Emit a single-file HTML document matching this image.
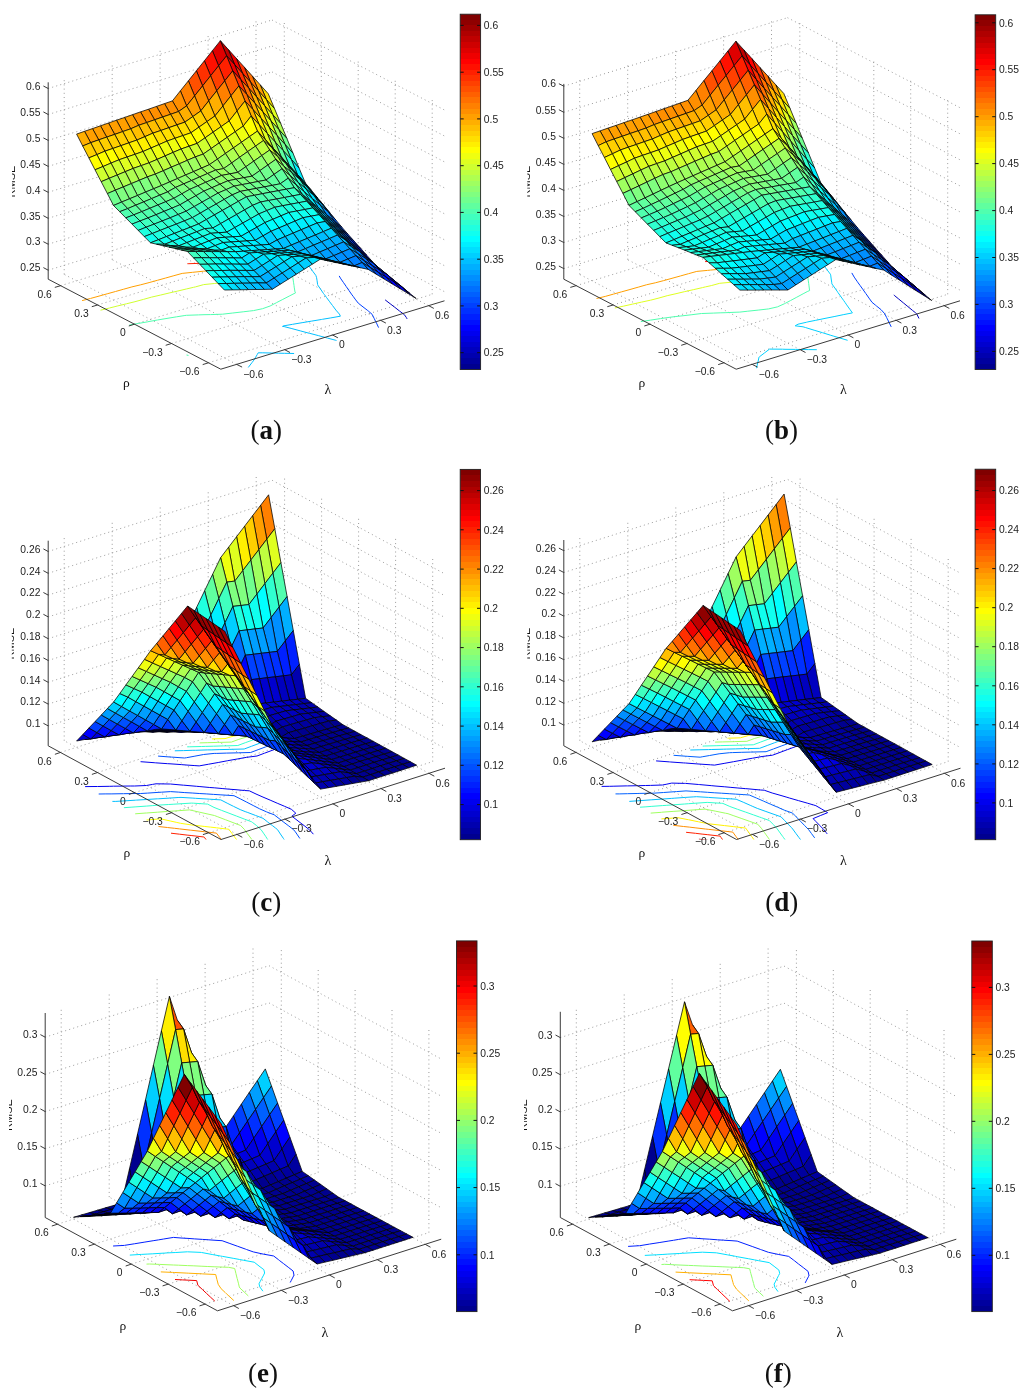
<!DOCTYPE html><html><head><meta charset="utf-8"><style>html,body{margin:0;padding:0;background:#fff;width:1024px;height:1391px;overflow:hidden}svg{display:block}</style></head><body>
<svg style="will-change:transform" width="1024" height="1391" viewBox="0 0 1024 1391">
<path d="M236.7 364.4L64.2 274.4M208.4 362.8L432.2 294.3M64.2 274.4L64.2 77.4M432.2 294.3L432.2 97.4M284.7 349.7L112.2 259.7M171.5 343.5L395.2 275M112.2 259.7L112.2 62.7M395.2 275L395.2 78.1M332.6 335L160.1 245M134.5 324.2L358.2 255.8M160.1 245L160.1 48M358.2 255.8L358.2 58.8M380.6 320.3L208.1 230.3M97.5 305L321.3 236.5M208.1 230.3L208.1 33.4M321.3 236.5L321.3 39.5M428.5 305.6L256 215.6M60.6 285.7L284.3 217.2M256 215.6L256 18.7M284.3 217.2L284.3 20.2M48.2 270.2L272 201.7M272 201.7L444.5 291.7M48.2 244.2L272 175.7M272 175.7L444.5 265.7M48.2 218.3L272 149.8M272 149.8L444.5 239.8M48.2 192.3L272 123.8M272 123.8L444.5 213.8M48.2 166.4L272 97.9M272 97.9L444.5 187.9M48.2 140.4L272 71.9M272 71.9L444.5 161.9M48.2 114.5L272 46M272 46L444.5 136M48.2 88.5L272 20M272 20L444.5 110" stroke="#9a9a9a" stroke-width="1" stroke-dasharray="1 3.2" fill="none"/>
<clipPath id="ca"><rect x="48.2" y="-30.8" width="396.2" height="400"/></clipPath>
<g clip-path="url(#ca)">
<path d="M407.1 318.9 406.4 317.6 404.3 314.6 399.5 311 394.8 307.3 390.1 303.7 385.3 300 385 299.8" stroke="#0000bf" stroke-width="1" fill="none"/>
<path d="M378.6 327.6 376.5 323.1 375.6 321.4 374.3 318.7 372.1 314.3 368.2 310.9 367.7 310.5 363 306.9 358.3 303.2 355.1 299.1 353.2 296.4 352 294.9 349.1 290.7 346.2 286.5 345.9 286 343.3 282.3 340.4 278.1 339.2 275.9" stroke="#0040ff" stroke-width="1" fill="none"/>
<path d="M248.3 367.5 248.3 367.4 251.9 362.7 253.3 360.9 255.3 357.8 257.2 354.6 258.2 352.8 262.8 352.8 271.4 353 278.4 353.2 284.6 353.3 294.1 353.5" stroke="#00bfff" stroke-width="1" fill="none"/>
<path d="M336.5 340.5 335.8 340.3 327.6 338.1 318.7 335.7 310 333.4 309.7 333.4 300.8 331 291.9 328.6 284.2 326.6 282.5 326.4 283.1 326 285.1 325.6 292.6 324.3 302.1 322.7 311.7 321.1 321.3 319.5 322.4 319.3 330.8 317.9 340.4 316.2 339.4 314.1 335.9 310.1 332.8 305.9 332.5 305.5 329.7 301.8 326.6 297.6 324.4 294.6 323.5 293.5 320.6 289.2 317.7 285 317.6 284.5 317 280.2 316.5 277.3 315.8 275.4 312.7 271.2 309.7 267.1 309.7 267.1 306.6 262.9 303.5 258.8 304 257.5" stroke="#00bfff" stroke-width="1" fill="none"/>
<path d="M187.9 355.8 188.3 355.3 186.5 355" stroke="#50ffaf" stroke-width="1" fill="none"/>
<path d="M129.2 325.1 138.6 323.4 147.8 321.8 148 321.7 157.4 320 167 318.4 176.7 316.8 184.9 315.5 186.4 315.3 198.4 314.9 204 314.7 210.4 314.6 222.4 314.2 222.4 314.2 232.8 313 243.2 311.8 249.2 311.1 253.5 310.6 262.6 308.7 270.1 306 276.1 302.9 276.4 302.7 282.8 299.4 289.2 296.1 295.6 292.8 295 292 294.2 287.1 294 285.4 293.5 282.2 292.9 278.2 292.8 277.4 290.9 272.8 288.2 269.2 287.8 268.7 284.8 264.5 286 261.4 287.1 258.7 288.2 255.9 289.3 252.9 290.2 250.4" stroke="#50ffaf" stroke-width="1" fill="none"/>
<path d="M100.5 310.2 109.2 308.1 109.5 308 117.8 305.9 126.4 303.8 135 301.7 143.4 299.4 151.6 297.1 160.4 295.1 169.1 293 177.9 291 186.7 288.9 193.6 287.3 195.4 286.9 203.7 284.6 214.3 283.5 224.9 282.4 226.9 282.2 235.9 281.6 247.1 280.8 248.8 280.6 258.2 279.9 269.3 279.1 268.6 274.6 266.7 271.2 266 270.2 268.1 265.3 268.4 264.4 270.3 259.8 270.8 258.6 272.5 254.3 273 252.8 274.5 248.8 275.1 247.1 276.5 243.2" stroke="#cfff30" stroke-width="1" fill="none"/>
<path d="M82.1 300.6 90.3 298.5 90.7 298.4 99 296.1 107.2 293.8 115.5 291.5 123.7 289.2 131.9 286.9 140.7 284.8 149.1 282.6 157.4 280.3 165.7 278 173.9 275.7 182.2 273.4 192.7 272.3 192.8 272.3 203.4 271.2 214.3 270.3 216.1 270.2 226.3 269.9 234.7 269.6 238.2 269.5 250.1 269.1 252.1 264.3 252.4 263.7 254.5 258.5 254.6 258.2 256.7 252.7 256.7 252.7 258.7 247.2 258.8 247 260.7 241.6 260.9 241.2" stroke="#ff9f00" stroke-width="1" fill="none"/>
<path d="M187.4 263.7 188.9 263.7 200.8 263.3 206.1 263.1 212.8 262.9 224.7 262.5 224.8 262.5 236.6 262.1 238.2 258.4 238.9 256.6 240.4 252.6 241 251.1 242.5 246.8" stroke="#ff2000" stroke-width="1" fill="none"/>
<path d="M214.8 255.3 223.1 255.1 224.1 252.5" stroke="#9f0000" stroke-width="1" fill="none"/>
</g>
<g stroke="#000" stroke-width="0.75" stroke-linejoin="round"><path d="M266.5 99.8L274.5 108.6L268.3 93.8L260.3 84.9Z" fill="#ffdf00"/><path d="M258.5 90.9L266.5 99.8L260.3 84.9L252.4 76.1Z" fill="#ff9f00"/><path d="M272.7 114.6L280.7 123.5L274.5 108.6L266.5 99.8Z" fill="#dfff20"/><path d="M250.5 82.1L258.5 90.9L252.4 76.1L244.4 67.2Z" fill="#ff7000"/><path d="M264.7 105.8L272.7 114.6L266.5 99.8L258.5 90.9Z" fill="#ffdf00"/><path d="M278.8 129.5L286.8 138.3L280.7 123.5L272.7 114.6Z" fill="#afff50"/><path d="M242.5 73.3L250.5 82.1L244.4 67.2L236.4 58.4Z" fill="#ff3000"/><path d="M256.7 97L264.7 105.8L258.5 90.9L250.5 82.1Z" fill="#ff9f00"/><path d="M270.8 120.7L278.8 129.5L272.7 114.6L264.7 105.8Z" fill="#dfff20"/><path d="M285 144.4L293 153.2L286.8 138.3L278.8 129.5Z" fill="#70ff8f"/><path d="M234.5 64.4L242.5 73.3L236.4 58.4L228.4 49.6Z" fill="#ef0000"/><path d="M248.7 88.1L256.7 97L250.5 82.1L242.5 73.3Z" fill="#ff7000"/><path d="M262.8 111.8L270.8 120.7L264.7 105.8L256.7 97Z" fill="#ffdf00"/><path d="M277 135.5L285 144.4L278.8 129.5L270.8 120.7Z" fill="#9fff60"/><path d="M291.2 159.2L299.1 168.1L293 153.2L285 144.4Z" fill="#30ffcf"/><path d="M226.6 55.8L234.5 64.4L228.4 49.6L220.4 40.7Z" fill="#bf0000"/><path d="M240.7 79.5L248.7 88.1L242.5 73.3L234.5 64.4Z" fill="#ff3000"/><path d="M254.9 103.2L262.8 111.8L256.7 97L248.7 88.1Z" fill="#ffaf00"/><path d="M269 126.9L277 135.5L270.8 120.7L262.8 111.8Z" fill="#dfff20"/><path d="M283.2 150.6L291.2 159.2L285 144.4L277 135.5Z" fill="#70ff8f"/><path d="M297.3 174.3L305.3 182.9L299.1 168.1L291.2 159.2Z" fill="#00efff"/><path d="M218.6 65.8L226.6 55.8L220.4 40.7L212.4 50.7Z" fill="#df0000"/><path d="M232.7 70.9L240.7 79.5L234.5 64.4L226.6 55.8Z" fill="#ef0000"/><path d="M246.9 94.6L254.9 103.2L248.7 88.1L240.7 79.5Z" fill="#ff7000"/><path d="M261 118.3L269 126.9L262.8 111.8L254.9 103.2Z" fill="#ffdf00"/><path d="M275.2 142L283.2 150.6L277 135.5L269 126.9Z" fill="#9fff60"/><path d="M289.3 165.6L297.3 174.3L291.2 159.2L283.2 150.6Z" fill="#30ffcf"/><path d="M303.5 181.8L311.5 190.4L305.3 182.9L297.3 174.3Z" fill="#00dfff"/><path d="M210.6 75.8L218.6 65.8L212.4 50.7L204.4 60.8Z" fill="#ff1000"/><path d="M224.7 80.9L232.7 70.9L226.6 55.8L218.6 65.8Z" fill="#ff2000"/><path d="M238.9 85.9L246.9 94.6L240.7 79.5L232.7 70.9Z" fill="#ff3000"/><path d="M253 109.6L261 118.3L254.9 103.2L246.9 94.6Z" fill="#ffaf00"/><path d="M267.2 133.3L275.2 142L269 126.9L261 118.3Z" fill="#dfff20"/><path d="M281.3 157L289.3 165.6L283.2 150.6L275.2 142Z" fill="#60ff9f"/><path d="M295.5 173.1L303.5 181.8L297.3 174.3L289.3 165.6Z" fill="#10ffef"/><path d="M309.6 189.2L317.6 197.9L311.5 190.4L303.5 181.8Z" fill="#00bfff"/><path d="M202.6 85.9L210.6 75.8L204.4 60.8L196.4 70.8Z" fill="#ff3000"/><path d="M216.7 90.9L224.7 80.9L218.6 65.8L210.6 75.8Z" fill="#ff4000"/><path d="M230.9 95.9L238.9 85.9L232.7 70.9L224.7 80.9Z" fill="#ff6000"/><path d="M245 101L253 109.6L246.9 94.6L238.9 85.9Z" fill="#ff7000"/><path d="M259.2 124.7L267.2 133.3L261 118.3L253 109.6Z" fill="#ffef00"/><path d="M273.3 148.4L281.3 157L275.2 142L267.2 133.3Z" fill="#9fff60"/><path d="M194.6 95.9L202.6 85.9L196.4 70.8L188.4 80.8Z" fill="#ff5000"/><path d="M287.5 164.5L295.5 173.1L289.3 165.6L281.3 157Z" fill="#50ffaf"/><path d="M301.6 180.6L309.6 189.2L303.5 181.8L295.5 173.1Z" fill="#00ffff"/><path d="M208.7 100.9L216.7 90.9L210.6 75.8L202.6 85.9Z" fill="#ff7000"/><path d="M315.8 196.7L323.8 205.3L317.6 197.9L309.6 189.2Z" fill="#00afff"/><path d="M222.9 106L230.9 95.9L224.7 80.9L216.7 90.9Z" fill="#ff8000"/><path d="M237 111L245 101L238.9 85.9L230.9 95.9Z" fill="#ff9f00"/><path d="M186.6 105.9L194.6 95.9L188.4 80.8L180.4 90.8Z" fill="#ff8000"/><path d="M251.2 116L259.2 124.7L253 109.6L245 101Z" fill="#ffaf00"/><path d="M265.3 139.7L273.3 148.4L267.2 133.3L259.2 124.7Z" fill="#dfff20"/><path d="M279.5 155.9L287.5 164.5L281.3 157L273.3 148.4Z" fill="#8fff70"/><path d="M200.8 110.9L208.7 100.9L202.6 85.9L194.6 95.9Z" fill="#ff8f00"/><path d="M293.7 172L301.6 180.6L295.5 173.1L287.5 164.5Z" fill="#40ffbf"/><path d="M307.8 188.1L315.8 196.7L309.6 189.2L301.6 180.6Z" fill="#00efff"/><path d="M214.9 116L222.9 106L216.7 90.9L208.7 100.9Z" fill="#ffaf00"/><path d="M322 204.2L329.9 212.8L323.8 205.3L315.8 196.7Z" fill="#009fff"/><path d="M229.1 121L237 111L230.9 95.9L222.9 106Z" fill="#ffbf00"/><path d="M178.6 111.5L186.6 105.9L180.4 90.8L172.4 100.9Z" fill="#ff8f00"/><path d="M243.2 126.1L251.2 116L245 101L237 111Z" fill="#ffcf00"/><path d="M257.4 131.1L265.3 139.7L259.2 124.7L251.2 116Z" fill="#ffef00"/><path d="M192.8 116.6L200.8 110.9L194.6 95.9L186.6 105.9Z" fill="#ff9f00"/><path d="M271.5 147.2L279.5 155.9L273.3 148.4L265.3 139.7Z" fill="#bfff40"/><path d="M285.7 163.3L293.7 172L287.5 164.5L279.5 155.9Z" fill="#70ff8f"/><path d="M206.9 121.6L214.9 116L208.7 100.9L200.8 110.9Z" fill="#ffbf00"/><path d="M299.8 179.4L307.8 188.1L301.6 180.6L293.7 172Z" fill="#20ffdf"/><path d="M221.1 126.6L229.1 121L222.9 106L214.9 116Z" fill="#ffcf00"/><path d="M314 195.5L322 204.2L315.8 196.7L307.8 188.1Z" fill="#00cfff"/><path d="M328.1 211.6L336.1 220.3L329.9 212.8L322 204.2Z" fill="#0080ff"/><path d="M170.6 114.3L178.6 111.5L172.4 100.9L164.5 103.6Z" fill="#ff8f00"/><path d="M235.2 131.7L243.2 126.1L237 111L229.1 121Z" fill="#ffef00"/><path d="M184.8 122.2L192.8 116.6L186.6 105.9L178.6 111.5Z" fill="#ffaf00"/><path d="M249.4 136.7L257.4 131.1L251.2 116L243.2 126.1Z" fill="#ffff00"/><path d="M263.5 140.5L271.5 147.2L265.3 139.7L257.4 131.1Z" fill="#efff10"/><path d="M198.9 127.2L206.9 121.6L200.8 110.9L192.8 116.6Z" fill="#ffcf00"/><path d="M277.7 156.6L285.7 163.3L279.5 155.9L271.5 147.2Z" fill="#9fff60"/><path d="M213.1 132.2L221.1 126.6L214.9 116L206.9 121.6Z" fill="#ffdf00"/><path d="M291.8 172.7L299.8 179.4L293.7 172L285.7 163.3Z" fill="#50ffaf"/><path d="M306 188.9L314 195.5L307.8 188.1L299.8 179.4Z" fill="#00ffff"/><path d="M162.6 117L170.6 114.3L164.5 103.6L156.5 106.4Z" fill="#ff8f00"/><path d="M227.2 137.3L235.2 131.7L229.1 121L221.1 126.6Z" fill="#ffff00"/><path d="M320.1 205L328.1 211.6L322 204.2L314 195.5Z" fill="#00afff"/><path d="M334.3 221.1L342.3 227.7L336.1 220.3L328.1 211.6Z" fill="#0060ff"/><path d="M176.8 124.9L184.8 122.2L178.6 111.5L170.6 114.3Z" fill="#ffaf00"/><path d="M241.4 142.3L249.4 136.7L243.2 126.1L235.2 131.7Z" fill="#efff10"/><path d="M190.9 132.8L198.9 127.2L192.8 116.6L184.8 122.2Z" fill="#ffdf00"/><path d="M255.5 146.1L263.5 140.5L257.4 131.1L249.4 136.7Z" fill="#dfff20"/><path d="M205.1 137.8L213.1 132.2L206.9 121.6L198.9 127.2Z" fill="#ffef00"/><path d="M269.7 150L277.7 156.6L271.5 147.2L263.5 140.5Z" fill="#cfff30"/><path d="M283.8 166.1L291.8 172.7L285.7 163.3L277.7 156.6Z" fill="#80ff80"/><path d="M219.2 142.9L227.2 137.3L221.1 126.6L213.1 132.2Z" fill="#efff10"/><path d="M154.6 119.8L162.6 117L156.5 106.4L148.5 109.2Z" fill="#ff8f00"/><path d="M298 182.2L306 188.9L299.8 179.4L291.8 172.7Z" fill="#30ffcf"/><path d="M312.1 198.3L320.1 205L314 195.5L306 188.9Z" fill="#00dfff"/><path d="M168.8 127.7L176.8 124.9L170.6 114.3L162.6 117Z" fill="#ffbf00"/><path d="M233.4 147.9L241.4 142.3L235.2 131.7L227.2 137.3Z" fill="#dfff20"/><path d="M326.3 214.4L334.3 221.1L328.1 211.6L320.1 205Z" fill="#008fff"/><path d="M182.9 135.6L190.9 132.8L184.8 122.2L176.8 124.9Z" fill="#ffdf00"/><path d="M340.4 228L348.4 234.7L342.3 227.7L334.3 221.1Z" fill="#0050ff"/><path d="M247.5 151.7L255.5 146.1L249.4 136.7L241.4 142.3Z" fill="#cfff30"/><path d="M197.1 143.4L205.1 137.8L198.9 127.2L190.9 132.8Z" fill="#ffff00"/><path d="M261.7 155.6L269.7 150L263.5 140.5L255.5 146.1Z" fill="#bfff40"/><path d="M211.2 148.5L219.2 142.9L213.1 132.2L205.1 137.8Z" fill="#dfff20"/><path d="M275.8 159.4L283.8 166.1L277.7 156.6L269.7 150Z" fill="#afff50"/><path d="M146.6 122.6L154.6 119.8L148.5 109.2L140.5 111.9Z" fill="#ff8f00"/><path d="M290 175.5L298 182.2L291.8 172.7L283.8 166.1Z" fill="#60ff9f"/><path d="M225.4 153.5L233.4 147.9L227.2 137.3L219.2 142.9Z" fill="#cfff30"/><path d="M160.8 130.5L168.8 127.7L162.6 117L154.6 119.8Z" fill="#ffbf00"/><path d="M304.1 191.6L312.1 198.3L306 188.9L298 182.2Z" fill="#10ffef"/><path d="M318.3 207.7L326.3 214.4L320.1 205L312.1 198.3Z" fill="#00bfff"/><path d="M174.9 138.3L182.9 135.6L176.8 124.9L168.8 127.7Z" fill="#ffdf00"/><path d="M239.5 157.3L247.5 151.7L241.4 142.3L233.4 147.9Z" fill="#bfff40"/><path d="M332.4 221.3L340.4 228L334.3 221.1L326.3 214.4Z" fill="#0080ff"/><path d="M189.1 146.2L197.1 143.4L190.9 132.8L182.9 135.6Z" fill="#ffff00"/><path d="M253.7 161.2L261.7 155.6L255.5 146.1L247.5 151.7Z" fill="#afff50"/><path d="M346.6 234.9L354.6 241.6L348.4 234.7L340.4 228Z" fill="#0040ff"/><path d="M203.2 154.1L211.2 148.5L205.1 137.8L197.1 143.4Z" fill="#cfff30"/><path d="M138.7 125.3L146.6 122.6L140.5 111.9L132.5 114.7Z" fill="#ff8f00"/><path d="M267.8 165L275.8 159.4L269.7 150L261.7 155.6Z" fill="#9fff60"/><path d="M217.4 159.1L225.4 153.5L219.2 142.9L211.2 148.5Z" fill="#bfff40"/><path d="M282 168.8L290 175.5L283.8 166.1L275.8 159.4Z" fill="#8fff70"/><path d="M152.8 133.2L160.8 130.5L154.6 119.8L146.6 122.6Z" fill="#ffbf00"/><path d="M296.2 184.9L304.1 191.6L298 182.2L290 175.5Z" fill="#40ffbf"/><path d="M231.6 163L239.5 157.3L233.4 147.9L225.4 153.5Z" fill="#afff50"/><path d="M167 141.1L174.9 138.3L168.8 127.7L160.8 130.5Z" fill="#ffdf00"/><path d="M310.3 201L318.3 207.7L312.1 198.3L304.1 191.6Z" fill="#00efff"/><path d="M324.5 214.6L332.4 221.3L326.3 214.4L318.3 207.7Z" fill="#00afff"/><path d="M181.1 149L189.1 146.2L182.9 135.6L174.9 138.3Z" fill="#ffff00"/><path d="M245.7 166.8L253.7 161.2L247.5 151.7L239.5 157.3Z" fill="#9fff60"/><path d="M338.6 228.2L346.6 234.9L340.4 228L332.4 221.3Z" fill="#0070ff"/><path d="M195.3 156.9L203.2 154.1L197.1 143.4L189.1 146.2Z" fill="#cfff30"/><path d="M259.9 170.6L267.8 165L261.7 155.6L253.7 161.2Z" fill="#8fff70"/><path d="M130.7 128.8L138.7 125.3L132.5 114.7L124.5 117.5Z" fill="#ff9f00"/><path d="M352.8 241.8L360.8 248.5L354.6 241.6L346.6 234.9Z" fill="#0030ff"/><path d="M209.4 164.7L217.4 159.1L211.2 148.5L203.2 154.1Z" fill="#afff50"/><path d="M144.8 136.7L152.8 133.2L146.6 122.6L138.7 125.3Z" fill="#ffbf00"/><path d="M274 174.4L282 168.8L275.8 159.4L267.8 165Z" fill="#80ff80"/><path d="M223.6 168.6L231.6 163L225.4 153.5L217.4 159.1Z" fill="#9fff60"/><path d="M159 144.6L167 141.1L160.8 130.5L152.8 133.2Z" fill="#ffdf00"/><path d="M288.2 178.2L296.2 184.9L290 175.5L282 168.8Z" fill="#70ff8f"/><path d="M302.3 194.3L310.3 201L304.1 191.6L296.2 184.9Z" fill="#20ffdf"/><path d="M173.1 152.4L181.1 149L174.9 138.3L167 141.1Z" fill="#efff10"/><path d="M237.7 172.4L245.7 166.8L239.5 157.3L231.6 163Z" fill="#8fff70"/><path d="M316.5 207.9L324.5 214.6L318.3 207.7L310.3 201Z" fill="#00dfff"/><path d="M187.3 160.3L195.3 156.9L189.1 146.2L181.1 149Z" fill="#cfff30"/><path d="M330.6 221.6L338.6 228.2L332.4 221.3L324.5 214.6Z" fill="#009fff"/><path d="M251.9 176.2L259.9 170.6L253.7 161.2L245.7 166.8Z" fill="#80ff80"/><path d="M122.7 131.6L130.7 128.8L124.5 117.5L116.5 120.2Z" fill="#ff9f00"/><path d="M344.8 235.2L352.8 241.8L346.6 234.9L338.6 228.2Z" fill="#0060ff"/><path d="M201.4 168.2L209.4 164.7L203.2 154.1L195.3 156.9Z" fill="#afff50"/><path d="M266 180L274 174.4L267.8 165L259.9 170.6Z" fill="#70ff8f"/><path d="M136.8 140.1L144.8 136.7L138.7 125.3L130.7 128.8Z" fill="#ffbf00"/><path d="M358.9 248.8L366.9 255.4L360.8 248.5L352.8 241.8Z" fill="#0010ff"/><path d="M215.6 170.1L223.6 168.6L217.4 159.1L209.4 164.7Z" fill="#9fff60"/><path d="M151 148L159 144.6L152.8 133.2L144.8 136.7Z" fill="#ffef00"/><path d="M280.2 183.8L288.2 178.2L282 168.8L274 174.4Z" fill="#60ff9f"/><path d="M229.7 173.9L237.7 172.4L231.6 163L223.6 168.6Z" fill="#8fff70"/><path d="M165.1 155.9L173.1 152.4L167 141.1L159 144.6Z" fill="#efff10"/><path d="M294.3 187.7L302.3 194.3L296.2 184.9L288.2 178.2Z" fill="#50ffaf"/><path d="M308.5 201.3L316.5 207.9L310.3 201L302.3 194.3Z" fill="#10ffef"/><path d="M179.3 163.8L187.3 160.3L181.1 149L173.1 152.4Z" fill="#cfff30"/><path d="M243.9 177.7L251.9 176.2L245.7 166.8L237.7 172.4Z" fill="#80ff80"/><path d="M114.7 134.4L122.7 131.6L116.5 120.2L108.5 123Z" fill="#ff9f00"/><path d="M322.6 214.9L330.6 221.6L324.5 214.6L316.5 207.9Z" fill="#00cfff"/><path d="M193.4 171.7L201.4 168.2L195.3 156.9L187.3 160.3Z" fill="#9fff60"/><path d="M336.8 228.5L344.8 235.2L338.6 228.2L330.6 221.6Z" fill="#008fff"/><path d="M258 181.5L266 180L259.9 170.6L251.9 176.2Z" fill="#70ff8f"/><path d="M128.8 142.9L136.8 140.1L130.7 128.8L122.7 131.6Z" fill="#ffcf00"/><path d="M350.9 242.1L358.9 248.8L352.8 241.8L344.8 235.2Z" fill="#0040ff"/><path d="M207.6 173.5L215.6 170.1L209.4 164.7L201.4 168.2Z" fill="#9fff60"/><path d="M143 151.5L151 148L144.8 136.7L136.8 140.1Z" fill="#ffef00"/><path d="M272.2 185.4L280.2 183.8L274 174.4L266 180Z" fill="#60ff9f"/><path d="M365.1 255.7L373.1 262.4L366.9 255.4L358.9 248.8Z" fill="#0000ff"/><path d="M221.7 175.4L229.7 173.9L223.6 168.6L215.6 170.1Z" fill="#9fff60"/><path d="M157.1 159.4L165.1 155.9L159 144.6L151 148Z" fill="#efff10"/><path d="M286.3 189.2L294.3 187.7L288.2 178.2L280.2 183.8Z" fill="#50ffaf"/><path d="M171.3 167.2L179.3 163.8L173.1 152.4L165.1 155.9Z" fill="#bfff40"/><path d="M235.9 179.2L243.9 177.7L237.7 172.4L229.7 173.9Z" fill="#8fff70"/><path d="M300.5 194.4L308.5 201.3L302.3 194.3L294.3 187.7Z" fill="#40ffbf"/><path d="M106.7 137.1L114.7 134.4L108.5 123L100.5 125.8Z" fill="#ff9f00"/><path d="M314.6 208L322.6 214.9L316.5 207.9L308.5 201.3Z" fill="#00ffff"/><path d="M185.4 175.1L193.4 171.7L187.3 160.3L179.3 163.8Z" fill="#9fff60"/><path d="M250 183.1L258 181.5L251.9 176.2L243.9 177.7Z" fill="#80ff80"/><path d="M120.8 145.7L128.8 142.9L122.7 131.6L114.7 134.4Z" fill="#ffcf00"/><path d="M328.8 221.6L336.8 228.5L330.6 221.6L322.6 214.9Z" fill="#00bfff"/><path d="M199.6 177L207.6 173.5L201.4 168.2L193.4 171.7Z" fill="#9fff60"/><path d="M135 154.3L143 151.5L136.8 140.1L128.8 142.9Z" fill="#ffef00"/><path d="M342.9 235.2L350.9 242.1L344.8 235.2L336.8 228.5Z" fill="#0070ff"/><path d="M264.2 186.9L272.2 185.4L266 180L258 181.5Z" fill="#70ff8f"/><path d="M357.1 248.8L365.1 255.7L358.9 248.8L350.9 242.1Z" fill="#0030ff"/><path d="M149.1 162.8L157.1 159.4L151 148L143 151.5Z" fill="#dfff20"/><path d="M213.7 178.9L221.7 175.4L215.6 170.1L207.6 173.5Z" fill="#8fff70"/><path d="M278.3 190.7L286.3 189.2L280.2 183.8L272.2 185.4Z" fill="#60ff9f"/><path d="M371.2 262.4L379.2 269.3L373.1 262.4L365.1 255.7Z" fill="#0000ef"/><path d="M163.3 170.7L171.3 167.2L165.1 155.9L157.1 159.4Z" fill="#bfff40"/><path d="M227.9 180.8L235.9 179.2L229.7 173.9L221.7 175.4Z" fill="#8fff70"/><path d="M98.7 139.9L106.7 137.1L100.5 125.8L92.5 128.6Z" fill="#ff9f00"/><path d="M292.5 195.9L300.5 194.4L294.3 187.7L286.3 189.2Z" fill="#40ffbf"/><path d="M177.4 178.6L185.4 175.1L179.3 163.8L171.3 167.2Z" fill="#9fff60"/><path d="M306.6 201.2L314.6 208L308.5 201.3L300.5 194.4Z" fill="#30ffcf"/><path d="M242 184.6L250 183.1L243.9 177.7L235.9 179.2Z" fill="#80ff80"/><path d="M112.8 148.5L120.8 145.7L114.7 134.4L106.7 137.1Z" fill="#ffcf00"/><path d="M191.6 180.5L199.6 177L193.4 171.7L185.4 175.1Z" fill="#8fff70"/><path d="M320.8 214.8L328.8 221.6L322.6 214.9L314.6 208Z" fill="#00efff"/><path d="M127 157L135 154.3L128.8 142.9L120.8 145.7Z" fill="#ffef00"/><path d="M256.2 188.4L264.2 186.9L258 181.5L250 183.1Z" fill="#70ff8f"/><path d="M334.9 228.4L342.9 235.2L336.8 228.5L328.8 221.6Z" fill="#009fff"/><path d="M141.2 165.6L149.1 162.8L143 151.5L135 154.3Z" fill="#dfff20"/><path d="M205.7 182.3L213.7 178.9L207.6 173.5L199.6 177Z" fill="#8fff70"/><path d="M349.1 242L357.1 248.8L350.9 242.1L342.9 235.2Z" fill="#0060ff"/><path d="M270.3 192.2L278.3 190.7L272.2 185.4L264.2 186.9Z" fill="#60ff9f"/><path d="M155.3 174.1L163.3 170.7L157.1 159.4L149.1 162.8Z" fill="#bfff40"/><path d="M363.2 255.6L371.2 262.4L365.1 255.7L357.1 248.8Z" fill="#0020ff"/><path d="M219.9 184.2L227.9 180.8L221.7 175.4L213.7 178.9Z" fill="#8fff70"/><path d="M90.7 142.7L98.7 139.9L92.5 128.6L84.5 131.3Z" fill="#ff9f00"/><path d="M284.5 197.5L292.5 195.9L286.3 189.2L278.3 190.7Z" fill="#40ffbf"/><path d="M377.4 267.3L385.4 274.2L379.2 269.3L371.2 262.4Z" fill="#0000ef"/><path d="M169.5 182L177.4 178.6L171.3 167.2L163.3 170.7Z" fill="#8fff70"/><path d="M104.9 151.2L112.8 148.5L106.7 137.1L98.7 139.9Z" fill="#ffcf00"/><path d="M234.1 186.1L242 184.6L235.9 179.2L227.9 180.8Z" fill="#80ff80"/><path d="M298.7 202.7L306.6 201.2L300.5 194.4L292.5 195.9Z" fill="#30ffcf"/><path d="M183.6 183.9L191.6 180.5L185.4 175.1L177.4 178.6Z" fill="#8fff70"/><path d="M119 159.8L127 157L120.8 145.7L112.8 148.5Z" fill="#ffef00"/><path d="M312.8 207.9L320.8 214.8L314.6 208L306.6 201.2Z" fill="#20ffdf"/><path d="M248.2 189.9L256.2 188.4L250 183.1L242 184.6Z" fill="#70ff8f"/><path d="M327 221.5L334.9 228.4L328.8 221.6L320.8 214.8Z" fill="#00cfff"/><path d="M197.8 185.8L205.7 182.3L199.6 177L191.6 180.5Z" fill="#8fff70"/><path d="M133.2 168.4L141.2 165.6L135 154.3L127 157Z" fill="#dfff20"/><path d="M262.4 193.7L270.3 192.2L264.2 186.9L256.2 188.4Z" fill="#60ff9f"/><path d="M341.1 235.2L349.1 242L342.9 235.2L334.9 228.4Z" fill="#008fff"/><path d="M147.3 176.9L155.3 174.1L149.1 162.8L141.2 165.6Z" fill="#bfff40"/><path d="M211.9 187.7L219.9 184.2L213.7 178.9L205.7 182.3Z" fill="#80ff80"/><path d="M355.3 248.8L363.2 255.6L357.1 248.8L349.1 242Z" fill="#0050ff"/><path d="M82.7 146L90.7 142.7L84.5 131.3L76.6 134.1Z" fill="#ffaf00"/><path d="M276.5 199L284.5 197.5L278.3 190.7L270.3 192.2Z" fill="#50ffaf"/><path d="M161.5 185.5L169.5 182L163.3 170.7L155.3 174.1Z" fill="#8fff70"/><path d="M369.4 260.5L377.4 267.3L371.2 262.4L363.2 255.6Z" fill="#0020ff"/><path d="M96.9 154.6L104.9 151.2L98.7 139.9L90.7 142.7Z" fill="#ffcf00"/><path d="M226.1 189.6L234.1 186.1L227.9 180.8L219.9 184.2Z" fill="#80ff80"/><path d="M290.7 204.2L298.7 202.7L292.5 195.9L284.5 197.5Z" fill="#30ffcf"/><path d="M175.6 187.4L183.6 183.9L177.4 178.6L169.5 182Z" fill="#8fff70"/><path d="M383.6 272.2L391.6 279L385.4 274.2L377.4 267.3Z" fill="#0000df"/><path d="M111 163.1L119 159.8L112.8 148.5L104.9 151.2Z" fill="#ffff00"/><path d="M240.2 191.4L248.2 189.9L242 184.6L234.1 186.1Z" fill="#80ff80"/><path d="M304.8 209.5L312.8 207.9L306.6 201.2L298.7 202.7Z" fill="#20ffdf"/><path d="M189.8 189.3L197.8 185.8L191.6 180.5L183.6 183.9Z" fill="#80ff80"/><path d="M125.2 171.7L133.2 168.4L127 157L119 159.8Z" fill="#dfff20"/><path d="M319 214.7L327 221.5L320.8 214.8L312.8 207.9Z" fill="#00ffff"/><path d="M254.4 195.3L262.4 193.7L256.2 188.4L248.2 189.9Z" fill="#70ff8f"/><path d="M139.3 180.3L147.3 176.9L141.2 165.6L133.2 168.4Z" fill="#afff50"/><path d="M333.1 228.3L341.1 235.2L334.9 228.4L327 221.5Z" fill="#00bfff"/><path d="M203.9 191.1L211.9 187.7L205.7 182.3L197.8 185.8Z" fill="#80ff80"/><path d="M268.5 200.5L276.5 199L270.3 192.2L262.4 193.7Z" fill="#50ffaf"/><path d="M347.3 241.9L355.3 248.8L349.1 242L341.1 235.2Z" fill="#0080ff"/><path d="M153.5 188.8L161.5 185.5L155.3 174.1L147.3 176.9Z" fill="#8fff70"/><path d="M88.9 157.9L96.9 154.6L90.7 142.7L82.7 146Z" fill="#ffcf00"/><path d="M218.1 193L226.1 189.6L219.9 184.2L211.9 187.7Z" fill="#80ff80"/><path d="M361.4 253.6L369.4 260.5L363.2 255.6L355.3 248.8Z" fill="#0050ff"/><path d="M282.7 205.7L290.7 204.2L284.5 197.5L276.5 199Z" fill="#40ffbf"/><path d="M167.6 191.9L175.6 187.4L169.5 182L161.5 185.5Z" fill="#80ff80"/><path d="M103 166.5L111 163.1L104.9 151.2L96.9 154.6Z" fill="#ffff00"/><path d="M375.6 265.3L383.6 272.2L377.4 267.3L369.4 260.5Z" fill="#0010ff"/><path d="M232.2 194.9L240.2 191.4L234.1 186.1L226.1 189.6Z" fill="#70ff8f"/><path d="M296.8 211L304.8 209.5L298.7 202.7L290.7 204.2Z" fill="#20ffdf"/><path d="M181.8 193.8L189.8 189.3L183.6 183.9L175.6 187.4Z" fill="#80ff80"/><path d="M389.7 277L397.7 283.9L391.6 279L383.6 272.2Z" fill="#0000cf"/><path d="M117.2 175L125.2 171.7L119 159.8L111 163.1Z" fill="#cfff30"/><path d="M246.4 196.8L254.4 195.3L248.2 189.9L240.2 191.4Z" fill="#70ff8f"/><path d="M311 216.2L319 214.7L312.8 207.9L304.8 209.5Z" fill="#10ffef"/><path d="M131.3 183.6L139.3 180.3L133.2 168.4L125.2 171.7Z" fill="#afff50"/><path d="M195.9 195.7L203.9 191.1L197.8 185.8L189.8 189.3Z" fill="#70ff8f"/><path d="M325.1 221.5L333.1 228.3L327 221.5L319 214.7Z" fill="#00efff"/><path d="M260.5 202L268.5 200.5L262.4 193.7L254.4 195.3Z" fill="#50ffaf"/><path d="M145.5 192.1L153.5 188.8L147.3 176.9L139.3 180.3Z" fill="#80ff80"/><path d="M339.3 235.1L347.3 241.9L341.1 235.2L333.1 228.3Z" fill="#00afff"/><path d="M210.1 197.6L218.1 193L211.9 187.7L203.9 191.1Z" fill="#70ff8f"/><path d="M274.7 207.3L282.7 205.7L276.5 199L268.5 200.5Z" fill="#40ffbf"/><path d="M159.6 195.2L167.6 191.9L161.5 185.5L153.5 188.8Z" fill="#80ff80"/><path d="M353.4 246.8L361.4 253.6L355.3 248.8L347.3 241.9Z" fill="#0080ff"/><path d="M95 169.8L103 166.5L96.9 154.6L88.9 157.9Z" fill="#ffff00"/><path d="M224.2 199.4L232.2 194.9L226.1 189.6L218.1 193Z" fill="#70ff8f"/><path d="M367.6 258.5L375.6 265.3L369.4 260.5L361.4 253.6Z" fill="#0040ff"/><path d="M288.8 212.5L296.8 211L290.7 204.2L282.7 205.7Z" fill="#20ffdf"/><path d="M173.8 198.3L181.8 193.8L175.6 187.4L167.6 191.9Z" fill="#70ff8f"/><path d="M109.2 178.3L117.2 175L111 163.1L103 166.5Z" fill="#cfff30"/><path d="M381.7 270.2L389.7 277L383.6 272.2L375.6 265.3Z" fill="#0000ff"/><path d="M238.4 201.3L246.4 196.8L240.2 191.4L232.2 194.9Z" fill="#60ff9f"/><path d="M303 217.7L311 216.2L304.8 209.5L296.8 211Z" fill="#10ffef"/><path d="M123.3 186.9L131.3 183.6L125.2 171.7L117.2 175Z" fill="#afff50"/><path d="M187.9 200.2L195.9 195.7L189.8 189.3L181.8 193.8Z" fill="#70ff8f"/><path d="M395.9 281.9L403.9 288.8L397.7 283.9L389.7 277Z" fill="#0000cf"/><path d="M252.5 205.4L260.5 202L254.4 195.3L246.4 196.8Z" fill="#50ffaf"/><path d="M317.1 223L325.1 221.5L319 214.7L311 216.2Z" fill="#00ffff"/><path d="M137.5 195.5L145.5 192.1L139.3 180.3L131.3 183.6Z" fill="#80ff80"/><path d="M202.1 202.1L210.1 197.6L203.9 191.1L195.9 195.7Z" fill="#60ff9f"/><path d="M331.3 228.2L339.3 235.1L333.1 228.3L325.1 221.5Z" fill="#00dfff"/><path d="M266.7 210.6L274.7 207.3L268.5 200.5L260.5 202Z" fill="#40ffbf"/><path d="M151.6 198.6L159.6 195.2L153.5 188.8L145.5 192.1Z" fill="#70ff8f"/><path d="M345.4 239.9L353.4 246.8L347.3 241.9L339.3 235.1Z" fill="#00afff"/><path d="M216.2 204L224.2 199.4L218.1 193L210.1 197.6Z" fill="#60ff9f"/><path d="M280.8 215.9L288.8 212.5L282.7 205.7L274.7 207.3Z" fill="#20ffdf"/><path d="M165.8 201.7L173.8 198.3L167.6 191.9L159.6 195.2Z" fill="#70ff8f"/><path d="M101.2 181.7L109.2 178.3L103 166.5L95 169.8Z" fill="#cfff30"/><path d="M359.6 251.6L367.6 258.5L361.4 253.6L353.4 246.8Z" fill="#0070ff"/><path d="M230.4 205.9L238.4 201.3L232.2 194.9L224.2 199.4Z" fill="#50ffaf"/><path d="M295 221.1L303 217.7L296.8 211L288.8 212.5Z" fill="#10ffef"/><path d="M373.7 263.4L381.7 270.2L375.6 265.3L367.6 258.5Z" fill="#0030ff"/><path d="M115.3 190.2L123.3 186.9L117.2 175L109.2 178.3Z" fill="#9fff60"/><path d="M179.9 204.8L187.9 200.2L181.8 193.8L173.8 198.3Z" fill="#60ff9f"/><path d="M387.9 275.1L395.9 281.9L389.7 277L381.7 270.2Z" fill="#0000ff"/><path d="M244.5 209.9L252.5 205.4L246.4 196.8L238.4 201.3Z" fill="#40ffbf"/><path d="M309.1 226.4L317.1 223L311 216.2L303 217.7Z" fill="#00efff"/><path d="M129.5 198.8L137.5 195.5L131.3 183.6L123.3 186.9Z" fill="#80ff80"/><path d="M194.1 206.6L202.1 202.1L195.9 195.7L187.9 200.2Z" fill="#60ff9f"/><path d="M402 286.8L410 293.6L403.9 288.8L395.9 281.9Z" fill="#0000bf"/><path d="M258.7 214L266.7 210.6L260.5 202L252.5 205.4Z" fill="#30ffcf"/><path d="M323.3 231.6L331.3 228.2L325.1 221.5L317.1 223Z" fill="#00dfff"/><path d="M143.7 201.9L151.6 198.6L145.5 192.1L137.5 195.5Z" fill="#70ff8f"/><path d="M208.2 208.5L216.2 204L210.1 197.6L202.1 202.1Z" fill="#50ffaf"/><path d="M337.4 235.1L345.4 239.9L339.3 235.1L331.3 228.2Z" fill="#00cfff"/><path d="M272.8 219.3L280.8 215.9L274.7 207.3L266.7 210.6Z" fill="#20ffdf"/><path d="M157.8 205L165.8 201.7L159.6 195.2L151.6 198.6Z" fill="#60ff9f"/><path d="M351.6 246.8L359.6 251.6L353.4 246.8L345.4 239.9Z" fill="#008fff"/><path d="M222.4 210.4L230.4 205.9L224.2 199.4L216.2 204Z" fill="#50ffaf"/><path d="M287 224.5L295 221.1L288.8 212.5L280.8 215.9Z" fill="#00ffff"/><path d="M107.4 193.6L115.3 190.2L109.2 178.3L101.2 181.7Z" fill="#9fff60"/><path d="M172 208.1L179.9 204.8L173.8 198.3L165.8 201.7Z" fill="#60ff9f"/><path d="M365.8 258.5L373.7 263.4L367.6 258.5L359.6 251.6Z" fill="#0060ff"/><path d="M236.6 214.5L244.5 209.9L238.4 201.3L230.4 205.9Z" fill="#40ffbf"/><path d="M301.2 229.7L309.1 226.4L303 217.7L295 221.1Z" fill="#00efff"/><path d="M121.5 202.1L129.5 198.8L123.3 186.9L115.3 190.2Z" fill="#80ff80"/><path d="M379.9 270.2L387.9 275.1L381.7 270.2L373.7 263.4Z" fill="#0020ff"/><path d="M186.1 211.2L194.1 206.6L187.9 200.2L179.9 204.8Z" fill="#50ffaf"/><path d="M250.7 218.6L258.7 214L252.5 205.4L244.5 209.9Z" fill="#30ffcf"/><path d="M394.1 281.9L402 286.8L395.9 281.9L387.9 275.1Z" fill="#0000ef"/><path d="M315.3 235L323.3 231.6L317.1 223L309.1 226.4Z" fill="#00dfff"/><path d="M135.7 205.2L143.7 201.9L137.5 195.5L129.5 198.8Z" fill="#70ff8f"/><path d="M200.3 213.1L208.2 208.5L202.1 202.1L194.1 206.6Z" fill="#40ffbf"/><path d="M408.2 293.6L416.2 298.5L410 293.6L402 286.8Z" fill="#0000af"/><path d="M264.9 222.6L272.8 219.3L266.7 210.6L258.7 214Z" fill="#20ffdf"/><path d="M329.5 238.5L337.4 235.1L331.3 228.2L323.3 231.6Z" fill="#00cfff"/><path d="M149.8 208.3L157.8 205L151.6 198.6L143.7 201.9Z" fill="#60ff9f"/><path d="M214.4 214.9L222.4 210.4L216.2 204L208.2 208.5Z" fill="#40ffbf"/><path d="M279 227.9L287 224.5L280.8 215.9L272.8 219.3Z" fill="#00ffff"/><path d="M343.6 241.9L351.6 246.8L345.4 239.9L337.4 235.1Z" fill="#00bfff"/><path d="M164 211.4L172 208.1L165.8 201.7L157.8 205Z" fill="#50ffaf"/><path d="M357.8 253.6L365.8 258.5L359.6 251.6L351.6 246.8Z" fill="#0080ff"/><path d="M228.6 219L236.6 214.5L230.4 205.9L222.4 210.4Z" fill="#30ffcf"/><path d="M293.2 233.1L301.2 229.7L295 221.1L287 224.5Z" fill="#00efff"/><path d="M113.5 205.5L121.5 202.1L115.3 190.2L107.4 193.6Z" fill="#70ff8f"/><path d="M178.1 214.5L186.1 211.2L179.9 204.8L172 208.1Z" fill="#50ffaf"/><path d="M371.9 265.4L379.9 270.2L373.7 263.4L365.8 258.5Z" fill="#0050ff"/><path d="M242.7 223.1L250.7 218.6L244.5 209.9L236.6 214.5Z" fill="#20ffdf"/><path d="M307.3 238.4L315.3 235L309.1 226.4L301.2 229.7Z" fill="#00cfff"/><path d="M127.7 208.6L135.7 205.2L129.5 198.8L121.5 202.1Z" fill="#70ff8f"/><path d="M386.1 277.1L394.1 281.9L387.9 275.1L379.9 270.2Z" fill="#0010ff"/><path d="M192.3 217.6L200.3 213.1L194.1 206.6L186.1 211.2Z" fill="#40ffbf"/><path d="M256.9 227.2L264.9 222.6L258.7 214L250.7 218.6Z" fill="#10ffef"/><path d="M400.2 288.8L408.2 293.6L402 286.8L394.1 281.9Z" fill="#0000df"/><path d="M321.5 241.8L329.5 238.5L323.3 231.6L315.3 235Z" fill="#00bfff"/><path d="M141.8 211.6L149.8 208.3L143.7 201.9L135.7 205.2Z" fill="#60ff9f"/><path d="M206.4 219.5L214.4 214.9L208.2 208.5L200.3 213.1Z" fill="#30ffcf"/><path d="M271 231.3L279 227.9L272.8 219.3L264.9 222.6Z" fill="#00ffff"/><path d="M335.6 245.3L343.6 241.9L337.4 235.1L329.5 238.5Z" fill="#00afff"/><path d="M156 214.7L164 211.4L157.8 205L149.8 208.3Z" fill="#50ffaf"/><path d="M220.6 223.6L228.6 219L222.4 210.4L214.4 214.9Z" fill="#20ffdf"/><path d="M285.2 236.5L293.2 233.1L287 224.5L279 227.9Z" fill="#00dfff"/><path d="M349.8 248.8L357.8 253.6L351.6 246.8L343.6 241.9Z" fill="#00afff"/><path d="M170.1 217.8L178.1 214.5L172 208.1L164 211.4Z" fill="#40ffbf"/><path d="M234.7 227.6L242.7 223.1L236.6 214.5L228.6 219Z" fill="#10ffef"/><path d="M363.9 260.5L371.9 265.4L365.8 258.5L357.8 253.6Z" fill="#0070ff"/><path d="M299.3 241.7L307.3 238.4L301.2 229.7L293.2 233.1Z" fill="#00cfff"/><path d="M119.7 211.7L127.7 208.6L121.5 202.1L113.5 205.5Z" fill="#60ff9f"/><path d="M184.3 220.9L192.3 217.6L186.1 211.2L178.1 214.5Z" fill="#40ffbf"/><path d="M378.1 272.2L386.1 277.1L379.9 270.2L371.9 265.4Z" fill="#0030ff"/><path d="M248.9 231.7L256.9 227.2L250.7 218.6L242.7 223.1Z" fill="#00ffff"/><path d="M313.5 245.2L321.5 241.8L315.3 235L307.3 238.4Z" fill="#00bfff"/><path d="M133.8 214.8L141.8 211.6L135.7 205.2L127.7 208.6Z" fill="#60ff9f"/><path d="M392.2 283.9L400.2 288.8L394.1 281.9L386.1 277.1Z" fill="#0000ff"/><path d="M198.4 224L206.4 219.5L200.3 213.1L192.3 217.6Z" fill="#30ffcf"/><path d="M263 235.8L271 231.3L264.9 222.6L256.9 227.2Z" fill="#00efff"/><path d="M327.6 248.7L335.6 245.3L329.5 238.5L321.5 241.8Z" fill="#00afff"/><path d="M148 217.9L156 214.7L149.8 208.3L141.8 211.6Z" fill="#50ffaf"/><path d="M212.6 228.1L220.6 223.6L214.4 214.9L206.4 219.5Z" fill="#20ffdf"/><path d="M277.2 239.9L285.2 236.5L279 227.9L271 231.3Z" fill="#00dfff"/><path d="M341.8 252.2L349.8 248.8L343.6 241.9L335.6 245.3Z" fill="#009fff"/><path d="M162.1 221L170.1 217.8L164 211.4L156 214.7Z" fill="#40ffbf"/><path d="M226.7 232.2L234.7 227.6L228.6 219L220.6 223.6Z" fill="#10ffef"/><path d="M291.3 245.1L299.3 241.7L293.2 233.1L285.2 236.5Z" fill="#00cfff"/><path d="M355.9 255.7L363.9 260.5L357.8 253.6L349.8 248.8Z" fill="#008fff"/><path d="M176.3 224.1L184.3 220.9L178.1 214.5L170.1 217.8Z" fill="#30ffcf"/><path d="M240.9 236.3L248.9 231.7L242.7 223.1L234.7 227.6Z" fill="#00ffff"/><path d="M370.1 267.4L378.1 272.2L371.9 265.4L363.9 260.5Z" fill="#0060ff"/><path d="M305.5 248.6L313.5 245.2L307.3 238.4L299.3 241.7Z" fill="#00bfff"/><path d="M125.8 217.9L133.8 214.8L127.7 208.6L119.7 211.7Z" fill="#50ffaf"/><path d="M190.4 227.2L198.4 224L192.3 217.6L184.3 220.9Z" fill="#30ffcf"/><path d="M384.2 279.1L392.2 283.9L386.1 277.1L378.1 272.2Z" fill="#0020ff"/><path d="M255 240.3L263 235.8L256.9 227.2L248.9 231.7Z" fill="#00dfff"/><path d="M319.6 252.1L327.6 248.7L321.5 241.8L313.5 245.2Z" fill="#00afff"/><path d="M140 221L148 217.9L141.8 211.6L133.8 214.8Z" fill="#50ffaf"/><path d="M204.6 228.6L212.6 228.1L206.4 219.5L198.4 224Z" fill="#20ffdf"/><path d="M269.2 244.4L277.2 239.9L271 231.3L263 235.8Z" fill="#00cfff"/><path d="M333.8 255.6L341.8 252.2L335.6 245.3L327.6 248.7Z" fill="#009fff"/><path d="M154.1 224.1L162.1 221L156 214.7L148 217.9Z" fill="#40ffbf"/><path d="M218.7 232.7L226.7 232.2L220.6 223.6L212.6 228.1Z" fill="#10ffef"/><path d="M283.3 248.5L291.3 245.1L285.2 236.5L277.2 239.9Z" fill="#00bfff"/><path d="M347.9 259L355.9 255.7L349.8 248.8L341.8 252.2Z" fill="#008fff"/><path d="M168.3 227.2L176.3 224.1L170.1 217.8L162.1 221Z" fill="#30ffcf"/><path d="M232.9 236.8L240.9 236.3L234.7 227.6L226.7 232.2Z" fill="#00ffff"/><path d="M297.5 252L305.5 248.6L299.3 241.7L291.3 245.1Z" fill="#00afff"/><path d="M362.1 262.5L370.1 267.4L363.9 260.5L355.9 255.7Z" fill="#0080ff"/><path d="M182.4 230.3L190.4 227.2L184.3 220.9L176.3 224.1Z" fill="#20ffdf"/><path d="M247 240.9L255 240.3L248.9 231.7L240.9 236.3Z" fill="#00efff"/><path d="M376.2 274.2L384.2 279.1L378.1 272.2L370.1 267.4Z" fill="#0050ff"/><path d="M311.6 255.5L319.6 252.1L313.5 245.2L305.5 248.6Z" fill="#00afff"/><path d="M132 224.1L140 221L133.8 214.8L125.8 217.9Z" fill="#40ffbf"/><path d="M196.6 231.8L204.6 228.6L198.4 224L190.4 227.2Z" fill="#20ffdf"/><path d="M261.2 245L269.2 244.4L263 235.8L255 240.3Z" fill="#00dfff"/><path d="M325.8 258.9L333.8 255.6L327.6 248.7L319.6 252.1Z" fill="#009fff"/><path d="M146.2 227.2L154.1 224.1L148 217.9L140 221Z" fill="#40ffbf"/><path d="M210.8 233.3L218.7 232.7L212.6 228.1L204.6 228.6Z" fill="#20ffdf"/><path d="M275.3 249L283.3 248.5L277.2 239.9L269.2 244.4Z" fill="#00cfff"/><path d="M339.9 262.4L347.9 259L341.8 252.2L333.8 255.6Z" fill="#008fff"/><path d="M160.3 230.3L168.3 227.2L162.1 221L154.1 224.1Z" fill="#30ffcf"/><path d="M224.9 237.3L232.9 236.8L226.7 232.2L218.7 232.7Z" fill="#10ffef"/><path d="M289.5 250.3L297.5 252L291.3 245.1L283.3 248.5Z" fill="#00cfff"/><path d="M354.1 265.9L362.1 262.5L355.9 255.7L347.9 259Z" fill="#0080ff"/><path d="M174.5 233.4L182.4 230.3L176.3 224.1L168.3 227.2Z" fill="#20ffdf"/><path d="M239.1 241.4L247 240.9L240.9 236.3L232.9 236.8Z" fill="#00ffff"/><path d="M303.7 253.8L311.6 255.5L305.5 248.6L297.5 252Z" fill="#00bfff"/><path d="M368.2 269.4L376.2 274.2L370.1 267.4L362.1 262.5Z" fill="#0070ff"/><path d="M188.6 234.9L196.6 231.8L190.4 227.2L182.4 230.3Z" fill="#20ffdf"/><path d="M253.2 245.5L261.2 245L255 240.3L247 240.9Z" fill="#00efff"/><path d="M317.8 257.2L325.8 258.9L319.6 252.1L311.6 255.5Z" fill="#00afff"/><path d="M138.2 230.4L146.2 227.2L140 221L132 224.1Z" fill="#30ffcf"/><path d="M202.8 236.4L210.8 233.3L204.6 228.6L196.6 231.8Z" fill="#20ffdf"/><path d="M267.4 249.6L275.3 249L269.2 244.4L261.2 245Z" fill="#00dfff"/><path d="M332 260.7L339.9 262.4L333.8 255.6L325.8 258.9Z" fill="#009fff"/><path d="M152.3 233.5L160.3 230.3L154.1 224.1L146.2 227.2Z" fill="#30ffcf"/><path d="M216.9 237.9L224.9 237.3L218.7 232.7L210.8 233.3Z" fill="#10ffef"/><path d="M281.5 250.8L289.5 250.3L283.3 248.5L275.3 249Z" fill="#00cfff"/><path d="M346.1 264.2L354.1 265.9L347.9 259L339.9 262.4Z" fill="#008fff"/><path d="M166.5 236.5L174.5 233.4L168.3 227.2L160.3 230.3Z" fill="#20ffdf"/><path d="M231.1 242L239.1 241.4L232.9 236.8L224.9 237.3Z" fill="#00ffff"/><path d="M295.7 252.1L303.7 253.8L297.5 252L289.5 250.3Z" fill="#00cfff"/><path d="M360.3 267.7L368.2 269.4L362.1 262.5L354.1 265.9Z" fill="#0080ff"/><path d="M180.6 238L188.6 234.9L182.4 230.3L174.5 233.4Z" fill="#20ffdf"/><path d="M245.2 246L253.2 245.5L247 240.9L239.1 241.4Z" fill="#00efff"/><path d="M309.8 255.5L317.8 257.2L311.6 255.5L303.7 253.8Z" fill="#00bfff"/><path d="M194.8 239.5L202.8 236.4L196.6 231.8L188.6 234.9Z" fill="#10ffef"/><path d="M259.4 250.1L267.4 249.6L261.2 245L253.2 245.5Z" fill="#00dfff"/><path d="M144.3 236.6L152.3 233.5L146.2 227.2L138.2 230.4Z" fill="#20ffdf"/><path d="M324 259L332 260.7L325.8 258.9L317.8 257.2Z" fill="#00afff"/><path d="M208.9 241L216.9 237.9L210.8 233.3L202.8 236.4Z" fill="#10ffef"/><path d="M273.5 251.4L281.5 250.8L275.3 249L267.4 249.6Z" fill="#00dfff"/><path d="M158.5 239.7L166.5 236.5L160.3 230.3L152.3 233.5Z" fill="#20ffdf"/><path d="M338.1 262.5L346.1 264.2L339.9 262.4L332 260.7Z" fill="#00afff"/><path d="M223.1 242.5L231.1 242L224.9 237.3L216.9 237.9Z" fill="#10ffef"/><path d="M287.7 252.6L295.7 252.1L289.5 250.3L281.5 250.8Z" fill="#00dfff"/><path d="M352.3 266L360.3 267.7L354.1 265.9L346.1 264.2Z" fill="#009fff"/><path d="M172.6 241.2L180.6 238L174.5 233.4L166.5 236.5Z" fill="#10ffef"/><path d="M237.2 246.6L245.2 246L239.1 241.4L231.1 242Z" fill="#00ffff"/><path d="M301.8 253.8L309.8 255.5L303.7 253.8L295.7 252.1Z" fill="#00dfff"/><path d="M186.8 242.6L194.8 239.5L188.6 234.9L180.6 238Z" fill="#10ffef"/><path d="M251.4 250.6L259.4 250.1L253.2 245.5L245.2 246Z" fill="#00efff"/><path d="M316 257.3L324 259L317.8 257.2L309.8 255.5Z" fill="#00cfff"/><path d="M200.9 244.1L208.9 241L202.8 236.4L194.8 239.5Z" fill="#10ffef"/><path d="M265.5 251.9L273.5 251.4L267.4 249.6L259.4 250.1Z" fill="#00efff"/><path d="M150.5 242.8L158.5 239.7L152.3 233.5L144.3 236.6Z" fill="#10ffef"/><path d="M330.1 260.8L338.1 262.5L332 260.7L324 259Z" fill="#00bfff"/><path d="M215.1 245.6L223.1 242.5L216.9 237.9L208.9 241Z" fill="#10ffef"/><path d="M279.7 253.1L287.7 252.6L281.5 250.8L273.5 251.4Z" fill="#00dfff"/><path d="M164.6 244.3L172.6 241.2L166.5 236.5L158.5 239.7Z" fill="#10ffef"/><path d="M344.3 264.3L352.3 266L346.1 264.2L338.1 262.5Z" fill="#00afff"/><path d="M229.2 247.1L237.2 246.6L231.1 242L223.1 242.5Z" fill="#00ffff"/><path d="M293.8 254.4L301.8 253.8L295.7 252.1L287.7 252.6Z" fill="#00dfff"/><path d="M178.8 245.8L186.8 242.6L180.6 238L172.6 241.2Z" fill="#10ffef"/><path d="M243.4 251.2L251.4 250.6L245.2 246L237.2 246.6Z" fill="#00efff"/><path d="M308 255.6L316 257.3L309.8 255.5L301.8 253.8Z" fill="#00dfff"/><path d="M192.9 247.3L200.9 244.1L194.8 239.5L186.8 242.6Z" fill="#10ffef"/><path d="M257.5 252.4L265.5 251.9L259.4 250.1L251.4 250.6Z" fill="#00efff"/><path d="M322.1 259.1L330.1 260.8L324 259L316 257.3Z" fill="#00cfff"/><path d="M207.1 248.7L215.1 245.6L208.9 241L200.9 244.1Z" fill="#00ffff"/><path d="M271.7 253.7L279.7 253.1L273.5 251.4L265.5 251.9Z" fill="#00efff"/><path d="M156.6 244.2L164.6 244.3L158.5 239.7L150.5 242.8Z" fill="#20ffdf"/><path d="M336.3 262.6L344.3 264.3L338.1 262.5L330.1 260.8Z" fill="#00bfff"/><path d="M221.2 250.2L229.2 247.1L223.1 242.5L215.1 245.6Z" fill="#00ffff"/><path d="M285.8 254.9L293.8 254.4L287.7 252.6L279.7 253.1Z" fill="#00efff"/><path d="M170.8 245.7L178.8 245.8L172.6 241.2L164.6 244.3Z" fill="#20ffdf"/><path d="M235.4 251.7L243.4 251.2L237.2 246.6L229.2 247.1Z" fill="#00ffff"/><path d="M300 256.2L308 255.6L301.8 253.8L293.8 254.4Z" fill="#00efff"/><path d="M184.9 247.2L192.9 247.3L186.8 242.6L178.8 245.8Z" fill="#20ffdf"/><path d="M249.5 253L257.5 252.4L251.4 250.6L243.4 251.2Z" fill="#00ffff"/><path d="M314.1 257.4L322.1 259.1L316 257.3L308 255.6Z" fill="#00efff"/><path d="M199.1 248.7L207.1 248.7L200.9 244.1L192.9 247.3Z" fill="#10ffef"/><path d="M263.7 254.2L271.7 253.7L265.5 251.9L257.5 252.4Z" fill="#00ffff"/><path d="M328.3 260.9L336.3 262.6L330.1 260.8L322.1 259.1Z" fill="#00dfff"/><path d="M213.2 250.2L221.2 250.2L215.1 245.6L207.1 248.7Z" fill="#10ffef"/><path d="M277.8 255.5L285.8 254.9L279.7 253.1L271.7 253.7Z" fill="#00ffff"/><path d="M162.8 245.7L170.8 245.7L164.6 244.3L156.6 244.2Z" fill="#30ffcf"/><path d="M227.4 251.7L235.4 251.7L229.2 247.1L221.2 250.2Z" fill="#10ffef"/><path d="M292 256.7L300 256.2L293.8 254.4L285.8 254.9Z" fill="#00efff"/><path d="M177 247.2L184.9 247.2L178.8 245.8L170.8 245.7Z" fill="#20ffdf"/><path d="M241.6 258L249.5 253L243.4 251.2L235.4 251.7Z" fill="#00efff"/><path d="M306.2 257.9L314.1 257.4L308 255.6L300 256.2Z" fill="#00efff"/><path d="M191.1 248.7L199.1 248.7L192.9 247.3L184.9 247.2Z" fill="#20ffdf"/><path d="M255.7 259.2L263.7 254.2L257.5 252.4L249.5 253Z" fill="#00efff"/><path d="M320.3 259.2L328.3 260.9L322.1 259.1L314.1 257.4Z" fill="#00efff"/><path d="M205.3 250.1L213.2 250.2L207.1 248.7L199.1 248.7Z" fill="#20ffdf"/><path d="M269.9 260.5L277.8 255.5L271.7 253.7L263.7 254.2Z" fill="#00efff"/><path d="M219.4 251.6L227.4 251.7L221.2 250.2L213.2 250.2Z" fill="#20ffdf"/><path d="M284 261.7L292 256.7L285.8 254.9L277.8 255.5Z" fill="#00efff"/><path d="M169 247.1L177 247.2L170.8 245.7L162.8 245.7Z" fill="#30ffcf"/><path d="M233.6 257.9L241.6 258L235.4 251.7L227.4 251.7Z" fill="#00ffff"/><path d="M298.2 262.9L306.2 257.9L300 256.2L292 256.7Z" fill="#00dfff"/><path d="M183.1 248.6L191.1 248.7L184.9 247.2L177 247.2Z" fill="#30ffcf"/><path d="M247.7 264.2L255.7 259.2L249.5 253L241.6 258Z" fill="#00dfff"/><path d="M312.3 264.2L320.3 259.2L314.1 257.4L306.2 257.9Z" fill="#00dfff"/><path d="M197.3 250.1L205.3 250.1L199.1 248.7L191.1 248.7Z" fill="#30ffcf"/><path d="M261.9 265.5L269.9 260.5L263.7 254.2L255.7 259.2Z" fill="#00dfff"/><path d="M211.4 251.6L219.4 251.6L213.2 250.2L205.3 250.1Z" fill="#20ffdf"/><path d="M276 266.7L284 261.7L277.8 255.5L269.9 260.5Z" fill="#00dfff"/><path d="M225.6 257.9L233.6 257.9L227.4 251.7L219.4 251.6Z" fill="#10ffef"/><path d="M290.2 268L298.2 262.9L292 256.7L284 261.7Z" fill="#00dfff"/><path d="M175.1 248.6L183.1 248.6L177 247.2L169 247.1Z" fill="#40ffbf"/><path d="M239.7 264.2L247.7 264.2L241.6 258L233.6 257.9Z" fill="#00efff"/><path d="M304.3 269.2L312.3 264.2L306.2 257.9L298.2 262.9Z" fill="#00cfff"/><path d="M189.3 250.1L197.3 250.1L191.1 248.7L183.1 248.6Z" fill="#30ffcf"/><path d="M253.9 270.5L261.9 265.5L255.7 259.2L247.7 264.2Z" fill="#00cfff"/><path d="M203.4 251.5L211.4 251.6L205.3 250.1L197.3 250.1Z" fill="#30ffcf"/><path d="M268 271.7L276 266.7L269.9 260.5L261.9 265.5Z" fill="#00cfff"/><path d="M217.6 257.8L225.6 257.9L219.4 251.6L211.4 251.6Z" fill="#10ffef"/><path d="M282.2 273L290.2 268L284 261.7L276 266.7Z" fill="#00cfff"/><path d="M231.7 264.1L239.7 264.2L233.6 257.9L225.6 257.9Z" fill="#00ffff"/><path d="M296.3 274.2L304.3 269.2L298.2 262.9L290.2 268Z" fill="#00cfff"/><path d="M181.3 250L189.3 250.1L183.1 248.6L175.1 248.6Z" fill="#40ffbf"/><path d="M245.9 270.4L253.9 270.5L247.7 264.2L239.7 264.2Z" fill="#00dfff"/><path d="M260 276.7L268 271.7L261.9 265.5L253.9 270.5Z" fill="#00bfff"/><path d="M195.4 251.5L203.4 251.5L197.3 250.1L189.3 250.1Z" fill="#40ffbf"/><path d="M209.6 257.8L217.6 257.8L211.4 251.6L203.4 251.5Z" fill="#20ffdf"/><path d="M274.2 278L282.2 273L276 266.7L268 271.7Z" fill="#00bfff"/><path d="M223.7 264.1L231.7 264.1L225.6 257.9L217.6 257.8Z" fill="#00ffff"/><path d="M288.3 279.2L296.3 274.2L290.2 268L282.2 273Z" fill="#00bfff"/><path d="M237.9 270.4L245.9 270.4L239.7 264.2L231.7 264.1Z" fill="#00efff"/><path d="M252 276.7L260 276.7L253.9 270.5L245.9 270.4Z" fill="#00cfff"/><path d="M187.4 251.5L195.4 251.5L189.3 250.1L181.3 250Z" fill="#50ffaf"/><path d="M266.2 283L274.2 278L268 271.7L260 276.7Z" fill="#00afff"/><path d="M201.6 257.7L209.6 257.8L203.4 251.5L195.4 251.5Z" fill="#30ffcf"/><path d="M215.8 264L223.7 264.1L217.6 257.8L209.6 257.8Z" fill="#10ffef"/><path d="M280.3 284.2L288.3 279.2L282.2 273L274.2 278Z" fill="#00afff"/><path d="M229.9 270.3L237.9 270.4L231.7 264.1L223.7 264.1Z" fill="#00efff"/><path d="M244.1 276.6L252 276.7L245.9 270.4L237.9 270.4Z" fill="#00dfff"/><path d="M258.2 282.9L266.2 283L260 276.7L252 276.7Z" fill="#00bfff"/><path d="M193.6 257.9L201.6 257.7L195.4 251.5L187.4 251.5Z" fill="#40ffbf"/><path d="M272.4 289.2L280.3 284.2L274.2 278L266.2 283Z" fill="#009fff"/><path d="M207.8 264.2L215.8 264L209.6 257.8L201.6 257.7Z" fill="#20ffdf"/><path d="M221.9 270.5L229.9 270.3L223.7 264.1L215.8 264Z" fill="#00ffff"/><path d="M236.1 276.8L244.1 276.6L237.9 270.4L229.9 270.3Z" fill="#00dfff"/><path d="M250.2 283.1L258.2 282.9L252 276.7L244.1 276.6Z" fill="#00cfff"/><path d="M264.4 289.4L272.4 289.2L266.2 283L258.2 282.9Z" fill="#00afff"/><path d="M199.8 264.3L207.8 264.2L201.6 257.7L193.6 257.9Z" fill="#30ffcf"/><path d="M213.9 270.6L221.9 270.5L215.8 264L207.8 264.2Z" fill="#10ffef"/><path d="M228.1 276.9L236.1 276.8L229.9 270.3L221.9 270.5Z" fill="#00efff"/><path d="M242.2 283.2L250.2 283.1L244.1 276.6L236.1 276.8Z" fill="#00cfff"/><path d="M256.4 289.5L264.4 289.4L258.2 282.9L250.2 283.1Z" fill="#00bfff"/><path d="M205.9 270.7L213.9 270.6L207.8 264.2L199.8 264.3Z" fill="#20ffdf"/><path d="M220.1 277L228.1 276.9L221.9 270.5L213.9 270.6Z" fill="#00ffff"/><path d="M234.2 283.3L242.2 283.2L236.1 276.8L228.1 276.9Z" fill="#00dfff"/><path d="M248.4 289.6L256.4 289.5L250.2 283.1L242.2 283.2Z" fill="#00bfff"/><path d="M212.1 277.2L220.1 277L213.9 270.6L205.9 270.7Z" fill="#10ffef"/><path d="M226.2 283.5L234.2 283.3L228.1 276.9L220.1 277Z" fill="#00efff"/><path d="M240.4 289.8L248.4 289.6L242.2 283.2L234.2 283.3Z" fill="#00cfff"/><path d="M218.2 283.6L226.2 283.5L220.1 277L212.1 277.2Z" fill="#00ffff"/><path d="M232.4 289.9L240.4 289.8L234.2 283.3L226.2 283.5Z" fill="#00dfff"/><path d="M224.4 290L232.4 289.9L226.2 283.5L218.2 283.6Z" fill="#00efff"/></g>
<path d="M48.2 279.2L48.2 82.3M48.2 279.2L220.8 369.2L444.5 300.8M208.4 362.8L202.7 364.6M236.7 364.4L242.1 367.1M171.5 343.5L165.7 345.3M284.7 349.7L290 352.5M134.5 324.2L128.8 326M332.6 335L337.9 337.8M97.5 305L91.8 306.7M380.6 320.3L385.9 323.1M60.6 285.7L54.8 287.4M428.5 305.6L433.8 308.4M48.2 270.2L43.4 267.6M48.2 244.2L43.4 241.7M48.2 218.3L43.4 215.7M48.2 192.3L43.4 189.8M48.2 166.4L43.4 163.8M48.2 140.4L43.4 137.9M48.2 114.5L43.4 111.9M48.2 88.5L43.4 86" stroke="#303030" stroke-width="0.95" fill="none"/>
<linearGradient id="ga" x1="0" y1="0" x2="0" y2="1"><stop offset="0.0000" stop-color="#800000"/><stop offset="0.0156" stop-color="#800000"/><stop offset="0.0156" stop-color="#8f0000"/><stop offset="0.0312" stop-color="#8f0000"/><stop offset="0.0312" stop-color="#9f0000"/><stop offset="0.0469" stop-color="#9f0000"/><stop offset="0.0469" stop-color="#af0000"/><stop offset="0.0625" stop-color="#af0000"/><stop offset="0.0625" stop-color="#bf0000"/><stop offset="0.0781" stop-color="#bf0000"/><stop offset="0.0781" stop-color="#cf0000"/><stop offset="0.0938" stop-color="#cf0000"/><stop offset="0.0938" stop-color="#df0000"/><stop offset="0.1094" stop-color="#df0000"/><stop offset="0.1094" stop-color="#ef0000"/><stop offset="0.1250" stop-color="#ef0000"/><stop offset="0.1250" stop-color="#ff0000"/><stop offset="0.1406" stop-color="#ff0000"/><stop offset="0.1406" stop-color="#ff1000"/><stop offset="0.1562" stop-color="#ff1000"/><stop offset="0.1562" stop-color="#ff2000"/><stop offset="0.1719" stop-color="#ff2000"/><stop offset="0.1719" stop-color="#ff3000"/><stop offset="0.1875" stop-color="#ff3000"/><stop offset="0.1875" stop-color="#ff4000"/><stop offset="0.2031" stop-color="#ff4000"/><stop offset="0.2031" stop-color="#ff5000"/><stop offset="0.2188" stop-color="#ff5000"/><stop offset="0.2188" stop-color="#ff6000"/><stop offset="0.2344" stop-color="#ff6000"/><stop offset="0.2344" stop-color="#ff7000"/><stop offset="0.2500" stop-color="#ff7000"/><stop offset="0.2500" stop-color="#ff8000"/><stop offset="0.2656" stop-color="#ff8000"/><stop offset="0.2656" stop-color="#ff8f00"/><stop offset="0.2812" stop-color="#ff8f00"/><stop offset="0.2812" stop-color="#ff9f00"/><stop offset="0.2969" stop-color="#ff9f00"/><stop offset="0.2969" stop-color="#ffaf00"/><stop offset="0.3125" stop-color="#ffaf00"/><stop offset="0.3125" stop-color="#ffbf00"/><stop offset="0.3281" stop-color="#ffbf00"/><stop offset="0.3281" stop-color="#ffcf00"/><stop offset="0.3438" stop-color="#ffcf00"/><stop offset="0.3438" stop-color="#ffdf00"/><stop offset="0.3594" stop-color="#ffdf00"/><stop offset="0.3594" stop-color="#ffef00"/><stop offset="0.3750" stop-color="#ffef00"/><stop offset="0.3750" stop-color="#ffff00"/><stop offset="0.3906" stop-color="#ffff00"/><stop offset="0.3906" stop-color="#efff10"/><stop offset="0.4062" stop-color="#efff10"/><stop offset="0.4062" stop-color="#dfff20"/><stop offset="0.4219" stop-color="#dfff20"/><stop offset="0.4219" stop-color="#cfff30"/><stop offset="0.4375" stop-color="#cfff30"/><stop offset="0.4375" stop-color="#bfff40"/><stop offset="0.4531" stop-color="#bfff40"/><stop offset="0.4531" stop-color="#afff50"/><stop offset="0.4688" stop-color="#afff50"/><stop offset="0.4688" stop-color="#9fff60"/><stop offset="0.4844" stop-color="#9fff60"/><stop offset="0.4844" stop-color="#8fff70"/><stop offset="0.5000" stop-color="#8fff70"/><stop offset="0.5000" stop-color="#80ff80"/><stop offset="0.5156" stop-color="#80ff80"/><stop offset="0.5156" stop-color="#70ff8f"/><stop offset="0.5312" stop-color="#70ff8f"/><stop offset="0.5312" stop-color="#60ff9f"/><stop offset="0.5469" stop-color="#60ff9f"/><stop offset="0.5469" stop-color="#50ffaf"/><stop offset="0.5625" stop-color="#50ffaf"/><stop offset="0.5625" stop-color="#40ffbf"/><stop offset="0.5781" stop-color="#40ffbf"/><stop offset="0.5781" stop-color="#30ffcf"/><stop offset="0.5938" stop-color="#30ffcf"/><stop offset="0.5938" stop-color="#20ffdf"/><stop offset="0.6094" stop-color="#20ffdf"/><stop offset="0.6094" stop-color="#10ffef"/><stop offset="0.6250" stop-color="#10ffef"/><stop offset="0.6250" stop-color="#00ffff"/><stop offset="0.6406" stop-color="#00ffff"/><stop offset="0.6406" stop-color="#00efff"/><stop offset="0.6562" stop-color="#00efff"/><stop offset="0.6562" stop-color="#00dfff"/><stop offset="0.6719" stop-color="#00dfff"/><stop offset="0.6719" stop-color="#00cfff"/><stop offset="0.6875" stop-color="#00cfff"/><stop offset="0.6875" stop-color="#00bfff"/><stop offset="0.7031" stop-color="#00bfff"/><stop offset="0.7031" stop-color="#00afff"/><stop offset="0.7188" stop-color="#00afff"/><stop offset="0.7188" stop-color="#009fff"/><stop offset="0.7344" stop-color="#009fff"/><stop offset="0.7344" stop-color="#008fff"/><stop offset="0.7500" stop-color="#008fff"/><stop offset="0.7500" stop-color="#0080ff"/><stop offset="0.7656" stop-color="#0080ff"/><stop offset="0.7656" stop-color="#0070ff"/><stop offset="0.7812" stop-color="#0070ff"/><stop offset="0.7812" stop-color="#0060ff"/><stop offset="0.7969" stop-color="#0060ff"/><stop offset="0.7969" stop-color="#0050ff"/><stop offset="0.8125" stop-color="#0050ff"/><stop offset="0.8125" stop-color="#0040ff"/><stop offset="0.8281" stop-color="#0040ff"/><stop offset="0.8281" stop-color="#0030ff"/><stop offset="0.8438" stop-color="#0030ff"/><stop offset="0.8438" stop-color="#0020ff"/><stop offset="0.8594" stop-color="#0020ff"/><stop offset="0.8594" stop-color="#0010ff"/><stop offset="0.8750" stop-color="#0010ff"/><stop offset="0.8750" stop-color="#0000ff"/><stop offset="0.8906" stop-color="#0000ff"/><stop offset="0.8906" stop-color="#0000ef"/><stop offset="0.9062" stop-color="#0000ef"/><stop offset="0.9062" stop-color="#0000df"/><stop offset="0.9219" stop-color="#0000df"/><stop offset="0.9219" stop-color="#0000cf"/><stop offset="0.9375" stop-color="#0000cf"/><stop offset="0.9375" stop-color="#0000bf"/><stop offset="0.9531" stop-color="#0000bf"/><stop offset="0.9531" stop-color="#0000af"/><stop offset="0.9688" stop-color="#0000af"/><stop offset="0.9688" stop-color="#00009f"/><stop offset="0.9844" stop-color="#00009f"/><stop offset="0.9844" stop-color="#00008f"/><stop offset="1.0000" stop-color="#00008f"/></linearGradient>
<rect x="460.2" y="14.2" width="20.4" height="355.3" fill="url(#ga)"/>
<path d="M460.2 352.7h3.5M480.6 352.7h-3.5M460.2 305.9h3.5M480.6 305.9h-3.5M460.2 259.2h3.5M480.6 259.2h-3.5M460.2 212.4h3.5M480.6 212.4h-3.5M460.2 165.7h3.5M480.6 165.7h-3.5M460.2 118.9h3.5M480.6 118.9h-3.5M460.2 72.2h3.5M480.6 72.2h-3.5M460.2 25.4h3.5M480.6 25.4h-3.5" stroke="#111" stroke-width="1" fill="none"/>
<rect x="460.2" y="14.2" width="20.4" height="355.3" fill="none" stroke="#222" stroke-width="0.9"/>
<g font-family="Liberation Sans" font-size="10.3" fill="#222"><text x="199.6" y="375" text-anchor="end">−0.6</text><text x="243.2" y="377.6">−0.6</text><text x="162.7" y="355.7" text-anchor="end">−0.3</text><text x="291.2" y="362.9">−0.3</text><text x="125.7" y="336.4" text-anchor="end">0</text><text x="339.1" y="348.2">0</text><text x="88.7" y="317.2" text-anchor="end">0.3</text><text x="387.1" y="333.5">0.3</text><text x="51.8" y="297.9" text-anchor="end">0.6</text><text x="435" y="318.8">0.6</text><text x="40.4" y="271.4" text-anchor="end">0.25</text><text x="40.4" y="245.4" text-anchor="end">0.3</text><text x="40.4" y="219.5" text-anchor="end">0.35</text><text x="40.4" y="193.5" text-anchor="end">0.4</text><text x="40.4" y="167.6" text-anchor="end">0.45</text><text x="40.4" y="141.6" text-anchor="end">0.5</text><text x="40.4" y="115.7" text-anchor="end">0.55</text><text x="40.4" y="89.7" text-anchor="end">0.6</text><text x="483.8" y="356.4">0.25</text><text x="483.8" y="309.6">0.3</text><text x="483.8" y="262.9">0.35</text><text x="483.8" y="216.1">0.4</text><text x="483.8" y="169.4">0.45</text><text x="483.8" y="122.6">0.5</text><text x="483.8" y="75.9">0.55</text><text x="483.8" y="29.1">0.6</text></g>
<text x="123" y="386.7" font-family="Liberation Serif" font-size="13.5" fill="#111">ρ</text>
<text x="324.5" y="393.7" font-family="Liberation Serif" font-size="14" fill="#111">λ</text>
<clipPath id="ra"><rect x="12" y="151.5" width="6" height="60"/></clipPath>
<g clip-path="url(#ra)"><text transform="translate(14.6 181.5) rotate(-90)" text-anchor="middle" font-family="Liberation Sans" font-size="11" fill="#111">RMSE</text></g>
<text x="266.3" y="438.9" text-anchor="middle" font-family="Liberation Serif" font-size="27" fill="#111">(<tspan font-weight="bold">a</tspan>)</text>
<path d="M752.2 364.4L579.7 274.4M723.9 362.8L947.7 294.3M579.7 274.4L579.7 79M947.7 294.3L947.7 98.9M800.2 349.7L627.7 259.7M687 343.5L910.7 275M627.7 259.7L627.7 64.3M910.7 275L910.7 79.7M848.1 335L675.6 245M650 324.2L873.8 255.8M675.6 245L675.6 49.6M873.8 255.8L873.8 60.4M896.1 320.3L723.6 230.3M613 305L836.8 236.5M723.6 230.3L723.6 34.9M836.8 236.5L836.8 41.1M944 305.6L771.5 215.6M576.1 285.7L799.8 217.2M771.5 215.6L771.5 20.3M799.8 217.2L799.8 21.8M563.8 268.6L787.5 200.1M787.5 200.1L960 290.1M563.8 242.5L787.5 174M787.5 174L960 264M563.8 216.5L787.5 148M787.5 148L960 238M563.8 190.4L787.5 121.9M787.5 121.9L960 211.9M563.8 164.4L787.5 95.9M787.5 95.9L960 185.9M563.8 138.3L787.5 69.8M787.5 69.8L960 159.8M563.8 112.3L787.5 43.8M787.5 43.8L960 133.8M563.8 86.2L787.5 17.7M787.5 17.7L960 107.7" stroke="#9a9a9a" stroke-width="1" stroke-dasharray="1 3.2" fill="none"/>
<clipPath id="cb"><rect x="563.8" y="-30.8" width="396.2" height="400"/></clipPath>
<g clip-path="url(#cb)">
<path d="M919 318.5 916.8 314 915.3 312.6 912.4 310.3 907.9 306.6 903.4 302.9 898.8 299.1 894.3 295.4 893.9 294.8" stroke="#0000bf" stroke-width="1" fill="none"/>
<path d="M891.2 327 891 326.4 889.1 322.5 886.9 318.1 886.6 317.5 884.7 313.7 881.1 309.7 876.5 306 875.4 305.1 872 302.3 869 298.1 866.1 293.9 865.7 293.4 863.1 289.7 860.1 285.5 858.2 282.9 857.1 281.3 854.2 277.1 851.8 272.9" stroke="#0040ff" stroke-width="1" fill="none"/>
<path d="M756.5 368.2 757.7 362.8 757.8 362.7 759 357.2 759.3 356.9 764.4 353 769.5 349.1 782.6 349.2 785 349.3 795.6 349.4 800.9 349.5 808.7 349.6 816.8 349.7" stroke="#00cfff" stroke-width="1" fill="none"/>
<path d="M847.6 340.3 839.2 337.8 833.2 336 830.8 335.3 822.5 332.7 814.1 330.2 805.7 327.6 803 326.8 795.2 325.8 798 324.2 806.7 322.2 807.8 321.9 815.8 320.3 825 318.4 834.1 316.6 843.2 314.7 852.4 312.9 849.7 309.1 846.7 304.9 845 302.4 843.8 300.7 840.8 296.5 837.8 292.3 837.6 291.9 834.9 288.1 831.9 283.9 831.7 282.2 831.2 279 830.7 275.1 830.4 274.2 827.3 270.1 824.1 265.9 823.1 264.5 821 261.8 817.9 257.6 818.6 255.6" stroke="#00cfff" stroke-width="1" fill="none"/>
<path d="M640.8 321.6 643.5 321.2 650.7 320.1 660.5 318.6 670.4 317.2 675.1 316.6 680.8 316 691.1 314.8 701.5 313.5 701.9 313.5 713.3 313.1 720.9 312.8 725.1 312.7 737 312.2 739.8 312.1 747.8 311.2 758.2 310.1 766.1 309.2 768.6 308.9 777.4 306.9 784.3 303.8 785.3 303.3 790.6 300.5 796.8 297.2 803.1 293.8 807.8 291.3 809.6 290.6 809 285.9 808.7 283.5 808.3 280.9 807.7 276.4 807.7 276 806 271.5 802.8 267.3 802.7 267.1 799.7 263.2 800.8 259.5 801.5 257.5 802.7 253.9 803.5 251.8 804.8 248.4" stroke="#50ffaf" stroke-width="1" fill="none"/>
<path d="M614.8 308 623.7 306.1 632.6 304.1 633 304 641.6 302.1 650.5 300.2 659 298 667.2 295.7 676 293.7 684.8 291.6 693.7 289.6 702.5 287.6 705.4 286.9 711.3 285.6 719.7 283.3 730.3 282.3 740.5 281.3 741 281.3 752 280.4 762.9 279.4 763.4 279.4 773.8 278.5 784.7 277.6 784.1 273.1 782.3 269.7 781.5 268.7 783.2 263.6 783.3 263.1 785 257.9 785.1 257.5 786.9 252.3 787.1 251.8 789 246.7 789.2 246 791.1 241.2" stroke="#dfff20" stroke-width="1" fill="none"/>
<path d="M596.5 298.5 605.3 296.4 613.5 294.1 621.7 291.8 630 289.5 637 287.5 638.2 287.2 646.4 284.8 655.3 282.8 663.7 280.6 672 278.3 680.3 276 688.5 273.7 696.8 271.4 707.5 270.4 710.4 270.1 718.2 269.4 729.5 268.6 732.3 268.5 741.5 268.3 750.7 268 753.5 267.9 765.5 267.6 766.9 263 767.3 261.9 768.7 257.4 769.1 256.2 770.6 251.7 771 250.6 772.8 245.9 773.1 245.1 775 240.2" stroke="#ff9f00" stroke-width="1" fill="none"/>
<path d="M705.1 261.6 715.4 261.3 723.5 261 727.4 260.9 739.4 260.6 741.9 260.5 751.4 260.2 752.3 257.3 753.2 254.5 754.2 251.6 755.2 248.9 756.3 245.9" stroke="#ff1000" stroke-width="1" fill="none"/>
<path d="M733.1 253 737.3 252.8 737.7 251.6" stroke="#8f0000" stroke-width="1" fill="none"/>
</g>
<g stroke="#000" stroke-width="0.75" stroke-linejoin="round"><path d="M782 99.7L790 108.4L783.8 93.5L775.8 84.8Z" fill="#ffdf00"/><path d="M774 91L782 99.7L775.8 84.8L767.9 76.1Z" fill="#ff9f00"/><path d="M788.2 114.6L796.2 123.3L790 108.4L782 99.7Z" fill="#dfff20"/><path d="M766 82.2L774 91L767.9 76.1L759.9 67.4Z" fill="#ff7000"/><path d="M780.2 105.8L788.2 114.6L782 99.7L774 91Z" fill="#ffdf00"/><path d="M794.3 129.4L802.3 138.2L796.2 123.3L788.2 114.6Z" fill="#9fff60"/><path d="M758 73.5L766 82.2L759.9 67.4L751.9 58.6Z" fill="#ff3000"/><path d="M772.2 97.1L780.2 105.8L774 91L766 82.2Z" fill="#ffaf00"/><path d="M786.3 120.7L794.3 129.4L788.2 114.6L780.2 105.8Z" fill="#dfff20"/><path d="M800.5 144.3L808.5 153L802.3 138.2L794.3 129.4Z" fill="#70ff8f"/><path d="M750 64.8L758 73.5L751.9 58.6L743.9 49.9Z" fill="#ff0000"/><path d="M764.2 88.4L772.2 97.1L766 82.2L758 73.5Z" fill="#ff7000"/><path d="M778.3 112L786.3 120.7L780.2 105.8L772.2 97.1Z" fill="#ffdf00"/><path d="M792.5 135.6L800.5 144.3L794.3 129.4L786.3 120.7Z" fill="#9fff60"/><path d="M806.7 159.2L814.6 167.9L808.5 153L800.5 144.3Z" fill="#30ffcf"/><path d="M742.1 55.8L750 64.8L743.9 49.9L735.9 41.2Z" fill="#bf0000"/><path d="M756.2 79.4L764.2 88.4L758 73.5L750 64.8Z" fill="#ff3000"/><path d="M770.4 103L778.3 112L772.2 97.1L764.2 88.4Z" fill="#ffaf00"/><path d="M784.5 126.6L792.5 135.6L786.3 120.7L778.3 112Z" fill="#dfff20"/><path d="M798.7 150.2L806.7 159.2L800.5 144.3L792.5 135.6Z" fill="#60ff9f"/><path d="M812.8 173.8L820.8 182.8L814.6 167.9L806.7 159.2Z" fill="#00efff"/><path d="M734.1 65.6L742.1 55.8L735.9 41.2L727.9 51Z" fill="#df0000"/><path d="M748.2 70.3L756.2 79.4L750 64.8L742.1 55.8Z" fill="#ff0000"/><path d="M762.4 94L770.4 103L764.2 88.4L756.2 79.4Z" fill="#ff7000"/><path d="M776.5 117.6L784.5 126.6L778.3 112L770.4 103Z" fill="#ffdf00"/><path d="M790.7 141.2L798.7 150.2L792.5 135.6L784.5 126.6Z" fill="#9fff60"/><path d="M804.8 164.8L812.8 173.8L806.7 159.2L798.7 150.2Z" fill="#30ffcf"/><path d="M819 181.3L827 190.4L820.8 182.8L812.8 173.8Z" fill="#00dfff"/><path d="M726.1 75.5L734.1 65.6L727.9 51L719.9 60.9Z" fill="#ff1000"/><path d="M740.2 80.2L748.2 70.3L742.1 55.8L734.1 65.6Z" fill="#ff2000"/><path d="M754.4 84.9L762.4 94L756.2 79.4L748.2 70.3Z" fill="#ff3000"/><path d="M768.5 108.5L776.5 117.6L770.4 103L762.4 94Z" fill="#ffaf00"/><path d="M782.7 132.1L790.7 141.2L784.5 126.6L776.5 117.6Z" fill="#dfff20"/><path d="M796.8 155.8L804.8 164.8L798.7 150.2L790.7 141.2Z" fill="#70ff8f"/><path d="M811 172.3L819 181.3L812.8 173.8L804.8 164.8Z" fill="#10ffef"/><path d="M825.1 188.9L833.1 197.9L827 190.4L819 181.3Z" fill="#00bfff"/><path d="M718.1 85.3L726.1 75.5L719.9 60.9L711.9 70.8Z" fill="#ff3000"/><path d="M732.2 90.1L740.2 80.2L734.1 65.6L726.1 75.5Z" fill="#ff4000"/><path d="M746.4 94.8L754.4 84.9L748.2 70.3L740.2 80.2Z" fill="#ff6000"/><path d="M760.5 99.5L768.5 108.5L762.4 94L754.4 84.9Z" fill="#ff7000"/><path d="M774.7 123.1L782.7 132.1L776.5 117.6L768.5 108.5Z" fill="#ffdf00"/><path d="M788.8 146.7L796.8 155.8L790.7 141.2L782.7 132.1Z" fill="#9fff60"/><path d="M710.1 95.2L718.1 85.3L711.9 70.8L703.9 80.6Z" fill="#ff5000"/><path d="M803 163.3L811 172.3L804.8 164.8L796.8 155.8Z" fill="#50ffaf"/><path d="M817.1 179.9L825.1 188.9L819 181.3L811 172.3Z" fill="#00ffff"/><path d="M724.2 99.9L732.2 90.1L726.1 75.5L718.1 85.3Z" fill="#ff7000"/><path d="M831.3 196.4L839.3 205.5L833.1 197.9L825.1 188.9Z" fill="#00afff"/><path d="M738.4 104.7L746.4 94.8L740.2 80.2L732.2 90.1Z" fill="#ff8000"/><path d="M752.5 109.4L760.5 99.5L754.4 84.9L746.4 94.8Z" fill="#ff8f00"/><path d="M702.1 105.1L710.1 95.2L703.9 80.6L695.9 90.5Z" fill="#ff8000"/><path d="M766.7 114.1L774.7 123.1L768.5 108.5L760.5 99.5Z" fill="#ffaf00"/><path d="M780.8 137.7L788.8 146.7L782.7 132.1L774.7 123.1Z" fill="#dfff20"/><path d="M795 154.3L803 163.3L796.8 155.8L788.8 146.7Z" fill="#8fff70"/><path d="M716.2 109.8L724.2 99.9L718.1 85.3L710.1 95.2Z" fill="#ff8f00"/><path d="M809.2 170.9L817.1 179.9L811 172.3L803 163.3Z" fill="#40ffbf"/><path d="M823.3 187.4L831.3 196.4L825.1 188.9L817.1 179.9Z" fill="#00efff"/><path d="M730.4 114.5L738.4 104.7L732.2 90.1L724.2 99.9Z" fill="#ff9f00"/><path d="M837.5 204L845.4 213L839.3 205.5L831.3 196.4Z" fill="#008fff"/><path d="M744.6 119.2L752.5 109.4L746.4 94.8L738.4 104.7Z" fill="#ffbf00"/><path d="M694.1 110.6L702.1 105.1L695.9 90.5L687.9 100.3Z" fill="#ff8f00"/><path d="M758.7 124L766.7 114.1L760.5 99.5L752.5 109.4Z" fill="#ffcf00"/><path d="M708.3 115.3L716.2 109.8L710.1 95.2L702.1 105.1Z" fill="#ff9f00"/><path d="M772.9 128.7L780.8 137.7L774.7 123.1L766.7 114.1Z" fill="#ffdf00"/><path d="M787 145.3L795 154.3L788.8 146.7L780.8 137.7Z" fill="#cfff30"/><path d="M801.2 161.8L809.2 170.9L803 163.3L795 154.3Z" fill="#70ff8f"/><path d="M722.4 120L730.4 114.5L724.2 99.9L716.2 109.8Z" fill="#ffaf00"/><path d="M815.3 178.4L823.3 187.4L817.1 179.9L809.2 170.9Z" fill="#20ffdf"/><path d="M736.6 124.8L744.6 119.2L738.4 104.7L730.4 114.5Z" fill="#ffcf00"/><path d="M829.5 195L837.5 204L831.3 196.4L823.3 187.4Z" fill="#00cfff"/><path d="M843.6 211.6L851.6 220.6L845.4 213L837.5 204Z" fill="#0080ff"/><path d="M686.1 113.4L694.1 110.6L687.9 100.3L680 103.1Z" fill="#ff8f00"/><path d="M750.7 129.5L758.7 124L752.5 109.4L744.6 119.2Z" fill="#ffdf00"/><path d="M700.3 120.8L708.3 115.3L702.1 105.1L694.1 110.6Z" fill="#ffaf00"/><path d="M764.9 134.2L772.9 128.7L766.7 114.1L758.7 124Z" fill="#ffef00"/><path d="M714.4 125.6L722.4 120L716.2 109.8L708.3 115.3Z" fill="#ffbf00"/><path d="M779 138.4L787 145.3L780.8 137.7L772.9 128.7Z" fill="#ffff00"/><path d="M793.2 154.9L801.2 161.8L795 154.3L787 145.3Z" fill="#9fff60"/><path d="M728.6 130.3L736.6 124.8L730.4 114.5L722.4 120Z" fill="#ffdf00"/><path d="M807.3 171.5L815.3 178.4L809.2 170.9L801.2 161.8Z" fill="#50ffaf"/><path d="M821.5 188.1L829.5 195L823.3 187.4L815.3 178.4Z" fill="#00ffff"/><path d="M678.1 116.2L686.1 113.4L680 103.1L672 105.9Z" fill="#ff8f00"/><path d="M742.7 135L750.7 129.5L744.6 119.2L736.6 124.8Z" fill="#ffef00"/><path d="M835.6 204.7L843.6 211.6L837.5 204L829.5 195Z" fill="#00afff"/><path d="M849.8 221.2L857.8 228.1L851.6 220.6L843.6 211.6Z" fill="#0060ff"/><path d="M692.3 123.6L700.3 120.8L694.1 110.6L686.1 113.4Z" fill="#ffaf00"/><path d="M756.9 139.7L764.9 134.2L758.7 124L750.7 129.5Z" fill="#ffff00"/><path d="M706.4 131.1L714.4 125.6L708.3 115.3L700.3 120.8Z" fill="#ffcf00"/><path d="M771 143.9L779 138.4L772.9 128.7L764.9 134.2Z" fill="#efff10"/><path d="M720.6 135.8L728.6 130.3L722.4 120L714.4 125.6Z" fill="#ffef00"/><path d="M785.2 148.1L793.2 154.9L787 145.3L779 138.4Z" fill="#cfff30"/><path d="M799.3 164.6L807.3 171.5L801.2 161.8L793.2 154.9Z" fill="#80ff80"/><path d="M734.7 140.5L742.7 135L736.6 124.8L728.6 130.3Z" fill="#ffff00"/><path d="M670.1 119L678.1 116.2L672 105.9L664 108.7Z" fill="#ff8f00"/><path d="M813.5 181.2L821.5 188.1L815.3 178.4L807.3 171.5Z" fill="#30ffcf"/><path d="M827.6 197.8L835.6 204.7L829.5 195L821.5 188.1Z" fill="#00dfff"/><path d="M684.3 126.4L692.3 123.6L686.1 113.4L678.1 116.2Z" fill="#ffaf00"/><path d="M748.9 145.3L756.9 139.7L750.7 129.5L742.7 135Z" fill="#efff10"/><path d="M841.8 214.3L849.8 221.2L843.6 211.6L835.6 204.7Z" fill="#008fff"/><path d="M698.4 133.9L706.4 131.1L700.3 120.8L692.3 123.6Z" fill="#ffdf00"/><path d="M855.9 228.2L863.9 235.1L857.8 228.1L849.8 221.2Z" fill="#0050ff"/><path d="M763 149.4L771 143.9L764.9 134.2L756.9 139.7Z" fill="#dfff20"/><path d="M712.6 141.3L720.6 135.8L714.4 125.6L706.4 131.1Z" fill="#ffff00"/><path d="M777.2 153.6L785.2 148.1L779 138.4L771 143.9Z" fill="#bfff40"/><path d="M726.7 146.1L734.7 140.5L728.6 130.3L720.6 135.8Z" fill="#efff10"/><path d="M791.3 157.7L799.3 164.6L793.2 154.9L785.2 148.1Z" fill="#afff50"/><path d="M662.1 121.8L670.1 119L664 108.7L656 111.5Z" fill="#ff8f00"/><path d="M805.5 174.3L813.5 181.2L807.3 171.5L799.3 164.6Z" fill="#60ff9f"/><path d="M740.9 150.8L748.9 145.3L742.7 135L734.7 140.5Z" fill="#dfff20"/><path d="M676.3 129.2L684.3 126.4L678.1 116.2L670.1 119Z" fill="#ffaf00"/><path d="M819.6 190.9L827.6 197.8L821.5 188.1L813.5 181.2Z" fill="#10ffef"/><path d="M833.8 207.4L841.8 214.3L835.6 204.7L827.6 197.8Z" fill="#00bfff"/><path d="M690.4 136.7L698.4 133.9L692.3 123.6L684.3 126.4Z" fill="#ffdf00"/><path d="M755 154.9L763 149.4L756.9 139.7L748.9 145.3Z" fill="#cfff30"/><path d="M847.9 221.3L855.9 228.2L849.8 221.2L841.8 214.3Z" fill="#0080ff"/><path d="M704.6 144.1L712.6 141.3L706.4 131.1L698.4 133.9Z" fill="#ffff00"/><path d="M862.1 235.1L870.1 242L863.9 235.1L855.9 228.2Z" fill="#0030ff"/><path d="M769.2 159.1L777.2 153.6L771 143.9L763 149.4Z" fill="#afff50"/><path d="M718.8 151.6L726.7 146.1L720.6 135.8L712.6 141.3Z" fill="#dfff20"/><path d="M654.2 124.6L662.1 121.8L656 111.5L648 114.3Z" fill="#ff8f00"/><path d="M783.3 163.2L791.3 157.7L785.2 148.1L777.2 153.6Z" fill="#9fff60"/><path d="M732.9 156.3L740.9 150.8L734.7 140.5L726.7 146.1Z" fill="#cfff30"/><path d="M797.5 167.4L805.5 174.3L799.3 164.6L791.3 157.7Z" fill="#8fff70"/><path d="M668.3 132L676.3 129.2L670.1 119L662.1 121.8Z" fill="#ffbf00"/><path d="M811.7 184L819.6 190.9L813.5 181.2L805.5 174.3Z" fill="#40ffbf"/><path d="M682.5 139.5L690.4 136.7L684.3 126.4L676.3 129.2Z" fill="#ffdf00"/><path d="M747.1 160.5L755 154.9L748.9 145.3L740.9 150.8Z" fill="#bfff40"/><path d="M825.8 200.5L833.8 207.4L827.6 197.8L819.6 190.9Z" fill="#00efff"/><path d="M840 214.4L847.9 221.3L841.8 214.3L833.8 207.4Z" fill="#00afff"/><path d="M696.6 146.9L704.6 144.1L698.4 133.9L690.4 136.7Z" fill="#ffff00"/><path d="M761.2 164.6L769.2 159.1L763 149.4L755 154.9Z" fill="#9fff60"/><path d="M854.1 228.2L862.1 235.1L855.9 228.2L847.9 221.3Z" fill="#0070ff"/><path d="M710.8 154.4L718.8 151.6L712.6 141.3L704.6 144.1Z" fill="#dfff20"/><path d="M775.4 168.8L783.3 163.2L777.2 153.6L769.2 159.1Z" fill="#8fff70"/><path d="M646.2 128L654.2 124.6L648 114.3L640 117.1Z" fill="#ff9f00"/><path d="M868.3 242.1L876.2 249L870.1 242L862.1 235.1Z" fill="#0020ff"/><path d="M724.9 161.8L732.9 156.3L726.7 146.1L718.8 151.6Z" fill="#bfff40"/><path d="M660.3 135.5L668.3 132L662.1 121.8L654.2 124.6Z" fill="#ffbf00"/><path d="M789.5 172.9L797.5 167.4L791.3 157.7L783.3 163.2Z" fill="#80ff80"/><path d="M739.1 166L747.1 160.5L740.9 150.8L732.9 156.3Z" fill="#afff50"/><path d="M674.5 143L682.5 139.5L676.3 129.2L668.3 132Z" fill="#ffdf00"/><path d="M803.7 177.1L811.7 184L805.5 174.3L797.5 167.4Z" fill="#70ff8f"/><path d="M817.8 193.6L825.8 200.5L819.6 190.9L811.7 184Z" fill="#20ffdf"/><path d="M688.6 150.4L696.6 146.9L690.4 136.7L682.5 139.5Z" fill="#ffff00"/><path d="M753.2 170.1L761.2 164.6L755 154.9L747.1 160.5Z" fill="#8fff70"/><path d="M832 207.5L840 214.4L833.8 207.4L825.8 200.5Z" fill="#00dfff"/><path d="M702.8 157.9L710.8 154.4L704.6 144.1L696.6 146.9Z" fill="#dfff20"/><path d="M846.1 221.3L854.1 228.2L847.9 221.3L840 214.4Z" fill="#009fff"/><path d="M767.4 174.3L775.4 168.8L769.2 159.1L761.2 164.6Z" fill="#80ff80"/><path d="M638.2 130.8L646.2 128L640 117.1L632 119.9Z" fill="#ff9f00"/><path d="M860.3 235.2L868.3 242.1L862.1 235.1L854.1 228.2Z" fill="#0050ff"/><path d="M716.9 165.3L724.9 161.8L718.8 151.6L710.8 154.4Z" fill="#afff50"/><path d="M652.3 139L660.3 135.5L654.2 124.6L646.2 128Z" fill="#ffbf00"/><path d="M781.5 178.4L789.5 172.9L783.3 163.2L775.4 168.8Z" fill="#70ff8f"/><path d="M874.4 249L882.4 255.9L876.2 249L868.3 242.1Z" fill="#0010ff"/><path d="M731.1 167.4L739.1 166L732.9 156.3L724.9 161.8Z" fill="#afff50"/><path d="M666.5 146.4L674.5 143L668.3 132L660.3 135.5Z" fill="#ffdf00"/><path d="M795.7 182.6L803.7 177.1L797.5 167.4L789.5 172.9Z" fill="#60ff9f"/><path d="M745.2 171.5L753.2 170.1L747.1 160.5L739.1 166Z" fill="#9fff60"/><path d="M680.6 153.9L688.6 150.4L682.5 139.5L674.5 143Z" fill="#efff10"/><path d="M809.8 186.8L817.8 193.6L811.7 184L803.7 177.1Z" fill="#50ffaf"/><path d="M824 200.6L832 207.5L825.8 200.5L817.8 193.6Z" fill="#10ffef"/><path d="M694.8 161.3L702.8 157.9L696.6 146.9L688.6 150.4Z" fill="#cfff30"/><path d="M759.4 175.7L767.4 174.3L761.2 164.6L753.2 170.1Z" fill="#8fff70"/><path d="M630.2 133.5L638.2 130.8L632 119.9L624 122.6Z" fill="#ff9f00"/><path d="M838.1 214.4L846.1 221.3L840 214.4L832 207.5Z" fill="#00cfff"/><path d="M708.9 168.8L716.9 165.3L710.8 154.4L702.8 157.9Z" fill="#afff50"/><path d="M852.3 228.3L860.3 235.2L854.1 228.2L846.1 221.3Z" fill="#0080ff"/><path d="M773.5 179.8L781.5 178.4L775.4 168.8L767.4 174.3Z" fill="#80ff80"/><path d="M644.3 141.7L652.3 139L646.2 128L638.2 130.8Z" fill="#ffbf00"/><path d="M866.4 242.1L874.4 249L868.3 242.1L860.3 235.2Z" fill="#0040ff"/><path d="M723.1 170.9L731.1 167.4L724.9 161.8L716.9 165.3Z" fill="#afff50"/><path d="M658.5 149.9L666.5 146.4L660.3 135.5L652.3 139Z" fill="#ffef00"/><path d="M787.7 184L795.7 182.6L789.5 172.9L781.5 178.4Z" fill="#70ff8f"/><path d="M880.6 255.9L888.6 262.8L882.4 255.9L874.4 249Z" fill="#0000ff"/><path d="M672.6 157.4L680.6 153.9L674.5 143L666.5 146.4Z" fill="#efff10"/><path d="M737.2 172.9L745.2 171.5L739.1 166L731.1 167.4Z" fill="#9fff60"/><path d="M801.8 188.2L809.8 186.8L803.7 177.1L795.7 182.6Z" fill="#50ffaf"/><path d="M686.8 164.8L694.8 161.3L688.6 150.4L680.6 153.9Z" fill="#cfff30"/><path d="M816 193.7L824 200.6L817.8 193.6L809.8 186.8Z" fill="#40ffbf"/><path d="M751.4 177.1L759.4 175.7L753.2 170.1L745.2 171.5Z" fill="#8fff70"/><path d="M622.2 136.3L630.2 133.5L624 122.6L616 125.4Z" fill="#ff9f00"/><path d="M830.1 207.5L838.1 214.4L832 207.5L824 200.6Z" fill="#00ffff"/><path d="M700.9 172.3L708.9 168.8L702.8 157.9L694.8 161.3Z" fill="#afff50"/><path d="M765.5 181.3L773.5 179.8L767.4 174.3L759.4 175.7Z" fill="#80ff80"/><path d="M636.3 144.5L644.3 141.7L638.2 130.8L630.2 133.5Z" fill="#ffbf00"/><path d="M844.3 221.4L852.3 228.3L846.1 221.3L838.1 214.4Z" fill="#00afff"/><path d="M715.1 174.4L723.1 170.9L716.9 165.3L708.9 168.8Z" fill="#9fff60"/><path d="M650.5 152.7L658.5 149.9L652.3 139L644.3 141.7Z" fill="#ffef00"/><path d="M858.4 235.2L866.4 242.1L860.3 235.2L852.3 228.3Z" fill="#0070ff"/><path d="M779.7 185.4L787.7 184L781.5 178.4L773.5 179.8Z" fill="#70ff8f"/><path d="M872.6 249L880.6 255.9L874.4 249L866.4 242.1Z" fill="#0030ff"/><path d="M664.6 160.9L672.6 157.4L666.5 146.4L658.5 149.9Z" fill="#efff10"/><path d="M729.2 176.4L737.2 172.9L731.1 167.4L723.1 170.9Z" fill="#9fff60"/><path d="M793.8 189.6L801.8 188.2L795.7 182.6L787.7 184Z" fill="#60ff9f"/><path d="M886.7 262.9L894.7 269.8L888.6 262.8L880.6 255.9Z" fill="#0000ef"/><path d="M678.8 168.3L686.8 164.8L680.6 153.9L672.6 157.4Z" fill="#cfff30"/><path d="M743.4 178.5L751.4 177.1L745.2 171.5L737.2 172.9Z" fill="#8fff70"/><path d="M614.2 139L622.2 136.3L616 125.4L608 128.1Z" fill="#ff9f00"/><path d="M808 195.1L816 193.7L809.8 186.8L801.8 188.2Z" fill="#40ffbf"/><path d="M692.9 175.8L700.9 172.3L694.8 161.3L686.8 164.8Z" fill="#9fff60"/><path d="M822.1 200.6L830.1 207.5L824 200.6L816 193.7Z" fill="#30ffcf"/><path d="M628.3 147.2L636.3 144.5L630.2 133.5L622.2 136.3Z" fill="#ffcf00"/><path d="M757.5 182.7L765.5 181.3L759.4 175.7L751.4 177.1Z" fill="#80ff80"/><path d="M836.3 214.5L844.3 221.4L838.1 214.4L830.1 207.5Z" fill="#00dfff"/><path d="M707.1 177.8L715.1 174.4L708.9 168.8L700.9 172.3Z" fill="#9fff60"/><path d="M642.5 155.4L650.5 152.7L644.3 141.7L636.3 144.5Z" fill="#ffef00"/><path d="M771.7 186.8L779.7 185.4L773.5 179.8L765.5 181.3Z" fill="#70ff8f"/><path d="M850.4 228.3L858.4 235.2L852.3 228.3L844.3 221.4Z" fill="#009fff"/><path d="M656.7 163.6L664.6 160.9L658.5 149.9L650.5 152.7Z" fill="#efff10"/><path d="M721.2 179.9L729.2 176.4L723.1 170.9L715.1 174.4Z" fill="#8fff70"/><path d="M864.6 242.2L872.6 249L866.4 242.1L858.4 235.2Z" fill="#0060ff"/><path d="M785.8 191L793.8 189.6L787.7 184L779.7 185.4Z" fill="#60ff9f"/><path d="M878.7 256L886.7 262.9L880.6 255.9L872.6 249Z" fill="#0020ff"/><path d="M670.8 171.8L678.8 168.3L672.6 157.4L664.6 160.9Z" fill="#bfff40"/><path d="M735.4 182L743.4 178.5L737.2 172.9L729.2 176.4Z" fill="#8fff70"/><path d="M606.2 141.8L614.2 139L608 128.1L600 130.9Z" fill="#ff9f00"/><path d="M800 196.5L808 195.1L801.8 188.2L793.8 189.6Z" fill="#50ffaf"/><path d="M892.9 268L900.9 274.9L894.7 269.8L886.7 262.9Z" fill="#0000df"/><path d="M685 179.3L692.9 175.8L686.8 164.8L678.8 168.3Z" fill="#9fff60"/><path d="M620.4 150L628.3 147.2L622.2 136.3L614.2 139Z" fill="#ffcf00"/><path d="M749.6 184.1L757.5 182.7L751.4 177.1L743.4 178.5Z" fill="#8fff70"/><path d="M814.2 202.1L822.1 200.6L816 193.7L808 195.1Z" fill="#30ffcf"/><path d="M699.1 181.3L707.1 177.8L700.9 172.3L692.9 175.8Z" fill="#9fff60"/><path d="M634.5 158.2L642.5 155.4L636.3 144.5L628.3 147.2Z" fill="#ffef00"/><path d="M828.3 207.6L836.3 214.5L830.1 207.5L822.1 200.6Z" fill="#10ffef"/><path d="M763.7 188.2L771.7 186.8L765.5 181.3L757.5 182.7Z" fill="#80ff80"/><path d="M842.5 221.4L850.4 228.3L844.3 221.4L836.3 214.5Z" fill="#00cfff"/><path d="M648.7 166.4L656.7 163.6L650.5 152.7L642.5 155.4Z" fill="#dfff20"/><path d="M713.3 183.4L721.2 179.9L715.1 174.4L707.1 177.8Z" fill="#8fff70"/><path d="M777.9 192.4L785.8 191L779.7 185.4L771.7 186.8Z" fill="#60ff9f"/><path d="M856.6 235.3L864.6 242.2L858.4 235.2L850.4 228.3Z" fill="#008fff"/><path d="M662.8 174.6L670.8 171.8L664.6 160.9L656.7 163.6Z" fill="#bfff40"/><path d="M727.4 185.5L735.4 182L729.2 176.4L721.2 179.9Z" fill="#8fff70"/><path d="M870.8 249.1L878.7 256L872.6 249L864.6 242.2Z" fill="#0050ff"/><path d="M598.2 145.6L606.2 141.8L600 130.9L592.1 133.6Z" fill="#ffaf00"/><path d="M792 197.9L800 196.5L793.8 189.6L785.8 191Z" fill="#50ffaf"/><path d="M677 182.8L685 179.3L678.8 168.3L670.8 171.8Z" fill="#9fff60"/><path d="M884.9 261.1L892.9 268L886.7 262.9L878.7 256Z" fill="#0010ff"/><path d="M612.4 153.8L620.4 150L614.2 139L606.2 141.8Z" fill="#ffcf00"/><path d="M741.6 187.5L749.6 184.1L743.4 178.5L735.4 182Z" fill="#80ff80"/><path d="M806.2 203.5L814.2 202.1L808 195.1L800 196.5Z" fill="#30ffcf"/><path d="M899.1 273.1L907.1 280L900.9 274.9L892.9 268Z" fill="#0000cf"/><path d="M691.1 184.8L699.1 181.3L692.9 175.8L685 179.3Z" fill="#8fff70"/><path d="M626.5 162L634.5 158.2L628.3 147.2L620.4 150Z" fill="#ffff00"/><path d="M755.7 189.6L763.7 188.2L757.5 182.7L749.6 184.1Z" fill="#80ff80"/><path d="M820.3 209L828.3 207.6L822.1 200.6L814.2 202.1Z" fill="#20ffdf"/><path d="M640.7 170.1L648.7 166.4L642.5 155.4L634.5 158.2Z" fill="#dfff20"/><path d="M705.3 186.9L713.3 183.4L707.1 177.8L699.1 181.3Z" fill="#8fff70"/><path d="M834.5 214.5L842.5 221.4L836.3 214.5L828.3 207.6Z" fill="#00ffff"/><path d="M769.9 193.8L777.9 192.4L771.7 186.8L763.7 188.2Z" fill="#70ff8f"/><path d="M654.8 178.3L662.8 174.6L656.7 163.6L648.7 166.4Z" fill="#bfff40"/><path d="M848.6 228.4L856.6 235.3L850.4 228.3L842.5 221.4Z" fill="#00bfff"/><path d="M719.4 189L727.4 185.5L721.2 179.9L713.3 183.4Z" fill="#80ff80"/><path d="M784 199.3L792 197.9L785.8 191L777.9 192.4Z" fill="#50ffaf"/><path d="M862.8 242.2L870.8 249.1L864.6 242.2L856.6 235.3Z" fill="#0080ff"/><path d="M669 186.5L677 182.8L670.8 171.8L662.8 174.6Z" fill="#8fff70"/><path d="M604.4 157.5L612.4 153.8L606.2 141.8L598.2 145.6Z" fill="#ffdf00"/><path d="M733.6 191L741.6 187.5L735.4 182L727.4 185.5Z" fill="#80ff80"/><path d="M876.9 254.2L884.9 261.1L878.7 256L870.8 249.1Z" fill="#0040ff"/><path d="M798.2 204.9L806.2 203.5L800 196.5L792 197.9Z" fill="#40ffbf"/><path d="M683.1 189.4L691.1 184.8L685 179.3L677 182.8Z" fill="#8fff70"/><path d="M618.5 165.7L626.5 162L620.4 150L612.4 153.8Z" fill="#ffff00"/><path d="M891.1 266.2L899.1 273.1L892.9 268L884.9 261.1Z" fill="#0000ff"/><path d="M747.7 193.1L755.7 189.6L749.6 184.1L741.6 187.5Z" fill="#80ff80"/><path d="M812.3 210.4L820.3 209L814.2 202.1L806.2 203.5Z" fill="#20ffdf"/><path d="M905.2 278.2L913.2 285.1L907.1 280L899.1 273.1Z" fill="#0000cf"/><path d="M697.3 191.5L705.3 186.9L699.1 181.3L691.1 184.8Z" fill="#80ff80"/><path d="M632.7 173.9L640.7 170.1L634.5 158.2L626.5 162Z" fill="#dfff20"/><path d="M826.5 215.9L834.5 214.5L828.3 207.6L820.3 209Z" fill="#10ffef"/><path d="M761.9 195.2L769.9 193.8L763.7 188.2L755.7 189.6Z" fill="#70ff8f"/><path d="M646.8 182.1L654.8 178.3L648.7 166.4L640.7 170.1Z" fill="#afff50"/><path d="M711.4 193.6L719.4 189L713.3 183.4L705.3 186.9Z" fill="#80ff80"/><path d="M840.6 221.5L848.6 228.4L842.5 221.4L834.5 214.5Z" fill="#00efff"/><path d="M776 200.7L784 199.3L777.9 192.4L769.9 193.8Z" fill="#60ff9f"/><path d="M661 190.3L669 186.5L662.8 174.6L654.8 178.3Z" fill="#8fff70"/><path d="M854.8 235.3L862.8 242.2L856.6 235.3L848.6 228.4Z" fill="#00afff"/><path d="M725.6 195.7L733.6 191L727.4 185.5L719.4 189Z" fill="#70ff8f"/><path d="M790.2 206.3L798.2 204.9L792 197.9L784 199.3Z" fill="#40ffbf"/><path d="M868.9 247.3L876.9 254.2L870.8 249.1L862.8 242.2Z" fill="#0070ff"/><path d="M675.1 193.2L683.1 189.4L677 182.8L669 186.5Z" fill="#80ff80"/><path d="M610.5 169.5L618.5 165.7L612.4 153.8L604.4 157.5Z" fill="#ffff00"/><path d="M739.7 197.7L747.7 193.1L741.6 187.5L733.6 191Z" fill="#70ff8f"/><path d="M883.1 259.3L891.1 266.2L884.9 261.1L876.9 254.2Z" fill="#0030ff"/><path d="M804.3 211.8L812.3 210.4L806.2 203.5L798.2 204.9Z" fill="#20ffdf"/><path d="M689.3 196.1L697.3 191.5L691.1 184.8L683.1 189.4Z" fill="#70ff8f"/><path d="M624.7 177.7L632.7 173.9L626.5 162L618.5 165.7Z" fill="#cfff30"/><path d="M897.2 271.3L905.2 278.2L899.1 273.1L891.1 266.2Z" fill="#0000ff"/><path d="M753.9 199.8L761.9 195.2L755.7 189.6L747.7 193.1Z" fill="#60ff9f"/><path d="M818.5 217.4L826.5 215.9L820.3 209L812.3 210.4Z" fill="#10ffef"/><path d="M638.8 185.9L646.8 182.1L640.7 170.1L632.7 173.9Z" fill="#afff50"/><path d="M911.4 283.3L919.4 290.2L913.2 285.1L905.2 278.2Z" fill="#0000bf"/><path d="M703.4 198.2L711.4 193.6L705.3 186.9L697.3 191.5Z" fill="#70ff8f"/><path d="M832.6 222.9L840.6 221.5L834.5 214.5L826.5 215.9Z" fill="#00efff"/><path d="M768 203.9L776 200.7L769.9 193.8L761.9 195.2Z" fill="#50ffaf"/><path d="M653 194.1L661 190.3L654.8 178.3L646.8 182.1Z" fill="#80ff80"/><path d="M717.6 200.3L725.6 195.7L719.4 189L711.4 193.6Z" fill="#70ff8f"/><path d="M846.8 228.4L854.8 235.3L848.6 228.4L840.6 221.5Z" fill="#00dfff"/><path d="M782.2 209.4L790.2 206.3L784 199.3L776 200.7Z" fill="#40ffbf"/><path d="M667.1 197L675.1 193.2L669 186.5L661 190.3Z" fill="#80ff80"/><path d="M860.9 240.4L868.9 247.3L862.8 242.2L854.8 235.3Z" fill="#009fff"/><path d="M731.7 202.3L739.7 197.7L733.6 191L725.6 195.7Z" fill="#60ff9f"/><path d="M796.3 215L804.3 211.8L798.2 204.9L790.2 206.3Z" fill="#20ffdf"/><path d="M681.3 199.9L689.3 196.1L683.1 189.4L675.1 193.2Z" fill="#70ff8f"/><path d="M616.7 181.5L624.7 177.7L618.5 165.7L610.5 169.5Z" fill="#cfff30"/><path d="M875.1 252.4L883.1 259.3L876.9 254.2L868.9 247.3Z" fill="#0070ff"/><path d="M745.9 204.4L753.9 199.8L747.7 193.1L739.7 197.7Z" fill="#60ff9f"/><path d="M810.5 220.5L818.5 217.4L812.3 210.4L804.3 211.8Z" fill="#10ffef"/><path d="M889.2 264.5L897.2 271.3L891.1 266.2L883.1 259.3Z" fill="#0030ff"/><path d="M630.8 189.7L638.8 185.9L632.7 173.9L624.7 177.7Z" fill="#9fff60"/><path d="M695.4 202.8L703.4 198.2L697.3 191.5L689.3 196.1Z" fill="#60ff9f"/><path d="M903.4 276.5L911.4 283.3L905.2 278.2L897.2 271.3Z" fill="#0000ef"/><path d="M760 208.5L768 203.9L761.9 195.2L753.9 199.8Z" fill="#50ffaf"/><path d="M824.6 226L832.6 222.9L826.5 215.9L818.5 217.4Z" fill="#00efff"/><path d="M645 197.9L653 194.1L646.8 182.1L638.8 185.9Z" fill="#80ff80"/><path d="M709.6 204.9L717.6 200.3L711.4 193.6L703.4 198.2Z" fill="#60ff9f"/><path d="M917.5 288.5L925.5 295.3L919.4 290.2L911.4 283.3Z" fill="#0000bf"/><path d="M774.2 212.5L782.2 209.4L776 200.7L768 203.9Z" fill="#40ffbf"/><path d="M838.8 231.6L846.8 228.4L840.6 221.5L832.6 222.9Z" fill="#00dfff"/><path d="M659.2 200.8L667.1 197L661 190.3L653 194.1Z" fill="#70ff8f"/><path d="M723.8 207L731.7 202.3L725.6 195.7L717.6 200.3Z" fill="#50ffaf"/><path d="M852.9 235.4L860.9 240.4L854.8 235.3L846.8 228.4Z" fill="#00cfff"/><path d="M788.3 218.1L796.3 215L790.2 206.3L782.2 209.4Z" fill="#20ffdf"/><path d="M673.3 203.7L681.3 199.9L675.1 193.2L667.1 197Z" fill="#70ff8f"/><path d="M867.1 247.4L875.1 252.4L868.9 247.3L860.9 240.4Z" fill="#008fff"/><path d="M737.9 209L745.9 204.4L739.7 197.7L731.7 202.3Z" fill="#50ffaf"/><path d="M802.5 223.6L810.5 220.5L804.3 211.8L796.3 215Z" fill="#00ffff"/><path d="M622.9 193.4L630.8 189.7L624.7 177.7L616.7 181.5Z" fill="#9fff60"/><path d="M687.5 206.6L695.4 202.8L689.3 196.1L681.3 199.9Z" fill="#60ff9f"/><path d="M881.2 259.4L889.2 264.5L883.1 259.3L875.1 252.4Z" fill="#0050ff"/><path d="M752.1 213.1L760 208.5L753.9 199.8L745.9 204.4Z" fill="#40ffbf"/><path d="M816.7 229.2L824.6 226L818.5 217.4L810.5 220.5Z" fill="#00efff"/><path d="M637 201.6L645 197.9L638.8 185.9L630.8 189.7Z" fill="#80ff80"/><path d="M895.4 271.4L903.4 276.5L897.2 271.3L889.2 264.5Z" fill="#0020ff"/><path d="M701.6 209.5L709.6 204.9L703.4 198.2L695.4 202.8Z" fill="#50ffaf"/><path d="M909.6 283.4L917.5 288.5L911.4 283.3L903.4 276.5Z" fill="#0000df"/><path d="M766.2 217.2L774.2 212.5L768 203.9L760 208.5Z" fill="#30ffcf"/><path d="M830.8 234.7L838.8 231.6L832.6 222.9L824.6 226Z" fill="#00cfff"/><path d="M651.2 204.5L659.2 200.8L653 194.1L645 197.9Z" fill="#70ff8f"/><path d="M715.8 211.6L723.8 207L717.6 200.3L709.6 204.9Z" fill="#50ffaf"/><path d="M923.7 295.4L931.7 300.5L925.5 295.3L917.5 288.5Z" fill="#00009f"/><path d="M780.4 221.2L788.3 218.1L782.2 209.4L774.2 212.5Z" fill="#20ffdf"/><path d="M845 238.5L852.9 235.4L846.8 228.4L838.8 231.6Z" fill="#00bfff"/><path d="M665.3 207.5L673.3 203.7L667.1 197L659.2 200.8Z" fill="#60ff9f"/><path d="M729.9 213.6L737.9 209L731.7 202.3L723.8 207Z" fill="#40ffbf"/><path d="M859.1 242.3L867.1 247.4L860.9 240.4L852.9 235.4Z" fill="#00afff"/><path d="M794.5 226.8L802.5 223.6L796.3 215L788.3 218.1Z" fill="#00ffff"/><path d="M679.5 210.4L687.5 206.6L681.3 199.9L673.3 203.7Z" fill="#50ffaf"/><path d="M873.3 254.3L881.2 259.4L875.1 252.4L867.1 247.4Z" fill="#0080ff"/><path d="M744.1 217.7L752.1 213.1L745.9 204.4L737.9 209Z" fill="#30ffcf"/><path d="M808.7 232.3L816.7 229.2L810.5 220.5L802.5 223.6Z" fill="#00efff"/><path d="M629 205.4L637 201.6L630.8 189.7L622.9 193.4Z" fill="#70ff8f"/><path d="M693.6 213.3L701.6 209.5L695.4 202.8L687.5 206.6Z" fill="#50ffaf"/><path d="M887.4 266.3L895.4 271.4L889.2 264.5L881.2 259.4Z" fill="#0040ff"/><path d="M758.2 221.8L766.2 217.2L760 208.5L752.1 213.1Z" fill="#20ffdf"/><path d="M822.8 237.9L830.8 234.7L824.6 226L816.7 229.2Z" fill="#00cfff"/><path d="M643.2 208.3L651.2 204.5L645 197.9L637 201.6Z" fill="#60ff9f"/><path d="M901.6 278.3L909.6 283.4L903.4 276.5L895.4 271.4Z" fill="#0000ff"/><path d="M707.8 216.2L715.8 211.6L709.6 204.9L701.6 209.5Z" fill="#40ffbf"/><path d="M772.4 225.8L780.4 221.2L774.2 212.5L766.2 217.2Z" fill="#10ffef"/><path d="M915.7 290.4L923.7 295.4L917.5 288.5L909.6 283.4Z" fill="#0000cf"/><path d="M837 241.7L845 238.5L838.8 231.6L830.8 234.7Z" fill="#00bfff"/><path d="M657.3 211.2L665.3 207.5L659.2 200.8L651.2 204.5Z" fill="#60ff9f"/><path d="M721.9 218.3L729.9 213.6L723.8 207L715.8 211.6Z" fill="#40ffbf"/><path d="M786.5 229.9L794.5 226.8L788.3 218.1L780.4 221.2Z" fill="#00ffff"/><path d="M851.1 245.5L859.1 242.3L852.9 235.4L845 238.5Z" fill="#00afff"/><path d="M671.5 214.1L679.5 210.4L673.3 203.7L665.3 207.5Z" fill="#50ffaf"/><path d="M736.1 222.3L744.1 217.7L737.9 209L729.9 213.6Z" fill="#30ffcf"/><path d="M800.7 235.5L808.7 232.3L802.5 223.6L794.5 226.8Z" fill="#00dfff"/><path d="M865.3 249.3L873.3 254.3L867.1 247.4L859.1 242.3Z" fill="#009fff"/><path d="M685.6 217.1L693.6 213.3L687.5 206.6L679.5 210.4Z" fill="#40ffbf"/><path d="M879.4 261.3L887.4 266.3L881.2 259.4L873.3 254.3Z" fill="#0070ff"/><path d="M750.2 226.4L758.2 221.8L752.1 213.1L744.1 217.7Z" fill="#10ffef"/><path d="M635.2 211.7L643.2 208.3L637 201.6L629 205.4Z" fill="#60ff9f"/><path d="M814.8 241L822.8 237.9L816.7 229.2L808.7 232.3Z" fill="#00cfff"/><path d="M699.8 220L707.8 216.2L701.6 209.5L693.6 213.3Z" fill="#40ffbf"/><path d="M893.6 273.3L901.6 278.3L895.4 271.4L887.4 266.3Z" fill="#0030ff"/><path d="M764.4 230.5L772.4 225.8L766.2 217.2L758.2 221.8Z" fill="#00ffff"/><path d="M829 244.8L837 241.7L830.8 234.7L822.8 237.9Z" fill="#00bfff"/><path d="M649.3 214.6L657.3 211.2L651.2 204.5L643.2 208.3Z" fill="#50ffaf"/><path d="M907.7 285.3L915.7 290.4L909.6 283.4L901.6 278.3Z" fill="#0000ef"/><path d="M713.9 222.9L721.9 218.3L715.8 211.6L707.8 216.2Z" fill="#30ffcf"/><path d="M778.5 234.5L786.5 229.9L780.4 221.2L772.4 225.8Z" fill="#00efff"/><path d="M843.1 248.6L851.1 245.5L845 238.5L837 241.7Z" fill="#00afff"/><path d="M663.5 217.5L671.5 214.1L665.3 207.5L657.3 211.2Z" fill="#50ffaf"/><path d="M728.1 226.9L736.1 222.3L729.9 213.6L721.9 218.3Z" fill="#20ffdf"/><path d="M792.7 238.6L800.7 235.5L794.5 226.8L786.5 229.9Z" fill="#00dfff"/><path d="M857.3 252.4L865.3 249.3L859.1 242.3L851.1 245.5Z" fill="#009fff"/><path d="M677.6 220.4L685.6 217.1L679.5 210.4L671.5 214.1Z" fill="#40ffbf"/><path d="M742.2 231L750.2 226.4L744.1 217.7L736.1 222.3Z" fill="#10ffef"/><path d="M806.8 244.1L814.8 241L808.7 232.3L800.7 235.5Z" fill="#00cfff"/><path d="M871.4 256.2L879.4 261.3L873.3 254.3L865.3 249.3Z" fill="#008fff"/><path d="M691.8 223.3L699.8 220L693.6 213.3L685.6 217.1Z" fill="#30ffcf"/><path d="M756.4 235.1L764.4 230.5L758.2 221.8L750.2 226.4Z" fill="#00ffff"/><path d="M885.6 268.2L893.6 273.3L887.4 266.3L879.4 261.3Z" fill="#0050ff"/><path d="M821 248L829 244.8L822.8 237.9L814.8 241Z" fill="#00bfff"/><path d="M641.3 217.9L649.3 214.6L643.2 208.3L635.2 211.7Z" fill="#50ffaf"/><path d="M705.9 226.2L713.9 222.9L707.8 216.2L699.8 220Z" fill="#30ffcf"/><path d="M899.7 280.2L907.7 285.3L901.6 278.3L893.6 273.3Z" fill="#0020ff"/><path d="M770.5 239.2L778.5 234.5L772.4 225.8L764.4 230.5Z" fill="#00efff"/><path d="M835.1 251.8L843.1 248.6L837 241.7L829 244.8Z" fill="#00afff"/><path d="M655.5 220.8L663.5 217.5L657.3 211.2L649.3 214.6Z" fill="#40ffbf"/><path d="M720.1 227.7L728.1 226.9L721.9 218.3L713.9 222.9Z" fill="#20ffdf"/><path d="M784.7 243.2L792.7 238.6L786.5 229.9L778.5 234.5Z" fill="#00dfff"/><path d="M849.3 255.6L857.3 252.4L851.1 245.5L843.1 248.6Z" fill="#009fff"/><path d="M669.6 223.7L677.6 220.4L671.5 214.1L663.5 217.5Z" fill="#40ffbf"/><path d="M734.2 231.7L742.2 231L736.1 222.3L728.1 226.9Z" fill="#10ffef"/><path d="M798.8 247.3L806.8 244.1L800.7 235.5L792.7 238.6Z" fill="#00bfff"/><path d="M863.4 259.4L871.4 256.2L865.3 249.3L857.3 252.4Z" fill="#008fff"/><path d="M683.8 226.7L691.8 223.3L685.6 217.1L677.6 220.4Z" fill="#30ffcf"/><path d="M748.4 235.8L756.4 235.1L750.2 226.4L742.2 231Z" fill="#00ffff"/><path d="M813 251.1L821 248L814.8 241L806.8 244.1Z" fill="#00afff"/><path d="M877.6 263.2L885.6 268.2L879.4 261.3L871.4 256.2Z" fill="#0080ff"/><path d="M697.9 229.6L705.9 226.2L699.8 220L691.8 223.3Z" fill="#20ffdf"/><path d="M762.5 239.9L770.5 239.2L764.4 230.5L756.4 235.1Z" fill="#00efff"/><path d="M891.7 275.2L899.7 280.2L893.6 273.3L885.6 268.2Z" fill="#0040ff"/><path d="M827.1 254.9L835.1 251.8L829 244.8L821 248Z" fill="#009fff"/><path d="M647.5 224.2L655.5 220.8L649.3 214.6L641.3 217.9Z" fill="#40ffbf"/><path d="M712.1 231L720.1 227.7L713.9 222.9L705.9 226.2Z" fill="#20ffdf"/><path d="M776.7 243.9L784.7 243.2L778.5 234.5L770.5 239.2Z" fill="#00dfff"/><path d="M841.3 258.7L849.3 255.6L843.1 248.6L835.1 251.8Z" fill="#008fff"/><path d="M661.7 227.1L669.6 223.7L663.5 217.5L655.5 220.8Z" fill="#30ffcf"/><path d="M726.2 232.4L734.2 231.7L728.1 226.9L720.1 227.7Z" fill="#20ffdf"/><path d="M790.8 248L798.8 247.3L792.7 238.6L784.7 243.2Z" fill="#00cfff"/><path d="M855.4 262.5L863.4 259.4L857.3 252.4L849.3 255.6Z" fill="#008fff"/><path d="M675.8 230L683.8 226.7L677.6 220.4L669.6 223.7Z" fill="#30ffcf"/><path d="M740.4 236.5L748.4 235.8L742.2 231L734.2 231.7Z" fill="#10ffef"/><path d="M805 249.3L813 251.1L806.8 244.1L798.8 247.3Z" fill="#00cfff"/><path d="M869.6 266.3L877.6 263.2L871.4 256.2L863.4 259.4Z" fill="#0080ff"/><path d="M690 232.9L697.9 229.6L691.8 223.3L683.8 226.7Z" fill="#20ffdf"/><path d="M754.6 240.6L762.5 239.9L756.4 235.1L748.4 235.8Z" fill="#00ffff"/><path d="M819.2 253.1L827.1 254.9L821 248L813 251.1Z" fill="#00bfff"/><path d="M883.8 270.1L891.7 275.2L885.6 268.2L877.6 263.2Z" fill="#0070ff"/><path d="M704.1 234.3L712.1 231L705.9 226.2L697.9 229.6Z" fill="#20ffdf"/><path d="M768.7 244.6L776.7 243.9L770.5 239.2L762.5 239.9Z" fill="#00efff"/><path d="M833.3 257L841.3 258.7L835.1 251.8L827.1 254.9Z" fill="#00afff"/><path d="M653.7 230.4L661.7 227.1L655.5 220.8L647.5 224.2Z" fill="#30ffcf"/><path d="M718.3 235.8L726.2 232.4L720.1 227.7L712.1 231Z" fill="#20ffdf"/><path d="M782.9 248.7L790.8 248L784.7 243.2L776.7 243.9Z" fill="#00dfff"/><path d="M847.5 260.8L855.4 262.5L849.3 255.6L841.3 258.7Z" fill="#009fff"/><path d="M667.8 233.3L675.8 230L669.6 223.7L661.7 227.1Z" fill="#20ffdf"/><path d="M732.4 237.2L740.4 236.5L734.2 231.7L726.2 232.4Z" fill="#10ffef"/><path d="M797 250L805 249.3L798.8 247.3L790.8 248Z" fill="#00cfff"/><path d="M861.6 264.6L869.6 266.3L863.4 259.4L855.4 262.5Z" fill="#008fff"/><path d="M682 236.2L690 232.9L683.8 226.7L675.8 230Z" fill="#20ffdf"/><path d="M746.6 241.3L754.6 240.6L748.4 235.8L740.4 236.5Z" fill="#00ffff"/><path d="M811.2 251.4L819.2 253.1L813 251.1L805 249.3Z" fill="#00cfff"/><path d="M875.8 268.4L883.8 270.1L877.6 263.2L869.6 266.3Z" fill="#0080ff"/><path d="M696.1 237.7L704.1 234.3L697.9 229.6L690 232.9Z" fill="#20ffdf"/><path d="M760.7 245.3L768.7 244.6L762.5 239.9L754.6 240.6Z" fill="#00efff"/><path d="M825.3 255.2L833.3 257L827.1 254.9L819.2 253.1Z" fill="#00bfff"/><path d="M710.3 239.1L718.3 235.8L712.1 231L704.1 234.3Z" fill="#10ffef"/><path d="M774.9 249.4L782.9 248.7L776.7 243.9L768.7 244.6Z" fill="#00dfff"/><path d="M659.8 236.7L667.8 233.3L661.7 227.1L653.7 230.4Z" fill="#20ffdf"/><path d="M839.5 259L847.5 260.8L841.3 258.7L833.3 257Z" fill="#00afff"/><path d="M724.4 240.6L732.4 237.2L726.2 232.4L718.3 235.8Z" fill="#10ffef"/><path d="M789 250.8L797 250L790.8 248L782.9 248.7Z" fill="#00dfff"/><path d="M674 239.6L682 236.2L675.8 230L667.8 233.3Z" fill="#10ffef"/><path d="M853.6 262.8L861.6 264.6L855.4 262.5L847.5 260.8Z" fill="#009fff"/><path d="M738.6 242L746.6 241.3L740.4 236.5L732.4 237.2Z" fill="#10ffef"/><path d="M803.2 252.1L811.2 251.4L805 249.3L797 250Z" fill="#00dfff"/><path d="M867.8 266.6L875.8 268.4L869.6 266.3L861.6 264.6Z" fill="#008fff"/><path d="M688.1 241L696.1 237.7L690 232.9L682 236.2Z" fill="#10ffef"/><path d="M752.7 246.1L760.7 245.3L754.6 240.6L746.6 241.3Z" fill="#00ffff"/><path d="M817.3 253.4L825.3 255.2L819.2 253.1L811.2 251.4Z" fill="#00dfff"/><path d="M702.3 242.5L710.3 239.1L704.1 234.3L696.1 237.7Z" fill="#10ffef"/><path d="M766.9 250.1L774.9 249.4L768.7 244.6L760.7 245.3Z" fill="#00efff"/><path d="M831.5 257.2L839.5 259L833.3 257L825.3 255.2Z" fill="#00cfff"/><path d="M716.4 243.9L724.4 240.6L718.3 235.8L710.3 239.1Z" fill="#10ffef"/><path d="M781 251.5L789 250.8L782.9 248.7L774.9 249.4Z" fill="#00efff"/><path d="M666 242.9L674 239.6L667.8 233.3L659.8 236.7Z" fill="#10ffef"/><path d="M845.6 261.1L853.6 262.8L847.5 260.8L839.5 259Z" fill="#00bfff"/><path d="M730.6 245.3L738.6 242L732.4 237.2L724.4 240.6Z" fill="#10ffef"/><path d="M795.2 252.8L803.2 252.1L797 250L789 250.8Z" fill="#00dfff"/><path d="M680.1 244.4L688.1 241L682 236.2L674 239.6Z" fill="#10ffef"/><path d="M859.8 264.9L867.8 266.6L861.6 264.6L853.6 262.8Z" fill="#00afff"/><path d="M744.7 246.8L752.7 246.1L746.6 241.3L738.6 242Z" fill="#00ffff"/><path d="M809.3 254.1L817.3 253.4L811.2 251.4L803.2 252.1Z" fill="#00dfff"/><path d="M694.3 245.8L702.3 242.5L696.1 237.7L688.1 241Z" fill="#10ffef"/><path d="M758.9 250.8L766.9 250.1L760.7 245.3L752.7 246.1Z" fill="#00efff"/><path d="M823.5 255.5L831.5 257.2L825.3 255.2L817.3 253.4Z" fill="#00dfff"/><path d="M708.4 247.2L716.4 243.9L710.3 239.1L702.3 242.5Z" fill="#00ffff"/><path d="M773 252.2L781 251.5L774.9 249.4L766.9 250.1Z" fill="#00efff"/><path d="M837.6 259.3L845.6 261.1L839.5 259L831.5 257.2Z" fill="#00cfff"/><path d="M722.6 248.7L730.6 245.3L724.4 240.6L716.4 243.9Z" fill="#00ffff"/><path d="M787.2 253.5L795.2 252.8L789 250.8L781 251.5Z" fill="#00efff"/><path d="M672.1 245.3L680.1 244.4L674 239.6L666 242.9Z" fill="#10ffef"/><path d="M851.8 263.1L859.8 264.9L853.6 262.8L845.6 261.1Z" fill="#00bfff"/><path d="M736.7 250.1L744.7 246.8L738.6 242L730.6 245.3Z" fill="#00ffff"/><path d="M801.3 254.9L809.3 254.1L803.2 252.1L795.2 252.8Z" fill="#00efff"/><path d="M686.3 246.8L694.3 245.8L688.1 241L680.1 244.4Z" fill="#10ffef"/><path d="M750.9 251.5L758.9 250.8L752.7 246.1L744.7 246.8Z" fill="#00ffff"/><path d="M815.5 256.2L823.5 255.5L817.3 253.4L809.3 254.1Z" fill="#00efff"/><path d="M700.4 248.2L708.4 247.2L702.3 242.5L694.3 245.8Z" fill="#10ffef"/><path d="M765 252.9L773 252.2L766.9 250.1L758.9 250.8Z" fill="#00ffff"/><path d="M829.6 257.5L837.6 259.3L831.5 257.2L823.5 255.5Z" fill="#00dfff"/><path d="M714.6 249.6L722.6 248.7L716.4 243.9L708.4 247.2Z" fill="#10ffef"/><path d="M779.2 254.2L787.2 253.5L781 251.5L773 252.2Z" fill="#00efff"/><path d="M843.8 261.3L851.8 263.1L845.6 261.1L837.6 259.3Z" fill="#00cfff"/><path d="M728.8 251.1L736.7 250.1L730.6 245.3L722.6 248.7Z" fill="#10ffef"/><path d="M678.3 247.7L686.3 246.8L680.1 244.4L672.1 245.3Z" fill="#20ffdf"/><path d="M793.3 255.6L801.3 254.9L795.2 252.8L787.2 253.5Z" fill="#00efff"/><path d="M742.9 252.5L750.9 251.5L744.7 246.8L736.7 250.1Z" fill="#00ffff"/><path d="M692.5 249.2L700.4 248.2L694.3 245.8L686.3 246.8Z" fill="#10ffef"/><path d="M807.5 256.9L815.5 256.2L809.3 254.1L801.3 254.9Z" fill="#00efff"/><path d="M757.1 257.9L765 252.9L758.9 250.8L750.9 251.5Z" fill="#00efff"/><path d="M706.6 250.6L714.6 249.6L708.4 247.2L700.4 248.2Z" fill="#10ffef"/><path d="M821.7 258.3L829.6 257.5L823.5 255.5L815.5 256.2Z" fill="#00efff"/><path d="M771.2 259.3L779.2 254.2L773 252.2L765 252.9Z" fill="#00efff"/><path d="M835.8 259.6L843.8 261.3L837.6 259.3L829.6 257.5Z" fill="#00efff"/><path d="M720.8 252L728.8 251.1L722.6 248.7L714.6 249.6Z" fill="#10ffef"/><path d="M785.4 260.6L793.3 255.6L787.2 253.5L779.2 254.2Z" fill="#00dfff"/><path d="M734.9 253.5L742.9 252.5L736.7 250.1L728.8 251.1Z" fill="#10ffef"/><path d="M799.5 262L807.5 256.9L801.3 254.9L793.3 255.6Z" fill="#00dfff"/><path d="M684.5 250.1L692.5 249.2L686.3 246.8L678.3 247.7Z" fill="#20ffdf"/><path d="M749.1 258.9L757.1 257.9L750.9 251.5L742.9 252.5Z" fill="#00efff"/><path d="M813.7 263.3L821.7 258.3L815.5 256.2L807.5 256.9Z" fill="#00dfff"/><path d="M698.6 251.6L706.6 250.6L700.4 248.2L692.5 249.2Z" fill="#20ffdf"/><path d="M763.2 264.3L771.2 259.3L765 252.9L757.1 257.9Z" fill="#00dfff"/><path d="M827.8 264.7L835.8 259.6L829.6 257.5L821.7 258.3Z" fill="#00dfff"/><path d="M712.8 253L720.8 252L714.6 249.6L706.6 250.6Z" fill="#20ffdf"/><path d="M777.4 265.7L785.4 260.6L779.2 254.2L771.2 259.3Z" fill="#00dfff"/><path d="M726.9 254.5L734.9 253.5L728.8 251.1L720.8 252Z" fill="#10ffef"/><path d="M791.5 267L799.5 262L793.3 255.6L785.4 260.6Z" fill="#00cfff"/><path d="M741.1 259.9L749.1 258.9L742.9 252.5L734.9 253.5Z" fill="#00ffff"/><path d="M805.7 268.4L813.7 263.3L807.5 256.9L799.5 262Z" fill="#00cfff"/><path d="M690.6 252.6L698.6 251.6L692.5 249.2L684.5 250.1Z" fill="#20ffdf"/><path d="M755.2 265.3L763.2 264.3L757.1 257.9L749.1 258.9Z" fill="#00dfff"/><path d="M819.8 269.7L827.8 264.7L821.7 258.3L813.7 263.3Z" fill="#00cfff"/><path d="M704.8 254L712.8 253L706.6 250.6L698.6 251.6Z" fill="#20ffdf"/><path d="M769.4 270.7L777.4 265.7L771.2 259.3L763.2 264.3Z" fill="#00cfff"/><path d="M718.9 255.4L726.9 254.5L720.8 252L712.8 253Z" fill="#20ffdf"/><path d="M783.5 272.1L791.5 267L785.4 260.6L777.4 265.7Z" fill="#00cfff"/><path d="M733.1 260.9L741.1 259.9L734.9 253.5L726.9 254.5Z" fill="#00ffff"/><path d="M797.7 273.4L805.7 268.4L799.5 262L791.5 267Z" fill="#00bfff"/><path d="M747.2 266.3L755.2 265.3L749.1 258.9L741.1 259.9Z" fill="#00efff"/><path d="M811.8 274.8L819.8 269.7L813.7 263.3L805.7 268.4Z" fill="#00bfff"/><path d="M696.8 255L704.8 254L698.6 251.6L690.6 252.6Z" fill="#20ffdf"/><path d="M761.4 271.7L769.4 270.7L763.2 264.3L755.2 265.3Z" fill="#00cfff"/><path d="M710.9 256.4L718.9 255.4L712.8 253L704.8 254Z" fill="#20ffdf"/><path d="M775.5 277.1L783.5 272.1L777.4 265.7L769.4 270.7Z" fill="#00bfff"/><path d="M725.1 261.8L733.1 260.9L726.9 254.5L718.9 255.4Z" fill="#10ffef"/><path d="M789.7 278.5L797.7 273.4L791.5 267L783.5 272.1Z" fill="#00bfff"/><path d="M739.2 267.3L747.2 266.3L741.1 259.9L733.1 260.9Z" fill="#00efff"/><path d="M803.8 279.8L811.8 274.8L805.7 268.4L797.7 273.4Z" fill="#00afff"/><path d="M753.4 272.7L761.4 271.7L755.2 265.3L747.2 266.3Z" fill="#00dfff"/><path d="M702.9 257.4L710.9 256.4L704.8 254L696.8 255Z" fill="#30ffcf"/><path d="M767.5 278.1L775.5 277.1L769.4 270.7L761.4 271.7Z" fill="#00bfff"/><path d="M717.1 262.8L725.1 261.8L718.9 255.4L710.9 256.4Z" fill="#10ffef"/><path d="M781.7 283.6L789.7 278.5L783.5 272.1L775.5 277.1Z" fill="#00afff"/><path d="M731.2 268.2L739.2 267.3L733.1 260.9L725.1 261.8Z" fill="#00ffff"/><path d="M795.8 284.9L803.8 279.8L797.7 273.4L789.7 278.5Z" fill="#009fff"/><path d="M745.4 273.7L753.4 272.7L747.2 266.3L739.2 267.3Z" fill="#00dfff"/><path d="M759.6 279.1L767.5 278.1L761.4 271.7L753.4 272.7Z" fill="#00cfff"/><path d="M773.7 284.5L781.7 283.6L775.5 277.1L767.5 278.1Z" fill="#00afff"/><path d="M709.1 262.8L717.1 262.8L710.9 256.4L702.9 257.4Z" fill="#20ffdf"/><path d="M723.3 268.3L731.2 268.2L725.1 261.8L717.1 262.8Z" fill="#00ffff"/><path d="M787.9 290L795.8 284.9L789.7 278.5L781.7 283.6Z" fill="#009fff"/><path d="M737.4 273.7L745.4 273.7L739.2 267.3L731.2 268.2Z" fill="#00efff"/><path d="M751.6 279.1L759.6 279.1L753.4 272.7L745.4 273.7Z" fill="#00cfff"/><path d="M765.7 284.6L773.7 284.5L767.5 278.1L759.6 279.1Z" fill="#00bfff"/><path d="M779.9 290L787.9 290L781.7 283.6L773.7 284.5Z" fill="#009fff"/><path d="M715.3 268.3L723.3 268.3L717.1 262.8L709.1 262.8Z" fill="#10ffef"/><path d="M729.4 273.7L737.4 273.7L731.2 268.2L723.3 268.3Z" fill="#00ffff"/><path d="M743.6 279.2L751.6 279.1L745.4 273.7L737.4 273.7Z" fill="#00dfff"/><path d="M757.7 284.6L765.7 284.6L759.6 279.1L751.6 279.1Z" fill="#00cfff"/><path d="M771.9 290L779.9 290L773.7 284.5L765.7 284.6Z" fill="#00afff"/><path d="M721.4 273.8L729.4 273.7L723.3 268.3L715.3 268.3Z" fill="#10ffef"/><path d="M735.6 279.2L743.6 279.2L737.4 273.7L729.4 273.7Z" fill="#00efff"/><path d="M749.7 284.6L757.7 284.6L751.6 279.1L743.6 279.2Z" fill="#00cfff"/><path d="M763.9 290L771.9 290L765.7 284.6L757.7 284.6Z" fill="#00bfff"/><path d="M727.6 279.2L735.6 279.2L729.4 273.7L721.4 273.8Z" fill="#00ffff"/><path d="M741.7 284.7L749.7 284.6L743.6 279.2L735.6 279.2Z" fill="#00dfff"/><path d="M755.9 290.1L763.9 290L757.7 284.6L749.7 284.6Z" fill="#00cfff"/><path d="M733.8 284.7L741.7 284.7L735.6 279.2L727.6 279.2Z" fill="#00efff"/><path d="M747.9 290.1L755.9 290.1L749.7 284.6L741.7 284.7Z" fill="#00dfff"/><path d="M739.9 290.1L747.9 290.1L741.7 284.7L733.8 284.7Z" fill="#00dfff"/></g>
<path d="M563.8 279.2L563.8 83.9M563.8 279.2L736.2 369.2L960 300.8M723.9 362.8L718.2 364.6M752.2 364.4L757.6 367.1M687 343.5L681.2 345.3M800.2 349.7L805.5 352.5M650 324.2L644.3 326M848.1 335L853.4 337.8M613 305L607.3 306.7M896.1 320.3L901.4 323.1M576.1 285.7L570.3 287.4M944 305.6L949.3 308.4M563.8 268.6L558.9 266M563.8 242.5L558.9 240M563.8 216.5L558.9 213.9M563.8 190.4L558.9 187.9M563.8 164.4L558.9 161.8M563.8 138.3L558.9 135.8M563.8 112.3L558.9 109.7M563.8 86.2L558.9 83.7" stroke="#303030" stroke-width="0.95" fill="none"/>
<linearGradient id="gb" x1="0" y1="0" x2="0" y2="1"><stop offset="0.0000" stop-color="#800000"/><stop offset="0.0156" stop-color="#800000"/><stop offset="0.0156" stop-color="#8f0000"/><stop offset="0.0312" stop-color="#8f0000"/><stop offset="0.0312" stop-color="#9f0000"/><stop offset="0.0469" stop-color="#9f0000"/><stop offset="0.0469" stop-color="#af0000"/><stop offset="0.0625" stop-color="#af0000"/><stop offset="0.0625" stop-color="#bf0000"/><stop offset="0.0781" stop-color="#bf0000"/><stop offset="0.0781" stop-color="#cf0000"/><stop offset="0.0938" stop-color="#cf0000"/><stop offset="0.0938" stop-color="#df0000"/><stop offset="0.1094" stop-color="#df0000"/><stop offset="0.1094" stop-color="#ef0000"/><stop offset="0.1250" stop-color="#ef0000"/><stop offset="0.1250" stop-color="#ff0000"/><stop offset="0.1406" stop-color="#ff0000"/><stop offset="0.1406" stop-color="#ff1000"/><stop offset="0.1562" stop-color="#ff1000"/><stop offset="0.1562" stop-color="#ff2000"/><stop offset="0.1719" stop-color="#ff2000"/><stop offset="0.1719" stop-color="#ff3000"/><stop offset="0.1875" stop-color="#ff3000"/><stop offset="0.1875" stop-color="#ff4000"/><stop offset="0.2031" stop-color="#ff4000"/><stop offset="0.2031" stop-color="#ff5000"/><stop offset="0.2188" stop-color="#ff5000"/><stop offset="0.2188" stop-color="#ff6000"/><stop offset="0.2344" stop-color="#ff6000"/><stop offset="0.2344" stop-color="#ff7000"/><stop offset="0.2500" stop-color="#ff7000"/><stop offset="0.2500" stop-color="#ff8000"/><stop offset="0.2656" stop-color="#ff8000"/><stop offset="0.2656" stop-color="#ff8f00"/><stop offset="0.2812" stop-color="#ff8f00"/><stop offset="0.2812" stop-color="#ff9f00"/><stop offset="0.2969" stop-color="#ff9f00"/><stop offset="0.2969" stop-color="#ffaf00"/><stop offset="0.3125" stop-color="#ffaf00"/><stop offset="0.3125" stop-color="#ffbf00"/><stop offset="0.3281" stop-color="#ffbf00"/><stop offset="0.3281" stop-color="#ffcf00"/><stop offset="0.3438" stop-color="#ffcf00"/><stop offset="0.3438" stop-color="#ffdf00"/><stop offset="0.3594" stop-color="#ffdf00"/><stop offset="0.3594" stop-color="#ffef00"/><stop offset="0.3750" stop-color="#ffef00"/><stop offset="0.3750" stop-color="#ffff00"/><stop offset="0.3906" stop-color="#ffff00"/><stop offset="0.3906" stop-color="#efff10"/><stop offset="0.4062" stop-color="#efff10"/><stop offset="0.4062" stop-color="#dfff20"/><stop offset="0.4219" stop-color="#dfff20"/><stop offset="0.4219" stop-color="#cfff30"/><stop offset="0.4375" stop-color="#cfff30"/><stop offset="0.4375" stop-color="#bfff40"/><stop offset="0.4531" stop-color="#bfff40"/><stop offset="0.4531" stop-color="#afff50"/><stop offset="0.4688" stop-color="#afff50"/><stop offset="0.4688" stop-color="#9fff60"/><stop offset="0.4844" stop-color="#9fff60"/><stop offset="0.4844" stop-color="#8fff70"/><stop offset="0.5000" stop-color="#8fff70"/><stop offset="0.5000" stop-color="#80ff80"/><stop offset="0.5156" stop-color="#80ff80"/><stop offset="0.5156" stop-color="#70ff8f"/><stop offset="0.5312" stop-color="#70ff8f"/><stop offset="0.5312" stop-color="#60ff9f"/><stop offset="0.5469" stop-color="#60ff9f"/><stop offset="0.5469" stop-color="#50ffaf"/><stop offset="0.5625" stop-color="#50ffaf"/><stop offset="0.5625" stop-color="#40ffbf"/><stop offset="0.5781" stop-color="#40ffbf"/><stop offset="0.5781" stop-color="#30ffcf"/><stop offset="0.5938" stop-color="#30ffcf"/><stop offset="0.5938" stop-color="#20ffdf"/><stop offset="0.6094" stop-color="#20ffdf"/><stop offset="0.6094" stop-color="#10ffef"/><stop offset="0.6250" stop-color="#10ffef"/><stop offset="0.6250" stop-color="#00ffff"/><stop offset="0.6406" stop-color="#00ffff"/><stop offset="0.6406" stop-color="#00efff"/><stop offset="0.6562" stop-color="#00efff"/><stop offset="0.6562" stop-color="#00dfff"/><stop offset="0.6719" stop-color="#00dfff"/><stop offset="0.6719" stop-color="#00cfff"/><stop offset="0.6875" stop-color="#00cfff"/><stop offset="0.6875" stop-color="#00bfff"/><stop offset="0.7031" stop-color="#00bfff"/><stop offset="0.7031" stop-color="#00afff"/><stop offset="0.7188" stop-color="#00afff"/><stop offset="0.7188" stop-color="#009fff"/><stop offset="0.7344" stop-color="#009fff"/><stop offset="0.7344" stop-color="#008fff"/><stop offset="0.7500" stop-color="#008fff"/><stop offset="0.7500" stop-color="#0080ff"/><stop offset="0.7656" stop-color="#0080ff"/><stop offset="0.7656" stop-color="#0070ff"/><stop offset="0.7812" stop-color="#0070ff"/><stop offset="0.7812" stop-color="#0060ff"/><stop offset="0.7969" stop-color="#0060ff"/><stop offset="0.7969" stop-color="#0050ff"/><stop offset="0.8125" stop-color="#0050ff"/><stop offset="0.8125" stop-color="#0040ff"/><stop offset="0.8281" stop-color="#0040ff"/><stop offset="0.8281" stop-color="#0030ff"/><stop offset="0.8438" stop-color="#0030ff"/><stop offset="0.8438" stop-color="#0020ff"/><stop offset="0.8594" stop-color="#0020ff"/><stop offset="0.8594" stop-color="#0010ff"/><stop offset="0.8750" stop-color="#0010ff"/><stop offset="0.8750" stop-color="#0000ff"/><stop offset="0.8906" stop-color="#0000ff"/><stop offset="0.8906" stop-color="#0000ef"/><stop offset="0.9062" stop-color="#0000ef"/><stop offset="0.9062" stop-color="#0000df"/><stop offset="0.9219" stop-color="#0000df"/><stop offset="0.9219" stop-color="#0000cf"/><stop offset="0.9375" stop-color="#0000cf"/><stop offset="0.9375" stop-color="#0000bf"/><stop offset="0.9531" stop-color="#0000bf"/><stop offset="0.9531" stop-color="#0000af"/><stop offset="0.9688" stop-color="#0000af"/><stop offset="0.9688" stop-color="#00009f"/><stop offset="0.9844" stop-color="#00009f"/><stop offset="0.9844" stop-color="#00008f"/><stop offset="1.0000" stop-color="#00008f"/></linearGradient>
<rect x="975.1" y="14.8" width="20.6" height="354.7" fill="url(#gb)"/>
<path d="M975.1 351.4h3.5M995.7 351.4h-3.5M975.1 304.4h3.5M995.7 304.4h-3.5M975.1 257.5h3.5M995.7 257.5h-3.5M975.1 210.6h3.5M995.7 210.6h-3.5M975.1 163.6h3.5M995.7 163.6h-3.5M975.1 116.7h3.5M995.7 116.7h-3.5M975.1 69.7h3.5M995.7 69.7h-3.5M975.1 22.8h3.5M995.7 22.8h-3.5" stroke="#111" stroke-width="1" fill="none"/>
<rect x="975.1" y="14.8" width="20.6" height="354.7" fill="none" stroke="#222" stroke-width="0.9"/>
<g font-family="Liberation Sans" font-size="10.3" fill="#222"><text x="715.1" y="375" text-anchor="end">−0.6</text><text x="758.7" y="377.6">−0.6</text><text x="678.2" y="355.7" text-anchor="end">−0.3</text><text x="806.7" y="362.9">−0.3</text><text x="641.2" y="336.4" text-anchor="end">0</text><text x="854.6" y="348.2">0</text><text x="604.2" y="317.2" text-anchor="end">0.3</text><text x="902.6" y="333.5">0.3</text><text x="567.3" y="297.9" text-anchor="end">0.6</text><text x="950.5" y="318.8">0.6</text><text x="555.9" y="269.8" text-anchor="end">0.25</text><text x="555.9" y="243.7" text-anchor="end">0.3</text><text x="555.9" y="217.7" text-anchor="end">0.35</text><text x="555.9" y="191.6" text-anchor="end">0.4</text><text x="555.9" y="165.6" text-anchor="end">0.45</text><text x="555.9" y="139.5" text-anchor="end">0.5</text><text x="555.9" y="113.5" text-anchor="end">0.55</text><text x="555.9" y="87.4" text-anchor="end">0.6</text><text x="998.9" y="355.1">0.25</text><text x="998.9" y="308.1">0.3</text><text x="998.9" y="261.2">0.35</text><text x="998.9" y="214.3">0.4</text><text x="998.9" y="167.3">0.45</text><text x="998.9" y="120.4">0.5</text><text x="998.9" y="73.4">0.55</text><text x="998.9" y="26.5">0.6</text></g>
<text x="638.5" y="386.7" font-family="Liberation Serif" font-size="13.5" fill="#111">ρ</text>
<text x="840" y="393.7" font-family="Liberation Serif" font-size="14" fill="#111">λ</text>
<clipPath id="rb"><rect x="527.3" y="151.5" width="6" height="60"/></clipPath>
<g clip-path="url(#rb)"><text transform="translate(529.9 181.5) rotate(-90)" text-anchor="middle" font-family="Liberation Sans" font-size="11" fill="#111">RMSE</text></g>
<text x="781.4" y="438.9" text-anchor="middle" font-family="Liberation Serif" font-size="27" fill="#111">(<tspan font-weight="bold">b</tspan>)</text>
<path d="M237 834.4L64.2 740.7M208.7 832.8L432.7 761.6M64.2 740.7L64.2 535.6M432.7 761.6L432.7 556.5M285 819.1L112.2 725.4M171.6 812.7L395.6 741.5M112.2 725.4L112.2 520.4M395.6 741.5L395.6 536.4M333 803.9L160.2 710.1M134.6 792.6L358.6 721.4M160.2 710.1L160.2 505.1M358.6 721.4L358.6 516.3M381 788.6L208.2 694.9M97.6 772.5L321.6 701.3M208.2 694.9L208.2 489.8M321.6 701.3L321.6 496.3M429 773.3L256.2 679.6M60.6 752.4L284.6 681.2M256.2 679.6L256.2 474.6M284.6 681.2L284.6 476.2M48.2 725.9L272.2 654.7M272.2 654.7L445 748.4M48.2 704.1L272.2 632.9M272.2 632.9L445 726.6M48.2 682.3L272.2 611.1M272.2 611.1L445 704.8M48.2 660.5L272.2 589.3M272.2 589.3L445 683M48.2 638.7L272.2 567.5M272.2 567.5L445 661.2M48.2 616.9L272.2 545.7M272.2 545.7L445 639.4M48.2 595.1L272.2 523.9M272.2 523.9L445 617.6M48.2 573.3L272.2 502.1M272.2 502.1L445 595.8M48.2 551.5L272.2 480.3M272.2 480.3L445 574" stroke="#9a9a9a" stroke-width="1" stroke-dasharray="1 3.2" fill="none"/>
<clipPath id="cc"><rect x="48.2" y="439.5" width="396.8" height="400"/></clipPath>
<g clip-path="url(#cc)">
<path d="M313.4 834.2 309.7 830 304.9 826.2 300 822.5 295.1 818.7 291.9 816.2 295.8 813.2 291.4 809.3 284.3 806.2 277.2 803.2 270.1 800.1 263 797.1 256 794 249.3 790.8 244.4 790.5 236 789.7 229.3 789.2 222.9 788.6 214.2 787.8 209.8 787.5 199.1 786.5 196.7 786.3 184 785.2 183.5 785.2 170.4 784 169.1 784 156 783.8 152.5 784.4 146.4 785.5 134.6 786 130.8 786 122.2 786.1 113.4 786.2 109.8 786.3 97.5 786.5 96 786.5 85.1 786.6" stroke="#0000ef" stroke-width="1" fill="none"/>
<path d="M140.5 761.7 140.7 761.7 154.1 762.7 155.3 762.8 167.7 763.7 170 763.8 181.3 764.6 184.6 764.9 194.9 765.6 199.2 765.9 208.7 764.2 218.2 762.5 226.1 761 227.7 760.7 237.2 759 246.7 757.3 257 756 264.5 753.2 272 750.4 279.6 747.6 287.1 744.8 294.6 742 303.2 739.7" stroke="#0000ef" stroke-width="1" fill="none"/>
<path d="M299.9 838.5 296.9 834.1 295.4 831.9 293.7 829.8 288.8 826 283.9 822.3 279 818.5 274.2 814.8 266.6 811.9 259.6 808.8 253.2 805.5 246.8 802.2 240.4 798.9 234 795.7 227.9 795.3 220.1 794.8 213.6 794.4 206.2 793.9 199.2 793.5 192.2 793 184.8 792.6 178.3 792.1 170.5 791.6 161.5 792.2 159.1 792.3 147.7 793.1 140.7 793.5 135.9 793.5 123.5 793.7 123.3 793.7 111.1 793.9 105.9 793.9 98.7 794" stroke="#0050ff" stroke-width="1" fill="none"/>
<path d="M158.1 756.1 170 757 171.7 757.1 184.6 758 186.5 757.7 194.1 756.3 203.6 754.5 214.2 753.4 216.8 753.4 226.3 753.1 235 752.9 238.5 752.8 250.6 752.5 258.1 749.7 265.6 746.9 273.2 744.1 280.7 741.3 289.2 739 298.8 737.4" stroke="#0050ff" stroke-width="1" fill="none"/>
<path d="M286.4 842.7 284.2 839.6 283.4 838.4 280.4 834 277.5 829.6 275.5 828 272.7 825.8 267.8 822.1 263 818.3 255.4 815.4 247.8 812.5 245.2 811.6 240.2 809.6 233.6 806.4 227.2 803.2 220.8 799.9 209.7 799.2 206.9 799 195.4 798.3 192.9 798.1 181 797.4 178.1 797.5 169.6 798.1 158.2 798.8 157.3 798.8 146.8 799.5 136.6 800.1 135.4 800.2 124 800.9 115.8 801.4 112.4 801.4" stroke="#00bfff" stroke-width="1" fill="none"/>
<path d="M174.8 750.8 183.6 750.6 192.9 750.3 195.7 750.3 207.8 749.9 211.1 749.9 219.9 749.6 229.2 749.4 232.1 749.3 244.2 749 251.7 746.2 259.2 743.4 266.8 740.6 275.2 738.3 284.8 736.6 287.4 736.2 294.4 735" stroke="#00bfff" stroke-width="1" fill="none"/>
<path d="M272.9 847 269.9 842.7 266.9 838.3 265.7 836.4 264 833.9 261 829.6 256.6 825.6 252.3 822.3 251.8 821.9 251.1 821.6 244.2 819 236.6 816.1 229 813.2 221.4 810.3 214 807.4 207.6 804.1 205.9 804 193.6 803.2 191.5 803.1 180.1 803.8 173.9 804.2 168.7 804.5 157.4 805.2 152.8 805.6 146.3 806.1 135.1 806.9 131.1 807.2 123.9 807.7" stroke="#30ffcf" stroke-width="1" fill="none"/>
<path d="M187.2 746.8 189.3 746.8 201.4 746.5 205.3 746.4 213.6 746.2 223.5 745.9 225.7 745.9 237.8 745.5 245.3 742.7 252.8 740 261.2 737.6 270.8 735.9 272.4 735.7 280.4 734.3 290 732.6" stroke="#30ffcf" stroke-width="1" fill="none"/>
<path d="M263.4 850.1 257.6 846.6 256 844.9 254 842.4 250.8 838.1 247.6 833.9 247.1 833.2 244.5 829.5 240.6 825.5 233 822.6 225.4 819.7 217.8 816.8 214.4 815.5 209 814.3 199.2 812.1 192.7 810.6 189.4 809.9 179.9 810.6 168.7 811.4 167.7 811.4 157.6 812.2 146.4 813 146 813 135.2 813.8" stroke="#9fff60" stroke-width="1" fill="none"/>
<path d="M199.6 742.9 207.2 742.7 217.8 742.4 219.3 742.4 231.4 742.1 238.9 739.3 247.2 736.9 256.8 735.2 257.4 735.1 266.4 733.5 276 731.9 285.6 730.2" stroke="#9fff60" stroke-width="1" fill="none"/>
<path d="M253.9 853.1 248.1 849.6 242.3 846.1 238.9 842.5 238.5 842 235.2 837.8 232 833.5 230 830.8 228.8 829.2 226.5 829 216.5 827.8 210.4 827.1 204.2 826.4 194.3 825.3 191.9 825 180.6 823.3 176.2 822.3 170.8 821.1 161 818.9 157.7 819.1 146.5 820" stroke="#ffff00" stroke-width="1" fill="none"/>
<path d="M212 738.9 212.9 738.9 225 738.6 233.2 736.2 242.4 734.6 242.8 734.5 252.4 732.8 262 731.2 271.6 729.5 279.4 728.1 281.2 727.8" stroke="#ffff00" stroke-width="1" fill="none"/>
<path d="M244.5 856.1 238.7 852.6 232.9 849.1 227.1 845.7 222.9 841.7 221.8 840.2 219.7 837.4 216.4 833.1 206.8 832 204.2 831.7 191.9 830.3 190.7 830.2 179.6 828.9 174.6 828.3 167.4 827.5 158.5 826.5" stroke="#ff8f00" stroke-width="1" fill="none"/>
<path d="M227.4 734 228.8 733.8 238.4 732.1 248 730.4 257.6 728.8 264.4 727.6 267.2 727.1 276.8 725.4" stroke="#ff8f00" stroke-width="1" fill="none"/>
<path d="M235.1 859.1 229.3 855.6 223.5 852.1 217.7 848.7 211.9 845.2 207.4 841.3 204.7 837.8 204.1 837 203.1 836.9 191.9 835.6 187.1 835.1 179.6 834.2 171 833.2" stroke="#ff2000" stroke-width="1" fill="none"/>
<path d="M249.4 727.1 253.2 726.4 262.8 724.7 272.4 723" stroke="#ff2000" stroke-width="1" fill="none"/>
<path d="M225.7 862.1 219.9 858.6 214.1 855.1 208.3 851.7 202.4 848.2 196.6 844.7 191.8 841 183.4 840" stroke="#af0000" stroke-width="1" fill="none"/>
</g>
<g stroke="#000" stroke-width="0.75" stroke-linejoin="round"><path d="M266.8 539.2L274.8 528.7L268.6 494.8L260.6 505.3Z" fill="#ff8000"/><path d="M258.8 549.7L266.8 539.2L260.6 505.3L252.6 515.7Z" fill="#ff9f00"/><path d="M272.9 573.1L280.9 562.6L274.8 528.7L266.8 539.2Z" fill="#dfff20"/><path d="M250.8 560.1L258.8 549.7L252.6 515.7L244.6 526.2Z" fill="#ffcf00"/><path d="M264.9 583.6L272.9 573.1L266.8 539.2L258.8 549.7Z" fill="#bfff40"/><path d="M279.1 607L287.1 596.5L280.9 562.6L272.9 573.1Z" fill="#50ffaf"/><path d="M242.8 570.6L250.8 560.1L244.6 526.2L236.6 536.7Z" fill="#ffef00"/><path d="M256.9 594.1L264.9 583.6L258.8 549.7L250.8 560.1Z" fill="#9fff60"/><path d="M271.1 617.5L279.1 607L272.9 573.1L264.9 583.6Z" fill="#30ffcf"/><path d="M285.3 640.9L293.3 630.5L287.1 596.5L279.1 607Z" fill="#00afff"/><path d="M234.8 581.1L242.8 570.6L236.6 536.7L228.6 547.2Z" fill="#dfff20"/><path d="M248.9 604.6L256.9 594.1L250.8 560.1L242.8 570.6Z" fill="#70ff8f"/><path d="M263.1 628L271.1 617.5L264.9 583.6L256.9 594.1Z" fill="#00ffff"/><path d="M277.3 651.4L285.3 640.9L279.1 607L271.1 617.5Z" fill="#008fff"/><path d="M291.4 674.9L299.4 664.4L293.3 630.5L285.3 640.9Z" fill="#0020ff"/><path d="M226.8 582.1L234.8 581.1L228.6 547.2L220.6 557.7Z" fill="#efff10"/><path d="M240.9 605.5L248.9 604.6L242.8 570.6L234.8 581.1Z" fill="#80ff80"/><path d="M255.1 628.9L263.1 628L256.9 594.1L248.9 604.6Z" fill="#10ffef"/><path d="M269.3 652.4L277.3 651.4L271.1 617.5L263.1 628Z" fill="#008fff"/><path d="M283.4 675.8L291.4 674.9L285.3 640.9L277.3 651.4Z" fill="#0020ff"/><path d="M218.8 598.6L226.8 582.1L220.6 557.7L212.6 574.3Z" fill="#9fff60"/><path d="M297.6 699.3L305.6 698.3L299.4 664.4L291.4 674.9Z" fill="#0000af"/><path d="M232.9 606.4L240.9 605.5L234.8 581.1L226.8 582.1Z" fill="#80ff80"/><path d="M247.1 629.9L255.1 628.9L248.9 604.6L240.9 605.5Z" fill="#10ffef"/><path d="M261.3 653.3L269.3 652.4L263.1 628L255.1 628.9Z" fill="#009fff"/><path d="M210.8 615.2L218.8 598.6L212.6 574.3L204.6 590.8Z" fill="#60ff9f"/><path d="M275.4 676.8L283.4 675.8L277.3 651.4L269.3 652.4Z" fill="#0030ff"/><path d="M289.6 700.2L297.6 699.3L291.4 674.9L283.4 675.8Z" fill="#0000bf"/><path d="M224.9 623L232.9 606.4L226.8 582.1L218.8 598.6Z" fill="#40ffbf"/><path d="M303.8 703.6L311.8 702.7L305.6 698.3L297.6 699.3Z" fill="#0000af"/><path d="M239.1 630.8L247.1 629.9L240.9 605.5L232.9 606.4Z" fill="#20ffdf"/><path d="M253.3 654.3L261.3 653.3L255.1 628.9L247.1 629.9Z" fill="#009fff"/><path d="M202.8 631.8L210.8 615.2L204.6 590.8L196.6 607.4Z" fill="#20ffdf"/><path d="M267.4 677.7L275.4 676.8L269.3 652.4L261.3 653.3Z" fill="#0030ff"/><path d="M216.9 639.6L224.9 623L218.8 598.6L210.8 615.2Z" fill="#00efff"/><path d="M281.6 701.1L289.6 700.2L283.4 675.8L275.4 676.8Z" fill="#0000bf"/><path d="M231.1 647.4L239.1 630.8L232.9 606.4L224.9 623Z" fill="#00cfff"/><path d="M295.8 704.6L303.8 703.6L297.6 699.3L289.6 700.2Z" fill="#0000bf"/><path d="M245.3 655.2L253.3 654.3L247.1 629.9L239.1 630.8Z" fill="#00afff"/><path d="M309.9 708L317.9 707L311.8 702.7L303.8 703.6Z" fill="#0000af"/><path d="M194.8 648.4L202.8 631.8L196.6 607.4L188.6 624Z" fill="#00cfff"/><path d="M259.4 678.7L267.4 677.7L261.3 653.3L253.3 654.3Z" fill="#0040ff"/><path d="M208.9 656.2L216.9 639.6L210.8 615.2L202.8 631.8Z" fill="#00afff"/><path d="M273.6 702.1L281.6 701.1L275.4 676.8L267.4 677.7Z" fill="#0000cf"/><path d="M223.1 664L231.1 647.4L224.9 623L216.9 639.6Z" fill="#008fff"/><path d="M287.8 705.5L295.8 704.6L289.6 700.2L281.6 701.1Z" fill="#0000bf"/><path d="M237.3 671.8L245.3 655.2L239.1 630.8L231.1 647.4Z" fill="#0070ff"/><path d="M301.9 708.9L309.9 708L303.8 703.6L295.8 704.6Z" fill="#0000af"/><path d="M186.8 665L194.8 648.4L188.6 624L180.6 640.6Z" fill="#008fff"/><path d="M251.4 679.6L259.4 678.7L253.3 654.3L245.3 655.2Z" fill="#0040ff"/><path d="M316.1 712.4L324.1 711.4L317.9 707L309.9 708Z" fill="#00009f"/><path d="M200.9 672.8L208.9 656.2L202.8 631.8L194.8 648.4Z" fill="#0070ff"/><path d="M265.6 703L273.6 702.1L267.4 677.7L259.4 678.7Z" fill="#0000cf"/><path d="M215.1 680.6L223.1 664L216.9 639.6L208.9 656.2Z" fill="#0040ff"/><path d="M279.8 706.5L287.8 705.5L281.6 701.1L273.6 702.1Z" fill="#0000cf"/><path d="M229.3 688.4L237.3 671.8L231.1 647.4L223.1 664Z" fill="#0020ff"/><path d="M293.9 709.9L301.9 708.9L295.8 704.6L287.8 705.5Z" fill="#0000bf"/><path d="M178.8 669.8L186.8 665L180.6 640.6L172.6 657.2Z" fill="#0080ff"/><path d="M243.4 696.2L251.4 679.6L245.3 655.2L237.3 671.8Z" fill="#0000ff"/><path d="M308.1 713.3L316.1 712.4L309.9 708L301.9 708.9Z" fill="#0000af"/><path d="M192.9 677.6L200.9 672.8L194.8 648.4L186.8 665Z" fill="#0060ff"/><path d="M257.6 704L265.6 703L259.4 678.7L251.4 679.6Z" fill="#0000df"/><path d="M322.3 716.7L330.3 715.8L324.1 711.4L316.1 712.4Z" fill="#00009f"/><path d="M207.1 685.4L215.1 680.6L208.9 656.2L200.9 672.8Z" fill="#0040ff"/><path d="M271.8 707.4L279.8 706.5L273.6 702.1L265.6 703Z" fill="#0000cf"/><path d="M221.3 693.2L229.3 688.4L223.1 664L215.1 680.6Z" fill="#0020ff"/><path d="M285.9 710.8L293.9 709.9L287.8 705.5L279.8 706.5Z" fill="#0000bf"/><path d="M170.8 682.2L178.8 669.8L172.6 657.2L164.6 669.7Z" fill="#0050ff"/><path d="M235.4 700.9L243.4 696.2L237.3 671.8L229.3 688.4Z" fill="#0000ef"/><path d="M300.1 714.2L308.1 713.3L301.9 708.9L293.9 709.9Z" fill="#0000af"/><path d="M184.9 682.3L192.9 677.6L186.8 665L178.8 669.8Z" fill="#0050ff"/><path d="M249.6 708.7L257.6 704L251.4 679.6L243.4 696.2Z" fill="#0000cf"/><path d="M199.1 690.1L207.1 685.4L200.9 672.8L192.9 677.6Z" fill="#0030ff"/><path d="M314.3 717.7L322.3 716.7L316.1 712.4L308.1 713.3Z" fill="#0000af"/><path d="M263.8 709.7L271.8 707.4L265.6 703L257.6 704Z" fill="#0000cf"/><path d="M213.3 697.9L221.3 693.2L215.1 680.6L207.1 685.4Z" fill="#0010ff"/><path d="M328.5 721.1L336.5 720.1L330.3 715.8L322.3 716.7Z" fill="#00009f"/><path d="M162.8 694.7L170.8 682.2L164.6 669.7L156.6 682.1Z" fill="#0020ff"/><path d="M277.9 713.2L285.9 710.8L279.8 706.5L271.8 707.4Z" fill="#0000bf"/><path d="M227.4 705.7L235.4 700.9L229.3 688.4L221.3 693.2Z" fill="#0000ef"/><path d="M176.9 694.8L184.9 682.3L178.8 669.8L170.8 682.2Z" fill="#0020ff"/><path d="M292.1 716.6L300.1 714.2L293.9 709.9L285.9 710.8Z" fill="#0000bf"/><path d="M241.6 713.5L249.6 708.7L243.4 696.2L235.4 700.9Z" fill="#0000cf"/><path d="M191.1 694.9L199.1 690.1L192.9 677.6L184.9 682.3Z" fill="#0020ff"/><path d="M306.3 720L314.3 717.7L308.1 713.3L300.1 714.2Z" fill="#0000af"/><path d="M255.8 714.5L263.8 709.7L257.6 704L249.6 708.7Z" fill="#0000bf"/><path d="M205.3 702.7L213.3 697.9L207.1 685.4L199.1 690.1Z" fill="#0000ff"/><path d="M320.5 723.4L328.5 721.1L322.3 716.7L314.3 717.7Z" fill="#00009f"/><path d="M154.8 707.1L162.8 694.7L156.6 682.1L148.6 694.6Z" fill="#0000ef"/><path d="M269.9 715.5L277.9 713.2L271.8 707.4L263.8 709.7Z" fill="#0000bf"/><path d="M219.4 710.5L227.4 705.7L221.3 693.2L213.3 697.9Z" fill="#0000df"/><path d="M334.6 726.8L342.6 724.5L336.5 720.1L328.5 721.1Z" fill="#00008f"/><path d="M168.9 707.2L176.9 694.8L170.8 682.2L162.8 694.7Z" fill="#0000ef"/><path d="M284.1 718.9L292.1 716.6L285.9 710.8L277.9 713.2Z" fill="#0000bf"/><path d="M233.6 718.3L241.6 713.5L235.4 700.9L227.4 705.7Z" fill="#0000bf"/><path d="M183.1 707.3L191.1 694.9L184.9 682.3L176.9 694.8Z" fill="#0000ef"/><path d="M298.3 722.3L306.3 720L300.1 714.2L292.1 716.6Z" fill="#0000af"/><path d="M247.8 719.3L255.8 714.5L249.6 708.7L241.6 713.5Z" fill="#0000bf"/><path d="M197.3 707.4L205.3 702.7L199.1 690.1L191.1 694.9Z" fill="#0000ef"/><path d="M312.5 725.7L320.5 723.4L314.3 717.7L306.3 720Z" fill="#00009f"/><path d="M146.8 719.6L154.8 707.1L148.6 694.6L140.6 707.1Z" fill="#0000bf"/><path d="M261.9 720.2L269.9 715.5L263.8 709.7L255.8 714.5Z" fill="#0000bf"/><path d="M211.4 715.2L219.4 710.5L213.3 697.9L205.3 702.7Z" fill="#0000cf"/><path d="M326.6 729.2L334.6 726.8L328.5 721.1L320.5 723.4Z" fill="#00008f"/><path d="M160.9 719.7L168.9 707.2L162.8 694.7L154.8 707.1Z" fill="#0000bf"/><path d="M276.1 721.2L284.1 718.9L277.9 713.2L269.9 715.5Z" fill="#0000bf"/><path d="M225.6 723L233.6 718.3L227.4 705.7L219.4 710.5Z" fill="#0000af"/><path d="M340.8 730.2L348.8 727.9L342.6 724.5L334.6 726.8Z" fill="#00008f"/><path d="M175.1 719.8L183.1 707.3L176.9 694.8L168.9 707.2Z" fill="#0000bf"/><path d="M290.3 724.6L298.3 722.3L292.1 716.6L284.1 718.9Z" fill="#0000af"/><path d="M239.8 724L247.8 719.3L241.6 713.5L233.6 718.3Z" fill="#0000af"/><path d="M189.3 719.9L197.3 707.4L191.1 694.9L183.1 707.3Z" fill="#0000bf"/><path d="M304.5 728.1L312.5 725.7L306.3 720L298.3 722.3Z" fill="#00009f"/><path d="M138.8 732.1L146.8 719.6L140.6 707.1L132.6 719.5Z" fill="#00008f"/><path d="M253.9 725L261.9 720.2L255.8 714.5L247.8 719.3Z" fill="#0000af"/><path d="M203.4 720L211.4 715.2L205.3 702.7L197.3 707.4Z" fill="#0000cf"/><path d="M318.6 731.5L326.6 729.2L320.5 723.4L312.5 725.7Z" fill="#00008f"/><path d="M152.9 732.2L160.9 719.7L154.8 707.1L146.8 719.6Z" fill="#00008f"/><path d="M268.1 726L276.1 721.2L269.9 715.5L261.9 720.2Z" fill="#0000af"/><path d="M217.6 727.8L225.6 723L219.4 710.5L211.4 715.2Z" fill="#00009f"/><path d="M332.8 732.5L340.8 730.2L334.6 726.8L326.6 729.2Z" fill="#00008f"/><path d="M167.1 732.3L175.1 719.8L168.9 707.2L160.9 719.7Z" fill="#00008f"/><path d="M282.3 727L290.3 724.6L284.1 718.9L276.1 721.2Z" fill="#0000af"/><path d="M231.8 728.8L239.8 724L233.6 718.3L225.6 723Z" fill="#00009f"/><path d="M347 733.6L355 731.3L348.8 727.9L340.8 730.2Z" fill="#00008f"/><path d="M181.3 732.4L189.3 719.9L183.1 707.3L175.1 719.8Z" fill="#00008f"/><path d="M296.5 730.4L304.5 728.1L298.3 722.3L290.3 724.6Z" fill="#00009f"/><path d="M130.8 731.5L138.8 732.1L132.6 719.5L124.6 732Z" fill="#00009f"/><path d="M245.9 729.8L253.9 725L247.8 719.3L239.8 724Z" fill="#00009f"/><path d="M195.4 732.5L203.4 720L197.3 707.4L189.3 719.9Z" fill="#00009f"/><path d="M310.6 733.8L318.6 731.5L312.5 725.7L304.5 728.1Z" fill="#00008f"/><path d="M144.9 731.6L152.9 732.2L146.8 719.6L138.8 732.1Z" fill="#00009f"/><path d="M260.1 730.7L268.1 726L261.9 720.2L253.9 725Z" fill="#00009f"/><path d="M209.6 732.6L217.6 727.8L211.4 715.2L203.4 720Z" fill="#00009f"/><path d="M324.8 734.9L332.8 732.5L326.6 729.2L318.6 731.5Z" fill="#00008f"/><path d="M159.1 731.6L167.1 732.3L160.9 719.7L152.9 732.2Z" fill="#00009f"/><path d="M274.3 731.7L282.3 727L276.1 721.2L268.1 726Z" fill="#00009f"/><path d="M223.8 733.5L231.8 728.8L225.6 723L217.6 727.8Z" fill="#00009f"/><path d="M339 735.9L347 733.6L340.8 730.2L332.8 732.5Z" fill="#00008f"/><path d="M173.3 731.7L181.3 732.4L175.1 719.8L167.1 732.3Z" fill="#00009f"/><path d="M288.5 732.7L296.5 730.4L290.3 724.6L282.3 727Z" fill="#00009f"/><path d="M122.8 733L130.8 731.5L124.6 732L116.6 733.5Z" fill="#00009f"/><path d="M237.9 734.5L245.9 729.8L239.8 724L231.8 728.8Z" fill="#00009f"/><path d="M353.1 737L361.1 734.7L355 731.3L347 733.6Z" fill="#00008f"/><path d="M187.4 731.8L195.4 732.5L189.3 719.9L181.3 732.4Z" fill="#0000af"/><path d="M302.6 736.1L310.6 733.8L304.5 728.1L296.5 730.4Z" fill="#00008f"/><path d="M136.9 730.9L144.9 731.6L138.8 732.1L130.8 731.5Z" fill="#0000af"/><path d="M252.1 735.5L260.1 730.7L253.9 725L245.9 729.8Z" fill="#00009f"/><path d="M201.6 731.9L209.6 732.6L203.4 720L195.4 732.5Z" fill="#0000af"/><path d="M316.8 737.2L324.8 734.9L318.6 731.5L310.6 733.8Z" fill="#00008f"/><path d="M151.1 731L159.1 731.6L152.9 732.2L144.9 731.6Z" fill="#0000af"/><path d="M266.3 736.5L274.3 731.7L268.1 726L260.1 730.7Z" fill="#00009f"/><path d="M215.8 733.2L223.8 733.5L217.6 727.8L209.6 732.6Z" fill="#0000af"/><path d="M331 738.3L339 735.9L332.8 732.5L324.8 734.9Z" fill="#00008f"/><path d="M165.3 731.1L173.3 731.7L167.1 732.3L159.1 731.6Z" fill="#0000af"/><path d="M280.5 737.5L288.5 732.7L282.3 727L274.3 731.7Z" fill="#00008f"/><path d="M114.8 734.5L122.8 733L116.6 733.5L108.6 735Z" fill="#00009f"/><path d="M229.9 734.1L237.9 734.5L231.8 728.8L223.8 733.5Z" fill="#0000af"/><path d="M345.1 739.3L353.1 737L347 733.6L339 735.9Z" fill="#00008f"/><path d="M179.4 731.2L187.4 731.8L181.3 732.4L173.3 731.7Z" fill="#0000bf"/><path d="M294.6 738.5L302.6 736.1L296.5 730.4L288.5 732.7Z" fill="#00008f"/><path d="M128.9 732.4L136.9 730.9L130.8 731.5L122.8 733Z" fill="#0000af"/><path d="M244.1 735.1L252.1 735.5L245.9 729.8L237.9 734.5Z" fill="#00009f"/><path d="M359.3 740.4L367.3 738L361.1 734.7L353.1 737Z" fill="#00008f"/><path d="M193.6 731.3L201.6 731.9L195.4 732.5L187.4 731.8Z" fill="#0000bf"/><path d="M308.8 739.5L316.8 737.2L310.6 733.8L302.6 736.1Z" fill="#00008f"/><path d="M143.1 730.4L151.1 731L144.9 731.6L136.9 730.9Z" fill="#0000bf"/><path d="M258.3 736.1L266.3 736.5L260.1 730.7L252.1 735.5Z" fill="#00009f"/><path d="M207.8 732.5L215.8 733.2L209.6 732.6L201.6 731.9Z" fill="#0000bf"/><path d="M323 740.6L331 738.3L324.8 734.9L316.8 737.2Z" fill="#00008f"/><path d="M157.3 730.5L165.3 731.1L159.1 731.6L151.1 731Z" fill="#0000bf"/><path d="M272.5 737.1L280.5 737.5L274.3 731.7L266.3 736.5Z" fill="#00009f"/><path d="M106.8 736L114.8 734.5L108.6 735L100.6 736.5Z" fill="#0000af"/><path d="M221.9 733.8L229.9 734.1L223.8 733.5L215.8 733.2Z" fill="#0000af"/><path d="M337.1 741.6L345.1 739.3L339 735.9L331 738.3Z" fill="#00008f"/><path d="M171.4 730.6L179.4 731.2L173.3 731.7L165.3 731.1Z" fill="#0000bf"/><path d="M286.6 738.1L294.6 738.5L288.5 732.7L280.5 737.5Z" fill="#00009f"/><path d="M120.9 734L128.9 732.4L122.8 733L114.8 734.5Z" fill="#0000af"/><path d="M236.1 734.7L244.1 735.1L237.9 734.5L229.9 734.1Z" fill="#0000af"/><path d="M351.3 742.7L359.3 740.4L353.1 737L345.1 739.3Z" fill="#00008f"/><path d="M185.6 730.7L193.6 731.3L187.4 731.8L179.4 731.2Z" fill="#0000cf"/><path d="M300.8 742L308.8 739.5L302.6 736.1L294.6 738.5Z" fill="#00008f"/><path d="M135.1 731.9L143.1 730.4L136.9 730.9L128.9 732.4Z" fill="#0000bf"/><path d="M250.3 735.7L258.3 736.1L252.1 735.5L244.1 735.1Z" fill="#0000af"/><path d="M365.5 743.8L373.5 741.4L367.3 738L359.3 740.4Z" fill="#00008f"/><path d="M199.8 731.9L207.8 732.5L201.6 731.9L193.6 731.3Z" fill="#0000cf"/><path d="M315 743L323 740.6L316.8 737.2L308.8 739.5Z" fill="#00008f"/><path d="M149.3 729.9L157.3 730.5L151.1 731L143.1 730.4Z" fill="#0000cf"/><path d="M264.5 736.7L272.5 737.1L266.3 736.5L258.3 736.1Z" fill="#0000af"/><path d="M98.8 737.5L106.8 736L100.6 736.5L92.6 738Z" fill="#0000af"/><path d="M213.9 733.1L221.9 733.8L215.8 733.2L207.8 732.5Z" fill="#0000bf"/><path d="M329.1 744.1L337.1 741.6L331 738.3L323 740.6Z" fill="#00008f"/><path d="M163.4 730L171.4 730.6L165.3 731.1L157.3 730.5Z" fill="#0000cf"/><path d="M278.6 737.7L286.6 738.1L280.5 737.5L272.5 737.1Z" fill="#0000af"/><path d="M112.9 735.5L120.9 734L114.8 734.5L106.8 736Z" fill="#0000bf"/><path d="M228.1 734.4L236.1 734.7L229.9 734.1L221.9 733.8Z" fill="#0000bf"/><path d="M343.3 745.1L351.3 742.7L345.1 739.3L337.1 741.6Z" fill="#00008f"/><path d="M177.6 730.1L185.6 730.7L179.4 731.2L171.4 730.6Z" fill="#0000df"/><path d="M292.8 741.6L300.8 742L294.6 738.5L286.6 738.1Z" fill="#00009f"/><path d="M127.1 733.4L135.1 731.9L128.9 732.4L120.9 734Z" fill="#0000cf"/><path d="M242.3 735.4L250.3 735.7L244.1 735.1L236.1 734.7Z" fill="#0000bf"/><path d="M357.5 746.2L365.5 743.8L359.3 740.4L351.3 742.7Z" fill="#00008f"/><path d="M191.8 731.3L199.8 731.9L193.6 731.3L185.6 730.7Z" fill="#0000df"/><path d="M307 745.5L315 743L308.8 739.5L300.8 742Z" fill="#00008f"/><path d="M141.3 731.4L149.3 729.9L143.1 730.4L135.1 731.9Z" fill="#0000df"/><path d="M256.5 736.3L264.5 736.7L258.3 736.1L250.3 735.7Z" fill="#0000bf"/><path d="M90.8 739L98.8 737.5L92.6 738L84.6 739.5Z" fill="#0000af"/><path d="M371.6 747.3L379.6 744.8L373.5 741.4L365.5 743.8Z" fill="#00008f"/><path d="M205.9 732.5L213.9 733.1L207.8 732.5L199.8 731.9Z" fill="#0000cf"/><path d="M321.1 746.5L329.1 744.1L323 740.6L315 743Z" fill="#00008f"/><path d="M155.4 729.4L163.4 730L157.3 730.5L149.3 729.9Z" fill="#0000df"/><path d="M270.6 737.3L278.6 737.7L272.5 737.1L264.5 736.7Z" fill="#0000bf"/><path d="M104.9 737L112.9 735.5L106.8 736L98.8 737.5Z" fill="#0000bf"/><path d="M220.1 733.7L228.1 734.4L221.9 733.8L213.9 733.1Z" fill="#0000cf"/><path d="M335.3 747.6L343.3 745.1L337.1 741.6L329.1 744.1Z" fill="#00008f"/><path d="M169.6 729.5L177.6 730.1L171.4 730.6L163.4 730Z" fill="#0000ef"/><path d="M284.8 741.2L292.8 741.6L286.6 738.1L278.6 737.7Z" fill="#0000af"/><path d="M119.1 734.9L127.1 733.4L120.9 734L112.9 735.5Z" fill="#0000cf"/><path d="M234.3 735L242.3 735.4L236.1 734.7L228.1 734.4Z" fill="#0000cf"/><path d="M349.5 748.7L357.5 746.2L351.3 742.7L343.3 745.1Z" fill="#00008f"/><path d="M183.8 730.7L191.8 731.3L185.6 730.7L177.6 730.1Z" fill="#0000ef"/><path d="M299 745.1L307 745.5L300.8 742L292.8 741.6Z" fill="#00009f"/><path d="M133.3 732.9L141.3 731.4L135.1 731.9L127.1 733.4Z" fill="#0000df"/><path d="M248.5 736L256.5 736.3L250.3 735.7L242.3 735.4Z" fill="#0000cf"/><path d="M82.8 734.5L90.8 739L84.6 739.5L76.6 741Z" fill="#0000cf"/><path d="M363.6 749.7L371.6 747.3L365.5 743.8L357.5 746.2Z" fill="#00008f"/><path d="M197.9 731.9L205.9 732.5L199.8 731.9L191.8 731.3Z" fill="#0000df"/><path d="M313.1 749L321.1 746.5L315 743L307 745.5Z" fill="#00008f"/><path d="M147.4 730.9L155.4 729.4L149.3 729.9L141.3 731.4Z" fill="#0000ef"/><path d="M262.6 736.9L270.6 737.3L264.5 736.7L256.5 736.3Z" fill="#0000cf"/><path d="M96.9 732.5L104.9 737L98.8 737.5L90.8 739Z" fill="#0000df"/><path d="M377.8 750.7L385.8 748.2L379.6 744.8L371.6 747.3Z" fill="#00008f"/><path d="M212.1 733.1L220.1 733.7L213.9 733.1L205.9 732.5Z" fill="#0000df"/><path d="M327.3 750.1L335.3 747.6L329.1 744.1L321.1 746.5Z" fill="#00008f"/><path d="M161.6 728.9L169.6 729.5L163.4 730L155.4 729.4Z" fill="#0000ff"/><path d="M276.8 740.8L284.8 741.2L278.6 737.7L270.6 737.3Z" fill="#0000bf"/><path d="M111.1 730.5L119.1 734.9L112.9 735.5L104.9 737Z" fill="#0000ef"/><path d="M226.3 734.4L234.3 735L228.1 734.4L220.1 733.7Z" fill="#0000df"/><path d="M341.5 751.1L349.5 748.7L343.3 745.1L335.3 747.6Z" fill="#00008f"/><path d="M175.8 730.1L183.8 730.7L177.6 730.1L169.6 729.5Z" fill="#0000ff"/><path d="M291 744.7L299 745.1L292.8 741.6L284.8 741.2Z" fill="#0000af"/><path d="M125.3 728.4L133.3 732.9L127.1 733.4L119.1 734.9Z" fill="#0000ff"/><path d="M240.5 735.6L248.5 736L242.3 735.4L234.3 735Z" fill="#0000df"/><path d="M355.6 752.2L363.6 749.7L357.5 746.2L349.5 748.7Z" fill="#00008f"/><path d="M189.9 731.3L197.9 731.9L191.8 731.3L183.8 730.7Z" fill="#0000ef"/><path d="M305.1 748.6L313.1 749L307 745.5L299 745.1Z" fill="#00009f"/><path d="M139.4 726.4L147.4 730.9L141.3 731.4L133.3 732.9Z" fill="#0010ff"/><path d="M254.6 736.6L262.6 736.9L256.5 736.3L248.5 736Z" fill="#0000df"/><path d="M88.9 728L96.9 732.5L90.8 739L82.8 734.5Z" fill="#0000ff"/><path d="M369.8 753.1L377.8 750.7L371.6 747.3L363.6 749.7Z" fill="#00008f"/><path d="M204.1 732.5L212.1 733.1L205.9 732.5L197.9 731.9Z" fill="#0000ef"/><path d="M319.3 752.5L327.3 750.1L321.1 746.5L313.1 749Z" fill="#00008f"/><path d="M153.6 724.4L161.6 728.9L155.4 729.4L147.4 730.9Z" fill="#0020ff"/><path d="M268.8 740.5L276.8 740.8L270.6 737.3L262.6 736.9Z" fill="#0000cf"/><path d="M103.1 726L111.1 730.5L104.9 737L96.9 732.5Z" fill="#0010ff"/><path d="M384 754.1L392 751.6L385.8 748.2L377.8 750.7Z" fill="#00008f"/><path d="M218.3 733.7L226.3 734.4L220.1 733.7L212.1 733.1Z" fill="#0000ef"/><path d="M333.5 753.6L341.5 751.1L335.3 747.6L327.3 750.1Z" fill="#00008f"/><path d="M167.8 719.4L175.8 730.1L169.6 729.5L161.6 728.9Z" fill="#0040ff"/><path d="M283 744.3L291 744.7L284.8 741.2L276.8 740.8Z" fill="#0000bf"/><path d="M117.3 724L125.3 728.4L119.1 734.9L111.1 730.5Z" fill="#0020ff"/><path d="M232.5 735L240.5 735.6L234.3 735L226.3 734.4Z" fill="#0000ef"/><path d="M347.6 754.6L355.6 752.2L349.5 748.7L341.5 751.1Z" fill="#00008f"/><path d="M181.9 720.7L189.9 731.3L183.8 730.7L175.8 730.1Z" fill="#0040ff"/><path d="M297.1 748.2L305.1 748.6L299 745.1L291 744.7Z" fill="#0000af"/><path d="M131.4 721.9L139.4 726.4L133.3 732.9L125.3 728.4Z" fill="#0030ff"/><path d="M246.6 736.2L254.6 736.6L248.5 736L240.5 735.6Z" fill="#0000ef"/><path d="M361.8 755.6L369.8 753.1L363.6 749.7L355.6 752.2Z" fill="#00008f"/><path d="M196.1 721.9L204.1 732.5L197.9 731.9L189.9 731.3Z" fill="#0030ff"/><path d="M311.3 752.1L319.3 752.5L313.1 749L305.1 748.6Z" fill="#00009f"/><path d="M145.6 719.9L153.6 724.4L147.4 730.9L139.4 726.4Z" fill="#0040ff"/><path d="M260.8 740.1L268.8 740.5L262.6 736.9L254.6 736.6Z" fill="#0000df"/><path d="M376 756.5L384 754.1L377.8 750.7L369.8 753.1Z" fill="#00008f"/><path d="M95.1 721.5L103.1 726L96.9 732.5L88.9 728Z" fill="#0040ff"/><path d="M210.3 723.1L218.3 733.7L212.1 733.1L204.1 732.5Z" fill="#0030ff"/><path d="M325.5 756L333.5 753.6L327.3 750.1L319.3 752.5Z" fill="#00008f"/><path d="M159.8 715L167.8 719.4L161.6 728.9L153.6 724.4Z" fill="#0060ff"/><path d="M275 744L283 744.3L276.8 740.8L268.8 740.5Z" fill="#0000cf"/><path d="M390.2 757.5L398.2 755L392 751.6L384 754.1Z" fill="#00008f"/><path d="M109.3 719.5L117.3 724L111.1 730.5L103.1 726Z" fill="#0040ff"/><path d="M224.5 724.3L232.5 735L226.3 734.4L218.3 733.7Z" fill="#0030ff"/><path d="M339.6 757.1L347.6 754.6L341.5 751.1L333.5 753.6Z" fill="#00008f"/><path d="M173.9 710L181.9 720.7L175.8 730.1L167.8 719.4Z" fill="#0080ff"/><path d="M289.1 747.9L297.1 748.2L291 744.7L283 744.3Z" fill="#0000bf"/><path d="M123.4 717.5L131.4 721.9L125.3 728.4L117.3 724Z" fill="#0050ff"/><path d="M238.6 725.5L246.6 736.2L240.5 735.6L232.5 735Z" fill="#0030ff"/><path d="M353.8 758L361.8 755.6L355.6 752.2L347.6 754.6Z" fill="#00008f"/><path d="M188.1 711.2L196.1 721.9L189.9 731.3L181.9 720.7Z" fill="#0070ff"/><path d="M303.3 751.7L311.3 752.1L305.1 748.6L297.1 748.2Z" fill="#0000af"/><path d="M137.6 715.4L145.6 719.9L139.4 726.4L131.4 721.9Z" fill="#0060ff"/><path d="M252.8 739.1L260.8 740.1L254.6 736.6L246.6 736.2Z" fill="#0000ef"/><path d="M368 759L376 756.5L369.8 753.1L361.8 755.6Z" fill="#00008f"/><path d="M202.3 712.4L210.3 723.1L204.1 732.5L196.1 721.9Z" fill="#0070ff"/><path d="M317.5 755.6L325.5 756L319.3 752.5L311.3 752.1Z" fill="#00009f"/><path d="M151.8 710.5L159.8 715L153.6 724.4L145.6 719.9Z" fill="#0080ff"/><path d="M267 743L275 744L268.8 740.5L260.8 740.1Z" fill="#0000df"/><path d="M382.2 759.9L390.2 757.5L384 754.1L376 756.5Z" fill="#00008f"/><path d="M101.3 715L109.3 719.5L103.1 726L95.1 721.5Z" fill="#0070ff"/><path d="M216.5 713.7L224.5 724.3L218.3 733.7L210.3 723.1Z" fill="#0070ff"/><path d="M331.6 759.5L339.6 757.1L333.5 753.6L325.5 756Z" fill="#00008f"/><path d="M165.9 705.5L173.9 710L167.8 719.4L159.8 715Z" fill="#009fff"/><path d="M281.1 746.9L289.1 747.9L283 744.3L275 744Z" fill="#0000cf"/><path d="M396.3 760.9L404.3 758.4L398.2 755L390.2 757.5Z" fill="#00008f"/><path d="M115.4 713L123.4 717.5L117.3 724L109.3 719.5Z" fill="#0080ff"/><path d="M230.6 714.9L238.6 725.5L232.5 735L224.5 724.3Z" fill="#0070ff"/><path d="M345.8 760.5L353.8 758L347.6 754.6L339.6 757.1Z" fill="#00008f"/><path d="M295.3 750.8L303.3 751.7L297.1 748.2L289.1 747.9Z" fill="#0000bf"/><path d="M180.1 700.6L188.1 711.2L181.9 720.7L173.9 710Z" fill="#00bfff"/><path d="M129.6 711L137.6 715.4L131.4 721.9L123.4 717.5Z" fill="#0080ff"/><path d="M244.8 728.5L252.8 739.1L246.6 736.2L238.6 725.5Z" fill="#0030ff"/><path d="M360 761.4L368 759L361.8 755.6L353.8 758Z" fill="#00008f"/><path d="M309.5 754.7L317.5 755.6L311.3 752.1L303.3 751.7Z" fill="#0000af"/><path d="M194.3 701.8L202.3 712.4L196.1 721.9L188.1 711.2Z" fill="#00afff"/><path d="M143.8 706L151.8 710.5L145.6 719.9L137.6 715.4Z" fill="#009fff"/><path d="M259 742.1L267 743L260.8 740.1L252.8 739.1Z" fill="#0000ef"/><path d="M374.2 762.4L382.2 759.9L376 756.5L368 759Z" fill="#00008f"/><path d="M323.6 758.6L331.6 759.5L325.5 756L317.5 755.6Z" fill="#00009f"/><path d="M208.5 703L216.5 713.7L210.3 723.1L202.3 712.4Z" fill="#00afff"/><path d="M273.1 746L281.1 746.9L275 744L267 743Z" fill="#0000df"/><path d="M157.9 701.1L165.9 705.5L159.8 715L151.8 710.5Z" fill="#00bfff"/><path d="M388.3 763.3L396.3 760.9L390.2 757.5L382.2 759.9Z" fill="#00008f"/><path d="M107.4 708.5L115.4 713L109.3 719.5L101.3 715Z" fill="#009fff"/><path d="M337.8 763.1L345.8 760.5L339.6 757.1L331.6 759.5Z" fill="#00008f"/><path d="M222.6 704.2L230.6 714.9L224.5 724.3L216.5 713.7Z" fill="#00afff"/><path d="M287.3 749.9L295.3 750.8L289.1 747.9L281.1 746.9Z" fill="#0000cf"/><path d="M172.1 696.1L180.1 700.6L173.9 710L165.9 705.5Z" fill="#00dfff"/><path d="M402.5 764.3L410.5 761.8L404.3 758.4L396.3 760.9Z" fill="#00008f"/><path d="M121.6 706.5L129.6 711L123.4 717.5L115.4 713Z" fill="#00afff"/><path d="M352 764L360 761.4L353.8 758L345.8 760.5Z" fill="#00008f"/><path d="M236.8 717.8L244.8 728.5L238.6 725.5L230.6 714.9Z" fill="#0070ff"/><path d="M301.5 753.8L309.5 754.7L303.3 751.7L295.3 750.8Z" fill="#0000bf"/><path d="M186.3 691.2L194.3 701.8L188.1 711.2L180.1 700.6Z" fill="#00ffff"/><path d="M135.8 701.6L143.8 706L137.6 715.4L129.6 711Z" fill="#00bfff"/><path d="M251 731.4L259 742.1L252.8 739.1L244.8 728.5Z" fill="#0030ff"/><path d="M366.2 765L374.2 762.4L368 759L360 761.4Z" fill="#00008f"/><path d="M315.6 757.6L323.6 758.6L317.5 755.6L309.5 754.7Z" fill="#0000af"/><path d="M200.5 692.4L208.5 703L202.3 712.4L194.3 701.8Z" fill="#00efff"/><path d="M265.1 745L273.1 746L267 743L259 742.1Z" fill="#0000ef"/><path d="M149.9 696.6L157.9 701.1L151.8 710.5L143.8 706Z" fill="#00dfff"/><path d="M380.3 765.9L388.3 763.3L382.2 759.9L374.2 762.4Z" fill="#00008f"/><path d="M329.8 762.1L337.8 763.1L331.6 759.5L323.6 758.6Z" fill="#00009f"/><path d="M214.6 693.6L222.6 704.2L216.5 713.7L208.5 703Z" fill="#00efff"/><path d="M279.3 748.9L287.3 749.9L281.1 746.9L273.1 746Z" fill="#0000df"/><path d="M164.1 691.6L172.1 696.1L165.9 705.5L157.9 701.1Z" fill="#00ffff"/><path d="M394.5 766.9L402.5 764.3L396.3 760.9L388.3 763.3Z" fill="#00008f"/><path d="M113.6 702L121.6 706.5L115.4 713L107.4 708.5Z" fill="#00cfff"/><path d="M344 766.6L352 764L345.8 760.5L337.8 763.1Z" fill="#00008f"/><path d="M228.8 707.2L236.8 717.8L230.6 714.9L222.6 704.2Z" fill="#00afff"/><path d="M293.5 752.8L301.5 753.8L295.3 750.8L287.3 749.9Z" fill="#0000cf"/><path d="M408.7 767.8L416.7 765.2L410.5 761.8L402.5 764.3Z" fill="#00008f"/><path d="M178.3 686.7L186.3 691.2L180.1 700.6L172.1 696.1Z" fill="#20ffdf"/><path d="M127.8 697.1L135.8 701.6L129.6 711L121.6 706.5Z" fill="#00efff"/><path d="M358.2 767.5L366.2 765L360 761.4L352 764Z" fill="#00008f"/><path d="M243 720.8L251 731.4L244.8 728.5L236.8 717.8Z" fill="#0070ff"/><path d="M307.6 756.7L315.6 757.6L309.5 754.7L301.5 753.8Z" fill="#0000bf"/><path d="M192.5 681.7L200.5 692.4L194.3 701.8L186.3 691.2Z" fill="#40ffbf"/><path d="M257.1 734.4L265.1 745L259 742.1L251 731.4Z" fill="#0030ff"/><path d="M141.9 692.1L149.9 696.6L143.8 706L135.8 701.6Z" fill="#00ffff"/><path d="M372.3 768.5L380.3 765.9L374.2 762.4L366.2 765Z" fill="#00008f"/><path d="M321.8 761.2L329.8 762.1L323.6 758.6L315.6 757.6Z" fill="#0000af"/><path d="M206.6 683L214.6 693.6L208.5 703L200.5 692.4Z" fill="#30ffcf"/><path d="M271.3 748L279.3 748.9L273.1 746L265.1 745Z" fill="#0000ef"/><path d="M386.5 769.4L394.5 766.9L388.3 763.3L380.3 765.9Z" fill="#00008f"/><path d="M156.1 687.2L164.1 691.6L157.9 701.1L149.9 696.6Z" fill="#20ffdf"/><path d="M336 765.6L344 766.6L337.8 763.1L329.8 762.1Z" fill="#00009f"/><path d="M220.8 696.6L228.8 707.2L222.6 704.2L214.6 693.6Z" fill="#00efff"/><path d="M285.5 751.9L293.5 752.8L287.3 749.9L279.3 748.9Z" fill="#0000df"/><path d="M400.7 770.4L408.7 767.8L402.5 764.3L394.5 766.9Z" fill="#00008f"/><path d="M170.3 682.2L178.3 686.7L172.1 696.1L164.1 691.6Z" fill="#40ffbf"/><path d="M350.2 770.1L358.2 767.5L352 764L344 766.6Z" fill="#00008f"/><path d="M119.8 693.5L127.8 697.1L121.6 706.5L113.6 702Z" fill="#00ffff"/><path d="M235 710.1L243 720.8L236.8 717.8L228.8 707.2Z" fill="#00afff"/><path d="M299.6 755.8L307.6 756.7L301.5 753.8L293.5 752.8Z" fill="#0000cf"/><path d="M184.5 677.3L192.5 681.7L186.3 691.2L178.3 686.7Z" fill="#60ff9f"/><path d="M364.3 771.1L372.3 768.5L366.2 765L358.2 767.5Z" fill="#00008f"/><path d="M133.9 688.5L141.9 692.1L135.8 701.6L127.8 697.1Z" fill="#20ffdf"/><path d="M249.1 723.7L257.1 734.4L251 731.4L243 720.8Z" fill="#0070ff"/><path d="M313.8 760.2L321.8 761.2L315.6 757.6L307.6 756.7Z" fill="#0000bf"/><path d="M198.6 672.3L206.6 683L200.5 692.4L192.5 681.7Z" fill="#70ff8f"/><path d="M263.3 737.3L271.3 748L265.1 745L257.1 734.4Z" fill="#0030ff"/><path d="M378.5 772L386.5 769.4L380.3 765.9L372.3 768.5Z" fill="#00008f"/><path d="M148.1 683.6L156.1 687.2L149.9 696.6L141.9 692.1Z" fill="#40ffbf"/><path d="M328 764.7L336 765.6L329.8 762.1L321.8 761.2Z" fill="#0000af"/><path d="M212.8 685.9L220.8 696.6L214.6 693.6L206.6 683Z" fill="#40ffbf"/><path d="M277.5 750.9L285.5 751.9L279.3 748.9L271.3 748Z" fill="#0000ef"/><path d="M392.7 773L400.7 770.4L394.5 766.9L386.5 769.4Z" fill="#00008f"/><path d="M162.3 678.6L170.3 682.2L164.1 691.6L156.1 687.2Z" fill="#60ff9f"/><path d="M342.2 769.2L350.2 770.1L344 766.6L336 765.6Z" fill="#00009f"/><path d="M227 699.5L235 710.1L228.8 707.2L220.8 696.6Z" fill="#00ffff"/><path d="M291.6 754.8L299.6 755.8L293.5 752.8L285.5 751.9Z" fill="#0000ef"/><path d="M176.5 673.7L184.5 677.3L178.3 686.7L170.3 682.2Z" fill="#80ff80"/><path d="M356.3 773.7L364.3 771.1L358.2 767.5L350.2 770.1Z" fill="#00008f"/><path d="M125.9 684.9L133.9 688.5L127.8 697.1L119.8 693.5Z" fill="#40ffbf"/><path d="M241.1 713.1L249.1 723.7L243 720.8L235 710.1Z" fill="#00bfff"/><path d="M305.8 759.3L313.8 760.2L307.6 756.7L299.6 755.8Z" fill="#0000cf"/><path d="M190.6 668.7L198.6 672.3L192.5 681.7L184.5 677.3Z" fill="#8fff70"/><path d="M370.5 774.6L378.5 772L372.3 768.5L364.3 771.1Z" fill="#00008f"/><path d="M255.3 726.7L263.3 737.3L257.1 734.4L249.1 723.7Z" fill="#0080ff"/><path d="M140.1 680L148.1 683.6L141.9 692.1L133.9 688.5Z" fill="#60ff9f"/><path d="M320 763.8L328 764.7L321.8 761.2L313.8 760.2Z" fill="#0000bf"/><path d="M204.8 672.9L212.8 685.9L206.6 683L198.6 672.3Z" fill="#80ff80"/><path d="M269.5 740.3L277.5 750.9L271.3 748L263.3 737.3Z" fill="#0040ff"/><path d="M384.7 775.5L392.7 773L386.5 769.4L378.5 772Z" fill="#00008f"/><path d="M154.3 675L162.3 678.6L156.1 687.2L148.1 683.6Z" fill="#80ff80"/><path d="M334.2 768.2L342.2 769.2L336 765.6L328 764.7Z" fill="#0000af"/><path d="M219 686.5L227 699.5L220.8 696.6L212.8 685.9Z" fill="#40ffbf"/><path d="M283.6 753.9L291.6 754.8L285.5 751.9L277.5 750.9Z" fill="#0000ff"/><path d="M168.5 670.1L176.5 673.7L170.3 682.2L162.3 678.6Z" fill="#9fff60"/><path d="M348.3 772.7L356.3 773.7L350.2 770.1L342.2 769.2Z" fill="#00009f"/><path d="M233.1 700.1L241.1 713.1L235 710.1L227 699.5Z" fill="#00ffff"/><path d="M297.8 758.3L305.8 759.3L299.6 755.8L291.6 754.8Z" fill="#0000df"/><path d="M182.6 665.1L190.6 668.7L184.5 677.3L176.5 673.7Z" fill="#afff50"/><path d="M362.5 777.2L370.5 774.6L364.3 771.1L356.3 773.7Z" fill="#00008f"/><path d="M247.3 713.7L255.3 726.7L249.1 723.7L241.1 713.1Z" fill="#00bfff"/><path d="M132.1 676.4L140.1 680L133.9 688.5L125.9 684.9Z" fill="#80ff80"/><path d="M312 762.8L320 763.8L313.8 760.2L305.8 759.3Z" fill="#0000cf"/><path d="M196.8 669.3L204.8 672.9L198.6 672.3L190.6 668.7Z" fill="#9fff60"/><path d="M376.7 778.1L384.7 775.5L378.5 772L370.5 774.6Z" fill="#00008f"/><path d="M261.5 727.3L269.5 740.3L263.3 737.3L255.3 726.7Z" fill="#0080ff"/><path d="M146.3 671.4L154.3 675L148.1 683.6L140.1 680Z" fill="#9fff60"/><path d="M326.2 767.3L334.2 768.2L328 764.7L320 763.8Z" fill="#0000bf"/><path d="M211 673.5L219 686.5L212.8 685.9L204.8 672.9Z" fill="#8fff70"/><path d="M275.6 740.8L283.6 753.9L277.5 750.9L269.5 740.3Z" fill="#0040ff"/><path d="M160.5 666.5L168.5 670.1L162.3 678.6L154.3 675Z" fill="#afff50"/><path d="M340.3 771.8L348.3 772.7L342.2 769.2L334.2 768.2Z" fill="#0000af"/><path d="M225.1 687L233.1 700.1L227 699.5L219 686.5Z" fill="#50ffaf"/><path d="M289.8 759.7L297.8 758.3L291.6 754.8L283.6 753.9Z" fill="#0000ef"/><path d="M174.6 661.5L182.6 665.1L176.5 673.7L168.5 670.1Z" fill="#cfff30"/><path d="M354.5 776.2L362.5 777.2L356.3 773.7L348.3 772.7Z" fill="#00009f"/><path d="M239.3 700.6L247.3 713.7L241.1 713.1L233.1 700.1Z" fill="#10ffef"/><path d="M304 764.2L312 762.8L305.8 759.3L297.8 758.3Z" fill="#0000df"/><path d="M188.8 665.7L196.8 669.3L190.6 668.7L182.6 665.1Z" fill="#bfff40"/><path d="M368.7 780.7L376.7 778.1L370.5 774.6L362.5 777.2Z" fill="#00008f"/><path d="M253.5 714.2L261.5 727.3L255.3 726.7L247.3 713.7Z" fill="#00cfff"/><path d="M138.3 667.8L146.3 671.4L140.1 680L132.1 676.4Z" fill="#bfff40"/><path d="M318.2 768.7L326.2 767.3L320 763.8L312 762.8Z" fill="#0000cf"/><path d="M203 669.9L211 673.5L204.8 672.9L196.8 669.3Z" fill="#afff50"/><path d="M267.6 727.8L275.6 740.8L269.5 740.3L261.5 727.3Z" fill="#008fff"/><path d="M152.5 662.9L160.5 666.5L154.3 675L146.3 671.4Z" fill="#cfff30"/><path d="M332.3 773.2L340.3 771.8L334.2 768.2L326.2 767.3Z" fill="#0000af"/><path d="M217.1 674L225.1 687L219 686.5L211 673.5Z" fill="#9fff60"/><path d="M281.8 746.7L289.8 759.7L283.6 753.9L275.6 740.8Z" fill="#0040ff"/><path d="M166.6 657.9L174.6 661.5L168.5 670.1L160.5 666.5Z" fill="#efff10"/><path d="M346.5 777.6L354.5 776.2L348.3 772.7L340.3 771.8Z" fill="#00009f"/><path d="M231.3 687.6L239.3 700.6L233.1 700.1L225.1 687Z" fill="#60ff9f"/><path d="M296 765.6L304 764.2L297.8 758.3L289.8 759.7Z" fill="#0000df"/><path d="M360.7 782.1L368.7 780.7L362.5 777.2L354.5 776.2Z" fill="#00008f"/><path d="M180.8 662.1L188.8 665.7L182.6 665.1L174.6 661.5Z" fill="#dfff20"/><path d="M245.5 701.2L253.5 714.2L247.3 713.7L239.3 700.6Z" fill="#20ffdf"/><path d="M310.2 770.1L318.2 768.7L312 762.8L304 764.2Z" fill="#0000cf"/><path d="M195 666.3L203 669.9L196.8 669.3L188.8 665.7Z" fill="#cfff30"/><path d="M259.6 714.8L267.6 727.8L261.5 727.3L253.5 714.2Z" fill="#00dfff"/><path d="M144.5 659.3L152.5 662.9L146.3 671.4L138.3 667.8Z" fill="#efff10"/><path d="M324.3 774.6L332.3 773.2L326.2 767.3L318.2 768.7Z" fill="#0000bf"/><path d="M209.1 670.4L217.1 674L211 673.5L203 669.9Z" fill="#bfff40"/><path d="M273.8 733.7L281.8 746.7L275.6 740.8L267.6 727.8Z" fill="#008fff"/><path d="M338.5 779L346.5 777.6L340.3 771.8L332.3 773.2Z" fill="#0000af"/><path d="M158.6 654.3L166.6 657.9L160.5 666.5L152.5 662.9Z" fill="#ffef00"/><path d="M223.3 674.6L231.3 687.6L225.1 687L217.1 674Z" fill="#afff50"/><path d="M288 752.6L296 765.6L289.8 759.7L281.8 746.7Z" fill="#0030ff"/><path d="M352.7 783.5L360.7 782.1L354.5 776.2L346.5 777.6Z" fill="#00008f"/><path d="M172.8 658.5L180.8 662.1L174.6 661.5L166.6 657.9Z" fill="#ffff00"/><path d="M237.5 688.2L245.5 701.2L239.3 700.6L231.3 687.6Z" fill="#70ff8f"/><path d="M302.2 771.5L310.2 770.1L304 764.2L296 765.6Z" fill="#0000cf"/><path d="M187 662.7L195 666.3L188.8 665.7L180.8 662.1Z" fill="#efff10"/><path d="M251.6 701.8L259.6 714.8L253.5 714.2L245.5 701.2Z" fill="#30ffcf"/><path d="M316.3 776L324.3 774.6L318.2 768.7L310.2 770.1Z" fill="#0000bf"/><path d="M201.1 666.8L209.1 670.4L203 669.9L195 666.3Z" fill="#dfff20"/><path d="M265.8 720.7L273.8 733.7L267.6 727.8L259.6 714.8Z" fill="#00cfff"/><path d="M330.5 780.4L338.5 779L332.3 773.2L324.3 774.6Z" fill="#0000af"/><path d="M150.6 650.7L158.6 654.3L152.5 662.9L144.5 659.3Z" fill="#ffcf00"/><path d="M215.3 671L223.3 674.6L217.1 674L209.1 670.4Z" fill="#cfff30"/><path d="M280 739.6L288 752.6L281.8 746.7L273.8 733.7Z" fill="#0080ff"/><path d="M344.7 784.9L352.7 783.5L346.5 777.6L338.5 779Z" fill="#00009f"/><path d="M164.8 654.9L172.8 658.5L166.6 657.9L158.6 654.3Z" fill="#ffdf00"/><path d="M229.5 675.2L237.5 688.2L231.3 687.6L223.3 674.6Z" fill="#bfff40"/><path d="M294.2 758.5L302.2 771.5L296 765.6L288 752.6Z" fill="#0020ff"/><path d="M179 659.1L187 662.7L180.8 662.1L172.8 658.5Z" fill="#ffef00"/><path d="M243.6 688.8L251.6 701.8L245.5 701.2L237.5 688.2Z" fill="#80ff80"/><path d="M308.3 777.4L316.3 776L310.2 770.1L302.2 771.5Z" fill="#0000bf"/><path d="M193.1 663.2L201.1 666.8L195 666.3L187 662.7Z" fill="#ffff00"/><path d="M257.8 707.6L265.8 720.7L259.6 714.8L251.6 701.8Z" fill="#20ffdf"/><path d="M322.5 781.8L330.5 780.4L324.3 774.6L316.3 776Z" fill="#0000af"/><path d="M207.3 667.4L215.3 671L209.1 670.4L201.1 666.8Z" fill="#efff10"/><path d="M272 726.5L280 739.6L273.8 733.7L265.8 720.7Z" fill="#00cfff"/><path d="M336.7 786.3L344.7 784.9L338.5 779L330.5 780.4Z" fill="#00009f"/><path d="M156.8 643.3L164.8 654.9L158.6 654.3L150.6 650.7Z" fill="#ff9f00"/><path d="M221.5 671.6L229.5 675.2L223.3 674.6L215.3 671Z" fill="#dfff20"/><path d="M286.2 745.4L294.2 758.5L288 752.6L280 739.6Z" fill="#0070ff"/><path d="M171 647.4L179 659.1L172.8 658.5L164.8 654.9Z" fill="#ffaf00"/><path d="M300.3 764.3L308.3 777.4L302.2 771.5L294.2 758.5Z" fill="#0010ff"/><path d="M235.6 675.7L243.6 688.8L237.5 688.2L229.5 675.2Z" fill="#cfff30"/><path d="M185.1 651.6L193.1 663.2L187 662.7L179 659.1Z" fill="#ffbf00"/><path d="M314.5 783.2L322.5 781.8L316.3 776L308.3 777.4Z" fill="#0000bf"/><path d="M249.8 694.6L257.8 707.6L251.6 701.8L243.6 688.8Z" fill="#70ff8f"/><path d="M199.3 655.8L207.3 667.4L201.1 666.8L193.1 663.2Z" fill="#ffcf00"/><path d="M264 713.5L272 726.5L265.8 720.7L257.8 707.6Z" fill="#10ffef"/><path d="M328.7 787.7L336.7 786.3L330.5 780.4L322.5 781.8Z" fill="#0000af"/><path d="M213.5 659.9L221.5 671.6L215.3 671L207.3 667.4Z" fill="#ffdf00"/><path d="M278.2 732.4L286.2 745.4L280 739.6L272 726.5Z" fill="#00bfff"/><path d="M163 635.8L171 647.4L164.8 654.9L156.8 643.3Z" fill="#ff6000"/><path d="M292.3 751.3L300.3 764.3L294.2 758.5L286.2 745.4Z" fill="#0060ff"/><path d="M227.6 664.1L235.6 675.7L229.5 675.2L221.5 671.6Z" fill="#ffef00"/><path d="M177.1 640L185.1 651.6L179 659.1L171 647.4Z" fill="#ff7000"/><path d="M306.5 770.2L314.5 783.2L308.3 777.4L300.3 764.3Z" fill="#0010ff"/><path d="M241.8 684.3L249.8 694.6L243.6 688.8L235.6 675.7Z" fill="#afff50"/><path d="M191.3 644.1L199.3 655.8L193.1 663.2L185.1 651.6Z" fill="#ff8000"/><path d="M256 703.2L264 713.5L257.8 707.6L249.8 694.6Z" fill="#50ffaf"/><path d="M320.7 789.1L328.7 787.7L322.5 781.8L314.5 783.2Z" fill="#0000af"/><path d="M205.5 648.3L213.5 659.9L207.3 667.4L199.3 655.8Z" fill="#ff8f00"/><path d="M270.2 722L278.2 732.4L272 726.5L264 713.5Z" fill="#00ffff"/><path d="M219.6 652.5L227.6 664.1L221.5 671.6L213.5 659.9Z" fill="#ff9f00"/><path d="M284.3 740.9L292.3 751.3L286.2 745.4L278.2 732.4Z" fill="#009fff"/><path d="M169.1 628.4L177.1 640L171 647.4L163 635.8Z" fill="#ff3000"/><path d="M298.5 759.8L306.5 770.2L300.3 764.3L292.3 751.3Z" fill="#0050ff"/><path d="M233.8 672.6L241.8 684.3L235.6 675.7L227.6 664.1Z" fill="#efff10"/><path d="M183.3 632.5L191.3 644.1L185.1 651.6L177.1 640Z" fill="#ff4000"/><path d="M312.7 778.7L320.7 789.1L314.5 783.2L306.5 770.2Z" fill="#0000ef"/><path d="M248 692.8L256 703.2L249.8 694.6L241.8 684.3Z" fill="#8fff70"/><path d="M197.5 636.7L205.5 648.3L199.3 655.8L191.3 644.1Z" fill="#ff5000"/><path d="M262.2 711.7L270.2 722L264 713.5L256 703.2Z" fill="#40ffbf"/><path d="M211.6 640.9L219.6 652.5L213.5 659.9L205.5 648.3Z" fill="#ff6000"/><path d="M276.3 730.6L284.3 740.9L278.2 732.4L270.2 722Z" fill="#00dfff"/><path d="M290.5 749.5L298.5 759.8L292.3 751.3L284.3 740.9Z" fill="#008fff"/><path d="M225.8 661L233.8 672.6L227.6 664.1L219.6 652.5Z" fill="#ffbf00"/><path d="M175.3 620.9L183.3 632.5L177.1 640L169.1 628.4Z" fill="#ff0000"/><path d="M304.7 768.4L312.7 778.7L306.5 770.2L298.5 759.8Z" fill="#0030ff"/><path d="M240 681.2L248 692.8L241.8 684.3L233.8 672.6Z" fill="#dfff20"/><path d="M189.5 625.1L197.5 636.7L191.3 644.1L183.3 632.5Z" fill="#ff1000"/><path d="M254.2 701.3L262.2 711.7L256 703.2L248 692.8Z" fill="#80ff80"/><path d="M268.3 720.2L276.3 730.6L270.2 722L262.2 711.7Z" fill="#20ffdf"/><path d="M203.6 629.2L211.6 640.9L205.5 648.3L197.5 636.7Z" fill="#ff2000"/><path d="M282.5 739.1L290.5 749.5L284.3 740.9L276.3 730.6Z" fill="#00cfff"/><path d="M217.8 649.4L225.8 661L219.6 652.5L211.6 640.9Z" fill="#ff8000"/><path d="M296.7 758L304.7 768.4L298.5 759.8L290.5 749.5Z" fill="#0070ff"/><path d="M232 669.5L240 681.2L233.8 672.6L225.8 661Z" fill="#ffdf00"/><path d="M181.5 613.4L189.5 625.1L183.3 632.5L175.3 620.9Z" fill="#bf0000"/><path d="M246.2 689.7L254.2 701.3L248 692.8L240 681.2Z" fill="#bfff40"/><path d="M260.3 709.8L268.3 720.2L262.2 711.7L254.2 701.3Z" fill="#60ff9f"/><path d="M195.6 617.6L203.6 629.2L197.5 636.7L189.5 625.1Z" fill="#cf0000"/><path d="M274.5 728.7L282.5 739.1L276.3 730.6L268.3 720.2Z" fill="#10ffef"/><path d="M209.8 637.8L217.8 649.4L211.6 640.9L203.6 629.2Z" fill="#ff3000"/><path d="M288.7 747.6L296.7 758L290.5 749.5L282.5 739.1Z" fill="#00afff"/><path d="M224 657.9L232 669.5L225.8 661L217.8 649.4Z" fill="#ff8f00"/><path d="M238.2 678.1L246.2 689.7L240 681.2L232 669.5Z" fill="#ffef00"/><path d="M252.3 698.2L260.3 709.8L254.2 701.3L246.2 689.7Z" fill="#afff50"/><path d="M187.6 606L195.6 617.6L189.5 625.1L181.5 613.4Z" fill="#8f0000"/><path d="M266.5 718.4L274.5 728.7L268.3 720.2L260.3 709.8Z" fill="#50ffaf"/><path d="M201.8 626.1L209.8 637.8L203.6 629.2L195.6 617.6Z" fill="#ef0000"/><path d="M280.7 737.3L288.7 747.6L282.5 739.1L274.5 728.7Z" fill="#00efff"/><path d="M216 646.3L224 657.9L217.8 649.4L209.8 637.8Z" fill="#ff5000"/><path d="M230.2 666.4L238.2 678.1L232 669.5L224 657.9Z" fill="#ffaf00"/><path d="M244.3 686.6L252.3 698.2L246.2 689.7L238.2 678.1Z" fill="#efff10"/><path d="M258.5 706.7L266.5 718.4L260.3 709.8L252.3 698.2Z" fill="#8fff70"/><path d="M193.8 610.2L201.8 626.1L195.6 617.6L187.6 606Z" fill="#8f0000"/><path d="M272.7 726.9L280.7 737.3L274.5 728.7L266.5 718.4Z" fill="#30ffcf"/><path d="M208 630.3L216 646.3L209.8 637.8L201.8 626.1Z" fill="#ef0000"/><path d="M222.2 650.5L230.2 666.4L224 657.9L216 646.3Z" fill="#ff5000"/><path d="M236.3 670.6L244.3 686.6L238.2 678.1L230.2 666.4Z" fill="#ffaf00"/><path d="M250.5 690.8L258.5 706.7L252.3 698.2L244.3 686.6Z" fill="#efff10"/><path d="M264.7 710.9L272.7 726.9L266.5 718.4L258.5 706.7Z" fill="#8fff70"/><path d="M200 614.4L208 630.3L201.8 626.1L193.8 610.2Z" fill="#8f0000"/><path d="M214.2 634.5L222.2 650.5L216 646.3L208 630.3Z" fill="#ef0000"/><path d="M228.3 654.7L236.3 670.6L230.2 666.4L222.2 650.5Z" fill="#ff5000"/><path d="M242.5 674.8L250.5 690.8L244.3 686.6L236.3 670.6Z" fill="#ffaf00"/><path d="M256.7 695L264.7 710.9L258.5 706.7L250.5 690.8Z" fill="#efff10"/><path d="M206.2 618.6L214.2 634.5L208 630.3L200 614.4Z" fill="#9f0000"/><path d="M220.3 638.7L228.3 654.7L222.2 650.5L214.2 634.5Z" fill="#ff0000"/><path d="M234.5 658.9L242.5 674.8L236.3 670.6L228.3 654.7Z" fill="#ff6000"/><path d="M248.7 679L256.7 695L250.5 690.8L242.5 674.8Z" fill="#ffbf00"/><path d="M212.3 622.8L220.3 638.7L214.2 634.5L206.2 618.6Z" fill="#9f0000"/><path d="M226.5 642.9L234.5 658.9L228.3 654.7L220.3 638.7Z" fill="#ff0000"/><path d="M240.7 663.1L248.7 679L242.5 674.8L234.5 658.9Z" fill="#ff6000"/><path d="M218.5 627L226.5 642.9L220.3 638.7L212.3 622.8Z" fill="#9f0000"/><path d="M232.7 647.1L240.7 663.1L234.5 658.9L226.5 642.9Z" fill="#ff0000"/><path d="M224.7 631.2L232.7 647.1L226.5 642.9L218.5 627Z" fill="#9f0000"/></g>
<path d="M48.2 745.8L48.2 540.7M48.2 745.8L221 839.5L445 768.2M208.7 832.8L202.9 834.6M237 834.4L242.3 837.3M171.6 812.7L165.9 814.5M285 819.1L290.3 822M134.6 792.6L128.9 794.4M333 803.9L338.3 806.7M97.6 772.5L91.9 774.4M381 788.6L386.3 791.5M60.6 752.4L54.9 754.3M429 773.3L434.3 776.2M48.2 725.9L43.4 723.3M48.2 704.1L43.4 701.5M48.2 682.3L43.4 679.7M48.2 660.5L43.4 657.9M48.2 638.7L43.4 636.1M48.2 616.9L43.4 614.3M48.2 595.1L43.4 592.5M48.2 573.3L43.4 570.7M48.2 551.5L43.4 548.9" stroke="#303030" stroke-width="0.95" fill="none"/>
<linearGradient id="gc" x1="0" y1="0" x2="0" y2="1"><stop offset="0.0000" stop-color="#800000"/><stop offset="0.0156" stop-color="#800000"/><stop offset="0.0156" stop-color="#8f0000"/><stop offset="0.0312" stop-color="#8f0000"/><stop offset="0.0312" stop-color="#9f0000"/><stop offset="0.0469" stop-color="#9f0000"/><stop offset="0.0469" stop-color="#af0000"/><stop offset="0.0625" stop-color="#af0000"/><stop offset="0.0625" stop-color="#bf0000"/><stop offset="0.0781" stop-color="#bf0000"/><stop offset="0.0781" stop-color="#cf0000"/><stop offset="0.0938" stop-color="#cf0000"/><stop offset="0.0938" stop-color="#df0000"/><stop offset="0.1094" stop-color="#df0000"/><stop offset="0.1094" stop-color="#ef0000"/><stop offset="0.1250" stop-color="#ef0000"/><stop offset="0.1250" stop-color="#ff0000"/><stop offset="0.1406" stop-color="#ff0000"/><stop offset="0.1406" stop-color="#ff1000"/><stop offset="0.1562" stop-color="#ff1000"/><stop offset="0.1562" stop-color="#ff2000"/><stop offset="0.1719" stop-color="#ff2000"/><stop offset="0.1719" stop-color="#ff3000"/><stop offset="0.1875" stop-color="#ff3000"/><stop offset="0.1875" stop-color="#ff4000"/><stop offset="0.2031" stop-color="#ff4000"/><stop offset="0.2031" stop-color="#ff5000"/><stop offset="0.2188" stop-color="#ff5000"/><stop offset="0.2188" stop-color="#ff6000"/><stop offset="0.2344" stop-color="#ff6000"/><stop offset="0.2344" stop-color="#ff7000"/><stop offset="0.2500" stop-color="#ff7000"/><stop offset="0.2500" stop-color="#ff8000"/><stop offset="0.2656" stop-color="#ff8000"/><stop offset="0.2656" stop-color="#ff8f00"/><stop offset="0.2812" stop-color="#ff8f00"/><stop offset="0.2812" stop-color="#ff9f00"/><stop offset="0.2969" stop-color="#ff9f00"/><stop offset="0.2969" stop-color="#ffaf00"/><stop offset="0.3125" stop-color="#ffaf00"/><stop offset="0.3125" stop-color="#ffbf00"/><stop offset="0.3281" stop-color="#ffbf00"/><stop offset="0.3281" stop-color="#ffcf00"/><stop offset="0.3438" stop-color="#ffcf00"/><stop offset="0.3438" stop-color="#ffdf00"/><stop offset="0.3594" stop-color="#ffdf00"/><stop offset="0.3594" stop-color="#ffef00"/><stop offset="0.3750" stop-color="#ffef00"/><stop offset="0.3750" stop-color="#ffff00"/><stop offset="0.3906" stop-color="#ffff00"/><stop offset="0.3906" stop-color="#efff10"/><stop offset="0.4062" stop-color="#efff10"/><stop offset="0.4062" stop-color="#dfff20"/><stop offset="0.4219" stop-color="#dfff20"/><stop offset="0.4219" stop-color="#cfff30"/><stop offset="0.4375" stop-color="#cfff30"/><stop offset="0.4375" stop-color="#bfff40"/><stop offset="0.4531" stop-color="#bfff40"/><stop offset="0.4531" stop-color="#afff50"/><stop offset="0.4688" stop-color="#afff50"/><stop offset="0.4688" stop-color="#9fff60"/><stop offset="0.4844" stop-color="#9fff60"/><stop offset="0.4844" stop-color="#8fff70"/><stop offset="0.5000" stop-color="#8fff70"/><stop offset="0.5000" stop-color="#80ff80"/><stop offset="0.5156" stop-color="#80ff80"/><stop offset="0.5156" stop-color="#70ff8f"/><stop offset="0.5312" stop-color="#70ff8f"/><stop offset="0.5312" stop-color="#60ff9f"/><stop offset="0.5469" stop-color="#60ff9f"/><stop offset="0.5469" stop-color="#50ffaf"/><stop offset="0.5625" stop-color="#50ffaf"/><stop offset="0.5625" stop-color="#40ffbf"/><stop offset="0.5781" stop-color="#40ffbf"/><stop offset="0.5781" stop-color="#30ffcf"/><stop offset="0.5938" stop-color="#30ffcf"/><stop offset="0.5938" stop-color="#20ffdf"/><stop offset="0.6094" stop-color="#20ffdf"/><stop offset="0.6094" stop-color="#10ffef"/><stop offset="0.6250" stop-color="#10ffef"/><stop offset="0.6250" stop-color="#00ffff"/><stop offset="0.6406" stop-color="#00ffff"/><stop offset="0.6406" stop-color="#00efff"/><stop offset="0.6562" stop-color="#00efff"/><stop offset="0.6562" stop-color="#00dfff"/><stop offset="0.6719" stop-color="#00dfff"/><stop offset="0.6719" stop-color="#00cfff"/><stop offset="0.6875" stop-color="#00cfff"/><stop offset="0.6875" stop-color="#00bfff"/><stop offset="0.7031" stop-color="#00bfff"/><stop offset="0.7031" stop-color="#00afff"/><stop offset="0.7188" stop-color="#00afff"/><stop offset="0.7188" stop-color="#009fff"/><stop offset="0.7344" stop-color="#009fff"/><stop offset="0.7344" stop-color="#008fff"/><stop offset="0.7500" stop-color="#008fff"/><stop offset="0.7500" stop-color="#0080ff"/><stop offset="0.7656" stop-color="#0080ff"/><stop offset="0.7656" stop-color="#0070ff"/><stop offset="0.7812" stop-color="#0070ff"/><stop offset="0.7812" stop-color="#0060ff"/><stop offset="0.7969" stop-color="#0060ff"/><stop offset="0.7969" stop-color="#0050ff"/><stop offset="0.8125" stop-color="#0050ff"/><stop offset="0.8125" stop-color="#0040ff"/><stop offset="0.8281" stop-color="#0040ff"/><stop offset="0.8281" stop-color="#0030ff"/><stop offset="0.8438" stop-color="#0030ff"/><stop offset="0.8438" stop-color="#0020ff"/><stop offset="0.8594" stop-color="#0020ff"/><stop offset="0.8594" stop-color="#0010ff"/><stop offset="0.8750" stop-color="#0010ff"/><stop offset="0.8750" stop-color="#0000ff"/><stop offset="0.8906" stop-color="#0000ff"/><stop offset="0.8906" stop-color="#0000ef"/><stop offset="0.9062" stop-color="#0000ef"/><stop offset="0.9062" stop-color="#0000df"/><stop offset="0.9219" stop-color="#0000df"/><stop offset="0.9219" stop-color="#0000cf"/><stop offset="0.9375" stop-color="#0000cf"/><stop offset="0.9375" stop-color="#0000bf"/><stop offset="0.9531" stop-color="#0000bf"/><stop offset="0.9531" stop-color="#0000af"/><stop offset="0.9688" stop-color="#0000af"/><stop offset="0.9688" stop-color="#00009f"/><stop offset="0.9844" stop-color="#00009f"/><stop offset="0.9844" stop-color="#00008f"/><stop offset="1.0000" stop-color="#00008f"/></linearGradient>
<rect x="460.2" y="469.4" width="20.3" height="370.3" fill="url(#gc)"/>
<path d="M460.2 804.6h3.5M480.5 804.6h-3.5M460.2 765.3h3.5M480.5 765.3h-3.5M460.2 726.1h3.5M480.5 726.1h-3.5M460.2 686.8h3.5M480.5 686.8h-3.5M460.2 647.6h3.5M480.5 647.6h-3.5M460.2 608.3h3.5M480.5 608.3h-3.5M460.2 569.1h3.5M480.5 569.1h-3.5M460.2 529.8h3.5M480.5 529.8h-3.5M460.2 490.6h3.5M480.5 490.6h-3.5" stroke="#111" stroke-width="1" fill="none"/>
<rect x="460.2" y="469.4" width="20.3" height="370.3" fill="none" stroke="#222" stroke-width="0.9"/>
<g font-family="Liberation Sans" font-size="10.3" fill="#222"><text x="199.9" y="845" text-anchor="end">−0.6</text><text x="243.5" y="847.6">−0.6</text><text x="162.8" y="824.9" text-anchor="end">−0.3</text><text x="291.5" y="832.3">−0.3</text><text x="125.8" y="804.8" text-anchor="end">0</text><text x="339.5" y="817.1">0</text><text x="88.8" y="784.7" text-anchor="end">0.3</text><text x="387.5" y="801.8">0.3</text><text x="51.8" y="764.6" text-anchor="end">0.6</text><text x="435.5" y="786.5">0.6</text><text x="40.4" y="727.1" text-anchor="end">0.1</text><text x="40.4" y="705.3" text-anchor="end">0.12</text><text x="40.4" y="683.5" text-anchor="end">0.14</text><text x="40.4" y="661.7" text-anchor="end">0.16</text><text x="40.4" y="639.9" text-anchor="end">0.18</text><text x="40.4" y="618.1" text-anchor="end">0.2</text><text x="40.4" y="596.3" text-anchor="end">0.22</text><text x="40.4" y="574.5" text-anchor="end">0.24</text><text x="40.4" y="552.7" text-anchor="end">0.26</text><text x="483.7" y="808.3">0.1</text><text x="483.7" y="769">0.12</text><text x="483.7" y="729.8">0.14</text><text x="483.7" y="690.5">0.16</text><text x="483.7" y="651.3">0.18</text><text x="483.7" y="612">0.2</text><text x="483.7" y="572.8">0.22</text><text x="483.7" y="533.5">0.24</text><text x="483.7" y="494.3">0.26</text></g>
<text x="123.5" y="857.2" font-family="Liberation Serif" font-size="13.5" fill="#111">ρ</text>
<text x="324.5" y="864.5" font-family="Liberation Serif" font-size="14" fill="#111">λ</text>
<clipPath id="rc"><rect x="11.8" y="613.5" width="6" height="60"/></clipPath>
<g clip-path="url(#rc)"><text transform="translate(14.4 643.5) rotate(-90)" text-anchor="middle" font-family="Liberation Sans" font-size="11" fill="#111">RMSE</text></g>
<text x="266.2" y="910.8" text-anchor="middle" font-family="Liberation Serif" font-size="27" fill="#111">(<tspan font-weight="bold">c</tspan>)</text>
<path d="M752.5 834.4L579.8 740.7M724.2 832.8L948.2 761.6M579.8 740.7L579.8 534.9M948.2 761.6L948.2 555.8M800.5 819.1L627.8 725.4M687.1 812.7L911.1 741.5M627.8 725.4L627.8 519.6M911.1 741.5L911.1 535.7M848.5 803.9L675.8 710.1M650.1 792.6L874.1 721.4M675.8 710.1L675.8 504.3M874.1 721.4L874.1 515.6M896.5 788.6L723.8 694.9M613.1 772.5L837.1 701.3M723.8 694.9L723.8 489.1M837.1 701.3L837.1 495.5M944.5 773.3L771.8 679.6M576.1 752.4L800.1 681.2M771.8 679.6L771.8 473.8M800.1 681.2L800.1 475.4M563.8 725.1L787.8 653.9M787.8 653.9L960.5 747.6M563.8 703.3L787.8 632.1M787.8 632.1L960.5 725.8M563.8 681.5L787.8 610.3M787.8 610.3L960.5 704M563.8 659.7L787.8 588.5M787.8 588.5L960.5 682.2M563.8 637.9L787.8 566.7M787.8 566.7L960.5 660.4M563.8 616.1L787.8 544.9M787.8 544.9L960.5 638.6M563.8 594.3L787.8 523.1M787.8 523.1L960.5 616.8M563.8 572.5L787.8 501.3M787.8 501.3L960.5 595M563.8 550.7L787.8 479.5M787.8 479.5L960.5 573.2" stroke="#9a9a9a" stroke-width="1" stroke-dasharray="1 3.2" fill="none"/>
<clipPath id="cd"><rect x="563.8" y="439.5" width="396.8" height="400"/></clipPath>
<g clip-path="url(#cd)">
<path d="M827.2 833.9 826.1 832.5 823.9 829.7 819.9 825.6 816 821.6 813.1 818.6 820.3 815.6 827.6 812.7 827.6 812.6 821.8 809.1 815.9 805.7 813.3 804.9 807.2 803.1 798.4 800.6 789.7 798.1 786.1 797 781 795.5 772.2 793 764.2 790.2 760.4 790 751 789.1 745.3 788.6 737.9 788 730.1 787.3 724.8 786.8 715 786 711.8 785.7 699.8 784.6 698.7 784.5 685.6 783.4 684.8 783.4 671.7 783.1 666.1 784.3 662.4 785 650.5 785.4 645.4 785.5 638.3 785.7 627.6 785.9 626.1 785.9 613.9 786.2 609.7 786.3 601.6 786.4" stroke="#0000ef" stroke-width="1" fill="none"/>
<path d="M656 760.9 656.2 760.9 669.6 761.9 670.8 762 683.3 762.9 685.4 763 696.9 763.9 700 764.1 710.5 764.8 714.6 765.1 724.1 763.4 733.6 761.7 741.8 760.2 743.1 759.9 752.6 758.2 762.1 756.5 772.5 755.2 780 752.4 787.5 749.6 795.1 746.8 802.6 744 810.1 741.2 818.7 739" stroke="#0000ef" stroke-width="1" fill="none"/>
<path d="M814.7 837.9 811.5 833.6 808.9 830 808.3 829.3 804.4 825.3 800.4 821.2 796.5 817.1 795.1 815.7 792.6 813.1 786.1 810.8 784.7 810.3 777.6 807.2 770.5 804.2 763.5 801.1 756.4 798 749.3 795 743.6 794.6 735.4 794.1 729.2 793.7 721.5 793.2 714.8 792.8 707.6 792.3 700.4 791.8 693.7 791.4 686 790.9 676.4 791.6 674.8 791.7 663.6 792.5 654.9 793.1 652.1 793.2 639.9 793.4 637.1 793.5 627.7 793.7 619.2 793.9 615.5 793.9" stroke="#0060ff" stroke-width="1" fill="none"/>
<path d="M673.6 755.3 685.5 756.2 687.2 756.3 700.1 757.2 702.2 756.8 709.6 755.5 719.1 753.8 729.7 752.7 732.3 752.6 741.8 752.3 750.5 752.1 754 752 766.1 751.7 773.6 748.9 781.1 746.1 788.7 743.3 796.2 740.5 804.7 738.3 814.3 736.6" stroke="#0060ff" stroke-width="1" fill="none"/>
<path d="M802.2 841.9 800.1 839 799 837.6 795.8 833.3 792.7 829 791.2 827.3 788.8 824.9 784.9 820.8 781 816.8 773 814 765.1 811.2 757.3 808.4 752.2 806.2 750.2 805.3 743.2 802.2 736.1 799.2 725.4 798.5 722.2 798.3 711 797.6 708.3 797.4 696.6 796.7 693.2 796.9 685.4 797.4 674.2 798.2 671.7 798.4 662.9 799 651.7 799.8 650.2 799.9 640.5 800.6 629.3 801.4" stroke="#00bfff" stroke-width="1" fill="none"/>
<path d="M690.3 750 699.1 749.8 708.4 749.6 711.2 749.5 723.3 749.2 726.6 749.1 735.4 748.9 744.7 748.6 747.6 748.6 759.7 748.3 767.2 745.5 774.7 742.7 782.3 739.9 790.7 737.6 800.3 735.9 802.9 735.4 809.9 734.2" stroke="#00bfff" stroke-width="1" fill="none"/>
<path d="M789.7 845.9 786.5 841.6 783.3 837.3 782.8 836.6 780.2 833 777 828.6 773.3 824.5 773.2 824.4 769.3 820.5 761.4 817.7 759.4 817 753.5 814.9 745.6 812.1 737.6 809.3 729.9 806.5 722.9 803.4 721.5 803.3 709 802.5 707.2 802.4 695.9 803.2 688.5 803.7 684.7 804 673.5 804.8 666.8 805.3 662.3 805.6 651.2 806.4 645.1 806.9 640 807.2" stroke="#30ffcf" stroke-width="1" fill="none"/>
<path d="M702.7 746.1 704.8 746 716.9 745.7 720.8 745.6 729.1 745.4 739 745.2 741.2 745.1 753.3 744.8 760.8 742 768.3 739.2 776.7 736.8 786.3 735.2 787.9 734.9 795.9 733.5 805.5 731.8" stroke="#30ffcf" stroke-width="1" fill="none"/>
<path d="M779.7 849 773.9 845.6 773.7 845.4 770.7 841.3 767.6 836.9 765.6 834.1 764.5 832.6 761.4 828.3 757.7 824.2 749.8 821.4 741.9 818.6 733.9 815.8 728 813.7 725.4 813.2 715.2 811.1 707.9 809.7 705 809.1 695.4 809.8 684.2 810.6 683.3 810.7 673.1 811.4 661.9 812.2 661.6 812.3 650.7 813.1" stroke="#9fff60" stroke-width="1" fill="none"/>
<path d="M715.1 742.1 722.7 741.9 733.3 741.7 734.8 741.6 746.9 741.3 754.4 738.5 762.7 736.1 772.3 734.5 772.9 734.4 781.9 732.8 791.5 731.1 801.1 729.4" stroke="#9fff60" stroke-width="1" fill="none"/>
<path d="M770.1 852.1 764.2 848.6 758.4 845.2 756.1 842.7 754.9 841 751.8 836.7 748.7 832.3 748.1 831.5 745.6 828 740.7 827.5 733.3 826.6 724.6 825.6 721 825.2 708.7 823.8 708.5 823.8 698.5 821.8 688.4 819.7 688.2 819.7 678 817.7 672.6 818.1 661.4 818.9" stroke="#ffef00" stroke-width="1" fill="none"/>
<path d="M727.5 738.2 728.4 738.2 740.5 737.8 748.7 735.4 757.9 733.8 758.3 733.7 767.9 732.1 777.5 730.4 787.1 728.7 794.9 727.4 796.7 727" stroke="#ffef00" stroke-width="1" fill="none"/>
<path d="M760.4 855.2 754.6 851.7 748.8 848.2 743 844.8 739 840.7 738.6 840.1 735.9 836.4 732.8 832.1 721.4 830.8 720.5 830.7 708.2 829.3 705.4 829 695.9 827.9 689.3 827.1 683.6 826.5 673.3 825.3" stroke="#ff8f00" stroke-width="1" fill="none"/>
<path d="M742.9 733.3 744.3 733 753.9 731.4 763.5 729.7 773.1 728 779.9 726.8 782.7 726.3 792.3 724.7" stroke="#ff8f00" stroke-width="1" fill="none"/>
<path d="M750.8 858.2 745 854.8 739.2 851.3 733.4 847.8 727.6 844.4 723.2 840.5 721.1 837.5 720.1 836.1 718.2 835.9 707.8 834.7 702.1 834.1 695.5 833.3 686.1 832.3" stroke="#ff2000" stroke-width="1" fill="none"/>
<path d="M764.9 726.3 768.7 725.6 778.3 723.9 787.9 722.3" stroke="#ff2000" stroke-width="1" fill="none"/>
<path d="M741.2 861.3 735.4 857.8 729.6 854.4 723.7 850.9 717.9 847.4 712.1 844 707.4 840.2 698.9 839.2" stroke="#af0000" stroke-width="1" fill="none"/>
</g>
<g stroke="#000" stroke-width="0.75" stroke-linejoin="round"><path d="M782.3 538.4L790.3 527.9L784.1 494L776.1 504.5Z" fill="#ff8000"/><path d="M774.3 548.9L782.3 538.4L776.1 504.5L768.1 515Z" fill="#ff9f00"/><path d="M788.4 572.3L796.4 561.9L790.3 527.9L782.3 538.4Z" fill="#efff10"/><path d="M766.3 559.4L774.3 548.9L768.1 515L760.1 525.5Z" fill="#ffcf00"/><path d="M780.4 582.8L788.4 572.3L782.3 538.4L774.3 548.9Z" fill="#bfff40"/><path d="M794.6 606.3L802.6 595.8L796.4 561.9L788.4 572.3Z" fill="#50ffaf"/><path d="M758.3 569.9L766.3 559.4L760.1 525.5L752.1 535.9Z" fill="#ffef00"/><path d="M772.4 593.3L780.4 582.8L774.3 548.9L766.3 559.4Z" fill="#9fff60"/><path d="M786.6 616.7L794.6 606.3L788.4 572.3L780.4 582.8Z" fill="#30ffcf"/><path d="M800.8 640.2L808.8 629.7L802.6 595.8L794.6 606.3Z" fill="#00bfff"/><path d="M750.3 580.3L758.3 569.9L752.1 535.9L744.1 546.4Z" fill="#dfff20"/><path d="M764.4 603.8L772.4 593.3L766.3 559.4L758.3 569.9Z" fill="#70ff8f"/><path d="M778.6 627.2L786.6 616.7L780.4 582.8L772.4 593.3Z" fill="#00ffff"/><path d="M792.8 650.7L800.8 640.2L794.6 606.3L786.6 616.7Z" fill="#008fff"/><path d="M806.9 674.1L814.9 663.6L808.8 629.7L800.8 640.2Z" fill="#0020ff"/><path d="M742.3 581.3L750.3 580.3L744.1 546.4L736.1 556.9Z" fill="#efff10"/><path d="M756.4 604.7L764.4 603.8L758.3 569.9L750.3 580.3Z" fill="#80ff80"/><path d="M770.6 628.2L778.6 627.2L772.4 593.3L764.4 603.8Z" fill="#10ffef"/><path d="M784.8 651.6L792.8 650.7L786.6 616.7L778.6 627.2Z" fill="#009fff"/><path d="M798.9 675.1L806.9 674.1L800.8 640.2L792.8 650.7Z" fill="#0030ff"/><path d="M734.3 597.9L742.3 581.3L736.1 556.9L728.1 573.5Z" fill="#9fff60"/><path d="M813.1 698.5L821.1 697.5L814.9 663.6L806.9 674.1Z" fill="#0000bf"/><path d="M748.4 605.7L756.4 604.7L750.3 580.3L742.3 581.3Z" fill="#80ff80"/><path d="M762.6 629.1L770.6 628.2L764.4 603.8L756.4 604.7Z" fill="#10ffef"/><path d="M776.8 652.6L784.8 651.6L778.6 627.2L770.6 628.2Z" fill="#009fff"/><path d="M726.3 614.5L734.3 597.9L728.1 573.5L720.1 590.1Z" fill="#60ff9f"/><path d="M790.9 676L798.9 675.1L792.8 650.7L784.8 651.6Z" fill="#0030ff"/><path d="M805.1 699.4L813.1 698.5L806.9 674.1L798.9 675.1Z" fill="#0000bf"/><path d="M740.4 622.3L748.4 605.7L742.3 581.3L734.3 597.9Z" fill="#40ffbf"/><path d="M819.3 702.9L827.3 701.9L821.1 697.5L813.1 698.5Z" fill="#0000af"/><path d="M754.6 630.1L762.6 629.1L756.4 604.7L748.4 605.7Z" fill="#20ffdf"/><path d="M768.8 653.5L776.8 652.6L770.6 628.2L762.6 629.1Z" fill="#00afff"/><path d="M718.3 631.1L726.3 614.5L720.1 590.1L712.1 606.7Z" fill="#20ffdf"/><path d="M782.9 676.9L790.9 676L784.8 651.6L776.8 652.6Z" fill="#0040ff"/><path d="M732.4 638.9L740.4 622.3L734.3 597.9L726.3 614.5Z" fill="#00ffff"/><path d="M797.1 700.4L805.1 699.4L798.9 675.1L790.9 676Z" fill="#0000cf"/><path d="M746.6 646.7L754.6 630.1L748.4 605.7L740.4 622.3Z" fill="#00cfff"/><path d="M811.3 703.8L819.3 702.9L813.1 698.5L805.1 699.4Z" fill="#0000bf"/><path d="M760.8 654.5L768.8 653.5L762.6 629.1L754.6 630.1Z" fill="#00afff"/><path d="M825.4 707.2L833.4 706.3L827.3 701.9L819.3 702.9Z" fill="#0000af"/><path d="M710.3 647.6L718.3 631.1L712.1 606.7L704.1 623.3Z" fill="#00cfff"/><path d="M774.9 677.9L782.9 676.9L776.8 652.6L768.8 653.5Z" fill="#0040ff"/><path d="M724.4 655.4L732.4 638.9L726.3 614.5L718.3 631.1Z" fill="#00afff"/><path d="M789.1 701.3L797.1 700.4L790.9 676L782.9 676.9Z" fill="#0000cf"/><path d="M738.6 663.2L746.6 646.7L740.4 622.3L732.4 638.9Z" fill="#008fff"/><path d="M803.3 704.7L811.3 703.8L805.1 699.4L797.1 700.4Z" fill="#0000bf"/><path d="M752.8 671L760.8 654.5L754.6 630.1L746.6 646.7Z" fill="#0070ff"/><path d="M817.4 708.2L825.4 707.2L819.3 702.9L811.3 703.8Z" fill="#0000bf"/><path d="M702.3 664.2L710.3 647.6L704.1 623.3L696.1 639.8Z" fill="#008fff"/><path d="M766.9 678.8L774.9 677.9L768.8 653.5L760.8 654.5Z" fill="#0050ff"/><path d="M831.6 711.6L839.6 710.6L833.4 706.3L825.4 707.2Z" fill="#0000af"/><path d="M716.4 672L724.4 655.4L718.3 631.1L710.3 647.6Z" fill="#0070ff"/><path d="M781.1 702.3L789.1 701.3L782.9 676.9L774.9 677.9Z" fill="#0000df"/><path d="M730.6 679.8L738.6 663.2L732.4 638.9L724.4 655.4Z" fill="#0050ff"/><path d="M795.3 705.7L803.3 704.7L797.1 700.4L789.1 701.3Z" fill="#0000cf"/><path d="M744.8 687.6L752.8 671L746.6 646.7L738.6 663.2Z" fill="#0030ff"/><path d="M809.4 709.1L817.4 708.2L811.3 703.8L803.3 704.7Z" fill="#0000bf"/><path d="M694.3 669L702.3 664.2L696.1 639.8L688.1 656.4Z" fill="#0080ff"/><path d="M758.9 695.4L766.9 678.8L760.8 654.5L752.8 671Z" fill="#0000ff"/><path d="M823.6 712.5L831.6 711.6L825.4 707.2L817.4 708.2Z" fill="#0000af"/><path d="M708.4 676.8L716.4 672L710.3 647.6L702.3 664.2Z" fill="#0060ff"/><path d="M773.1 703.2L781.1 702.3L774.9 677.9L766.9 678.8Z" fill="#0000df"/><path d="M837.8 716L845.8 715L839.6 710.6L831.6 711.6Z" fill="#00009f"/><path d="M722.6 684.6L730.6 679.8L724.4 655.4L716.4 672Z" fill="#0040ff"/><path d="M787.3 706.6L795.3 705.7L789.1 701.3L781.1 702.3Z" fill="#0000cf"/><path d="M736.8 692.4L744.8 687.6L738.6 663.2L730.6 679.8Z" fill="#0020ff"/><path d="M801.4 710.1L809.4 709.1L803.3 704.7L795.3 705.7Z" fill="#0000cf"/><path d="M686.3 681.5L694.3 669L688.1 656.4L680.1 668.9Z" fill="#0050ff"/><path d="M750.9 700.2L758.9 695.4L752.8 671L744.8 687.6Z" fill="#0000ff"/><path d="M815.6 713.5L823.6 712.5L817.4 708.2L809.4 709.1Z" fill="#0000bf"/><path d="M700.4 681.6L708.4 676.8L702.3 664.2L694.3 669Z" fill="#0050ff"/><path d="M765.1 708L773.1 703.2L766.9 678.8L758.9 695.4Z" fill="#0000df"/><path d="M714.6 689.4L722.6 684.6L716.4 672L708.4 676.8Z" fill="#0030ff"/><path d="M829.8 716.9L837.8 716L831.6 711.6L823.6 712.5Z" fill="#0000af"/><path d="M779.3 709L787.3 706.6L781.1 702.3L773.1 703.2Z" fill="#0000cf"/><path d="M728.8 697.2L736.8 692.4L730.6 679.8L722.6 684.6Z" fill="#0010ff"/><path d="M844 720.3L852 719.4L845.8 715L837.8 716Z" fill="#00009f"/><path d="M678.3 694L686.3 681.5L680.1 668.9L672.1 681.4Z" fill="#0020ff"/><path d="M793.4 712.4L801.4 710.1L795.3 705.7L787.3 706.6Z" fill="#0000cf"/><path d="M742.9 705L750.9 700.2L744.8 687.6L736.8 692.4Z" fill="#0000ef"/><path d="M692.4 694.1L700.4 681.6L694.3 669L686.3 681.5Z" fill="#0020ff"/><path d="M807.6 715.8L815.6 713.5L809.4 709.1L801.4 710.1Z" fill="#0000bf"/><path d="M757.1 712.8L765.1 708L758.9 695.4L750.9 700.2Z" fill="#0000cf"/><path d="M706.6 694.2L714.6 689.4L708.4 676.8L700.4 681.6Z" fill="#0030ff"/><path d="M821.8 719.2L829.8 716.9L823.6 712.5L815.6 713.5Z" fill="#0000af"/><path d="M771.3 713.8L779.3 709L773.1 703.2L765.1 708Z" fill="#0000cf"/><path d="M720.8 702L728.8 697.2L722.6 684.6L714.6 689.4Z" fill="#0000ff"/><path d="M836 722.6L844 720.3L837.8 716L829.8 716.9Z" fill="#00009f"/><path d="M670.3 706.4L678.3 694L672.1 681.4L664.1 693.8Z" fill="#0000ef"/><path d="M785.4 714.7L793.4 712.4L787.3 706.6L779.3 709Z" fill="#0000cf"/><path d="M734.9 709.8L742.9 705L736.8 692.4L728.8 697.2Z" fill="#0000df"/><path d="M850.1 726.1L858.1 723.7L852 719.4L844 720.3Z" fill="#00008f"/><path d="M684.4 706.6L692.4 694.1L686.3 681.5L678.3 694Z" fill="#0000ef"/><path d="M799.6 718.1L807.6 715.8L801.4 710.1L793.4 712.4Z" fill="#0000bf"/><path d="M749.1 717.6L757.1 712.8L750.9 700.2L742.9 705Z" fill="#0000bf"/><path d="M698.6 706.7L706.6 694.2L700.4 681.6L692.4 694.1Z" fill="#0000ff"/><path d="M813.8 721.6L821.8 719.2L815.6 713.5L807.6 715.8Z" fill="#0000af"/><path d="M763.3 718.6L771.3 713.8L765.1 708L757.1 712.8Z" fill="#0000bf"/><path d="M712.8 706.8L720.8 702L714.6 689.4L706.6 694.2Z" fill="#0000ff"/><path d="M828 725L836 722.6L829.8 716.9L821.8 719.2Z" fill="#00009f"/><path d="M662.3 718.9L670.3 706.4L664.1 693.8L656.1 706.3Z" fill="#0000bf"/><path d="M777.4 719.5L785.4 714.7L779.3 709L771.3 713.8Z" fill="#0000bf"/><path d="M726.9 714.6L734.9 709.8L728.8 697.2L720.8 702Z" fill="#0000df"/><path d="M842.1 728.4L850.1 726.1L844 720.3L836 722.6Z" fill="#00008f"/><path d="M676.4 719L684.4 706.6L678.3 694L670.3 706.4Z" fill="#0000bf"/><path d="M791.6 720.5L799.6 718.1L793.4 712.4L785.4 714.7Z" fill="#0000bf"/><path d="M741.1 722.4L749.1 717.6L742.9 705L734.9 709.8Z" fill="#0000af"/><path d="M856.3 729.5L864.3 727.1L858.1 723.7L850.1 726.1Z" fill="#00008f"/><path d="M690.6 719.1L698.6 706.7L692.4 694.1L684.4 706.6Z" fill="#0000bf"/><path d="M805.8 723.9L813.8 721.6L807.6 715.8L799.6 718.1Z" fill="#0000af"/><path d="M755.3 723.4L763.3 718.6L757.1 712.8L749.1 717.6Z" fill="#0000af"/><path d="M704.8 719.3L712.8 706.8L706.6 694.2L698.6 706.7Z" fill="#0000cf"/><path d="M820 727.3L828 725L821.8 719.2L813.8 721.6Z" fill="#00009f"/><path d="M654.3 731.3L662.3 718.9L656.1 706.3L648.1 718.8Z" fill="#00008f"/><path d="M769.4 724.3L777.4 719.5L771.3 713.8L763.3 718.6Z" fill="#0000af"/><path d="M718.9 719.4L726.9 714.6L720.8 702L712.8 706.8Z" fill="#0000cf"/><path d="M834.1 730.7L842.1 728.4L836 722.6L828 725Z" fill="#00009f"/><path d="M668.4 731.5L676.4 719L670.3 706.4L662.3 718.9Z" fill="#00008f"/><path d="M783.6 725.3L791.6 720.5L785.4 714.7L777.4 719.5Z" fill="#0000af"/><path d="M733.1 727.2L741.1 722.4L734.9 709.8L726.9 714.6Z" fill="#0000af"/><path d="M848.3 731.8L856.3 729.5L850.1 726.1L842.1 728.4Z" fill="#00008f"/><path d="M682.6 731.6L690.6 719.1L684.4 706.6L676.4 719Z" fill="#00008f"/><path d="M797.8 726.2L805.8 723.9L799.6 718.1L791.6 720.5Z" fill="#0000af"/><path d="M747.3 728.2L755.3 723.4L749.1 717.6L741.1 722.4Z" fill="#0000af"/><path d="M862.5 732.8L870.5 730.5L864.3 727.1L856.3 729.5Z" fill="#00008f"/><path d="M696.8 731.7L704.8 719.3L698.6 706.7L690.6 719.1Z" fill="#00009f"/><path d="M812 729.6L820 727.3L813.8 721.6L805.8 723.9Z" fill="#00009f"/><path d="M646.3 730.7L654.3 731.3L648.1 718.8L640.1 731.2Z" fill="#00009f"/><path d="M761.4 729.1L769.4 724.3L763.3 718.6L755.3 723.4Z" fill="#0000af"/><path d="M710.9 731.9L718.9 719.4L712.8 706.8L704.8 719.3Z" fill="#00009f"/><path d="M826.1 733L834.1 730.7L828 725L820 727.3Z" fill="#00009f"/><path d="M660.4 730.8L668.4 731.5L662.3 718.9L654.3 731.3Z" fill="#00009f"/><path d="M775.6 730.1L783.6 725.3L777.4 719.5L769.4 724.3Z" fill="#0000af"/><path d="M725.1 732L733.1 727.2L726.9 714.6L718.9 719.4Z" fill="#00009f"/><path d="M840.3 734.1L848.3 731.8L842.1 728.4L834.1 730.7Z" fill="#00009f"/><path d="M674.6 731L682.6 731.6L676.4 719L668.4 731.5Z" fill="#00009f"/><path d="M789.8 731L797.8 726.2L791.6 720.5L783.6 725.3Z" fill="#0000af"/><path d="M739.3 733L747.3 728.2L741.1 722.4L733.1 727.2Z" fill="#00009f"/><path d="M854.5 735.2L862.5 732.8L856.3 729.5L848.3 731.8Z" fill="#00008f"/><path d="M688.8 731.1L696.8 731.7L690.6 719.1L682.6 731.6Z" fill="#0000af"/><path d="M804 732L812 729.6L805.8 723.9L797.8 726.2Z" fill="#00009f"/><path d="M638.3 732.5L646.3 730.7L640.1 731.2L632.1 733Z" fill="#00009f"/><path d="M753.4 733.9L761.4 729.1L755.3 723.4L747.3 728.2Z" fill="#00009f"/><path d="M868.6 736.2L876.6 733.9L870.5 730.5L862.5 732.8Z" fill="#00008f"/><path d="M702.9 731.2L710.9 731.9L704.8 719.3L696.8 731.7Z" fill="#0000af"/><path d="M818.1 735.4L826.1 733L820 727.3L812 729.6Z" fill="#00009f"/><path d="M652.4 730.2L660.4 730.8L654.3 731.3L646.3 730.7Z" fill="#0000af"/><path d="M767.6 734.9L775.6 730.1L769.4 724.3L761.4 729.1Z" fill="#00009f"/><path d="M717.1 731.4L725.1 732L718.9 719.4L710.9 731.9Z" fill="#0000af"/><path d="M832.3 736.4L840.3 734.1L834.1 730.7L826.1 733Z" fill="#00009f"/><path d="M666.6 730.3L674.6 731L668.4 731.5L660.4 730.8Z" fill="#0000af"/><path d="M781.8 735.8L789.8 731L783.6 725.3L775.6 730.1Z" fill="#00009f"/><path d="M731.3 732.6L739.3 733L733.1 727.2L725.1 732Z" fill="#0000af"/><path d="M846.5 737.5L854.5 735.2L848.3 731.8L840.3 734.1Z" fill="#00009f"/><path d="M680.8 730.5L688.8 731.1L682.6 731.6L674.6 731Z" fill="#0000bf"/><path d="M796 736.8L804 732L797.8 726.2L789.8 731Z" fill="#00009f"/><path d="M630.3 734.2L638.3 732.5L632.1 733L624.1 734.7Z" fill="#00009f"/><path d="M745.4 733.6L753.4 733.9L747.3 728.2L739.3 733Z" fill="#0000af"/><path d="M860.6 738.5L868.6 736.2L862.5 732.8L854.5 735.2Z" fill="#00008f"/><path d="M694.9 730.6L702.9 731.2L696.8 731.7L688.8 731.1Z" fill="#0000bf"/><path d="M810.1 737.7L818.1 735.4L812 729.6L804 732Z" fill="#00009f"/><path d="M644.4 732L652.4 730.2L646.3 730.7L638.3 732.5Z" fill="#0000af"/><path d="M759.6 734.5L767.6 734.9L761.4 729.1L753.4 733.9Z" fill="#0000af"/><path d="M874.8 739.6L882.8 737.3L876.6 733.9L868.6 736.2Z" fill="#00008f"/><path d="M709.1 730.7L717.1 731.4L710.9 731.9L702.9 731.2Z" fill="#0000bf"/><path d="M824.3 738.8L832.3 736.4L826.1 733L818.1 735.4Z" fill="#00009f"/><path d="M658.6 729.7L666.6 730.3L660.4 730.8L652.4 730.2Z" fill="#0000bf"/><path d="M773.8 735.5L781.8 735.8L775.6 730.1L767.6 734.9Z" fill="#0000af"/><path d="M723.3 732L731.3 732.6L725.1 732L717.1 731.4Z" fill="#0000bf"/><path d="M838.5 739.8L846.5 737.5L840.3 734.1L832.3 736.4Z" fill="#00009f"/><path d="M672.8 729.8L680.8 730.5L674.6 731L666.6 730.3Z" fill="#0000cf"/><path d="M788 736.4L796 736.8L789.8 731L781.8 735.8Z" fill="#0000af"/><path d="M622.3 736L630.3 734.2L624.1 734.7L616.1 736.5Z" fill="#0000af"/><path d="M737.4 733.2L745.4 733.6L739.3 733L731.3 732.6Z" fill="#0000bf"/><path d="M852.6 740.9L860.6 738.5L854.5 735.2L846.5 737.5Z" fill="#00009f"/><path d="M686.9 730L694.9 730.6L688.8 731.1L680.8 730.5Z" fill="#0000cf"/><path d="M802.1 737.4L810.1 737.7L804 732L796 736.8Z" fill="#0000af"/><path d="M636.4 733.7L644.4 732L638.3 732.5L630.3 734.2Z" fill="#0000bf"/><path d="M751.6 734.2L759.6 734.5L753.4 733.9L745.4 733.6Z" fill="#0000bf"/><path d="M866.8 741.9L874.8 739.6L868.6 736.2L860.6 738.5Z" fill="#00008f"/><path d="M701.1 730.1L709.1 730.7L702.9 731.2L694.9 730.6Z" fill="#0000cf"/><path d="M816.3 741.2L824.3 738.8L818.1 735.4L810.1 737.7Z" fill="#00009f"/><path d="M650.6 731.5L658.6 729.7L652.4 730.2L644.4 732Z" fill="#0000cf"/><path d="M765.8 735.1L773.8 735.5L767.6 734.9L759.6 734.5Z" fill="#0000bf"/><path d="M881 743L889 740.7L882.8 737.3L874.8 739.6Z" fill="#00008f"/><path d="M715.3 731.3L723.3 732L717.1 731.4L709.1 730.7Z" fill="#0000cf"/><path d="M830.5 742.3L838.5 739.8L832.3 736.4L824.3 738.8Z" fill="#00009f"/><path d="M664.8 729.2L672.8 729.8L666.6 730.3L658.6 729.7Z" fill="#0000df"/><path d="M780 736.1L788 736.4L781.8 735.8L773.8 735.5Z" fill="#0000bf"/><path d="M614.3 737.8L622.3 736L616.1 736.5L608.1 738.3Z" fill="#0000af"/><path d="M729.4 732.6L737.4 733.2L731.3 732.6L723.3 732Z" fill="#0000cf"/><path d="M844.6 743.3L852.6 740.9L846.5 737.5L838.5 739.8Z" fill="#00009f"/><path d="M678.9 729.3L686.9 730L680.8 730.5L672.8 729.8Z" fill="#0000df"/><path d="M794.1 737L802.1 737.4L796 736.8L788 736.4Z" fill="#0000bf"/><path d="M628.4 735.5L636.4 733.7L630.3 734.2L622.3 736Z" fill="#0000bf"/><path d="M743.6 733.8L751.6 734.2L745.4 733.6L737.4 733.2Z" fill="#0000cf"/><path d="M858.8 744.4L866.8 741.9L860.6 738.5L852.6 740.9Z" fill="#00008f"/><path d="M693.1 729.5L701.1 730.1L694.9 730.6L686.9 730Z" fill="#0000df"/><path d="M808.3 740.9L816.3 741.2L810.1 737.7L802.1 737.4Z" fill="#0000af"/><path d="M642.6 733.2L650.6 731.5L644.4 732L636.4 733.7Z" fill="#0000cf"/><path d="M757.8 734.8L765.8 735.1L759.6 734.5L751.6 734.2Z" fill="#0000cf"/><path d="M873 745.5L881 743L874.8 739.6L866.8 741.9Z" fill="#00008f"/><path d="M707.3 730.7L715.3 731.3L709.1 730.7L701.1 730.1Z" fill="#0000df"/><path d="M822.5 744.8L830.5 742.3L824.3 738.8L816.3 741.2Z" fill="#00009f"/><path d="M656.8 731L664.8 729.2L658.6 729.7L650.6 731.5Z" fill="#0000df"/><path d="M772 735.7L780 736.1L773.8 735.5L765.8 735.1Z" fill="#0000bf"/><path d="M606.3 739.5L614.3 737.8L608.1 738.3L600.1 740Z" fill="#0000af"/><path d="M887.1 746.5L895.1 744L889 740.7L881 743Z" fill="#00008f"/><path d="M721.4 731.9L729.4 732.6L723.3 732L715.3 731.3Z" fill="#0000df"/><path d="M836.6 745.8L844.6 743.3L838.5 739.8L830.5 742.3Z" fill="#00009f"/><path d="M670.9 728.7L678.9 729.3L672.8 729.8L664.8 729.2Z" fill="#0000ef"/><path d="M786.1 736.7L794.1 737L788 736.4L780 736.1Z" fill="#0000bf"/><path d="M620.4 737.3L628.4 735.5L622.3 736L614.3 737.8Z" fill="#0000bf"/><path d="M735.6 733.2L743.6 733.8L737.4 733.2L729.4 732.6Z" fill="#0000df"/><path d="M850.8 746.9L858.8 744.4L852.6 740.9L844.6 743.3Z" fill="#00008f"/><path d="M685.1 728.8L693.1 729.5L686.9 730L678.9 729.3Z" fill="#0000ef"/><path d="M800.3 740.5L808.3 740.9L802.1 737.4L794.1 737Z" fill="#0000af"/><path d="M634.6 735L642.6 733.2L636.4 733.7L628.4 735.5Z" fill="#0000cf"/><path d="M749.8 734.4L757.8 734.8L751.6 734.2L743.6 733.8Z" fill="#0000cf"/><path d="M865 747.9L873 745.5L866.8 741.9L858.8 744.4Z" fill="#00008f"/><path d="M699.3 730.1L707.3 730.7L701.1 730.1L693.1 729.5Z" fill="#0000ef"/><path d="M814.5 744.4L822.5 744.8L816.3 741.2L808.3 740.9Z" fill="#0000af"/><path d="M648.8 732.7L656.8 731L650.6 731.5L642.6 733.2Z" fill="#0000df"/><path d="M764 735.4L772 735.7L765.8 735.1L757.8 734.8Z" fill="#0000cf"/><path d="M598.3 735.4L606.3 739.5L600.1 740L592.1 741.8Z" fill="#0000cf"/><path d="M879.1 749L887.1 746.5L881 743L873 745.5Z" fill="#00008f"/><path d="M713.4 731.3L721.4 731.9L715.3 731.3L707.3 730.7Z" fill="#0000ef"/><path d="M828.6 748.3L836.6 745.8L830.5 742.3L822.5 744.8Z" fill="#00009f"/><path d="M662.9 730.5L670.9 728.7L664.8 729.2L656.8 731Z" fill="#0000ef"/><path d="M778.1 736.3L786.1 736.7L780 736.1L772 735.7Z" fill="#0000cf"/><path d="M612.4 733.2L620.4 737.3L614.3 737.8L606.3 739.5Z" fill="#0000df"/><path d="M893.3 749.9L901.3 747.4L895.1 744L887.1 746.5Z" fill="#00008f"/><path d="M727.6 732.6L735.6 733.2L729.4 732.6L721.4 731.9Z" fill="#0000ef"/><path d="M842.8 749.3L850.8 746.9L844.6 743.3L836.6 745.8Z" fill="#00009f"/><path d="M677.1 728.2L685.1 728.8L678.9 729.3L670.9 728.7Z" fill="#0000ff"/><path d="M792.3 740.2L800.3 740.5L794.1 737L786.1 736.7Z" fill="#0000bf"/><path d="M626.6 730.9L634.6 735L628.4 735.5L620.4 737.3Z" fill="#0000ef"/><path d="M741.8 733.8L749.8 734.4L743.6 733.8L735.6 733.2Z" fill="#0000df"/><path d="M857 750.4L865 747.9L858.8 744.4L850.8 746.9Z" fill="#00008f"/><path d="M691.3 729.4L699.3 730.1L693.1 729.5L685.1 728.8Z" fill="#0000ff"/><path d="M806.5 744.1L814.5 744.4L808.3 740.9L800.3 740.5Z" fill="#0000af"/><path d="M640.8 728.6L648.8 732.7L642.6 733.2L634.6 735Z" fill="#0000ff"/><path d="M756 735L764 735.4L757.8 734.8L749.8 734.4Z" fill="#0000df"/><path d="M871.1 751.5L879.1 749L873 745.5L865 747.9Z" fill="#00008f"/><path d="M705.4 730.7L713.4 731.3L707.3 730.7L699.3 730.1Z" fill="#0000ff"/><path d="M820.6 747.9L828.6 748.3L822.5 744.8L814.5 744.4Z" fill="#00009f"/><path d="M654.9 726.4L662.9 730.5L656.8 731L648.8 732.7Z" fill="#0010ff"/><path d="M770.1 736L778.1 736.3L772 735.7L764 735.4Z" fill="#0000df"/><path d="M604.4 729.1L612.4 733.2L606.3 739.5L598.3 735.4Z" fill="#0000ff"/><path d="M885.3 752.4L893.3 749.9L887.1 746.5L879.1 749Z" fill="#00008f"/><path d="M719.6 731.9L727.6 732.6L721.4 731.9L713.4 731.3Z" fill="#0000ff"/><path d="M834.8 751.8L842.8 749.3L836.6 745.8L828.6 748.3Z" fill="#00009f"/><path d="M669.1 724.1L677.1 728.2L670.9 728.7L662.9 730.5Z" fill="#0020ff"/><path d="M784.3 739.9L792.3 740.2L786.1 736.7L778.1 736.3Z" fill="#0000cf"/><path d="M618.6 726.8L626.6 730.9L620.4 737.3L612.4 733.2Z" fill="#0010ff"/><path d="M899.5 753.3L907.5 750.9L901.3 747.4L893.3 749.9Z" fill="#00008f"/><path d="M733.8 733.2L741.8 733.8L735.6 733.2L727.6 732.6Z" fill="#0000ef"/><path d="M849 752.9L857 750.4L850.8 746.9L842.8 749.3Z" fill="#00008f"/><path d="M683.3 718.8L691.3 729.4L685.1 728.8L677.1 728.2Z" fill="#0040ff"/><path d="M798.5 743.7L806.5 744.1L800.3 740.5L792.3 740.2Z" fill="#0000bf"/><path d="M632.8 724.5L640.8 728.6L634.6 735L626.6 730.9Z" fill="#0020ff"/><path d="M748 734.4L756 735L749.8 734.4L741.8 733.8Z" fill="#0000ef"/><path d="M863.1 753.9L871.1 751.5L865 747.9L857 750.4Z" fill="#00008f"/><path d="M697.4 720.1L705.4 730.7L699.3 730.1L691.3 729.4Z" fill="#0040ff"/><path d="M812.6 747.6L820.6 747.9L814.5 744.4L806.5 744.1Z" fill="#0000af"/><path d="M646.9 722.3L654.9 726.4L648.8 732.7L640.8 728.6Z" fill="#0030ff"/><path d="M762.1 735.6L770.1 736L764 735.4L756 735Z" fill="#0000ef"/><path d="M877.3 754.9L885.3 752.4L879.1 749L871.1 751.5Z" fill="#00008f"/><path d="M711.6 721.3L719.6 731.9L713.4 731.3L705.4 730.7Z" fill="#0040ff"/><path d="M826.8 751.5L834.8 751.8L828.6 748.3L820.6 747.9Z" fill="#00009f"/><path d="M661.1 720L669.1 724.1L662.9 730.5L654.9 726.4Z" fill="#0040ff"/><path d="M776.3 739.5L784.3 739.9L778.1 736.3L770.1 736Z" fill="#0000df"/><path d="M891.5 755.8L899.5 753.3L893.3 749.9L885.3 752.4Z" fill="#00008f"/><path d="M610.6 722.7L618.6 726.8L612.4 733.2L604.4 729.1Z" fill="#0030ff"/><path d="M725.8 722.5L733.8 733.2L727.6 732.6L719.6 731.9Z" fill="#0030ff"/><path d="M841 755.3L849 752.9L842.8 749.3L834.8 751.8Z" fill="#00008f"/><path d="M675.3 714.7L683.3 718.8L677.1 728.2L669.1 724.1Z" fill="#0060ff"/><path d="M790.5 743.4L798.5 743.7L792.3 740.2L784.3 739.9Z" fill="#0000cf"/><path d="M905.7 756.7L913.7 754.3L907.5 750.9L899.5 753.3Z" fill="#00008f"/><path d="M624.8 720.4L632.8 724.5L626.6 730.9L618.6 726.8Z" fill="#0040ff"/><path d="M740 723.8L748 734.4L741.8 733.8L733.8 733.2Z" fill="#0030ff"/><path d="M855.1 756.4L863.1 753.9L857 750.4L849 752.9Z" fill="#00008f"/><path d="M689.4 709.4L697.4 720.1L691.3 729.4L683.3 718.8Z" fill="#0080ff"/><path d="M804.6 747.3L812.6 747.6L806.5 744.1L798.5 743.7Z" fill="#0000bf"/><path d="M638.9 718.2L646.9 722.3L640.8 728.6L632.8 724.5Z" fill="#0050ff"/><path d="M754.1 725L762.1 735.6L756 735L748 734.4Z" fill="#0030ff"/><path d="M869.3 757.3L877.3 754.9L871.1 751.5L863.1 753.9Z" fill="#00008f"/><path d="M703.6 710.7L711.6 721.3L705.4 730.7L697.4 720.1Z" fill="#0080ff"/><path d="M818.8 751.1L826.8 751.5L820.6 747.9L812.6 747.6Z" fill="#0000af"/><path d="M653.1 715.9L661.1 720L654.9 726.4L646.9 722.3Z" fill="#0060ff"/><path d="M768.3 737.5L776.3 739.5L770.1 736L762.1 735.6Z" fill="#0000ff"/><path d="M883.5 758.3L891.5 755.8L885.3 752.4L877.3 754.9Z" fill="#00008f"/><path d="M717.8 711.9L725.8 722.5L719.6 731.9L711.6 721.3Z" fill="#0080ff"/><path d="M833 755L841 755.3L834.8 751.8L826.8 751.5Z" fill="#00009f"/><path d="M667.3 710.6L675.3 714.7L669.1 724.1L661.1 720Z" fill="#0080ff"/><path d="M782.5 741.4L790.5 743.4L784.3 739.9L776.3 739.5Z" fill="#0000ef"/><path d="M897.7 759.2L905.7 756.7L899.5 753.3L891.5 755.8Z" fill="#00008f"/><path d="M616.8 716.3L624.8 720.4L618.6 726.8L610.6 722.7Z" fill="#0060ff"/><path d="M732 713.1L740 723.8L733.8 733.2L725.8 722.5Z" fill="#0070ff"/><path d="M847.1 758.9L855.1 756.4L849 752.9L841 755.3Z" fill="#00008f"/><path d="M681.4 705.3L689.4 709.4L683.3 718.8L675.3 714.7Z" fill="#009fff"/><path d="M796.6 745.3L804.6 747.3L798.5 743.7L790.5 743.4Z" fill="#0000df"/><path d="M911.8 760.1L919.8 757.7L913.7 754.3L905.7 756.7Z" fill="#00008f"/><path d="M630.9 714L638.9 718.2L632.8 724.5L624.8 720.4Z" fill="#0070ff"/><path d="M746.1 714.4L754.1 725L748 734.4L740 723.8Z" fill="#0070ff"/><path d="M861.3 759.8L869.3 757.3L863.1 753.9L855.1 756.4Z" fill="#00008f"/><path d="M810.8 749.2L818.8 751.1L812.6 747.6L804.6 747.3Z" fill="#0000cf"/><path d="M695.6 700L703.6 710.7L697.4 720.1L689.4 709.4Z" fill="#00bfff"/><path d="M645.1 711.8L653.1 715.9L646.9 722.3L638.9 718.2Z" fill="#0080ff"/><path d="M760.3 726.9L768.3 737.5L762.1 735.6L754.1 725Z" fill="#0040ff"/><path d="M875.5 760.7L883.5 758.3L877.3 754.9L869.3 757.3Z" fill="#00008f"/><path d="M825 753L833 755L826.8 751.5L818.8 751.1Z" fill="#0000bf"/><path d="M709.8 701.3L717.8 711.9L711.6 721.3L703.6 710.7Z" fill="#00bfff"/><path d="M659.3 706.5L667.3 710.6L661.1 720L653.1 715.9Z" fill="#009fff"/><path d="M774.5 739.4L782.5 741.4L776.3 739.5L768.3 737.5Z" fill="#0000ff"/><path d="M889.7 761.7L897.7 759.2L891.5 755.8L883.5 758.3Z" fill="#00008f"/><path d="M839.1 756.9L847.1 758.9L841 755.3L833 755Z" fill="#0000af"/><path d="M724 702.5L732 713.1L725.8 722.5L717.8 711.9Z" fill="#00afff"/><path d="M788.6 743.3L796.6 745.3L790.5 743.4L782.5 741.4Z" fill="#0000ef"/><path d="M673.4 701.2L681.4 705.3L675.3 714.7L667.3 710.6Z" fill="#00bfff"/><path d="M903.8 762.6L911.8 760.1L905.7 756.7L897.7 759.2Z" fill="#00008f"/><path d="M622.9 709.9L630.9 714L624.8 720.4L616.8 716.3Z" fill="#008fff"/><path d="M853.3 762.4L861.3 759.8L855.1 756.4L847.1 758.9Z" fill="#00008f"/><path d="M738.1 703.8L746.1 714.4L740 723.8L732 713.1Z" fill="#00afff"/><path d="M802.8 747.2L810.8 749.2L804.6 747.3L796.6 745.3Z" fill="#0000df"/><path d="M687.6 695.9L695.6 700L689.4 709.4L681.4 705.3Z" fill="#00dfff"/><path d="M918 763.5L926 761.1L919.8 757.7L911.8 760.1Z" fill="#00008f"/><path d="M637.1 707.7L645.1 711.8L638.9 718.2L630.9 714Z" fill="#009fff"/><path d="M867.5 763.3L875.5 760.7L869.3 757.3L861.3 759.8Z" fill="#00008f"/><path d="M752.3 716.3L760.3 726.9L754.1 725L746.1 714.4Z" fill="#0080ff"/><path d="M817 751L825 753L818.8 751.1L810.8 749.2Z" fill="#0000cf"/><path d="M701.8 690.7L709.8 701.3L703.6 710.7L695.6 700Z" fill="#00ffff"/><path d="M651.3 702.4L659.3 706.5L653.1 715.9L645.1 711.8Z" fill="#00bfff"/><path d="M766.5 728.8L774.5 739.4L768.3 737.5L760.3 726.9Z" fill="#0040ff"/><path d="M881.7 764.3L889.7 761.7L883.5 758.3L875.5 760.7Z" fill="#00008f"/><path d="M831.1 754.9L839.1 756.9L833 755L825 753Z" fill="#0000bf"/><path d="M716 691.9L724 702.5L717.8 711.9L709.8 701.3Z" fill="#00ffff"/><path d="M780.6 741.3L788.6 743.3L782.5 741.4L774.5 739.4Z" fill="#0000ff"/><path d="M665.4 697.1L673.4 701.2L667.3 710.6L659.3 706.5Z" fill="#00dfff"/><path d="M895.8 765.2L903.8 762.6L897.7 759.2L889.7 761.7Z" fill="#00008f"/><path d="M845.3 760.4L853.3 762.4L847.1 758.9L839.1 756.9Z" fill="#0000af"/><path d="M730.1 693.1L738.1 703.8L732 713.1L724 702.5Z" fill="#00efff"/><path d="M794.8 745.2L802.8 747.2L796.6 745.3L788.6 743.3Z" fill="#0000ff"/><path d="M679.6 691.8L687.6 695.9L681.4 705.3L673.4 701.2Z" fill="#00ffff"/><path d="M910 766.1L918 763.5L911.8 760.1L903.8 762.6Z" fill="#00008f"/><path d="M629.1 703.6L637.1 707.7L630.9 714L622.9 709.9Z" fill="#00bfff"/><path d="M859.5 765.9L867.5 763.3L861.3 759.8L853.3 762.4Z" fill="#00008f"/><path d="M744.3 705.7L752.3 716.3L746.1 714.4L738.1 703.8Z" fill="#00bfff"/><path d="M809 749.1L817 751L810.8 749.2L802.8 747.2Z" fill="#0000ef"/><path d="M924.2 767.1L932.2 764.5L926 761.1L918 763.5Z" fill="#00008f"/><path d="M693.8 686.5L701.8 690.7L695.6 700L687.6 695.9Z" fill="#20ffdf"/><path d="M643.3 698.3L651.3 702.4L645.1 711.8L637.1 707.7Z" fill="#00dfff"/><path d="M873.7 766.9L881.7 764.3L875.5 760.7L867.5 763.3Z" fill="#00008f"/><path d="M758.5 718.2L766.5 728.8L760.3 726.9L752.3 716.3Z" fill="#0080ff"/><path d="M823.1 752.9L831.1 754.9L825 753L817 751Z" fill="#0000df"/><path d="M708 681.3L716 691.9L709.8 701.3L701.8 690.7Z" fill="#40ffbf"/><path d="M772.6 730.7L780.6 741.3L774.5 739.4L766.5 728.8Z" fill="#0050ff"/><path d="M657.4 693L665.4 697.1L659.3 706.5L651.3 702.4Z" fill="#00ffff"/><path d="M887.8 767.8L895.8 765.2L889.7 761.7L881.7 764.3Z" fill="#00008f"/><path d="M837.3 758.5L845.3 760.4L839.1 756.9L831.1 754.9Z" fill="#0000bf"/><path d="M722.1 682.5L730.1 693.1L724 702.5L716 691.9Z" fill="#30ffcf"/><path d="M786.8 743.2L794.8 745.2L788.6 743.3L780.6 741.3Z" fill="#0010ff"/><path d="M902 768.7L910 766.1L903.8 762.6L895.8 765.2Z" fill="#00008f"/><path d="M671.6 687.7L679.6 691.8L673.4 701.2L665.4 697.1Z" fill="#20ffdf"/><path d="M851.5 764L859.5 765.9L853.3 762.4L845.3 760.4Z" fill="#0000af"/><path d="M736.3 695L744.3 705.7L738.1 703.8L730.1 693.1Z" fill="#00ffff"/><path d="M801 747.1L809 749.1L802.8 747.2L794.8 745.2Z" fill="#0000ff"/><path d="M916.2 769.7L924.2 767.1L918 763.5L910 766.1Z" fill="#00008f"/><path d="M685.8 682.4L693.8 686.5L687.6 695.9L679.6 691.8Z" fill="#40ffbf"/><path d="M635.3 694.4L643.3 698.3L637.1 707.7L629.1 703.6Z" fill="#00ffff"/><path d="M865.7 769.5L873.7 766.9L867.5 763.3L859.5 765.9Z" fill="#00008f"/><path d="M750.5 707.5L758.5 718.2L752.3 716.3L744.3 705.7Z" fill="#00bfff"/><path d="M815.1 751L823.1 752.9L817 751L809 749.1Z" fill="#0000ef"/><path d="M700 677.2L708 681.3L701.8 690.7L693.8 686.5Z" fill="#60ff9f"/><path d="M879.8 770.4L887.8 767.8L881.7 764.3L873.7 766.9Z" fill="#00008f"/><path d="M649.4 689.1L657.4 693L651.3 702.4L643.3 698.3Z" fill="#20ffdf"/><path d="M764.6 720.1L772.6 730.7L766.5 728.8L758.5 718.2Z" fill="#008fff"/><path d="M829.3 756.5L837.3 758.5L831.1 754.9L823.1 752.9Z" fill="#0000df"/><path d="M714.1 671.9L722.1 682.5L716 691.9L708 681.3Z" fill="#80ff80"/><path d="M778.8 732.6L786.8 743.2L780.6 741.3L772.6 730.7Z" fill="#0050ff"/><path d="M894 771.3L902 768.7L895.8 765.2L887.8 767.8Z" fill="#00008f"/><path d="M663.6 683.8L671.6 687.7L665.4 697.1L657.4 693Z" fill="#40ffbf"/><path d="M843.5 762L851.5 764L845.3 760.4L837.3 758.5Z" fill="#0000bf"/><path d="M728.3 684.4L736.3 695L730.1 693.1L722.1 682.5Z" fill="#40ffbf"/><path d="M793 745.1L801 747.1L794.8 745.2L786.8 743.2Z" fill="#0010ff"/><path d="M908.2 772.3L916.2 769.7L910 766.1L902 768.7Z" fill="#00008f"/><path d="M677.8 678.5L685.8 682.4L679.6 691.8L671.6 687.7Z" fill="#60ff9f"/><path d="M857.7 767.5L865.7 769.5L859.5 765.9L851.5 764Z" fill="#0000af"/><path d="M742.5 696.9L750.5 707.5L744.3 705.7L736.3 695Z" fill="#00ffff"/><path d="M807.1 749L815.1 751L809 749.1L801 747.1Z" fill="#0000ff"/><path d="M692 673.2L700 677.2L693.8 686.5L685.8 682.4Z" fill="#80ff80"/><path d="M871.8 773L879.8 770.4L873.7 766.9L865.7 769.5Z" fill="#00008f"/><path d="M641.4 685.2L649.4 689.1L643.3 698.3L635.3 694.4Z" fill="#40ffbf"/><path d="M756.6 709.4L764.6 720.1L758.5 718.2L750.5 707.5Z" fill="#00cfff"/><path d="M821.3 754.5L829.3 756.5L823.1 752.9L815.1 751Z" fill="#0000ef"/><path d="M706.1 668L714.1 671.9L708 681.3L700 677.2Z" fill="#9fff60"/><path d="M886 773.9L894 771.3L887.8 767.8L879.8 770.4Z" fill="#00008f"/><path d="M770.8 722L778.8 732.6L772.6 730.7L764.6 720.1Z" fill="#008fff"/><path d="M655.6 679.9L663.6 683.8L657.4 693L649.4 689.1Z" fill="#60ff9f"/><path d="M835.5 760L843.5 762L837.3 758.5L829.3 756.5Z" fill="#0000cf"/><path d="M720.3 671.9L728.3 684.4L722.1 682.5L714.1 671.9Z" fill="#8fff70"/><path d="M785 734.5L793 745.1L786.8 743.2L778.8 732.6Z" fill="#0050ff"/><path d="M900.2 774.9L908.2 772.3L902 768.7L894 771.3Z" fill="#00008f"/><path d="M669.8 674.6L677.8 678.5L671.6 687.7L663.6 683.8Z" fill="#80ff80"/><path d="M849.7 765.5L857.7 767.5L851.5 764L843.5 762Z" fill="#0000bf"/><path d="M734.5 684.5L742.5 696.9L736.3 695L728.3 684.4Z" fill="#50ffaf"/><path d="M799.1 747L807.1 749L801 747.1L793 745.1Z" fill="#0020ff"/><path d="M684 669.3L692 673.2L685.8 682.4L677.8 678.5Z" fill="#9fff60"/><path d="M863.8 771L871.8 773L865.7 769.5L857.7 767.5Z" fill="#0000af"/><path d="M748.6 697L756.6 709.4L750.5 707.5L742.5 696.9Z" fill="#10ffef"/><path d="M813.3 752.5L821.3 754.5L815.1 751L807.1 749Z" fill="#0000ff"/><path d="M698.1 664L706.1 668L700 677.2L692 673.2Z" fill="#bfff40"/><path d="M878 776.5L886 773.9L879.8 770.4L871.8 773Z" fill="#00008f"/><path d="M647.6 676L655.6 679.9L649.4 689.1L641.4 685.2Z" fill="#80ff80"/><path d="M762.8 709.5L770.8 722L764.6 720.1L756.6 709.4Z" fill="#00dfff"/><path d="M827.5 758L835.5 760L829.3 756.5L821.3 754.5Z" fill="#0000ef"/><path d="M712.3 668L720.3 671.9L714.1 671.9L706.1 668Z" fill="#afff50"/><path d="M892.2 777.5L900.2 774.9L894 771.3L886 773.9Z" fill="#00008f"/><path d="M777 722L785 734.5L778.8 732.6L770.8 722Z" fill="#009fff"/><path d="M661.8 670.7L669.8 674.6L663.6 683.8L655.6 679.9Z" fill="#9fff60"/><path d="M841.7 763.5L849.7 765.5L843.5 762L835.5 760Z" fill="#0000cf"/><path d="M726.5 672L734.5 684.5L728.3 684.4L720.3 671.9Z" fill="#9fff60"/><path d="M791.1 734.5L799.1 747L793 745.1L785 734.5Z" fill="#0060ff"/><path d="M676 665.4L684 669.3L677.8 678.5L669.8 674.6Z" fill="#bfff40"/><path d="M855.8 769L863.8 771L857.7 767.5L849.7 765.5Z" fill="#0000bf"/><path d="M740.6 684.5L748.6 697L742.5 696.9L734.5 684.5Z" fill="#60ff9f"/><path d="M805.3 754.5L813.3 752.5L807.1 749L799.1 747Z" fill="#0010ff"/><path d="M690.1 660.1L698.1 664L692 673.2L684 669.3Z" fill="#dfff20"/><path d="M870 774.5L878 776.5L871.8 773L863.8 771Z" fill="#0000af"/><path d="M754.8 697L762.8 709.5L756.6 709.4L748.6 697Z" fill="#20ffdf"/><path d="M819.5 760.1L827.5 758L821.3 754.5L813.3 752.5Z" fill="#0000ef"/><path d="M704.3 664.1L712.3 668L706.1 668L698.1 664Z" fill="#cfff30"/><path d="M884.2 780.1L892.2 777.5L886 773.9L878 776.5Z" fill="#00008f"/><path d="M769 709.6L777 722L770.8 722L762.8 709.5Z" fill="#00efff"/><path d="M653.8 666.8L661.8 670.7L655.6 679.9L647.6 676Z" fill="#bfff40"/><path d="M833.7 765.6L841.7 763.5L835.5 760L827.5 758Z" fill="#0000df"/><path d="M718.5 668.1L726.5 672L720.3 671.9L712.3 668Z" fill="#bfff40"/><path d="M783.1 722.1L791.1 734.5L785 734.5L777 722Z" fill="#00afff"/><path d="M668 661.5L676 665.4L669.8 674.6L661.8 670.7Z" fill="#dfff20"/><path d="M847.8 771.1L855.8 769L849.7 765.5L841.7 763.5Z" fill="#0000bf"/><path d="M732.6 672.1L740.6 684.5L734.5 684.5L726.5 672Z" fill="#afff50"/><path d="M797.3 742.1L805.3 754.5L799.1 747L791.1 734.5Z" fill="#0050ff"/><path d="M682.1 656.2L690.1 660.1L684 669.3L676 665.4Z" fill="#ffff00"/><path d="M862 776.6L870 774.5L863.8 771L855.8 769Z" fill="#0000af"/><path d="M746.8 684.6L754.8 697L748.6 697L740.6 684.5Z" fill="#70ff8f"/><path d="M811.5 762.1L819.5 760.1L813.3 752.5L805.3 754.5Z" fill="#0000ef"/><path d="M876.2 782.1L884.2 780.1L878 776.5L870 774.5Z" fill="#00008f"/><path d="M696.3 660.2L704.3 664.1L698.1 664L690.1 660.1Z" fill="#efff10"/><path d="M761 697.1L769 709.6L762.8 709.5L754.8 697Z" fill="#30ffcf"/><path d="M825.7 767.6L833.7 765.6L827.5 758L819.5 760.1Z" fill="#0000df"/><path d="M710.5 664.2L718.5 668.1L712.3 668L704.3 664.1Z" fill="#dfff20"/><path d="M775.1 709.6L783.1 722.1L777 722L769 709.6Z" fill="#00ffff"/><path d="M660 657.5L668 661.5L661.8 670.7L653.8 666.8Z" fill="#ffff00"/><path d="M839.8 773.1L847.8 771.1L841.7 763.5L833.7 765.6Z" fill="#0000bf"/><path d="M724.6 668.1L732.6 672.1L726.5 672L718.5 668.1Z" fill="#cfff30"/><path d="M789.3 729.6L797.3 742.1L791.1 734.5L783.1 722.1Z" fill="#009fff"/><path d="M854 778.6L862 776.6L855.8 769L847.8 771.1Z" fill="#0000af"/><path d="M674.1 652.3L682.1 656.2L676 665.4L668 661.5Z" fill="#ffdf00"/><path d="M738.8 672.1L746.8 684.6L740.6 684.5L732.6 672.1Z" fill="#bfff40"/><path d="M803.5 749.6L811.5 762.1L805.3 754.5L797.3 742.1Z" fill="#0040ff"/><path d="M868.2 784.1L876.2 782.1L870 774.5L862 776.6Z" fill="#00008f"/><path d="M688.3 656.2L696.3 660.2L690.1 660.1L682.1 656.2Z" fill="#ffef00"/><path d="M753 684.6L761 697.1L754.8 697L746.8 684.6Z" fill="#80ff80"/><path d="M817.7 769.6L825.7 767.6L819.5 760.1L811.5 762.1Z" fill="#0000df"/><path d="M702.5 660.2L710.5 664.2L704.3 664.1L696.3 660.2Z" fill="#ffff00"/><path d="M767.1 697.2L775.1 709.6L769 709.6L761 697.1Z" fill="#40ffbf"/><path d="M831.8 775.1L839.8 773.1L833.7 765.6L825.7 767.6Z" fill="#0000bf"/><path d="M716.6 664.2L724.6 668.1L718.5 668.1L710.5 664.2Z" fill="#efff10"/><path d="M781.3 717.2L789.3 729.6L783.1 722.1L775.1 709.6Z" fill="#00dfff"/><path d="M846 780.7L854 778.6L847.8 771.1L839.8 773.1Z" fill="#0000af"/><path d="M666.1 648.3L674.1 652.3L668 661.5L660 657.5Z" fill="#ffbf00"/><path d="M730.8 668.2L738.8 672.1L732.6 672.1L724.6 668.1Z" fill="#dfff20"/><path d="M795.5 737.2L803.5 749.6L797.3 742.1L789.3 729.6Z" fill="#0080ff"/><path d="M860.2 786.2L868.2 784.1L862 776.6L854 778.6Z" fill="#00009f"/><path d="M680.3 652.3L688.3 656.2L682.1 656.2L674.1 652.3Z" fill="#ffcf00"/><path d="M809.7 757.2L817.7 769.6L811.5 762.1L803.5 749.6Z" fill="#0030ff"/><path d="M745 672.2L753 684.6L746.8 684.6L738.8 672.1Z" fill="#cfff30"/><path d="M694.5 656.3L702.5 660.2L696.3 660.2L688.3 656.2Z" fill="#ffdf00"/><path d="M823.8 777.2L831.8 775.1L825.7 767.6L817.7 769.6Z" fill="#0000cf"/><path d="M759.1 684.7L767.1 697.2L761 697.1L753 684.6Z" fill="#8fff70"/><path d="M708.6 660.3L716.6 664.2L710.5 664.2L702.5 660.2Z" fill="#ffef00"/><path d="M773.3 704.7L781.3 717.2L775.1 709.6L767.1 697.2Z" fill="#30ffcf"/><path d="M838 782.7L846 780.7L839.8 773.1L831.8 775.1Z" fill="#0000af"/><path d="M722.8 664.3L730.8 668.2L724.6 668.1L716.6 664.2Z" fill="#ffff00"/><path d="M787.5 724.7L795.5 737.2L789.3 729.6L781.3 717.2Z" fill="#00cfff"/><path d="M852.2 788.2L860.2 786.2L854 778.6L846 780.7Z" fill="#00009f"/><path d="M672.3 641.2L680.3 652.3L674.1 652.3L666.1 648.3Z" fill="#ff8f00"/><path d="M737 668.3L745 672.2L738.8 672.1L730.8 668.2Z" fill="#efff10"/><path d="M801.7 744.7L809.7 757.2L803.5 749.6L795.5 737.2Z" fill="#0070ff"/><path d="M686.5 645.2L694.5 656.3L688.3 656.2L680.3 652.3Z" fill="#ff9f00"/><path d="M815.8 764.7L823.8 777.2L817.7 769.6L809.7 757.2Z" fill="#0010ff"/><path d="M751.1 672.2L759.1 684.7L753 684.6L745 672.2Z" fill="#dfff20"/><path d="M700.6 649.2L708.6 660.3L702.5 660.2L694.5 656.3Z" fill="#ffaf00"/><path d="M830 784.7L838 782.7L831.8 775.1L823.8 777.2Z" fill="#0000af"/><path d="M765.3 692.2L773.3 704.7L767.1 697.2L759.1 684.7Z" fill="#80ff80"/><path d="M714.8 653.1L722.8 664.3L716.6 664.2L708.6 660.3Z" fill="#ffbf00"/><path d="M779.5 712.3L787.5 724.7L781.3 717.2L773.3 704.7Z" fill="#20ffdf"/><path d="M844.2 790.2L852.2 788.2L846 780.7L838 782.7Z" fill="#00009f"/><path d="M729 657.1L737 668.3L730.8 668.2L722.8 664.3Z" fill="#ffcf00"/><path d="M793.7 732.3L801.7 744.7L795.5 737.2L787.5 724.7Z" fill="#00bfff"/><path d="M678.5 634L686.5 645.2L680.3 652.3L672.3 641.2Z" fill="#ff6000"/><path d="M807.8 752.3L815.8 764.7L809.7 757.2L801.7 744.7Z" fill="#0060ff"/><path d="M743.1 661.1L751.1 672.2L745 672.2L737 668.3Z" fill="#ffdf00"/><path d="M692.6 638L700.6 649.2L694.5 656.3L686.5 645.2Z" fill="#ff7000"/><path d="M822 772.3L830 784.7L823.8 777.2L815.8 764.7Z" fill="#0000ff"/><path d="M757.3 680.8L765.3 692.2L759.1 684.7L751.1 672.2Z" fill="#bfff40"/><path d="M706.8 642L714.8 653.1L708.6 660.3L700.6 649.2Z" fill="#ff8000"/><path d="M836.2 792.3L844.2 790.2L838 782.7L830 784.7Z" fill="#00009f"/><path d="M771.5 700.8L779.5 712.3L773.3 704.7L765.3 692.2Z" fill="#60ff9f"/><path d="M721 646L729 657.1L722.8 664.3L714.8 653.1Z" fill="#ff8f00"/><path d="M785.7 720.8L793.7 732.3L787.5 724.7L779.5 712.3Z" fill="#00ffff"/><path d="M799.8 740.9L807.8 752.3L801.7 744.7L793.7 732.3Z" fill="#009fff"/><path d="M735.1 650L743.1 661.1L737 668.3L729 657.1Z" fill="#ff9f00"/><path d="M684.6 626.9L692.6 638L686.5 645.2L678.5 634Z" fill="#ff3000"/><path d="M814 760.9L822 772.3L815.8 764.7L807.8 752.3Z" fill="#0040ff"/><path d="M749.3 669.7L757.3 680.8L751.1 672.2L743.1 661.1Z" fill="#ffff00"/><path d="M698.8 630.9L706.8 642L700.6 649.2L692.6 638Z" fill="#ff4000"/><path d="M828.2 780.9L836.2 792.3L830 784.7L822 772.3Z" fill="#0000df"/><path d="M763.5 689.4L771.5 700.8L765.3 692.2L757.3 680.8Z" fill="#9fff60"/><path d="M713 634.9L721 646L714.8 653.1L706.8 642Z" fill="#ff5000"/><path d="M777.7 709.4L785.7 720.8L779.5 712.3L771.5 700.8Z" fill="#40ffbf"/><path d="M791.8 729.4L799.8 740.9L793.7 732.3L785.7 720.8Z" fill="#00efff"/><path d="M727.1 638.8L735.1 650L729 657.1L721 646Z" fill="#ff6000"/><path d="M806 749.5L814 760.9L807.8 752.3L799.8 740.9Z" fill="#008fff"/><path d="M741.3 658.6L749.3 669.7L743.1 661.1L735.1 650Z" fill="#ffbf00"/><path d="M690.8 619.7L698.8 630.9L692.6 638L684.6 626.9Z" fill="#ef0000"/><path d="M820.2 769.5L828.2 780.9L822 772.3L814 760.9Z" fill="#0030ff"/><path d="M755.5 678.3L763.5 689.4L757.3 680.8L749.3 669.7Z" fill="#efff10"/><path d="M705 623.7L713 634.9L706.8 642L698.8 630.9Z" fill="#ff0000"/><path d="M769.7 698L777.7 709.4L771.5 700.8L763.5 689.4Z" fill="#8fff70"/><path d="M783.8 718L791.8 729.4L785.7 720.8L777.7 709.4Z" fill="#30ffcf"/><path d="M719.1 627.7L727.1 638.8L721 646L713 634.9Z" fill="#ff1000"/><path d="M798 738L806 749.5L799.8 740.9L791.8 729.4Z" fill="#00cfff"/><path d="M733.3 647.4L741.3 658.6L735.1 650L727.1 638.8Z" fill="#ff7000"/><path d="M812.2 758.1L820.2 769.5L814 760.9L806 749.5Z" fill="#0070ff"/><path d="M747.5 667.2L755.5 678.3L749.3 669.7L741.3 658.6Z" fill="#ffcf00"/><path d="M697 612.6L705 623.7L698.8 630.9L690.8 619.7Z" fill="#bf0000"/><path d="M761.7 686.9L769.7 698L763.5 689.4L755.5 678.3Z" fill="#cfff30"/><path d="M775.8 706.6L783.8 718L777.7 709.4L769.7 698Z" fill="#70ff8f"/><path d="M711.1 616.6L719.1 627.7L713 634.9L705 623.7Z" fill="#cf0000"/><path d="M790 726.6L798 738L791.8 729.4L783.8 718Z" fill="#10ffef"/><path d="M725.3 636.3L733.3 647.4L727.1 638.8L719.1 627.7Z" fill="#ff3000"/><path d="M804.2 746.6L812.2 758.1L806 749.5L798 738Z" fill="#00afff"/><path d="M739.5 656L747.5 667.2L741.3 658.6L733.3 647.4Z" fill="#ff8f00"/><path d="M753.7 675.8L761.7 686.9L755.5 678.3L747.5 667.2Z" fill="#ffef00"/><path d="M767.8 695.5L775.8 706.6L769.7 698L761.7 686.9Z" fill="#afff50"/><path d="M703.1 605.4L711.1 616.6L705 623.7L697 612.6Z" fill="#8f0000"/><path d="M782 715.2L790 726.6L783.8 718L775.8 706.6Z" fill="#60ff9f"/><path d="M717.3 625.2L725.3 636.3L719.1 627.7L711.1 616.6Z" fill="#ef0000"/><path d="M796.2 735.2L804.2 746.6L798 738L790 726.6Z" fill="#00ffff"/><path d="M731.5 644.9L739.5 656L733.3 647.4L725.3 636.3Z" fill="#ff5000"/><path d="M745.7 664.6L753.7 675.8L747.5 667.2L739.5 656Z" fill="#ffaf00"/><path d="M759.8 684.4L767.8 695.5L761.7 686.9L753.7 675.8Z" fill="#ffff00"/><path d="M774 704.1L782 715.2L775.8 706.6L767.8 695.5Z" fill="#9fff60"/><path d="M709.3 609.6L717.3 625.2L711.1 616.6L703.1 605.4Z" fill="#8f0000"/><path d="M788.2 723.8L796.2 735.2L790 726.6L782 715.2Z" fill="#40ffbf"/><path d="M723.5 629.3L731.5 644.9L725.3 636.3L717.3 625.2Z" fill="#ef0000"/><path d="M737.7 649.1L745.7 664.6L739.5 656L731.5 644.9Z" fill="#ff5000"/><path d="M751.8 668.8L759.8 684.4L753.7 675.8L745.7 664.6Z" fill="#ffaf00"/><path d="M766 688.5L774 704.1L767.8 695.5L759.8 684.4Z" fill="#efff10"/><path d="M780.2 708.3L788.2 723.8L782 715.2L774 704.1Z" fill="#9fff60"/><path d="M715.5 613.8L723.5 629.3L717.3 625.2L709.3 609.6Z" fill="#8f0000"/><path d="M729.7 633.5L737.7 649.1L731.5 644.9L723.5 629.3Z" fill="#ef0000"/><path d="M743.8 653.2L751.8 668.8L745.7 664.6L737.7 649.1Z" fill="#ff5000"/><path d="M758 673L766 688.5L759.8 684.4L751.8 668.8Z" fill="#ffaf00"/><path d="M772.2 692.7L780.2 708.3L774 704.1L766 688.5Z" fill="#efff10"/><path d="M721.7 617.9L729.7 633.5L723.5 629.3L715.5 613.8Z" fill="#9f0000"/><path d="M735.8 637.7L743.8 653.2L737.7 649.1L729.7 633.5Z" fill="#ff0000"/><path d="M750 657.4L758 673L751.8 668.8L743.8 653.2Z" fill="#ff5000"/><path d="M764.2 677.1L772.2 692.7L766 688.5L758 673Z" fill="#ffaf00"/><path d="M727.8 622.1L735.8 637.7L729.7 633.5L721.7 617.9Z" fill="#9f0000"/><path d="M742 641.8L750 657.4L743.8 653.2L735.8 637.7Z" fill="#ff0000"/><path d="M756.2 661.6L764.2 677.1L758 673L750 657.4Z" fill="#ff6000"/><path d="M734 626.3L742 641.8L735.8 637.7L727.8 622.1Z" fill="#9f0000"/><path d="M748.2 646L756.2 661.6L750 657.4L742 641.8Z" fill="#ff0000"/><path d="M740.2 630.4L748.2 646L742 641.8L734 626.3Z" fill="#9f0000"/></g>
<path d="M563.8 745.8L563.8 540M563.8 745.8L736.5 839.5L960.5 768.2M724.2 832.8L718.4 834.6M752.5 834.4L757.8 837.3M687.1 812.7L681.4 814.5M800.5 819.1L805.8 822M650.1 792.6L644.4 794.4M848.5 803.9L853.8 806.7M613.1 772.5L607.4 774.4M896.5 788.6L901.8 791.5M576.1 752.4L570.4 754.3M944.5 773.3L949.8 776.2M563.8 725.1L558.9 722.5M563.8 703.3L558.9 700.7M563.8 681.5L558.9 678.9M563.8 659.7L558.9 657.1M563.8 637.9L558.9 635.3M563.8 616.1L558.9 613.5M563.8 594.3L558.9 591.7M563.8 572.5L558.9 569.9M563.8 550.7L558.9 548.1" stroke="#303030" stroke-width="0.95" fill="none"/>
<linearGradient id="gd" x1="0" y1="0" x2="0" y2="1"><stop offset="0.0000" stop-color="#800000"/><stop offset="0.0156" stop-color="#800000"/><stop offset="0.0156" stop-color="#8f0000"/><stop offset="0.0312" stop-color="#8f0000"/><stop offset="0.0312" stop-color="#9f0000"/><stop offset="0.0469" stop-color="#9f0000"/><stop offset="0.0469" stop-color="#af0000"/><stop offset="0.0625" stop-color="#af0000"/><stop offset="0.0625" stop-color="#bf0000"/><stop offset="0.0781" stop-color="#bf0000"/><stop offset="0.0781" stop-color="#cf0000"/><stop offset="0.0938" stop-color="#cf0000"/><stop offset="0.0938" stop-color="#df0000"/><stop offset="0.1094" stop-color="#df0000"/><stop offset="0.1094" stop-color="#ef0000"/><stop offset="0.1250" stop-color="#ef0000"/><stop offset="0.1250" stop-color="#ff0000"/><stop offset="0.1406" stop-color="#ff0000"/><stop offset="0.1406" stop-color="#ff1000"/><stop offset="0.1562" stop-color="#ff1000"/><stop offset="0.1562" stop-color="#ff2000"/><stop offset="0.1719" stop-color="#ff2000"/><stop offset="0.1719" stop-color="#ff3000"/><stop offset="0.1875" stop-color="#ff3000"/><stop offset="0.1875" stop-color="#ff4000"/><stop offset="0.2031" stop-color="#ff4000"/><stop offset="0.2031" stop-color="#ff5000"/><stop offset="0.2188" stop-color="#ff5000"/><stop offset="0.2188" stop-color="#ff6000"/><stop offset="0.2344" stop-color="#ff6000"/><stop offset="0.2344" stop-color="#ff7000"/><stop offset="0.2500" stop-color="#ff7000"/><stop offset="0.2500" stop-color="#ff8000"/><stop offset="0.2656" stop-color="#ff8000"/><stop offset="0.2656" stop-color="#ff8f00"/><stop offset="0.2812" stop-color="#ff8f00"/><stop offset="0.2812" stop-color="#ff9f00"/><stop offset="0.2969" stop-color="#ff9f00"/><stop offset="0.2969" stop-color="#ffaf00"/><stop offset="0.3125" stop-color="#ffaf00"/><stop offset="0.3125" stop-color="#ffbf00"/><stop offset="0.3281" stop-color="#ffbf00"/><stop offset="0.3281" stop-color="#ffcf00"/><stop offset="0.3438" stop-color="#ffcf00"/><stop offset="0.3438" stop-color="#ffdf00"/><stop offset="0.3594" stop-color="#ffdf00"/><stop offset="0.3594" stop-color="#ffef00"/><stop offset="0.3750" stop-color="#ffef00"/><stop offset="0.3750" stop-color="#ffff00"/><stop offset="0.3906" stop-color="#ffff00"/><stop offset="0.3906" stop-color="#efff10"/><stop offset="0.4062" stop-color="#efff10"/><stop offset="0.4062" stop-color="#dfff20"/><stop offset="0.4219" stop-color="#dfff20"/><stop offset="0.4219" stop-color="#cfff30"/><stop offset="0.4375" stop-color="#cfff30"/><stop offset="0.4375" stop-color="#bfff40"/><stop offset="0.4531" stop-color="#bfff40"/><stop offset="0.4531" stop-color="#afff50"/><stop offset="0.4688" stop-color="#afff50"/><stop offset="0.4688" stop-color="#9fff60"/><stop offset="0.4844" stop-color="#9fff60"/><stop offset="0.4844" stop-color="#8fff70"/><stop offset="0.5000" stop-color="#8fff70"/><stop offset="0.5000" stop-color="#80ff80"/><stop offset="0.5156" stop-color="#80ff80"/><stop offset="0.5156" stop-color="#70ff8f"/><stop offset="0.5312" stop-color="#70ff8f"/><stop offset="0.5312" stop-color="#60ff9f"/><stop offset="0.5469" stop-color="#60ff9f"/><stop offset="0.5469" stop-color="#50ffaf"/><stop offset="0.5625" stop-color="#50ffaf"/><stop offset="0.5625" stop-color="#40ffbf"/><stop offset="0.5781" stop-color="#40ffbf"/><stop offset="0.5781" stop-color="#30ffcf"/><stop offset="0.5938" stop-color="#30ffcf"/><stop offset="0.5938" stop-color="#20ffdf"/><stop offset="0.6094" stop-color="#20ffdf"/><stop offset="0.6094" stop-color="#10ffef"/><stop offset="0.6250" stop-color="#10ffef"/><stop offset="0.6250" stop-color="#00ffff"/><stop offset="0.6406" stop-color="#00ffff"/><stop offset="0.6406" stop-color="#00efff"/><stop offset="0.6562" stop-color="#00efff"/><stop offset="0.6562" stop-color="#00dfff"/><stop offset="0.6719" stop-color="#00dfff"/><stop offset="0.6719" stop-color="#00cfff"/><stop offset="0.6875" stop-color="#00cfff"/><stop offset="0.6875" stop-color="#00bfff"/><stop offset="0.7031" stop-color="#00bfff"/><stop offset="0.7031" stop-color="#00afff"/><stop offset="0.7188" stop-color="#00afff"/><stop offset="0.7188" stop-color="#009fff"/><stop offset="0.7344" stop-color="#009fff"/><stop offset="0.7344" stop-color="#008fff"/><stop offset="0.7500" stop-color="#008fff"/><stop offset="0.7500" stop-color="#0080ff"/><stop offset="0.7656" stop-color="#0080ff"/><stop offset="0.7656" stop-color="#0070ff"/><stop offset="0.7812" stop-color="#0070ff"/><stop offset="0.7812" stop-color="#0060ff"/><stop offset="0.7969" stop-color="#0060ff"/><stop offset="0.7969" stop-color="#0050ff"/><stop offset="0.8125" stop-color="#0050ff"/><stop offset="0.8125" stop-color="#0040ff"/><stop offset="0.8281" stop-color="#0040ff"/><stop offset="0.8281" stop-color="#0030ff"/><stop offset="0.8438" stop-color="#0030ff"/><stop offset="0.8438" stop-color="#0020ff"/><stop offset="0.8594" stop-color="#0020ff"/><stop offset="0.8594" stop-color="#0010ff"/><stop offset="0.8750" stop-color="#0010ff"/><stop offset="0.8750" stop-color="#0000ff"/><stop offset="0.8906" stop-color="#0000ff"/><stop offset="0.8906" stop-color="#0000ef"/><stop offset="0.9062" stop-color="#0000ef"/><stop offset="0.9062" stop-color="#0000df"/><stop offset="0.9219" stop-color="#0000df"/><stop offset="0.9219" stop-color="#0000cf"/><stop offset="0.9375" stop-color="#0000cf"/><stop offset="0.9375" stop-color="#0000bf"/><stop offset="0.9531" stop-color="#0000bf"/><stop offset="0.9531" stop-color="#0000af"/><stop offset="0.9688" stop-color="#0000af"/><stop offset="0.9688" stop-color="#00009f"/><stop offset="0.9844" stop-color="#00009f"/><stop offset="0.9844" stop-color="#00008f"/><stop offset="1.0000" stop-color="#00008f"/></linearGradient>
<rect x="975.1" y="469.2" width="20.6" height="370.5" fill="url(#gd)"/>
<path d="M975.1 802.9h3.5M995.7 802.9h-3.5M975.1 763.9h3.5M995.7 763.9h-3.5M975.1 724.8h3.5M995.7 724.8h-3.5M975.1 685.8h3.5M995.7 685.8h-3.5M975.1 646.7h3.5M995.7 646.7h-3.5M975.1 607.7h3.5M995.7 607.7h-3.5M975.1 568.6h3.5M995.7 568.6h-3.5M975.1 529.6h3.5M995.7 529.6h-3.5M975.1 490.5h3.5M995.7 490.5h-3.5" stroke="#111" stroke-width="1" fill="none"/>
<rect x="975.1" y="469.2" width="20.6" height="370.5" fill="none" stroke="#222" stroke-width="0.9"/>
<g font-family="Liberation Sans" font-size="10.3" fill="#222"><text x="715.4" y="845" text-anchor="end">−0.6</text><text x="759" y="847.6">−0.6</text><text x="678.3" y="824.9" text-anchor="end">−0.3</text><text x="807" y="832.3">−0.3</text><text x="641.3" y="804.8" text-anchor="end">0</text><text x="855" y="817.1">0</text><text x="604.3" y="784.7" text-anchor="end">0.3</text><text x="903" y="801.8">0.3</text><text x="567.3" y="764.6" text-anchor="end">0.6</text><text x="951" y="786.5">0.6</text><text x="555.9" y="726.3" text-anchor="end">0.1</text><text x="555.9" y="704.5" text-anchor="end">0.12</text><text x="555.9" y="682.7" text-anchor="end">0.14</text><text x="555.9" y="660.9" text-anchor="end">0.16</text><text x="555.9" y="639.1" text-anchor="end">0.18</text><text x="555.9" y="617.3" text-anchor="end">0.2</text><text x="555.9" y="595.5" text-anchor="end">0.22</text><text x="555.9" y="573.7" text-anchor="end">0.24</text><text x="555.9" y="551.9" text-anchor="end">0.26</text><text x="998.9" y="806.6">0.1</text><text x="998.9" y="767.6">0.12</text><text x="998.9" y="728.5">0.14</text><text x="998.9" y="689.5">0.16</text><text x="998.9" y="650.4">0.18</text><text x="998.9" y="611.4">0.2</text><text x="998.9" y="572.3">0.22</text><text x="998.9" y="533.3">0.24</text><text x="998.9" y="494.2">0.26</text></g>
<text x="638.5" y="857.2" font-family="Liberation Serif" font-size="13.5" fill="#111">ρ</text>
<text x="840" y="864.5" font-family="Liberation Serif" font-size="14" fill="#111">λ</text>
<clipPath id="rd"><rect x="527.3" y="613.5" width="6" height="60"/></clipPath>
<g clip-path="url(#rd)"><text transform="translate(529.9 643.5) rotate(-90)" text-anchor="middle" font-family="Liberation Sans" font-size="11" fill="#111">RMSE</text></g>
<text x="781.7" y="910.8" text-anchor="middle" font-family="Liberation Serif" font-size="27" fill="#111">(<tspan font-weight="bold">d</tspan>)</text>
<path d="M233.5 1305.6L61.2 1212.4M205.2 1304.1L428.9 1232.6M61.2 1212.4L61.2 1007.9M428.9 1232.6L428.9 1028.1M281.4 1290.3L109.2 1197.1M168.3 1284.1L392 1212.6M109.2 1197.1L109.2 992.5M392 1212.6L392 1008.1M329.4 1275L157.1 1181.8M131.4 1264.1L355.1 1192.6M157.1 1181.8L157.1 977.2M355.1 1192.6L355.1 988.1M377.3 1259.7L205.1 1166.4M94.5 1244.1L318.2 1172.6M205.1 1166.4L205.1 961.9M318.2 1172.6L318.2 968.1M425.3 1244.4L253 1151.1M57.6 1224.2L281.3 1152.7M253 1151.1L253 946.6M281.3 1152.7L281.3 948.1M45.2 1185.9L269 1114.4M269 1114.4L441.2 1207.7M45.2 1148.7L269 1077.2M269 1077.2L441.2 1170.5M45.2 1111.6L269 1040.1M269 1040.1L441.2 1133.3M45.2 1074.4L269 1002.9M269 1002.9L441.2 1096.1M45.2 1037.2L269 965.7M269 965.7L441.2 1059" stroke="#9a9a9a" stroke-width="1" stroke-dasharray="1 3.2" fill="none"/>
<clipPath id="ce"><rect x="45.2" y="910.8" width="396" height="400"/></clipPath>
<g clip-path="url(#ce)">
<path d="M290.2 1282.5 291.2 1280.6 293.5 1276.1 294 1275.2 293.1 1271 288.2 1267.2 283.4 1263.5 279.3 1260.4 278.5 1259.7 273.7 1256 270 1255.3 263.2 1254.1 253.3 1251.9 246.5 1249.5 245.5 1249.1 237.7 1246.3 229.9 1243.5 222.1 1240.7 217 1240.4 208.4 1239.8 202.5 1239.4 194.7 1238.9 188 1238.4 181 1238 173.5 1237.4 163.7 1239 158.4 1239.9 153.9 1240.6 144.1 1242.2 134.3 1243.8 124.8 1245.3 124.5 1245.4 113.1 1246" stroke="#0020ff" stroke-width="1" fill="none"/>
<path d="M129.2 1206.8 129.7 1206.9 142.9 1207.8 144.2 1207.8 156.6 1208.7 158.7 1208.8 170.2 1209.6 173.3 1209.8 183.9 1210.6 187.8 1210.8 197.5 1211.5 202.4 1211.8 210 1209.1 217.6 1206.3 225.2 1203.6 232.8 1200.8 240.4 1198 240.6 1197.7 236.1 1193.9 231.6 1190 227 1186.2 222.5 1182.3 219.7 1179.9 230.4 1178.8 233.7 1178.8 242.5 1178.5 251.8 1178.3 254.6 1178.2 266.7 1177.9 269.9 1177.8 278.8 1177.5 287.9 1177.3 290.9 1177.2" stroke="#0020ff" stroke-width="1" fill="none"/>
<path d="M262.9 1291.2 259.8 1286.9 259 1283.8 260.2 1281.5 261.8 1278.4 263.6 1275.1 264.6 1273 263.9 1269.7 259 1266 254.2 1262.2 243.7 1260.3 239.7 1259.5 233.2 1258.3 222.7 1256.4 220.4 1256 212.2 1254.5 201.7 1252.5 201.1 1252.4 187.4 1251.8 187.3 1251.8 175.8 1252.5 167.2 1252.9 164.3 1253.1 152.8 1253.8 147.1 1254.1 141.3 1254.4 129.8 1255.1" stroke="#00dfff" stroke-width="1" fill="none"/>
<path d="M138.6 1203.9 151.1 1204.7 152.2 1204.8 165.7 1205.7 165.9 1205.7 179.5 1206.7 180.2 1206.7 193.2 1207.6 194.7 1207.7 202.4 1204.9 209.1 1202.5 210 1202.2 217.6 1199.4 221.5 1194.7 220.3 1193.6 215.8 1189.8 211.3 1185.9 206.8 1182.1" stroke="#00dfff" stroke-width="1" fill="none"/>
<path d="M247.9 1168.9 250.1 1168.9 262.2 1168.5 266 1168.4 274.3 1168.2" stroke="#00dfff" stroke-width="1" fill="none"/>
<path d="M248.3 1295.9 244.1 1291.9 239.9 1288 239.3 1286.9 238.4 1283.2 237.3 1278.9 237.1 1278.3 235.9 1273.4 235.3 1270.9 234.7 1268.5 228.7 1267.3 222.5 1267.1 214.9 1266.8 207.8 1266.5 201.1 1266.2 193.2 1265.8 187.3 1265.6 178.6 1265.2 173.5 1265 164 1264.6 159.7 1264.4 149.3 1264 146.5 1264.1" stroke="#9fff60" stroke-width="1" fill="none"/>
<path d="M147.9 1200.9 158 1201.6 161.5 1201.8 172.6 1202.6 175.2 1202.7 187.1 1203.6 194.7 1200.8 202.3 1198 204.5 1193.4 201.3 1190.6 200 1189.5 195.5 1185.7" stroke="#9fff60" stroke-width="1" fill="none"/>
<path d="M233.8 1300.5 229.5 1296.6 226.3 1293.6 225.3 1292.6 221.1 1288.7 218.2 1284.3 217.6 1282 216.9 1279.4 215.7 1274.5 202.7 1273.9 201.3 1273.8 188.7 1273.2 186.9 1273.1 174.8 1272.5 172.5 1272.4 160.8 1271.9" stroke="#ffaf00" stroke-width="1" fill="none"/>
<path d="M157.2 1197.9 164.9 1198.4 170.8 1198.8 179.5 1199.4 187.1 1196.7 188.8 1193.1 184.2 1189.3" stroke="#ffaf00" stroke-width="1" fill="none"/>
<path d="M214.8 1301.1 210.7 1297.3 206.5 1293.4 202.3 1289.4 198.1 1285.5 197.8 1285 196.7 1280.6 188.9 1280.2 182.3 1279.9 175 1279.5" stroke="#ef0000" stroke-width="1" fill="none"/>
<path d="M166.5 1194.9 171.8 1195.3 173 1192.9" stroke="#ef0000" stroke-width="1" fill="none"/>
</g>
<g stroke="#000" stroke-width="0.75" stroke-linejoin="round"><path d="M263.5 1097.7L271.5 1086L265.3 1068.9L257.3 1080.7Z" fill="#00cfff"/><path d="M255.5 1109.5L263.5 1097.7L257.3 1080.7L249.3 1092.4Z" fill="#009fff"/><path d="M269.6 1114.8L277.6 1103.1L271.5 1086L263.5 1097.7Z" fill="#008fff"/><path d="M247.5 1121.2L255.5 1109.5L249.3 1092.4L241.3 1104.2Z" fill="#0070ff"/><path d="M261.6 1126.6L269.6 1114.8L263.5 1097.7L255.5 1109.5Z" fill="#0060ff"/><path d="M275.8 1131.9L283.8 1120.1L277.6 1103.1L269.6 1114.8Z" fill="#0040ff"/><path d="M239.5 1133L247.5 1121.2L241.3 1104.2L233.4 1115.9Z" fill="#0040ff"/><path d="M253.7 1138.3L261.6 1126.6L255.5 1109.5L247.5 1121.2Z" fill="#0030ff"/><path d="M267.8 1143.6L275.8 1131.9L269.6 1114.8L261.6 1126.6Z" fill="#0020ff"/><path d="M281.9 1149L289.9 1137.2L283.8 1120.1L275.8 1131.9Z" fill="#0000ff"/><path d="M231.5 1144.7L239.5 1133L233.4 1115.9L225.4 1127.7Z" fill="#0020ff"/><path d="M245.7 1150.1L253.7 1138.3L247.5 1121.2L239.5 1133Z" fill="#0000ff"/><path d="M259.8 1155.4L267.8 1143.6L261.6 1126.6L253.7 1138.3Z" fill="#0000ef"/><path d="M273.9 1160.7L281.9 1149L275.8 1131.9L267.8 1143.6Z" fill="#0000cf"/><path d="M223.5 1148.1L231.5 1144.7L225.4 1127.7L217.4 1139.4Z" fill="#0010ff"/><path d="M288.1 1166L296.1 1154.3L289.9 1137.2L281.9 1149Z" fill="#0000bf"/><path d="M237.7 1153.5L245.7 1150.1L239.5 1133L231.5 1144.7Z" fill="#0000ff"/><path d="M251.8 1158.8L259.8 1155.4L253.7 1138.3L245.7 1150.1Z" fill="#0000df"/><path d="M266 1164.1L273.9 1160.7L267.8 1143.6L259.8 1155.4Z" fill="#0000cf"/><path d="M215.5 1124.3L223.5 1148.1L217.4 1139.4L209.4 1115.6Z" fill="#009fff"/><path d="M280.1 1169.4L288.1 1166L281.9 1149L273.9 1160.7Z" fill="#0000bf"/><path d="M229.7 1156.9L237.7 1153.5L231.5 1144.7L223.5 1148.1Z" fill="#0000ff"/><path d="M294.2 1174.8L302.2 1171.4L296.1 1154.3L288.1 1166Z" fill="#00009f"/><path d="M243.8 1162.2L251.8 1158.8L245.7 1150.1L237.7 1153.5Z" fill="#0000df"/><path d="M258 1167.5L266 1164.1L259.8 1155.4L251.8 1158.8Z" fill="#0000cf"/><path d="M272.1 1172.8L280.1 1169.4L273.9 1160.7L266 1164.1Z" fill="#0000af"/><path d="M207.5 1100.5L215.5 1124.3L209.4 1115.6L201.4 1091.7Z" fill="#20ffdf"/><path d="M221.7 1133L229.7 1156.9L223.5 1148.1L215.5 1124.3Z" fill="#0080ff"/><path d="M286.2 1178.2L294.2 1174.8L288.1 1166L280.1 1169.4Z" fill="#00009f"/><path d="M235.8 1165.6L243.8 1162.2L237.7 1153.5L229.7 1156.9Z" fill="#0000df"/><path d="M300.4 1179.1L308.4 1175.7L302.2 1171.4L294.2 1174.8Z" fill="#00009f"/><path d="M250 1170.9L258 1167.5L251.8 1158.8L243.8 1162.2Z" fill="#0000bf"/><path d="M264.1 1176.3L272.1 1172.8L266 1164.1L258 1167.5Z" fill="#0000af"/><path d="M199.6 1076.6L207.5 1100.5L201.4 1091.7L193.4 1067.9Z" fill="#9fff60"/><path d="M278.3 1181.6L286.2 1178.2L280.1 1169.4L272.1 1172.8Z" fill="#00009f"/><path d="M213.7 1109.2L221.7 1133L215.5 1124.3L207.5 1100.5Z" fill="#00ffff"/><path d="M227.8 1141.8L235.8 1165.6L229.7 1156.9L221.7 1133Z" fill="#0060ff"/><path d="M292.4 1182.5L300.4 1179.1L294.2 1174.8L286.2 1178.2Z" fill="#00009f"/><path d="M242 1174.3L250 1170.9L243.8 1162.2L235.8 1165.6Z" fill="#0000bf"/><path d="M306.5 1183.5L314.5 1180.1L308.4 1175.7L300.4 1179.1Z" fill="#00009f"/><path d="M256.1 1179.7L264.1 1176.3L258 1167.5L250 1170.9Z" fill="#0000af"/><path d="M270.3 1185L278.3 1181.6L272.1 1172.8L264.1 1176.3Z" fill="#00008f"/><path d="M191.6 1052.8L199.6 1076.6L193.4 1067.9L185.4 1044Z" fill="#ffdf00"/><path d="M205.7 1085.4L213.7 1109.2L207.5 1100.5L199.6 1076.6Z" fill="#80ff80"/><path d="M284.4 1185.9L292.4 1182.5L286.2 1178.2L278.3 1181.6Z" fill="#00008f"/><path d="M219.8 1117.9L227.8 1141.8L221.7 1133L213.7 1109.2Z" fill="#00dfff"/><path d="M234 1150.5L242 1174.3L235.8 1165.6L227.8 1141.8Z" fill="#0040ff"/><path d="M298.6 1186.9L306.5 1183.5L300.4 1179.1L292.4 1182.5Z" fill="#00008f"/><path d="M248.1 1183.1L256.1 1179.7L250 1170.9L242 1174.3Z" fill="#0000af"/><path d="M312.7 1187.8L320.7 1184.4L314.5 1180.1L306.5 1183.5Z" fill="#00008f"/><path d="M262.3 1188.4L270.3 1185L264.1 1176.3L256.1 1179.7Z" fill="#00008f"/><path d="M183.6 1028.9L191.6 1052.8L185.4 1044L177.4 1020.2Z" fill="#ff6000"/><path d="M276.4 1189.3L284.4 1185.9L278.3 1181.6L270.3 1185Z" fill="#00008f"/><path d="M197.7 1061.5L205.7 1085.4L199.6 1076.6L191.6 1052.8Z" fill="#ffef00"/><path d="M211.9 1094.1L219.8 1117.9L213.7 1109.2L205.7 1085.4Z" fill="#70ff8f"/><path d="M290.6 1190.3L298.6 1186.9L292.4 1182.5L284.4 1185.9Z" fill="#00008f"/><path d="M226 1126.7L234 1150.5L227.8 1141.8L219.8 1117.9Z" fill="#00cfff"/><path d="M240.1 1159.2L248.1 1183.1L242 1174.3L234 1150.5Z" fill="#0030ff"/><path d="M304.7 1191.2L312.7 1187.8L306.5 1183.5L298.6 1186.9Z" fill="#00008f"/><path d="M254.3 1191.8L262.3 1188.4L256.1 1179.7L248.1 1183.1Z" fill="#00008f"/><path d="M318.8 1192.2L326.8 1188.8L320.7 1184.4L312.7 1187.8Z" fill="#00008f"/><path d="M268.4 1192.8L276.4 1189.3L270.3 1185L262.3 1188.4Z" fill="#00008f"/><path d="M175.6 1029.6L183.6 1028.9L177.4 1020.2L169.4 996.4Z" fill="#ff5000"/><path d="M189.7 1062.2L197.7 1061.5L191.6 1052.8L183.6 1028.9Z" fill="#ffef00"/><path d="M282.6 1193.7L290.6 1190.3L284.4 1185.9L276.4 1189.3Z" fill="#00008f"/><path d="M203.9 1094.8L211.9 1094.1L205.7 1085.4L197.7 1061.5Z" fill="#70ff8f"/><path d="M218 1127.4L226 1126.7L219.8 1117.9L211.9 1094.1Z" fill="#00cfff"/><path d="M296.7 1194.7L304.7 1191.2L298.6 1186.9L290.6 1190.3Z" fill="#00008f"/><path d="M232.2 1159.9L240.1 1159.2L234 1150.5L226 1126.7Z" fill="#0030ff"/><path d="M246.3 1192.5L254.3 1191.8L248.1 1183.1L240.1 1159.2Z" fill="#00008f"/><path d="M310.9 1195.6L318.8 1192.2L312.7 1187.8L304.7 1191.2Z" fill="#00008f"/><path d="M260.4 1195.3L268.4 1192.8L262.3 1188.4L254.3 1191.8Z" fill="#00008f"/><path d="M167.6 1064.1L175.6 1029.6L169.4 996.4L161.4 1030.8Z" fill="#ffef00"/><path d="M325 1196.6L333 1193.2L326.8 1188.8L318.8 1192.2Z" fill="#00008f"/><path d="M181.7 1062.9L189.7 1062.2L183.6 1028.9L175.6 1029.6Z" fill="#ffdf00"/><path d="M274.6 1196.2L282.6 1193.7L276.4 1189.3L268.4 1192.8Z" fill="#00008f"/><path d="M195.9 1095.5L203.9 1094.8L197.7 1061.5L189.7 1062.2Z" fill="#80ff80"/><path d="M210 1128.1L218 1127.4L211.9 1094.1L203.9 1094.8Z" fill="#00dfff"/><path d="M288.7 1197.2L296.7 1194.7L290.6 1190.3L282.6 1193.7Z" fill="#00008f"/><path d="M224.2 1160.6L232.2 1159.9L226 1126.7L218 1127.4Z" fill="#0040ff"/><path d="M238.3 1193.2L246.3 1192.5L240.1 1159.2L232.2 1159.9Z" fill="#00009f"/><path d="M159.6 1098.6L167.6 1064.1L161.4 1030.8L153.4 1065.3Z" fill="#70ff8f"/><path d="M302.9 1198.1L310.9 1195.6L304.7 1191.2L296.7 1194.7Z" fill="#00008f"/><path d="M252.4 1196L260.4 1195.3L254.3 1191.8L246.3 1192.5Z" fill="#00008f"/><path d="M173.7 1097.4L181.7 1062.9L175.6 1029.6L167.6 1064.1Z" fill="#80ff80"/><path d="M317 1199.1L325 1196.6L318.8 1192.2L310.9 1195.6Z" fill="#00008f"/><path d="M266.6 1198.8L274.6 1196.2L268.4 1192.8L260.4 1195.3Z" fill="#00008f"/><path d="M187.9 1096.2L195.9 1095.5L189.7 1062.2L181.7 1062.9Z" fill="#80ff80"/><path d="M331.2 1200.1L339.1 1197.5L333 1193.2L325 1196.6Z" fill="#00008f"/><path d="M202 1128.8L210 1128.1L203.9 1094.8L195.9 1095.5Z" fill="#00dfff"/><path d="M280.7 1199.7L288.7 1197.2L282.6 1193.7L274.6 1196.2Z" fill="#00008f"/><path d="M216.2 1161.4L224.2 1160.6L218 1127.4L210 1128.1Z" fill="#0040ff"/><path d="M151.6 1133L159.6 1098.6L153.4 1065.3L145.5 1099.8Z" fill="#00cfff"/><path d="M230.3 1193.9L238.3 1193.2L232.2 1159.9L224.2 1160.6Z" fill="#0000af"/><path d="M294.9 1200.7L302.9 1198.1L296.7 1194.7L288.7 1197.2Z" fill="#00008f"/><path d="M165.8 1131.9L173.7 1097.4L167.6 1064.1L159.6 1098.6Z" fill="#00dfff"/><path d="M244.5 1196.7L252.4 1196L246.3 1192.5L238.3 1193.2Z" fill="#00009f"/><path d="M309 1201.6L317 1199.1L310.9 1195.6L302.9 1198.1Z" fill="#00008f"/><path d="M179.9 1130.7L187.9 1096.2L181.7 1062.9L173.7 1097.4Z" fill="#00dfff"/><path d="M258.6 1199.5L266.6 1198.8L260.4 1195.3L252.4 1196Z" fill="#00008f"/><path d="M323.2 1202.6L331.2 1200.1L325 1196.6L317 1199.1Z" fill="#00008f"/><path d="M143.6 1167.5L151.6 1133L145.5 1099.8L137.5 1134.2Z" fill="#0030ff"/><path d="M194 1129.5L202 1128.8L195.9 1095.5L187.9 1096.2Z" fill="#00efff"/><path d="M272.7 1202.3L280.7 1199.7L274.6 1196.2L266.6 1198.8Z" fill="#00008f"/><path d="M208.2 1162.1L216.2 1161.4L210 1128.1L202 1128.8Z" fill="#0050ff"/><path d="M337.3 1203.4L345.3 1200.8L339.1 1197.5L331.2 1200.1Z" fill="#00008f"/><path d="M222.3 1194.6L230.3 1193.9L224.2 1160.6L216.2 1161.4Z" fill="#0000af"/><path d="M157.8 1166.3L165.8 1131.9L159.6 1098.6L151.6 1133Z" fill="#0040ff"/><path d="M286.9 1203.2L294.9 1200.7L288.7 1197.2L280.7 1199.7Z" fill="#00008f"/><path d="M236.5 1197.4L244.5 1196.7L238.3 1193.2L230.3 1193.9Z" fill="#0000af"/><path d="M171.9 1165.1L179.9 1130.7L173.7 1097.4L165.8 1131.9Z" fill="#0040ff"/><path d="M301 1204.2L309 1201.6L302.9 1198.1L294.9 1200.7Z" fill="#00008f"/><path d="M250.6 1200.2L258.6 1199.5L252.4 1196L244.5 1196.7Z" fill="#00009f"/><path d="M135.6 1202L143.6 1167.5L137.5 1134.2L129.5 1168.7Z" fill="#00008f"/><path d="M186 1164L194 1129.5L187.9 1096.2L179.9 1130.7Z" fill="#0050ff"/><path d="M315.2 1205.1L323.2 1202.6L317 1199.1L309 1201.6Z" fill="#00008f"/><path d="M264.8 1203L272.7 1202.3L266.6 1198.8L258.6 1199.5Z" fill="#00008f"/><path d="M149.8 1200.8L157.8 1166.3L151.6 1133L143.6 1167.5Z" fill="#00009f"/><path d="M200.2 1162.8L208.2 1162.1L202 1128.8L194 1129.5Z" fill="#0060ff"/><path d="M329.3 1205.9L337.3 1203.4L331.2 1200.1L323.2 1202.6Z" fill="#00008f"/><path d="M214.3 1195.3L222.3 1194.6L216.2 1161.4L208.2 1162.1Z" fill="#0000bf"/><path d="M278.9 1205.8L286.9 1203.2L280.7 1199.7L272.7 1202.3Z" fill="#00008f"/><path d="M163.9 1199.6L171.9 1165.1L165.8 1131.9L157.8 1166.3Z" fill="#00009f"/><path d="M228.5 1198.1L236.5 1197.4L230.3 1193.9L222.3 1194.6Z" fill="#0000af"/><path d="M343.5 1206.7L351.4 1204.1L345.3 1200.8L337.3 1203.4Z" fill="#00008f"/><path d="M293 1206.7L301 1204.2L294.9 1200.7L286.9 1203.2Z" fill="#00008f"/><path d="M127.6 1204.7L135.6 1202L129.5 1168.7L121.5 1203.1Z" fill="#00008f"/><path d="M178.1 1198.4L186 1164L179.9 1130.7L171.9 1165.1Z" fill="#0000af"/><path d="M242.6 1200.9L250.6 1200.2L244.5 1196.7L236.5 1197.4Z" fill="#00009f"/><path d="M307.2 1207.7L315.2 1205.1L309 1201.6L301 1204.2Z" fill="#00008f"/><path d="M141.8 1203.5L149.8 1200.8L143.6 1167.5L135.6 1202Z" fill="#00009f"/><path d="M192.2 1197.2L200.2 1162.8L194 1129.5L186 1164Z" fill="#0000bf"/><path d="M256.8 1203.7L264.8 1203L258.6 1199.5L250.6 1200.2Z" fill="#00009f"/><path d="M321.3 1208.5L329.3 1205.9L323.2 1202.6L315.2 1205.1Z" fill="#00008f"/><path d="M206.3 1196.1L214.3 1195.3L208.2 1162.1L200.2 1162.8Z" fill="#0000bf"/><path d="M155.9 1202.3L163.9 1199.6L157.8 1166.3L149.8 1200.8Z" fill="#00009f"/><path d="M270.9 1206.5L278.9 1205.8L272.7 1202.3L264.8 1203Z" fill="#00008f"/><path d="M220.5 1198.8L228.5 1198.1L222.3 1194.6L214.3 1195.3Z" fill="#0000bf"/><path d="M335.5 1209.2L343.5 1206.7L337.3 1203.4L329.3 1205.9Z" fill="#00008f"/><path d="M170.1 1201.1L178.1 1198.4L171.9 1165.1L163.9 1199.6Z" fill="#0000af"/><path d="M285 1209.3L293 1206.7L286.9 1203.2L278.9 1205.8Z" fill="#00008f"/><path d="M119.6 1207L127.6 1204.7L121.5 1203.1L113.5 1205.5Z" fill="#00008f"/><path d="M234.6 1201.6L242.6 1200.9L236.5 1197.4L228.5 1198.1Z" fill="#0000af"/><path d="M349.6 1210L357.6 1207.5L351.4 1204.1L343.5 1206.7Z" fill="#00008f"/><path d="M184.2 1200L192.2 1197.2L186 1164L178.1 1198.4Z" fill="#0000bf"/><path d="M299.2 1210.2L307.2 1207.7L301 1204.2L293 1206.7Z" fill="#00008f"/><path d="M133.8 1206.2L141.8 1203.5L135.6 1202L127.6 1204.7Z" fill="#00009f"/><path d="M248.8 1204.4L256.8 1203.7L250.6 1200.2L242.6 1200.9Z" fill="#00009f"/><path d="M313.3 1211L321.3 1208.5L315.2 1205.1L307.2 1207.7Z" fill="#00008f"/><path d="M198.3 1198.8L206.3 1196.1L200.2 1162.8L192.2 1197.2Z" fill="#0000bf"/><path d="M147.9 1205L155.9 1202.3L149.8 1200.8L141.8 1203.5Z" fill="#00009f"/><path d="M262.9 1207.2L270.9 1206.5L264.8 1203L256.8 1203.7Z" fill="#00009f"/><path d="M212.5 1200L220.5 1198.8L214.3 1195.3L206.3 1196.1Z" fill="#0000bf"/><path d="M327.5 1211.8L335.5 1209.2L329.3 1205.9L321.3 1208.5Z" fill="#00008f"/><path d="M162.1 1203.9L170.1 1201.1L163.9 1199.6L155.9 1202.3Z" fill="#0000af"/><path d="M277.1 1210L285 1209.3L278.9 1205.8L270.9 1206.5Z" fill="#00008f"/><path d="M111.7 1209.4L119.6 1207L113.5 1205.5L105.5 1207.8Z" fill="#00008f"/><path d="M226.6 1202.8L234.6 1201.6L228.5 1198.1L220.5 1198.8Z" fill="#0000af"/><path d="M341.6 1212.5L349.6 1210L343.5 1206.7L335.5 1209.2Z" fill="#00008f"/><path d="M176.2 1202.7L184.2 1200L178.1 1198.4L170.1 1201.1Z" fill="#0000bf"/><path d="M291.2 1212.8L299.2 1210.2L293 1206.7L285 1209.3Z" fill="#00008f"/><path d="M125.8 1208.6L133.8 1206.2L127.6 1204.7L119.6 1207Z" fill="#00009f"/><path d="M240.8 1205.6L248.8 1204.4L242.6 1200.9L234.6 1201.6Z" fill="#0000af"/><path d="M355.8 1213.3L363.8 1210.8L357.6 1207.5L349.6 1210Z" fill="#00008f"/><path d="M190.4 1201.5L198.3 1198.8L192.2 1197.2L184.2 1200Z" fill="#0000bf"/><path d="M305.3 1213.5L313.3 1211L307.2 1207.7L299.2 1210.2Z" fill="#00008f"/><path d="M139.9 1207.8L147.9 1205L141.8 1203.5L133.8 1206.2Z" fill="#00009f"/><path d="M254.9 1208.4L262.9 1207.2L256.8 1203.7L248.8 1204.4Z" fill="#00009f"/><path d="M204.5 1202.8L212.5 1200L206.3 1196.1L198.3 1198.8Z" fill="#0000bf"/><path d="M319.5 1214.3L327.5 1211.8L321.3 1208.5L313.3 1211Z" fill="#00008f"/><path d="M154.1 1206.6L162.1 1203.9L155.9 1202.3L147.9 1205Z" fill="#0000af"/><path d="M269.1 1211.2L277.1 1210L270.9 1206.5L262.9 1207.2Z" fill="#00009f"/><path d="M103.7 1211.7L111.7 1209.4L105.5 1207.8L97.5 1210.2Z" fill="#00008f"/><path d="M218.6 1204L226.6 1202.8L220.5 1198.8L212.5 1200Z" fill="#0000bf"/><path d="M333.6 1215.1L341.6 1212.5L335.5 1209.2L327.5 1211.8Z" fill="#00008f"/><path d="M168.2 1205.4L176.2 1202.7L170.1 1201.1L162.1 1203.9Z" fill="#0000bf"/><path d="M283.2 1214L291.2 1212.8L285 1209.3L277.1 1210Z" fill="#00008f"/><path d="M117.8 1210.9L125.8 1208.6L119.6 1207L111.7 1209.4Z" fill="#00009f"/><path d="M232.8 1206.8L240.8 1205.6L234.6 1201.6L226.6 1202.8Z" fill="#0000af"/><path d="M347.8 1215.9L355.8 1213.3L349.6 1210L341.6 1212.5Z" fill="#00008f"/><path d="M182.4 1204.2L190.4 1201.5L184.2 1200L176.2 1202.7Z" fill="#0000bf"/><path d="M297.3 1216.1L305.3 1213.5L299.2 1210.2L291.2 1212.8Z" fill="#00008f"/><path d="M131.9 1210.1L139.9 1207.8L133.8 1206.2L125.8 1208.6Z" fill="#00009f"/><path d="M246.9 1209.6L254.9 1208.4L248.8 1204.4L240.8 1205.6Z" fill="#0000af"/><path d="M361.9 1216.6L369.9 1214.1L363.8 1210.8L355.8 1213.3Z" fill="#00008f"/><path d="M196.5 1205.5L204.5 1202.8L198.3 1198.8L190.4 1201.5Z" fill="#0000bf"/><path d="M311.5 1216.9L319.5 1214.3L313.3 1211L305.3 1213.5Z" fill="#00008f"/><path d="M146.1 1209.3L154.1 1206.6L147.9 1205L139.9 1207.8Z" fill="#0000af"/><path d="M95.7 1214.1L103.7 1211.7L97.5 1210.2L89.5 1212.6Z" fill="#00008f"/><path d="M261.1 1212.4L269.1 1211.2L262.9 1207.2L254.9 1208.4Z" fill="#00009f"/><path d="M210.7 1206.8L218.6 1204L212.5 1200L204.5 1202.8Z" fill="#0000bf"/><path d="M325.6 1217.6L333.6 1215.1L327.5 1211.8L319.5 1214.3Z" fill="#00008f"/><path d="M160.2 1208.1L168.2 1205.4L162.1 1203.9L154.1 1206.6Z" fill="#0000af"/><path d="M275.2 1215.2L283.2 1214L277.1 1210L269.1 1211.2Z" fill="#00008f"/><path d="M109.8 1213.3L117.8 1210.9L111.7 1209.4L103.7 1211.7Z" fill="#00009f"/><path d="M224.8 1208L232.8 1206.8L226.6 1202.8L218.6 1204Z" fill="#0000bf"/><path d="M339.8 1218.4L347.8 1215.9L341.6 1212.5L333.6 1215.1Z" fill="#00008f"/><path d="M174.4 1207L182.4 1204.2L176.2 1202.7L168.2 1205.4Z" fill="#0000bf"/><path d="M289.4 1217.3L297.3 1216.1L291.2 1212.8L283.2 1214Z" fill="#00008f"/><path d="M124 1212.5L131.9 1210.1L125.8 1208.6L117.8 1210.9Z" fill="#00009f"/><path d="M238.9 1210.8L246.9 1209.6L240.8 1205.6L232.8 1206.8Z" fill="#0000af"/><path d="M353.9 1219.2L361.9 1216.6L355.8 1213.3L347.8 1215.9Z" fill="#00008f"/><path d="M188.5 1208.2L196.5 1205.5L190.4 1201.5L182.4 1204.2Z" fill="#0000bf"/><path d="M303.5 1219.4L311.5 1216.9L305.3 1213.5L297.3 1216.1Z" fill="#00008f"/><path d="M138.1 1211.7L146.1 1209.3L139.9 1207.8L131.9 1210.1Z" fill="#0000af"/><path d="M87.7 1216.5L95.7 1214.1L89.5 1212.6L81.5 1214.9Z" fill="#00009f"/><path d="M253.1 1213.6L261.1 1212.4L254.9 1208.4L246.9 1209.6Z" fill="#00009f"/><path d="M368.1 1220L376.1 1217.4L369.9 1214.1L361.9 1216.6Z" fill="#00008f"/><path d="M202.7 1209.5L210.7 1206.8L204.5 1202.8L196.5 1205.5Z" fill="#0000bf"/><path d="M317.6 1220.2L325.6 1217.6L319.5 1214.3L311.5 1216.9Z" fill="#00008f"/><path d="M152.2 1210.9L160.2 1208.1L154.1 1206.6L146.1 1209.3Z" fill="#0000af"/><path d="M267.2 1216.4L275.2 1215.2L269.1 1211.2L261.1 1212.4Z" fill="#00009f"/><path d="M101.8 1215.7L109.8 1213.3L103.7 1211.7L95.7 1214.1Z" fill="#00009f"/><path d="M216.8 1210.7L224.8 1208L218.6 1204L210.7 1206.8Z" fill="#0000bf"/><path d="M331.8 1221L339.8 1218.4L333.6 1215.1L325.6 1217.6Z" fill="#00008f"/><path d="M166.4 1209.7L174.4 1207L168.2 1205.4L160.2 1208.1Z" fill="#0000bf"/><path d="M281.4 1218.5L289.4 1217.3L283.2 1214L275.2 1215.2Z" fill="#00008f"/><path d="M116 1214.8L124 1212.5L117.8 1210.9L109.8 1213.3Z" fill="#00009f"/><path d="M230.9 1212L238.9 1210.8L232.8 1206.8L224.8 1208Z" fill="#0000af"/><path d="M345.9 1221.7L353.9 1219.2L347.8 1215.9L339.8 1218.4Z" fill="#00008f"/><path d="M180.5 1210.9L188.5 1208.2L182.4 1204.2L174.4 1207Z" fill="#0000bf"/><path d="M295.5 1220.6L303.5 1219.4L297.3 1216.1L289.4 1217.3Z" fill="#00008f"/><path d="M130.1 1214L138.1 1211.7L131.9 1210.1L124 1212.5Z" fill="#0000af"/><path d="M79.7 1216.6L87.7 1216.5L81.5 1214.9L73.5 1217.3Z" fill="#00009f"/><path d="M245.1 1214.8L253.1 1213.6L246.9 1209.6L238.9 1210.8Z" fill="#0000af"/><path d="M360.1 1222.5L368.1 1220L361.9 1216.6L353.9 1219.2Z" fill="#00008f"/><path d="M194.7 1212.2L202.7 1209.5L196.5 1205.5L188.5 1208.2Z" fill="#0000bf"/><path d="M309.7 1222.7L317.6 1220.2L311.5 1216.9L303.5 1219.4Z" fill="#00008f"/><path d="M144.3 1213.2L152.2 1210.9L146.1 1209.3L138.1 1211.7Z" fill="#0000af"/><path d="M259.2 1217.6L267.2 1216.4L261.1 1212.4L253.1 1213.6Z" fill="#00009f"/><path d="M93.8 1215.8L101.8 1215.7L95.7 1214.1L87.7 1216.5Z" fill="#0000af"/><path d="M374.2 1223.3L382.2 1220.7L376.1 1217.4L368.1 1220Z" fill="#00008f"/><path d="M208.8 1213.5L216.8 1210.7L210.7 1206.8L202.7 1209.5Z" fill="#0000bf"/><path d="M323.8 1223.5L331.8 1221L325.6 1217.6L317.6 1220.2Z" fill="#00008f"/><path d="M158.4 1212.4L166.4 1209.7L160.2 1208.1L152.2 1210.9Z" fill="#0000bf"/><path d="M273.4 1219.7L281.4 1218.5L275.2 1215.2L267.2 1216.4Z" fill="#00009f"/><path d="M108 1215L116 1214.8L109.8 1213.3L101.8 1215.7Z" fill="#0000af"/><path d="M223 1214.7L230.9 1212L224.8 1208L216.8 1210.7Z" fill="#0000af"/><path d="M337.9 1224.3L345.9 1221.7L339.8 1218.4L331.8 1221Z" fill="#00008f"/><path d="M172.5 1213.7L180.5 1210.9L174.4 1207L166.4 1209.7Z" fill="#0000bf"/><path d="M287.5 1221.8L295.5 1220.6L289.4 1217.3L281.4 1218.5Z" fill="#00008f"/><path d="M122.1 1214.2L130.1 1214L124 1212.5L116 1214.8Z" fill="#0000bf"/><path d="M237.1 1216L245.1 1214.8L238.9 1210.8L230.9 1212Z" fill="#0000af"/><path d="M352.1 1225.1L360.1 1222.5L353.9 1219.2L345.9 1221.7Z" fill="#00008f"/><path d="M186.7 1214.9L194.7 1212.2L188.5 1208.2L180.5 1210.9Z" fill="#0000bf"/><path d="M301.7 1224L309.7 1222.7L303.5 1219.4L295.5 1220.6Z" fill="#00008f"/><path d="M136.3 1213.4L144.3 1213.2L138.1 1211.7L130.1 1214Z" fill="#0000bf"/><path d="M251.2 1218.8L259.2 1217.6L253.1 1213.6L245.1 1214.8Z" fill="#0000af"/><path d="M85.8 1215.9L93.8 1215.8L87.7 1216.5L79.7 1216.6Z" fill="#0000bf"/><path d="M366.2 1225.8L374.2 1223.3L368.1 1220L360.1 1222.5Z" fill="#00008f"/><path d="M200.8 1216.2L208.8 1213.5L202.7 1209.5L194.7 1212.2Z" fill="#0000bf"/><path d="M315.8 1226.1L323.8 1223.5L317.6 1220.2L309.7 1222.7Z" fill="#00008f"/><path d="M150.4 1212.6L158.4 1212.4L152.2 1210.9L144.3 1213.2Z" fill="#0000cf"/><path d="M265.4 1220.9L273.4 1219.7L267.2 1216.4L259.2 1217.6Z" fill="#00009f"/><path d="M100 1215.1L108 1215L101.8 1215.7L93.8 1215.8Z" fill="#0000bf"/><path d="M380.4 1226.6L388.4 1224.1L382.2 1220.7L374.2 1223.3Z" fill="#00008f"/><path d="M215 1217.5L223 1214.7L216.8 1210.7L208.8 1213.5Z" fill="#0000af"/><path d="M329.9 1226.9L337.9 1224.3L331.8 1221L323.8 1223.5Z" fill="#00008f"/><path d="M164.5 1207.5L172.5 1213.7L166.4 1209.7L158.4 1212.4Z" fill="#0000ef"/><path d="M279.5 1223L287.5 1221.8L281.4 1218.5L273.4 1219.7Z" fill="#00009f"/><path d="M114.1 1214.3L122.1 1214.2L116 1214.8L108 1215Z" fill="#0000bf"/><path d="M229.1 1218.7L237.1 1216L230.9 1212L223 1214.7Z" fill="#0000af"/><path d="M344.1 1227.6L352.1 1225.1L345.9 1221.7L337.9 1224.3Z" fill="#00008f"/><path d="M178.7 1208.7L186.7 1214.9L180.5 1210.9L172.5 1213.7Z" fill="#0000df"/><path d="M293.7 1225.2L301.7 1224L295.5 1220.6L287.5 1221.8Z" fill="#00008f"/><path d="M128.3 1213.5L136.3 1213.4L130.1 1214L122.1 1214.2Z" fill="#0000cf"/><path d="M243.2 1220L251.2 1218.8L245.1 1214.8L237.1 1216Z" fill="#0000af"/><path d="M358.2 1228.4L366.2 1225.8L360.1 1222.5L352.1 1225.1Z" fill="#00008f"/><path d="M192.8 1210L200.8 1216.2L194.7 1212.2L186.7 1214.9Z" fill="#0000df"/><path d="M307.8 1227.3L315.8 1226.1L309.7 1222.7L301.7 1224Z" fill="#00008f"/><path d="M142.4 1212.7L150.4 1212.6L144.3 1213.2L136.3 1213.4Z" fill="#0000cf"/><path d="M257.4 1222.1L265.4 1220.9L259.2 1217.6L251.2 1218.8Z" fill="#0000af"/><path d="M92 1215.3L100 1215.1L93.8 1215.8L85.8 1215.9Z" fill="#0000cf"/><path d="M372.4 1229.2L380.4 1226.6L374.2 1223.3L366.2 1225.8Z" fill="#00008f"/><path d="M207 1211.2L215 1217.5L208.8 1213.5L200.8 1216.2Z" fill="#0000df"/><path d="M322 1229.4L329.9 1226.9L323.8 1223.5L315.8 1226.1Z" fill="#00008f"/><path d="M156.6 1207.6L164.5 1207.5L158.4 1212.4L150.4 1212.6Z" fill="#0000ef"/><path d="M271.5 1224.2L279.5 1223L273.4 1219.7L265.4 1220.9Z" fill="#00009f"/><path d="M106.1 1214.4L114.1 1214.3L108 1215L100 1215.1Z" fill="#0000cf"/><path d="M386.5 1229.9L394.5 1227.4L388.4 1224.1L380.4 1226.6Z" fill="#00008f"/><path d="M221.1 1212.5L229.1 1218.7L223 1214.7L215 1217.5Z" fill="#0000df"/><path d="M336.1 1230.2L344.1 1227.6L337.9 1224.3L329.9 1226.9Z" fill="#00008f"/><path d="M170.7 1202.5L178.7 1208.7L172.5 1213.7L164.5 1207.5Z" fill="#0010ff"/><path d="M285.7 1226.4L293.7 1225.2L287.5 1221.8L279.5 1223Z" fill="#00009f"/><path d="M120.3 1213.6L128.3 1213.5L122.1 1214.2L114.1 1214.3Z" fill="#0000df"/><path d="M235.3 1213.8L243.2 1220L237.1 1216L229.1 1218.7Z" fill="#0000df"/><path d="M350.2 1230.9L358.2 1228.4L352.1 1225.1L344.1 1227.6Z" fill="#00008f"/><path d="M184.8 1203.8L192.8 1210L186.7 1214.9L178.7 1208.7Z" fill="#0010ff"/><path d="M299.8 1228.5L307.8 1227.3L301.7 1224L293.7 1225.2Z" fill="#00008f"/><path d="M134.4 1212.8L142.4 1212.7L136.3 1213.4L128.3 1213.5Z" fill="#0000df"/><path d="M249.4 1221.5L257.4 1222.1L251.2 1218.8L243.2 1220Z" fill="#0000bf"/><path d="M364.4 1231.7L372.4 1229.2L366.2 1225.8L358.2 1228.4Z" fill="#00008f"/><path d="M199 1205L207 1211.2L200.8 1216.2L192.8 1210Z" fill="#0010ff"/><path d="M314 1230.6L322 1229.4L315.8 1226.1L307.8 1227.3Z" fill="#00008f"/><path d="M148.6 1207.7L156.6 1207.6L150.4 1212.6L142.4 1212.7Z" fill="#0000ff"/><path d="M263.5 1223.6L271.5 1224.2L265.4 1220.9L257.4 1222.1Z" fill="#0000af"/><path d="M98.1 1214.6L106.1 1214.4L100 1215.1L92 1215.3Z" fill="#0000df"/><path d="M378.5 1232.5L386.5 1229.9L380.4 1226.6L372.4 1229.2Z" fill="#00008f"/><path d="M213.1 1206.3L221.1 1212.5L215 1217.5L207 1211.2Z" fill="#0010ff"/><path d="M328.1 1232.7L336.1 1230.2L329.9 1226.9L322 1229.4Z" fill="#00008f"/><path d="M277.7 1225.7L285.7 1226.4L279.5 1223L271.5 1224.2Z" fill="#0000af"/><path d="M162.7 1202.6L170.7 1202.5L164.5 1207.5L156.6 1207.6Z" fill="#0020ff"/><path d="M112.3 1213.8L120.3 1213.6L114.1 1214.3L106.1 1214.4Z" fill="#0000ef"/><path d="M392.7 1233.2L400.7 1230.7L394.5 1227.4L386.5 1229.9Z" fill="#00008f"/><path d="M227.3 1207.5L235.3 1213.8L229.1 1218.7L221.1 1212.5Z" fill="#0010ff"/><path d="M342.2 1233.5L350.2 1230.9L344.1 1227.6L336.1 1230.2Z" fill="#00008f"/><path d="M291.8 1227.9L299.8 1228.5L293.7 1225.2L285.7 1226.4Z" fill="#00009f"/><path d="M176.8 1197.5L184.8 1203.8L178.7 1208.7L170.7 1202.5Z" fill="#0040ff"/><path d="M126.4 1213L134.4 1212.8L128.3 1213.5L120.3 1213.6Z" fill="#0000ef"/><path d="M241.4 1215.3L249.4 1221.5L243.2 1220L235.3 1213.8Z" fill="#0000df"/><path d="M356.4 1234.3L364.4 1231.7L358.2 1228.4L350.2 1230.9Z" fill="#00008f"/><path d="M306 1230L314 1230.6L307.8 1227.3L299.8 1228.5Z" fill="#00009f"/><path d="M191 1198.8L199 1205L192.8 1210L184.8 1203.8Z" fill="#0040ff"/><path d="M140.6 1207.9L148.6 1207.7L142.4 1212.7L134.4 1212.8Z" fill="#0010ff"/><path d="M255.6 1223L263.5 1223.6L257.4 1222.1L249.4 1221.5Z" fill="#0000bf"/><path d="M370.5 1235L378.5 1232.5L372.4 1229.2L364.4 1231.7Z" fill="#00008f"/><path d="M320.1 1232.1L328.1 1232.7L322 1229.4L314 1230.6Z" fill="#00009f"/><path d="M205.1 1200.1L213.1 1206.3L207 1211.2L199 1205Z" fill="#0030ff"/><path d="M269.7 1225.1L277.7 1225.7L271.5 1224.2L263.5 1223.6Z" fill="#0000bf"/><path d="M154.7 1202.8L162.7 1202.6L156.6 1207.6L148.6 1207.7Z" fill="#0030ff"/><path d="M384.7 1235.8L392.7 1233.2L386.5 1229.9L378.5 1232.5Z" fill="#00008f"/><path d="M104.3 1213.9L112.3 1213.8L106.1 1214.4L98.1 1214.6Z" fill="#0000ef"/><path d="M334.3 1236.1L342.2 1233.5L336.1 1230.2L328.1 1232.7Z" fill="#00008f"/><path d="M219.3 1201.3L227.3 1207.5L221.1 1212.5L213.1 1206.3Z" fill="#0030ff"/><path d="M283.8 1227.3L291.8 1227.9L285.7 1226.4L277.7 1225.7Z" fill="#0000af"/><path d="M168.9 1197.7L176.8 1197.5L170.7 1202.5L162.7 1202.6Z" fill="#0040ff"/><path d="M398.8 1236.6L406.8 1234L400.7 1230.7L392.7 1233.2Z" fill="#00008f"/><path d="M118.4 1213.1L126.4 1213L120.3 1213.6L112.3 1213.8Z" fill="#0000ff"/><path d="M348.4 1236.8L356.4 1234.3L350.2 1230.9L342.2 1233.5Z" fill="#00008f"/><path d="M233.4 1209.1L241.4 1215.3L235.3 1213.8L227.3 1207.5Z" fill="#0010ff"/><path d="M298 1229.4L306 1230L299.8 1228.5L291.8 1227.9Z" fill="#0000af"/><path d="M183 1192.6L191 1198.8L184.8 1203.8L176.8 1197.5Z" fill="#0060ff"/><path d="M132.6 1208L140.6 1207.9L134.4 1212.8L126.4 1213Z" fill="#0020ff"/><path d="M247.6 1216.8L255.6 1223L249.4 1221.5L241.4 1215.3Z" fill="#0000ef"/><path d="M362.5 1237.6L370.5 1235L364.4 1231.7L356.4 1234.3Z" fill="#00008f"/><path d="M312.1 1231.5L320.1 1232.1L314 1230.6L306 1230Z" fill="#0000af"/><path d="M197.1 1193.8L205.1 1200.1L199 1205L191 1198.8Z" fill="#0060ff"/><path d="M146.7 1202.9L154.7 1202.8L148.6 1207.7L140.6 1207.9Z" fill="#0030ff"/><path d="M261.7 1224.5L269.7 1225.1L263.5 1223.6L255.6 1223Z" fill="#0000cf"/><path d="M376.7 1238.4L384.7 1235.8L378.5 1232.5L370.5 1235Z" fill="#00008f"/><path d="M326.3 1235.5L334.3 1236.1L328.1 1232.7L320.1 1232.1Z" fill="#00009f"/><path d="M211.3 1195.1L219.3 1201.3L213.1 1206.3L205.1 1200.1Z" fill="#0060ff"/><path d="M275.8 1226.7L283.8 1227.3L277.7 1225.7L269.7 1225.1Z" fill="#0000bf"/><path d="M160.9 1197.8L168.9 1197.7L162.7 1202.6L154.7 1202.8Z" fill="#0050ff"/><path d="M390.8 1239.1L398.8 1236.6L392.7 1233.2L384.7 1235.8Z" fill="#00008f"/><path d="M110.4 1213.2L118.4 1213.1L112.3 1213.8L104.3 1213.9Z" fill="#0010ff"/><path d="M340.4 1239.4L348.4 1236.8L342.2 1233.5L334.3 1236.1Z" fill="#00008f"/><path d="M225.4 1202.8L233.4 1209.1L227.3 1207.5L219.3 1201.3Z" fill="#0040ff"/><path d="M290 1228.8L298 1229.4L291.8 1227.9L283.8 1227.3Z" fill="#0000bf"/><path d="M405 1239.9L413 1237.3L406.8 1234L398.8 1236.6Z" fill="#00008f"/><path d="M175 1192.7L183 1192.6L176.8 1197.5L168.9 1197.7Z" fill="#0070ff"/><path d="M124.6 1208.1L132.6 1208L126.4 1213L118.4 1213.1Z" fill="#0020ff"/><path d="M354.6 1240.2L362.5 1237.6L356.4 1234.3L348.4 1236.8Z" fill="#00008f"/><path d="M239.6 1210.6L247.6 1216.8L241.4 1215.3L233.4 1209.1Z" fill="#0020ff"/><path d="M304.1 1230.9L312.1 1231.5L306 1230L298 1229.4Z" fill="#0000bf"/><path d="M189.2 1187.6L197.1 1193.8L191 1198.8L183 1192.6Z" fill="#008fff"/><path d="M138.7 1203L146.7 1202.9L140.6 1207.9L132.6 1208Z" fill="#0040ff"/><path d="M253.7 1218.3L261.7 1224.5L255.6 1223L247.6 1216.8Z" fill="#0000ff"/><path d="M368.7 1240.9L376.7 1238.4L370.5 1235L362.5 1237.6Z" fill="#00008f"/><path d="M318.3 1234.9L326.3 1235.5L320.1 1232.1L312.1 1231.5Z" fill="#0000af"/><path d="M203.3 1188.9L211.3 1195.1L205.1 1200.1L197.1 1193.8Z" fill="#008fff"/><path d="M267.9 1226.1L275.8 1226.7L269.7 1225.1L261.7 1224.5Z" fill="#0000cf"/><path d="M382.8 1241.7L390.8 1239.1L384.7 1235.8L376.7 1238.4Z" fill="#00008f"/><path d="M152.9 1197.9L160.9 1197.8L154.7 1202.8L146.7 1202.9Z" fill="#0060ff"/><path d="M332.4 1238.8L340.4 1239.4L334.3 1236.1L326.3 1235.5Z" fill="#00009f"/><path d="M217.4 1196.6L225.4 1202.8L219.3 1201.3L211.3 1195.1Z" fill="#0070ff"/><path d="M282 1228.2L290 1228.8L283.8 1227.3L275.8 1226.7Z" fill="#0000cf"/><path d="M397 1242.5L405 1239.9L398.8 1236.6L390.8 1239.1Z" fill="#00008f"/><path d="M167 1192.8L175 1192.7L168.9 1197.7L160.9 1197.8Z" fill="#0080ff"/><path d="M116.6 1202.9L124.6 1208.1L118.4 1213.1L110.4 1213.2Z" fill="#0050ff"/><path d="M346.6 1242.7L354.6 1240.2L348.4 1236.8L340.4 1239.4Z" fill="#00008f"/><path d="M231.6 1204.4L239.6 1210.6L233.4 1209.1L225.4 1202.8Z" fill="#0040ff"/><path d="M296.1 1230.3L304.1 1230.9L298 1229.4L290 1228.8Z" fill="#0000bf"/><path d="M181.2 1187.8L189.2 1187.6L183 1192.6L175 1192.7Z" fill="#009fff"/><path d="M130.7 1197.8L138.7 1203L132.6 1208L124.6 1208.1Z" fill="#0070ff"/><path d="M360.7 1243.5L368.7 1240.9L362.5 1237.6L354.6 1240.2Z" fill="#00008f"/><path d="M245.7 1212.1L253.7 1218.3L247.6 1216.8L239.6 1210.6Z" fill="#0020ff"/><path d="M310.3 1234.2L318.3 1234.9L312.1 1231.5L304.1 1230.9Z" fill="#0000bf"/><path d="M195.3 1182.7L203.3 1188.9L197.1 1193.8L189.2 1187.6Z" fill="#00afff"/><path d="M374.8 1244.3L382.8 1241.7L376.7 1238.4L368.7 1240.9Z" fill="#00008f"/><path d="M259.9 1219.8L267.9 1226.1L261.7 1224.5L253.7 1218.3Z" fill="#0000ff"/><path d="M144.9 1192.7L152.9 1197.9L146.7 1202.9L138.7 1203Z" fill="#0080ff"/><path d="M324.4 1238.2L332.4 1238.8L326.3 1235.5L318.3 1234.9Z" fill="#0000af"/><path d="M209.4 1190.4L217.4 1196.6L211.3 1195.1L203.3 1188.9Z" fill="#008fff"/><path d="M274 1227.6L282 1228.2L275.8 1226.7L267.9 1226.1Z" fill="#0000df"/><path d="M389 1245L397 1242.5L390.8 1239.1L382.8 1241.7Z" fill="#00008f"/><path d="M159 1187.6L167 1192.8L160.9 1197.8L152.9 1197.9Z" fill="#009fff"/><path d="M338.6 1242.1L346.6 1242.7L340.4 1239.4L332.4 1238.8Z" fill="#00009f"/><path d="M223.6 1198.1L231.6 1204.4L225.4 1202.8L217.4 1196.6Z" fill="#0070ff"/><path d="M288.2 1229.7L296.1 1230.3L290 1228.8L282 1228.2Z" fill="#0000cf"/><path d="M173.2 1182.5L181.2 1187.8L175 1192.7L167 1192.8Z" fill="#00bfff"/><path d="M352.7 1246.1L360.7 1243.5L354.6 1240.2L346.6 1242.7Z" fill="#00008f"/><path d="M122.8 1192.5L130.7 1197.8L124.6 1208.1L116.6 1202.9Z" fill="#008fff"/><path d="M237.7 1205.9L245.7 1212.1L239.6 1210.6L231.6 1204.4Z" fill="#0050ff"/><path d="M302.3 1233.6L310.3 1234.2L304.1 1230.9L296.1 1230.3Z" fill="#0000bf"/><path d="M366.9 1246.8L374.8 1244.3L368.7 1240.9L360.7 1243.5Z" fill="#00008f"/><path d="M187.3 1177.4L195.3 1182.7L189.2 1187.6L181.2 1187.8Z" fill="#00dfff"/><path d="M251.9 1213.6L259.9 1219.8L253.7 1218.3L245.7 1212.1Z" fill="#0030ff"/><path d="M136.9 1187.4L144.9 1192.7L138.7 1203L130.7 1197.8Z" fill="#00afff"/><path d="M316.4 1237.6L324.4 1238.2L318.3 1234.9L310.3 1234.2Z" fill="#0000bf"/><path d="M381 1247.6L389 1245L382.8 1241.7L374.8 1244.3Z" fill="#00008f"/><path d="M201.5 1177.7L209.4 1190.4L203.3 1188.9L195.3 1182.7Z" fill="#00dfff"/><path d="M266 1221.4L274 1227.6L267.9 1226.1L259.9 1219.8Z" fill="#0010ff"/><path d="M151 1182.3L159 1187.6L152.9 1197.9L144.9 1192.7Z" fill="#00cfff"/><path d="M330.6 1241.5L338.6 1242.1L332.4 1238.8L324.4 1238.2Z" fill="#0000af"/><path d="M215.6 1185.4L223.6 1198.1L217.4 1196.6L209.4 1190.4Z" fill="#00bfff"/><path d="M280.2 1229.1L288.2 1229.7L282 1228.2L274 1227.6Z" fill="#0000df"/><path d="M344.7 1245.5L352.7 1246.1L346.6 1242.7L338.6 1242.1Z" fill="#00009f"/><path d="M165.2 1177.2L173.2 1182.5L167 1192.8L159 1187.6Z" fill="#00efff"/><path d="M229.7 1193.2L237.7 1205.9L231.6 1204.4L223.6 1198.1Z" fill="#009fff"/><path d="M294.3 1233L302.3 1233.6L296.1 1230.3L288.2 1229.7Z" fill="#0000cf"/><path d="M358.9 1249.4L366.9 1246.8L360.7 1243.5L352.7 1246.1Z" fill="#00008f"/><path d="M179.3 1172.1L187.3 1177.4L181.2 1187.8L173.2 1182.5Z" fill="#00ffff"/><path d="M128.9 1182.2L136.9 1187.4L130.7 1197.8L122.8 1192.5Z" fill="#00cfff"/><path d="M243.9 1200.9L251.9 1213.6L245.7 1212.1L237.7 1205.9Z" fill="#0080ff"/><path d="M308.4 1237L316.4 1237.6L310.3 1234.2L302.3 1233.6Z" fill="#0000bf"/><path d="M373 1250.2L381 1247.6L374.8 1244.3L366.9 1246.8Z" fill="#00008f"/><path d="M193.5 1172.5L201.5 1177.7L195.3 1182.7L187.3 1177.4Z" fill="#10ffef"/><path d="M258 1208.7L266 1221.4L259.9 1219.8L251.9 1213.6Z" fill="#0050ff"/><path d="M143 1177.1L151 1182.3L144.9 1192.7L136.9 1187.4Z" fill="#00efff"/><path d="M322.6 1240.9L330.6 1241.5L324.4 1238.2L316.4 1237.6Z" fill="#0000bf"/><path d="M272.2 1216.4L280.2 1229.1L274 1227.6L266 1221.4Z" fill="#0030ff"/><path d="M207.6 1172.8L215.6 1185.4L209.4 1190.4L201.5 1177.7Z" fill="#10ffef"/><path d="M336.7 1244.8L344.7 1245.5L338.6 1242.1L330.6 1241.5Z" fill="#0000af"/><path d="M157.2 1172L165.2 1177.2L159 1187.6L151 1182.3Z" fill="#10ffef"/><path d="M286.3 1234.9L294.3 1233L288.2 1229.7L280.2 1229.1Z" fill="#0000df"/><path d="M221.8 1180.5L229.7 1193.2L223.6 1198.1L215.6 1185.4Z" fill="#00dfff"/><path d="M350.9 1248.8L358.9 1249.4L352.7 1246.1L344.7 1245.5Z" fill="#00009f"/><path d="M171.3 1166.9L179.3 1172.1L173.2 1182.5L165.2 1177.2Z" fill="#30ffcf"/><path d="M235.9 1188.2L243.9 1200.9L237.7 1205.9L229.7 1193.2Z" fill="#00bfff"/><path d="M300.5 1238.9L308.4 1237L302.3 1233.6L294.3 1233Z" fill="#0000cf"/><path d="M365 1252.7L373 1250.2L366.9 1246.8L358.9 1249.4Z" fill="#00008f"/><path d="M185.5 1167.2L193.5 1172.5L187.3 1177.4L179.3 1172.1Z" fill="#30ffcf"/><path d="M250 1196L258 1208.7L251.9 1213.6L243.9 1200.9Z" fill="#009fff"/><path d="M314.6 1242.8L322.6 1240.9L316.4 1237.6L308.4 1237Z" fill="#0000bf"/><path d="M135.1 1171.8L143 1177.1L136.9 1187.4L128.9 1182.2Z" fill="#20ffdf"/><path d="M264.2 1203.7L272.2 1216.4L266 1221.4L258 1208.7Z" fill="#0080ff"/><path d="M199.6 1167.5L207.6 1172.8L201.5 1177.7L193.5 1172.5Z" fill="#30ffcf"/><path d="M328.7 1246.7L336.7 1244.8L330.6 1241.5L322.6 1240.9Z" fill="#0000af"/><path d="M149.2 1166.7L157.2 1172L151 1182.3L143 1177.1Z" fill="#30ffcf"/><path d="M278.3 1222.2L286.3 1234.9L280.2 1229.1L272.2 1216.4Z" fill="#0020ff"/><path d="M213.8 1167.8L221.8 1180.5L215.6 1185.4L207.6 1172.8Z" fill="#30ffcf"/><path d="M342.9 1250.7L350.9 1248.8L344.7 1245.5L336.7 1244.8Z" fill="#00009f"/><path d="M163.3 1161.6L171.3 1166.9L165.2 1177.2L157.2 1172Z" fill="#50ffaf"/><path d="M292.5 1240.7L300.5 1238.9L294.3 1233L286.3 1234.9Z" fill="#0000cf"/><path d="M227.9 1175.6L235.9 1188.2L229.7 1193.2L221.8 1180.5Z" fill="#10ffef"/><path d="M357 1254.6L365 1252.7L358.9 1249.4L350.9 1248.8Z" fill="#00008f"/><path d="M177.5 1161.9L185.5 1167.2L179.3 1172.1L171.3 1166.9Z" fill="#50ffaf"/><path d="M306.6 1244.7L314.6 1242.8L308.4 1237L300.5 1238.9Z" fill="#0000bf"/><path d="M242 1183.3L250 1196L243.9 1200.9L235.9 1188.2Z" fill="#00efff"/><path d="M191.6 1162.3L199.6 1167.5L193.5 1172.5L185.5 1167.2Z" fill="#60ff9f"/><path d="M320.8 1248.6L328.7 1246.7L322.6 1240.9L314.6 1242.8Z" fill="#0000af"/><path d="M256.2 1191L264.2 1203.7L258 1208.7L250 1196Z" fill="#00cfff"/><path d="M141.2 1161.5L149.2 1166.7L143 1177.1L135.1 1171.8Z" fill="#60ff9f"/><path d="M270.3 1209.5L278.3 1222.2L272.2 1216.4L264.2 1203.7Z" fill="#0070ff"/><path d="M334.9 1252.6L342.9 1250.7L336.7 1244.8L328.7 1246.7Z" fill="#00009f"/><path d="M205.8 1162.6L213.8 1167.8L207.6 1172.8L199.6 1167.5Z" fill="#60ff9f"/><path d="M155.3 1156.4L163.3 1161.6L157.2 1172L149.2 1166.7Z" fill="#80ff80"/><path d="M284.5 1228.1L292.5 1240.7L286.3 1234.9L278.3 1222.2Z" fill="#0020ff"/><path d="M349 1256.5L357 1254.6L350.9 1248.8L342.9 1250.7Z" fill="#00008f"/><path d="M219.9 1162.9L227.9 1175.6L221.8 1180.5L213.8 1167.8Z" fill="#60ff9f"/><path d="M298.6 1246.6L306.6 1244.7L300.5 1238.9L292.5 1240.7Z" fill="#0000bf"/><path d="M169.5 1156.7L177.5 1161.9L171.3 1166.9L163.3 1161.6Z" fill="#80ff80"/><path d="M234.1 1170.6L242 1183.3L235.9 1188.2L227.9 1175.6Z" fill="#40ffbf"/><path d="M312.8 1250.5L320.8 1248.6L314.6 1242.8L306.6 1244.7Z" fill="#0000af"/><path d="M183.6 1157L191.6 1162.3L185.5 1167.2L177.5 1161.9Z" fill="#80ff80"/><path d="M248.2 1178.3L256.2 1191L250 1196L242 1183.3Z" fill="#10ffef"/><path d="M326.9 1254.4L334.9 1252.6L328.7 1246.7L320.8 1248.6Z" fill="#00009f"/><path d="M197.8 1157.3L205.8 1162.6L199.6 1167.5L191.6 1162.3Z" fill="#80ff80"/><path d="M262.3 1196.9L270.3 1209.5L264.2 1203.7L256.2 1191Z" fill="#00bfff"/><path d="M147.4 1151.1L155.3 1156.4L149.2 1166.7L141.2 1161.5Z" fill="#9fff60"/><path d="M276.5 1215.4L284.5 1228.1L278.3 1222.2L270.3 1209.5Z" fill="#0060ff"/><path d="M341 1258.4L349 1256.5L342.9 1250.7L334.9 1252.6Z" fill="#00008f"/><path d="M211.9 1157.6L219.9 1162.9L213.8 1167.8L205.8 1162.6Z" fill="#80ff80"/><path d="M290.6 1233.9L298.6 1246.6L292.5 1240.7L284.5 1228.1Z" fill="#0010ff"/><path d="M161.5 1151.4L169.5 1156.7L163.3 1161.6L155.3 1156.4Z" fill="#9fff60"/><path d="M226.1 1157.9L234.1 1170.6L227.9 1175.6L219.9 1162.9Z" fill="#80ff80"/><path d="M304.8 1252.4L312.8 1250.5L306.6 1244.7L298.6 1246.6Z" fill="#0000af"/><path d="M175.6 1151.7L183.6 1157L177.5 1161.9L169.5 1156.7Z" fill="#9fff60"/><path d="M240.2 1165.7L248.2 1178.3L242 1183.3L234.1 1170.6Z" fill="#60ff9f"/><path d="M318.9 1256.3L326.9 1254.4L320.8 1248.6L312.8 1250.5Z" fill="#00009f"/><path d="M189.8 1152.1L197.8 1157.3L191.6 1162.3L183.6 1157Z" fill="#afff50"/><path d="M254.3 1184.2L262.3 1196.9L256.2 1191L248.2 1178.3Z" fill="#10ffef"/><path d="M333.1 1260.3L341 1258.4L334.9 1252.6L326.9 1254.4Z" fill="#00008f"/><path d="M268.5 1202.7L276.5 1215.4L270.3 1209.5L262.3 1196.9Z" fill="#00afff"/><path d="M203.9 1152.4L211.9 1157.6L205.8 1162.6L197.8 1157.3Z" fill="#afff50"/><path d="M153.5 1138.3L161.5 1151.4L155.3 1156.4L147.4 1151.1Z" fill="#efff10"/><path d="M282.6 1221.2L290.6 1233.9L284.5 1228.1L276.5 1215.4Z" fill="#0060ff"/><path d="M218.1 1152.7L226.1 1157.9L219.9 1162.9L211.9 1157.6Z" fill="#afff50"/><path d="M296.8 1239.7L304.8 1252.4L298.6 1246.6L290.6 1233.9Z" fill="#0000ff"/><path d="M167.7 1138.6L175.6 1151.7L169.5 1156.7L161.5 1151.4Z" fill="#efff10"/><path d="M232.2 1153L240.2 1165.7L234.1 1170.6L226.1 1157.9Z" fill="#afff50"/><path d="M310.9 1258.2L318.9 1256.3L312.8 1250.5L304.8 1252.4Z" fill="#0000af"/><path d="M181.8 1138.9L189.8 1152.1L183.6 1157L175.6 1151.7Z" fill="#efff10"/><path d="M246.4 1171.5L254.3 1184.2L248.2 1178.3L240.2 1165.7Z" fill="#50ffaf"/><path d="M325.1 1262.1L333.1 1260.3L326.9 1254.4L318.9 1256.3Z" fill="#00009f"/><path d="M260.5 1190L268.5 1202.7L262.3 1196.9L254.3 1184.2Z" fill="#00ffff"/><path d="M195.9 1139.3L203.9 1152.4L197.8 1157.3L189.8 1152.1Z" fill="#ffff00"/><path d="M274.6 1208.5L282.6 1221.2L276.5 1215.4L268.5 1202.7Z" fill="#009fff"/><path d="M210.1 1139.6L218.1 1152.7L211.9 1157.6L203.9 1152.4Z" fill="#ffff00"/><path d="M288.8 1227L296.8 1239.7L290.6 1233.9L282.6 1221.2Z" fill="#0050ff"/><path d="M159.7 1125.5L167.7 1138.6L161.5 1151.4L153.5 1138.3Z" fill="#ffbf00"/><path d="M224.2 1139.9L232.2 1153L226.1 1157.9L218.1 1152.7Z" fill="#ffff00"/><path d="M302.9 1245.5L310.9 1258.2L304.8 1252.4L296.8 1239.7Z" fill="#0000ef"/><path d="M173.8 1125.8L181.8 1138.9L175.6 1151.7L167.7 1138.6Z" fill="#ffbf00"/><path d="M238.4 1165.9L246.4 1171.5L240.2 1165.7L232.2 1153Z" fill="#80ff80"/><path d="M317.1 1264L325.1 1262.1L318.9 1256.3L310.9 1258.2Z" fill="#00009f"/><path d="M252.5 1184.4L260.5 1190L254.3 1184.2L246.4 1171.5Z" fill="#20ffdf"/><path d="M187.9 1126.1L195.9 1139.3L189.8 1152.1L181.8 1138.9Z" fill="#ffbf00"/><path d="M266.7 1202.9L274.6 1208.5L268.5 1202.7L260.5 1190Z" fill="#00cfff"/><path d="M202.1 1126.4L210.1 1139.6L203.9 1152.4L195.9 1139.3Z" fill="#ffaf00"/><path d="M280.8 1221.4L288.8 1227L282.6 1221.2L274.6 1208.5Z" fill="#0070ff"/><path d="M216.2 1126.8L224.2 1139.9L218.1 1152.7L210.1 1139.6Z" fill="#ffaf00"/><path d="M294.9 1240L302.9 1245.5L296.8 1239.7L288.8 1227Z" fill="#0020ff"/><path d="M165.8 1112.7L173.8 1125.8L167.7 1138.6L159.7 1125.5Z" fill="#ff7000"/><path d="M309.1 1258.5L317.1 1264L310.9 1258.2L302.9 1245.5Z" fill="#0000bf"/><path d="M230.4 1152.8L238.4 1165.9L232.2 1153L224.2 1139.9Z" fill="#cfff30"/><path d="M244.5 1178.9L252.5 1184.4L246.4 1171.5L238.4 1165.9Z" fill="#50ffaf"/><path d="M180 1113L187.9 1126.1L181.8 1138.9L173.8 1125.8Z" fill="#ff7000"/><path d="M258.7 1197.4L266.7 1202.9L260.5 1190L252.5 1184.4Z" fill="#00efff"/><path d="M194.1 1113.3L202.1 1126.4L195.9 1139.3L187.9 1126.1Z" fill="#ff6000"/><path d="M272.8 1215.9L280.8 1221.4L274.6 1208.5L266.7 1202.9Z" fill="#009fff"/><path d="M286.9 1234.4L294.9 1240L288.8 1227L280.8 1221.4Z" fill="#0040ff"/><path d="M208.2 1113.6L216.2 1126.8L210.1 1139.6L202.1 1126.4Z" fill="#ff6000"/><path d="M301.1 1252.9L309.1 1258.5L302.9 1245.5L294.9 1240Z" fill="#0000ef"/><path d="M222.4 1139.7L230.4 1152.8L224.2 1139.9L216.2 1126.8Z" fill="#ffdf00"/><path d="M236.5 1165.8L244.5 1178.9L238.4 1165.9L230.4 1152.8Z" fill="#9fff60"/><path d="M172 1099.9L180 1113L173.8 1125.8L165.8 1112.7Z" fill="#ff2000"/><path d="M250.7 1191.8L258.7 1197.4L252.5 1184.4L244.5 1178.9Z" fill="#20ffdf"/><path d="M186.1 1100.2L194.1 1113.3L187.9 1126.1L180 1113Z" fill="#ff2000"/><path d="M264.8 1210.3L272.8 1215.9L266.7 1202.9L258.7 1197.4Z" fill="#00bfff"/><path d="M279 1228.8L286.9 1234.4L280.8 1221.4L272.8 1215.9Z" fill="#0070ff"/><path d="M200.2 1100.5L208.2 1113.6L202.1 1126.4L194.1 1113.3Z" fill="#ff1000"/><path d="M293.1 1247.3L301.1 1252.9L294.9 1240L286.9 1234.4Z" fill="#0010ff"/><path d="M214.4 1126.6L222.4 1139.7L216.2 1126.8L208.2 1113.6Z" fill="#ff8f00"/><path d="M228.5 1152.6L236.5 1165.8L230.4 1152.8L222.4 1139.7Z" fill="#efff10"/><path d="M242.7 1178.7L250.7 1191.8L244.5 1178.9L236.5 1165.8Z" fill="#70ff8f"/><path d="M256.8 1204.8L264.8 1210.3L258.7 1197.4L250.7 1191.8Z" fill="#00efff"/><path d="M178.1 1087.1L186.1 1100.2L180 1113L172 1099.9Z" fill="#cf0000"/><path d="M271 1223.3L279 1228.8L272.8 1215.9L264.8 1210.3Z" fill="#008fff"/><path d="M192.3 1087.4L200.2 1100.5L194.1 1113.3L186.1 1100.2Z" fill="#cf0000"/><path d="M285.1 1241.8L293.1 1247.3L286.9 1234.4L279 1228.8Z" fill="#0040ff"/><path d="M206.4 1113.5L214.4 1126.6L208.2 1113.6L200.2 1100.5Z" fill="#ff4000"/><path d="M220.5 1139.5L228.5 1152.6L222.4 1139.7L214.4 1126.6Z" fill="#ffbf00"/><path d="M234.7 1165.6L242.7 1178.7L236.5 1165.8L228.5 1152.6Z" fill="#bfff40"/><path d="M248.8 1191.6L256.8 1204.8L250.7 1191.8L242.7 1178.7Z" fill="#40ffbf"/><path d="M263 1217.7L271 1223.3L264.8 1210.3L256.8 1204.8Z" fill="#00bfff"/><path d="M184.3 1074.3L192.3 1087.4L186.1 1100.2L178.1 1087.1Z" fill="#800000"/><path d="M277.1 1236.2L285.1 1241.8L279 1228.8L271 1223.3Z" fill="#0060ff"/><path d="M198.4 1100.4L206.4 1113.5L200.2 1100.5L192.3 1087.4Z" fill="#ff0000"/><path d="M212.6 1126.4L220.5 1139.5L214.4 1126.6L206.4 1113.5Z" fill="#ff7000"/><path d="M226.7 1152.5L234.7 1165.6L228.5 1152.6L220.5 1139.5Z" fill="#ffef00"/><path d="M240.8 1178.5L248.8 1191.6L242.7 1178.7L234.7 1165.6Z" fill="#8fff70"/><path d="M255 1204.6L263 1217.7L256.8 1204.8L248.8 1191.6Z" fill="#10ffef"/><path d="M269.1 1230.6L277.1 1236.2L271 1223.3L263 1217.7Z" fill="#008fff"/><path d="M190.4 1082.6L198.4 1100.4L192.3 1087.4L184.3 1074.3Z" fill="#8f0000"/><path d="M204.6 1108.6L212.6 1126.4L206.4 1113.5L198.4 1100.4Z" fill="#ff1000"/><path d="M218.7 1134.7L226.7 1152.5L220.5 1139.5L212.6 1126.4Z" fill="#ff8f00"/><path d="M232.8 1160.7L240.8 1178.5L234.7 1165.6L226.7 1152.5Z" fill="#efff10"/><path d="M247 1186.8L255 1204.6L248.8 1191.6L240.8 1178.5Z" fill="#70ff8f"/><path d="M261.1 1212.8L269.1 1230.6L263 1217.7L255 1204.6Z" fill="#00efff"/><path d="M196.6 1090.8L204.6 1108.6L198.4 1100.4L190.4 1082.6Z" fill="#af0000"/><path d="M210.7 1116.9L218.7 1134.7L212.6 1126.4L204.6 1108.6Z" fill="#ff3000"/><path d="M224.9 1142.9L232.8 1160.7L226.7 1152.5L218.7 1134.7Z" fill="#ffaf00"/><path d="M239 1169L247 1186.8L240.8 1178.5L232.8 1160.7Z" fill="#dfff20"/><path d="M253.1 1195L261.1 1212.8L255 1204.6L247 1186.8Z" fill="#60ff9f"/><path d="M202.7 1099.1L210.7 1116.9L204.6 1108.6L196.6 1090.8Z" fill="#bf0000"/><path d="M216.9 1125.1L224.9 1142.9L218.7 1134.7L210.7 1116.9Z" fill="#ff4000"/><path d="M231 1151.2L239 1169L232.8 1160.7L224.9 1142.9Z" fill="#ffbf00"/><path d="M245.2 1177.2L253.1 1195L247 1186.8L239 1169Z" fill="#bfff40"/><path d="M208.9 1107.3L216.9 1125.1L210.7 1116.9L202.7 1099.1Z" fill="#df0000"/><path d="M223 1133.4L231 1151.2L224.9 1142.9L216.9 1125.1Z" fill="#ff6000"/><path d="M237.2 1159.4L245.2 1177.2L239 1169L231 1151.2Z" fill="#ffdf00"/><path d="M215 1115.6L223 1133.4L216.9 1125.1L208.9 1107.3Z" fill="#ef0000"/><path d="M229.2 1141.6L237.2 1159.4L231 1151.2L223 1133.4Z" fill="#ff7000"/><path d="M221.2 1123.8L229.2 1141.6L223 1133.4L215 1115.6Z" fill="#ff1000"/></g>
<path d="M45.2 1217.5L45.2 1013M45.2 1217.5L217.5 1310.8L441.2 1239.2M205.2 1304.1L199.5 1305.9M233.5 1305.6L238.8 1308.5M168.3 1284.1L162.6 1285.9M281.4 1290.3L286.7 1293.2M131.4 1264.1L125.7 1266M329.4 1275L334.7 1277.9M94.5 1244.1L88.7 1246M377.3 1259.7L382.6 1262.5M57.6 1224.2L51.8 1226M425.3 1244.4L430.5 1247.2M45.2 1185.9L40.4 1183.3M45.2 1148.7L40.4 1146.1M45.2 1111.6L40.4 1108.9M45.2 1074.4L40.4 1071.8M45.2 1037.2L40.4 1034.6" stroke="#303030" stroke-width="0.95" fill="none"/>
<linearGradient id="ge" x1="0" y1="0" x2="0" y2="1"><stop offset="0.0000" stop-color="#800000"/><stop offset="0.0156" stop-color="#800000"/><stop offset="0.0156" stop-color="#8f0000"/><stop offset="0.0312" stop-color="#8f0000"/><stop offset="0.0312" stop-color="#9f0000"/><stop offset="0.0469" stop-color="#9f0000"/><stop offset="0.0469" stop-color="#af0000"/><stop offset="0.0625" stop-color="#af0000"/><stop offset="0.0625" stop-color="#bf0000"/><stop offset="0.0781" stop-color="#bf0000"/><stop offset="0.0781" stop-color="#cf0000"/><stop offset="0.0938" stop-color="#cf0000"/><stop offset="0.0938" stop-color="#df0000"/><stop offset="0.1094" stop-color="#df0000"/><stop offset="0.1094" stop-color="#ef0000"/><stop offset="0.1250" stop-color="#ef0000"/><stop offset="0.1250" stop-color="#ff0000"/><stop offset="0.1406" stop-color="#ff0000"/><stop offset="0.1406" stop-color="#ff1000"/><stop offset="0.1562" stop-color="#ff1000"/><stop offset="0.1562" stop-color="#ff2000"/><stop offset="0.1719" stop-color="#ff2000"/><stop offset="0.1719" stop-color="#ff3000"/><stop offset="0.1875" stop-color="#ff3000"/><stop offset="0.1875" stop-color="#ff4000"/><stop offset="0.2031" stop-color="#ff4000"/><stop offset="0.2031" stop-color="#ff5000"/><stop offset="0.2188" stop-color="#ff5000"/><stop offset="0.2188" stop-color="#ff6000"/><stop offset="0.2344" stop-color="#ff6000"/><stop offset="0.2344" stop-color="#ff7000"/><stop offset="0.2500" stop-color="#ff7000"/><stop offset="0.2500" stop-color="#ff8000"/><stop offset="0.2656" stop-color="#ff8000"/><stop offset="0.2656" stop-color="#ff8f00"/><stop offset="0.2812" stop-color="#ff8f00"/><stop offset="0.2812" stop-color="#ff9f00"/><stop offset="0.2969" stop-color="#ff9f00"/><stop offset="0.2969" stop-color="#ffaf00"/><stop offset="0.3125" stop-color="#ffaf00"/><stop offset="0.3125" stop-color="#ffbf00"/><stop offset="0.3281" stop-color="#ffbf00"/><stop offset="0.3281" stop-color="#ffcf00"/><stop offset="0.3438" stop-color="#ffcf00"/><stop offset="0.3438" stop-color="#ffdf00"/><stop offset="0.3594" stop-color="#ffdf00"/><stop offset="0.3594" stop-color="#ffef00"/><stop offset="0.3750" stop-color="#ffef00"/><stop offset="0.3750" stop-color="#ffff00"/><stop offset="0.3906" stop-color="#ffff00"/><stop offset="0.3906" stop-color="#efff10"/><stop offset="0.4062" stop-color="#efff10"/><stop offset="0.4062" stop-color="#dfff20"/><stop offset="0.4219" stop-color="#dfff20"/><stop offset="0.4219" stop-color="#cfff30"/><stop offset="0.4375" stop-color="#cfff30"/><stop offset="0.4375" stop-color="#bfff40"/><stop offset="0.4531" stop-color="#bfff40"/><stop offset="0.4531" stop-color="#afff50"/><stop offset="0.4688" stop-color="#afff50"/><stop offset="0.4688" stop-color="#9fff60"/><stop offset="0.4844" stop-color="#9fff60"/><stop offset="0.4844" stop-color="#8fff70"/><stop offset="0.5000" stop-color="#8fff70"/><stop offset="0.5000" stop-color="#80ff80"/><stop offset="0.5156" stop-color="#80ff80"/><stop offset="0.5156" stop-color="#70ff8f"/><stop offset="0.5312" stop-color="#70ff8f"/><stop offset="0.5312" stop-color="#60ff9f"/><stop offset="0.5469" stop-color="#60ff9f"/><stop offset="0.5469" stop-color="#50ffaf"/><stop offset="0.5625" stop-color="#50ffaf"/><stop offset="0.5625" stop-color="#40ffbf"/><stop offset="0.5781" stop-color="#40ffbf"/><stop offset="0.5781" stop-color="#30ffcf"/><stop offset="0.5938" stop-color="#30ffcf"/><stop offset="0.5938" stop-color="#20ffdf"/><stop offset="0.6094" stop-color="#20ffdf"/><stop offset="0.6094" stop-color="#10ffef"/><stop offset="0.6250" stop-color="#10ffef"/><stop offset="0.6250" stop-color="#00ffff"/><stop offset="0.6406" stop-color="#00ffff"/><stop offset="0.6406" stop-color="#00efff"/><stop offset="0.6562" stop-color="#00efff"/><stop offset="0.6562" stop-color="#00dfff"/><stop offset="0.6719" stop-color="#00dfff"/><stop offset="0.6719" stop-color="#00cfff"/><stop offset="0.6875" stop-color="#00cfff"/><stop offset="0.6875" stop-color="#00bfff"/><stop offset="0.7031" stop-color="#00bfff"/><stop offset="0.7031" stop-color="#00afff"/><stop offset="0.7188" stop-color="#00afff"/><stop offset="0.7188" stop-color="#009fff"/><stop offset="0.7344" stop-color="#009fff"/><stop offset="0.7344" stop-color="#008fff"/><stop offset="0.7500" stop-color="#008fff"/><stop offset="0.7500" stop-color="#0080ff"/><stop offset="0.7656" stop-color="#0080ff"/><stop offset="0.7656" stop-color="#0070ff"/><stop offset="0.7812" stop-color="#0070ff"/><stop offset="0.7812" stop-color="#0060ff"/><stop offset="0.7969" stop-color="#0060ff"/><stop offset="0.7969" stop-color="#0050ff"/><stop offset="0.8125" stop-color="#0050ff"/><stop offset="0.8125" stop-color="#0040ff"/><stop offset="0.8281" stop-color="#0040ff"/><stop offset="0.8281" stop-color="#0030ff"/><stop offset="0.8438" stop-color="#0030ff"/><stop offset="0.8438" stop-color="#0020ff"/><stop offset="0.8594" stop-color="#0020ff"/><stop offset="0.8594" stop-color="#0010ff"/><stop offset="0.8750" stop-color="#0010ff"/><stop offset="0.8750" stop-color="#0000ff"/><stop offset="0.8906" stop-color="#0000ff"/><stop offset="0.8906" stop-color="#0000ef"/><stop offset="0.9062" stop-color="#0000ef"/><stop offset="0.9062" stop-color="#0000df"/><stop offset="0.9219" stop-color="#0000df"/><stop offset="0.9219" stop-color="#0000cf"/><stop offset="0.9375" stop-color="#0000cf"/><stop offset="0.9375" stop-color="#0000bf"/><stop offset="0.9531" stop-color="#0000bf"/><stop offset="0.9531" stop-color="#0000af"/><stop offset="0.9688" stop-color="#0000af"/><stop offset="0.9688" stop-color="#00009f"/><stop offset="0.9844" stop-color="#00009f"/><stop offset="0.9844" stop-color="#00008f"/><stop offset="1.0000" stop-color="#00008f"/></linearGradient>
<rect x="456.5" y="940.9" width="20.5" height="370.7" fill="url(#ge)"/>
<path d="M456.5 1254.8h3.5M477.0 1254.8h-3.5M456.5 1187.6h3.5M477.0 1187.6h-3.5M456.5 1120.4h3.5M477.0 1120.4h-3.5M456.5 1053.2h3.5M477.0 1053.2h-3.5M456.5 986.0h3.5M477.0 986.0h-3.5" stroke="#111" stroke-width="1" fill="none"/>
<rect x="456.5" y="940.9" width="20.5" height="370.7" fill="none" stroke="#222" stroke-width="0.9"/>
<g font-family="Liberation Sans" font-size="10.3" fill="#222"><text x="196.4" y="1316.3" text-anchor="end">−0.6</text><text x="240" y="1318.8">−0.6</text><text x="159.5" y="1296.3" text-anchor="end">−0.3</text><text x="287.9" y="1303.5">−0.3</text><text x="122.6" y="1276.3" text-anchor="end">0</text><text x="335.9" y="1288.2">0</text><text x="85.7" y="1256.3" text-anchor="end">0.3</text><text x="383.8" y="1272.9">0.3</text><text x="48.8" y="1236.4" text-anchor="end">0.6</text><text x="431.8" y="1257.6">0.6</text><text x="37.4" y="1187.1" text-anchor="end">0.1</text><text x="37.4" y="1149.9" text-anchor="end">0.15</text><text x="37.4" y="1112.8" text-anchor="end">0.2</text><text x="37.4" y="1075.6" text-anchor="end">0.25</text><text x="37.4" y="1038.4" text-anchor="end">0.3</text><text x="480.2" y="1258.5">0.1</text><text x="480.2" y="1191.3">0.15</text><text x="480.2" y="1124.1">0.2</text><text x="480.2" y="1056.9">0.25</text><text x="480.2" y="989.7">0.3</text></g>
<text x="119.5" y="1329.7" font-family="Liberation Serif" font-size="13.5" fill="#111">ρ</text>
<text x="321.5" y="1337" font-family="Liberation Serif" font-size="14" fill="#111">λ</text>
<clipPath id="re"><rect x="9.1" y="1085" width="6" height="60"/></clipPath>
<g clip-path="url(#re)"><text transform="translate(11.7 1115) rotate(-90)" text-anchor="middle" font-family="Liberation Sans" font-size="11" fill="#111">RMSE</text></g>
<text x="263" y="1382" text-anchor="middle" font-family="Liberation Serif" font-size="27" fill="#111">(<tspan font-weight="bold">e</tspan>)</text>
<path d="M748.5 1305.6L576.3 1212.4M720.2 1304.1L944 1232.6M576.3 1212.4L576.3 1006.7M944 1232.6L944 1026.9M796.4 1290.3L624.2 1197.1M683.3 1284.1L907.1 1212.6M624.2 1197.1L624.2 991.4M907.1 1212.6L907.1 1007M844.4 1275L672.2 1181.8M646.4 1264.1L870.2 1192.6M672.2 1181.8L672.2 976.1M870.2 1192.6L870.2 987M892.4 1259.7L720.2 1166.4M609.5 1244.1L833.3 1172.6M720.2 1166.4L720.2 960.8M833.3 1172.6L833.3 967M940.3 1244.4L768.1 1151.1M572.6 1224.2L796.4 1152.7M768.1 1151.1L768.1 945.5M796.4 1152.7L796.4 947M560.3 1186.3L784.1 1114.8M784.1 1114.8L956.3 1208M560.3 1149.1L784.1 1077.6M784.1 1077.6L956.3 1170.8M560.3 1111.9L784.1 1040.4M784.1 1040.4L956.3 1133.7M560.3 1074.7L784.1 1003.2M784.1 1003.2L956.3 1096.5M560.3 1037.6L784.1 966.1M784.1 966.1L956.3 1059.3" stroke="#9a9a9a" stroke-width="1" stroke-dasharray="1 3.2" fill="none"/>
<clipPath id="cf"><rect x="560.3" y="910.8" width="396" height="400"/></clipPath>
<g clip-path="url(#cf)">
<path d="M805.2 1282.9 806.2 1280.9 808.5 1276.5 809 1275.6 808.1 1271.4 803.3 1267.6 798.4 1263.9 794.4 1260.7 793.6 1260.1 788.7 1256.4 785.1 1255.7 778.2 1254.4 768.4 1252.3 761.5 1249.8 760.6 1249.5 752.8 1246.7 745 1243.9 737.2 1241.1 732 1240.7 723.5 1240.2 717.5 1239.8 709.8 1239.2 703 1238.8 696.1 1238.3 688.5 1237.8 678.7 1239.4 673.4 1240.3 668.9 1241 659.1 1242.6 649.4 1244.1 639.9 1245.7 639.6 1245.7 628.1 1246.4" stroke="#0020ff" stroke-width="1" fill="none"/>
<path d="M644.5 1207.1 644.5 1207.1 658.2 1208.1 659.1 1208.1 671.8 1209 673.7 1209.1 685.4 1209.9 688.2 1210.1 699.1 1210.9 702.8 1211.1 712.7 1211.8 717.3 1212.1 724.9 1209.4 732.5 1206.6 740.1 1203.8 747.7 1201.1 755.3 1198.3 755.4 1198.2 750.9 1194.3 746.5 1190.4 742 1186.6 737.6 1182.7 734.8 1180.3 745.5 1179.2 748.7 1179.1 757.6 1178.9 766.8 1178.6 769.7 1178.6 781.8 1178.2 784.9 1178.2 793.9 1177.9 803 1177.7 806 1177.6" stroke="#0020ff" stroke-width="1" fill="none"/>
<path d="M778 1291.6 774.9 1287.3 774.1 1284.1 775.3 1281.9 776.9 1278.8 778.6 1275.5 779.7 1273.4 778.9 1270.1 774.1 1266.3 769.2 1262.6 758.7 1260.7 754.7 1259.9 748.3 1258.7 737.8 1256.8 735.4 1256.3 727.3 1254.8 716.8 1252.9 716.1 1252.8 702.4 1252.2 702.3 1252.2 690.8 1252.8 682.3 1253.3 679.3 1253.5 667.8 1254.1 662.1 1254.5 656.3 1254.8 644.8 1255.4" stroke="#00dfff" stroke-width="1" fill="none"/>
<path d="M654.1 1204.1 665.8 1204.9 667.7 1205 680.4 1205.9 681.4 1206 694.9 1206.9 695 1206.9 708.6 1207.8 709.5 1207.9 716.8 1205.2 717.1 1205.1 724.7 1202.4 732.3 1199.6 734.9 1194.2 734.7 1194 730.4 1190.3 725.9 1186.4 721.5 1182.5" stroke="#00dfff" stroke-width="1" fill="none"/>
<path d="M763 1169.3 765.2 1169.2 777.3 1168.9 781.1 1168.8 789.4 1168.6" stroke="#00dfff" stroke-width="1" fill="none"/>
<path d="M763.4 1296.2 759.2 1292.3 755.1 1288.3 754.6 1287.4 753.6 1283.5 752.4 1279.3 752.3 1278.6 750.9 1273.7 750.3 1271.3 749.7 1268.8 743.7 1267.7 737.5 1267.4 729.9 1267.1 722.9 1266.8 716.1 1266.5 708.2 1266.2 702.3 1266 693.6 1265.6 688.5 1265.4 679 1265 674.7 1264.8 664.4 1264.3 661.5 1264.5" stroke="#8fff70" stroke-width="1" fill="none"/>
<path d="M663.6 1201 672.5 1201.6 677.3 1202 687.1 1202.6 690.9 1202.9 701.6 1203.6 709.2 1200.9 716.8 1198.1 718.8 1194 714.3 1190.1 713.5 1189.4 709.9 1186.3" stroke="#8fff70" stroke-width="1" fill="none"/>
<path d="M748.8 1300.9 744.6 1296.9 741.8 1294.2 740.5 1293 736.4 1289 733.5 1284.6 733 1282.6 732.2 1279.7 730.9 1274.8 717.5 1274.2 716.5 1274.1 703.6 1273.5 702.2 1273.4 689.6 1272.8 687.8 1272.7 675.6 1272.1" stroke="#ffaf00" stroke-width="1" fill="none"/>
<path d="M673.2 1198 679.2 1198.4 686.9 1198.9 693.8 1199.4 701.4 1196.6 702.7 1193.8 698.2 1190" stroke="#ffaf00" stroke-width="1" fill="none"/>
<path d="M730 1301.6 730 1301.6 725.9 1297.6 721.8 1293.7 717.6 1289.7 713.6 1285.8 713.5 1285.7 712.2 1280.8 703.6 1280.4 697.8 1280.1 689.6 1279.7" stroke="#ff0000" stroke-width="1" fill="none"/>
<path d="M682.8 1194.9 685.9 1195.1 686.6 1193.7" stroke="#ff0000" stroke-width="1" fill="none"/>
</g>
<g stroke="#000" stroke-width="0.75" stroke-linejoin="round"><path d="M778.6 1098.1L786.6 1086.4L780.4 1069.3L772.4 1081Z" fill="#00cfff"/><path d="M770.6 1109.9L778.6 1098.1L772.4 1081L764.4 1092.8Z" fill="#009fff"/><path d="M784.7 1115.2L792.7 1103.4L786.6 1086.4L778.6 1098.1Z" fill="#008fff"/><path d="M762.6 1121.6L770.6 1109.9L764.4 1092.8L756.4 1104.5Z" fill="#0070ff"/><path d="M776.7 1126.9L784.7 1115.2L778.6 1098.1L770.6 1109.9Z" fill="#0060ff"/><path d="M790.9 1132.3L798.9 1120.5L792.7 1103.4L784.7 1115.2Z" fill="#0040ff"/><path d="M754.6 1133.4L762.6 1121.6L756.4 1104.5L748.4 1116.3Z" fill="#0040ff"/><path d="M768.7 1138.7L776.7 1126.9L770.6 1109.9L762.6 1121.6Z" fill="#0030ff"/><path d="M782.9 1144L790.9 1132.3L784.7 1115.2L776.7 1126.9Z" fill="#0010ff"/><path d="M797 1149.3L805 1137.6L798.9 1120.5L790.9 1132.3Z" fill="#0000ff"/><path d="M746.6 1145.1L754.6 1133.4L748.4 1116.3L740.4 1128Z" fill="#0010ff"/><path d="M760.7 1150.4L768.7 1138.7L762.6 1121.6L754.6 1133.4Z" fill="#0000ff"/><path d="M774.9 1155.8L782.9 1144L776.7 1126.9L768.7 1138.7Z" fill="#0000ef"/><path d="M789 1161.1L797 1149.3L790.9 1132.3L782.9 1144Z" fill="#0000cf"/><path d="M738.6 1148.5L746.6 1145.1L740.4 1128L732.5 1139.8Z" fill="#0010ff"/><path d="M803.2 1166.4L811.2 1154.7L805 1137.6L797 1149.3Z" fill="#0000bf"/><path d="M752.7 1153.8L760.7 1150.4L754.6 1133.4L746.6 1145.1Z" fill="#0000ff"/><path d="M766.9 1159.2L774.9 1155.8L768.7 1138.7L760.7 1150.4Z" fill="#0000df"/><path d="M781 1164.5L789 1161.1L782.9 1144L774.9 1155.8Z" fill="#0000cf"/><path d="M730.6 1125.5L738.6 1148.5L732.5 1139.8L724.5 1116.8Z" fill="#008fff"/><path d="M795.2 1169.8L803.2 1166.4L797 1149.3L789 1161.1Z" fill="#0000bf"/><path d="M744.8 1157.2L752.7 1153.8L746.6 1145.1L738.6 1148.5Z" fill="#0000ff"/><path d="M809.3 1175.1L817.3 1171.7L811.2 1154.7L803.2 1166.4Z" fill="#00009f"/><path d="M758.9 1162.6L766.9 1159.2L760.7 1150.4L752.7 1153.8Z" fill="#0000df"/><path d="M773 1167.9L781 1164.5L774.9 1155.8L766.9 1159.2Z" fill="#0000cf"/><path d="M787.2 1173.2L795.2 1169.8L789 1161.1L781 1164.5Z" fill="#0000af"/><path d="M722.6 1102.5L730.6 1125.5L724.5 1116.8L716.5 1093.8Z" fill="#10ffef"/><path d="M736.8 1134.2L744.8 1157.2L738.6 1148.5L730.6 1125.5Z" fill="#0070ff"/><path d="M801.3 1178.5L809.3 1175.1L803.2 1166.4L795.2 1169.8Z" fill="#00009f"/><path d="M750.9 1166L758.9 1162.6L752.7 1153.8L744.8 1157.2Z" fill="#0000df"/><path d="M815.5 1179.5L823.5 1176.1L817.3 1171.7L809.3 1175.1Z" fill="#00009f"/><path d="M765 1171.3L773 1167.9L766.9 1159.2L758.9 1162.6Z" fill="#0000bf"/><path d="M779.2 1176.6L787.2 1173.2L781 1164.5L773 1167.9Z" fill="#0000af"/><path d="M714.6 1079.5L722.6 1102.5L716.5 1093.8L708.5 1070.8Z" fill="#8fff70"/><path d="M793.3 1182L801.3 1178.5L795.2 1169.8L787.2 1173.2Z" fill="#00009f"/><path d="M728.8 1111.3L736.8 1134.2L730.6 1125.5L722.6 1102.5Z" fill="#00efff"/><path d="M742.9 1143L750.9 1166L744.8 1157.2L736.8 1134.2Z" fill="#0060ff"/><path d="M807.5 1182.9L815.5 1179.5L809.3 1175.1L801.3 1178.5Z" fill="#00009f"/><path d="M757.1 1174.7L765 1171.3L758.9 1162.6L750.9 1166Z" fill="#0000bf"/><path d="M821.6 1183.9L829.6 1180.4L823.5 1176.1L815.5 1179.5Z" fill="#00008f"/><path d="M771.2 1180L779.2 1176.6L773 1167.9L765 1171.3Z" fill="#0000af"/><path d="M785.3 1185.4L793.3 1182L787.2 1173.2L779.2 1176.6Z" fill="#00008f"/><path d="M706.6 1056.5L714.6 1079.5L708.5 1070.8L700.5 1047.8Z" fill="#ffef00"/><path d="M720.8 1088.3L728.8 1111.3L722.6 1102.5L714.6 1079.5Z" fill="#70ff8f"/><path d="M799.5 1186.3L807.5 1182.9L801.3 1178.5L793.3 1182Z" fill="#00008f"/><path d="M734.9 1120L742.9 1143L736.8 1134.2L728.8 1111.3Z" fill="#00dfff"/><path d="M749.1 1151.7L757.1 1174.7L750.9 1166L742.9 1143Z" fill="#0040ff"/><path d="M813.6 1187.3L821.6 1183.9L815.5 1179.5L807.5 1182.9Z" fill="#00008f"/><path d="M763.2 1183.4L771.2 1180L765 1171.3L757.1 1174.7Z" fill="#00009f"/><path d="M827.8 1188.2L835.8 1184.8L829.6 1180.4L821.6 1183.9Z" fill="#00008f"/><path d="M777.3 1188.8L785.3 1185.4L779.2 1176.6L771.2 1180Z" fill="#00008f"/><path d="M698.6 1033.5L706.6 1056.5L700.5 1047.8L692.5 1024.8Z" fill="#ff7000"/><path d="M791.5 1189.7L799.5 1186.3L793.3 1182L785.3 1185.4Z" fill="#00008f"/><path d="M712.8 1065.3L720.8 1088.3L714.6 1079.5L706.6 1056.5Z" fill="#efff10"/><path d="M726.9 1097L734.9 1120L728.8 1111.3L720.8 1088.3Z" fill="#60ff9f"/><path d="M805.6 1190.7L813.6 1187.3L807.5 1182.9L799.5 1186.3Z" fill="#00008f"/><path d="M741.1 1128.7L749.1 1151.7L742.9 1143L734.9 1120Z" fill="#00bfff"/><path d="M755.2 1160.4L763.2 1183.4L757.1 1174.7L749.1 1151.7Z" fill="#0020ff"/><path d="M819.8 1191.6L827.8 1188.2L821.6 1183.9L813.6 1187.3Z" fill="#00008f"/><path d="M769.4 1192.2L777.3 1188.8L771.2 1180L763.2 1183.4Z" fill="#00008f"/><path d="M833.9 1192.6L841.9 1189.2L835.8 1184.8L827.8 1188.2Z" fill="#00008f"/><path d="M783.5 1193.1L791.5 1189.7L785.3 1185.4L777.3 1188.8Z" fill="#00008f"/><path d="M690.6 1034.2L698.6 1033.5L692.5 1024.8L684.5 1001.8Z" fill="#ff6000"/><path d="M704.8 1066L712.8 1065.3L706.6 1056.5L698.6 1033.5Z" fill="#ffff00"/><path d="M797.6 1194.1L805.6 1190.7L799.5 1186.3L791.5 1189.7Z" fill="#00008f"/><path d="M718.9 1097.7L726.9 1097L720.8 1088.3L712.8 1065.3Z" fill="#60ff9f"/><path d="M733.1 1129.4L741.1 1128.7L734.9 1120L726.9 1097Z" fill="#00cfff"/><path d="M811.8 1195L819.8 1191.6L813.6 1187.3L805.6 1190.7Z" fill="#00008f"/><path d="M747.2 1161.2L755.2 1160.4L749.1 1151.7L741.1 1128.7Z" fill="#0030ff"/><path d="M761.4 1192.9L769.4 1192.2L763.2 1183.4L755.2 1160.4Z" fill="#00008f"/><path d="M825.9 1196L833.9 1192.6L827.8 1188.2L819.8 1191.6Z" fill="#00008f"/><path d="M682.7 1067.9L690.6 1034.2L684.5 1001.8L676.5 1035.4Z" fill="#ffff00"/><path d="M775.5 1195.7L783.5 1193.1L777.3 1188.8L769.4 1192.2Z" fill="#00008f"/><path d="M840.1 1196.9L848.1 1193.5L841.9 1189.2L833.9 1192.6Z" fill="#00008f"/><path d="M696.8 1066.7L704.8 1066L698.6 1033.5L690.6 1034.2Z" fill="#ffff00"/><path d="M789.6 1196.6L797.6 1194.1L791.5 1189.7L783.5 1193.1Z" fill="#00008f"/><path d="M710.9 1098.4L718.9 1097.7L712.8 1065.3L704.8 1066Z" fill="#70ff8f"/><path d="M725.1 1130.1L733.1 1129.4L726.9 1097L718.9 1097.7Z" fill="#00cfff"/><path d="M803.8 1197.6L811.8 1195L805.6 1190.7L797.6 1194.1Z" fill="#00008f"/><path d="M739.2 1161.9L747.2 1161.2L741.1 1128.7L733.1 1129.4Z" fill="#0040ff"/><path d="M753.4 1193.6L761.4 1192.9L755.2 1160.4L747.2 1161.2Z" fill="#00009f"/><path d="M674.7 1101.5L682.7 1067.9L676.5 1035.4L668.5 1069Z" fill="#60ff9f"/><path d="M817.9 1198.5L825.9 1196L819.8 1191.6L811.8 1195Z" fill="#00008f"/><path d="M767.5 1196.4L775.5 1195.7L769.4 1192.2L761.4 1192.9Z" fill="#00008f"/><path d="M688.8 1100.3L696.8 1066.7L690.6 1034.2L682.7 1067.9Z" fill="#70ff8f"/><path d="M832.1 1199.5L840.1 1196.9L833.9 1192.6L825.9 1196Z" fill="#00008f"/><path d="M781.7 1199.2L789.6 1196.6L783.5 1193.1L775.5 1195.7Z" fill="#00008f"/><path d="M702.9 1099.1L710.9 1098.4L704.8 1066L696.8 1066.7Z" fill="#70ff8f"/><path d="M846.2 1200.4L854.2 1197.9L848.1 1193.5L840.1 1196.9Z" fill="#00008f"/><path d="M717.1 1130.8L725.1 1130.1L718.9 1097.7L710.9 1098.4Z" fill="#00dfff"/><path d="M795.8 1200.1L803.8 1197.6L797.6 1194.1L789.6 1196.6Z" fill="#00008f"/><path d="M731.2 1162.6L739.2 1161.9L733.1 1129.4L725.1 1130.1Z" fill="#0040ff"/><path d="M666.7 1135.1L674.7 1101.5L668.5 1069L660.5 1102.7Z" fill="#00cfff"/><path d="M745.4 1194.3L753.4 1193.6L747.2 1161.2L739.2 1161.9Z" fill="#0000af"/><path d="M809.9 1201.1L817.9 1198.5L811.8 1195L803.8 1197.6Z" fill="#00008f"/><path d="M680.8 1133.9L688.8 1100.3L682.7 1067.9L674.7 1101.5Z" fill="#00cfff"/><path d="M759.5 1197.1L767.5 1196.4L761.4 1192.9L753.4 1193.6Z" fill="#00009f"/><path d="M824.1 1202L832.1 1199.5L825.9 1196L817.9 1198.5Z" fill="#00008f"/><path d="M695 1132.7L702.9 1099.1L696.8 1066.7L688.8 1100.3Z" fill="#00dfff"/><path d="M773.7 1199.9L781.7 1199.2L775.5 1195.7L767.5 1196.4Z" fill="#00008f"/><path d="M838.2 1203L846.2 1200.4L840.1 1196.9L832.1 1199.5Z" fill="#00008f"/><path d="M658.7 1168.7L666.7 1135.1L660.5 1102.7L652.5 1136.3Z" fill="#0030ff"/><path d="M709.1 1131.5L717.1 1130.8L710.9 1098.4L702.9 1099.1Z" fill="#00dfff"/><path d="M787.8 1202.7L795.8 1200.1L789.6 1196.6L781.7 1199.2Z" fill="#00008f"/><path d="M723.2 1163.3L731.2 1162.6L725.1 1130.1L717.1 1130.8Z" fill="#0050ff"/><path d="M852.4 1203.7L860.4 1201.2L854.2 1197.9L846.2 1200.4Z" fill="#00008f"/><path d="M737.4 1195L745.4 1194.3L739.2 1161.9L731.2 1162.6Z" fill="#0000af"/><path d="M672.8 1167.5L680.8 1133.9L674.7 1101.5L666.7 1135.1Z" fill="#0030ff"/><path d="M801.9 1203.6L809.9 1201.1L803.8 1197.6L795.8 1200.1Z" fill="#00008f"/><path d="M751.5 1197.8L759.5 1197.1L753.4 1193.6L745.4 1194.3Z" fill="#00009f"/><path d="M687 1166.3L695 1132.7L688.8 1100.3L680.8 1133.9Z" fill="#0040ff"/><path d="M816.1 1204.6L824.1 1202L817.9 1198.5L809.9 1201.1Z" fill="#00008f"/><path d="M765.7 1200.6L773.7 1199.9L767.5 1196.4L759.5 1197.1Z" fill="#00009f"/><path d="M650.7 1202.3L658.7 1168.7L652.5 1136.3L644.5 1169.9Z" fill="#00008f"/><path d="M701.1 1165.2L709.1 1131.5L702.9 1099.1L695 1132.7Z" fill="#0050ff"/><path d="M830.2 1205.5L838.2 1203L832.1 1199.5L824.1 1202Z" fill="#00008f"/><path d="M779.8 1203.4L787.8 1202.7L781.7 1199.2L773.7 1199.9Z" fill="#00008f"/><path d="M664.8 1201.1L672.8 1167.5L666.7 1135.1L658.7 1168.7Z" fill="#00009f"/><path d="M715.2 1164L723.2 1163.3L717.1 1130.8L709.1 1131.5Z" fill="#0050ff"/><path d="M844.4 1206.3L852.4 1203.7L846.2 1200.4L838.2 1203Z" fill="#00008f"/><path d="M729.4 1195.7L737.4 1195L731.2 1162.6L723.2 1163.3Z" fill="#0000bf"/><path d="M794 1206.1L801.9 1203.6L795.8 1200.1L787.8 1202.7Z" fill="#00008f"/><path d="M679 1200L687 1166.3L680.8 1133.9L672.8 1167.5Z" fill="#00009f"/><path d="M743.5 1198.5L751.5 1197.8L745.4 1194.3L737.4 1195Z" fill="#0000af"/><path d="M858.5 1207.1L866.5 1204.5L860.4 1201.2L852.4 1203.7Z" fill="#00008f"/><path d="M808.1 1207.1L816.1 1204.6L809.9 1201.1L801.9 1203.6Z" fill="#00008f"/><path d="M642.7 1205.1L650.7 1202.3L644.5 1169.9L636.5 1203.5Z" fill="#00008f"/><path d="M693.1 1198.8L701.1 1165.2L695 1132.7L687 1166.3Z" fill="#0000af"/><path d="M757.7 1201.3L765.7 1200.6L759.5 1197.1L751.5 1197.8Z" fill="#00009f"/><path d="M822.2 1208L830.2 1205.5L824.1 1202L816.1 1204.6Z" fill="#00008f"/><path d="M656.8 1203.9L664.8 1201.1L658.7 1168.7L650.7 1202.3Z" fill="#00009f"/><path d="M707.3 1197.6L715.2 1164L709.1 1131.5L701.1 1165.2Z" fill="#0000bf"/><path d="M771.8 1204.1L779.8 1203.4L773.7 1199.9L765.7 1200.6Z" fill="#00009f"/><path d="M836.4 1208.8L844.4 1206.3L838.2 1203L830.2 1205.5Z" fill="#00008f"/><path d="M721.4 1196.4L729.4 1195.7L723.2 1163.3L715.2 1164Z" fill="#0000bf"/><path d="M671 1202.7L679 1200L672.8 1167.5L664.8 1201.1Z" fill="#00009f"/><path d="M786 1206.9L794 1206.1L787.8 1202.7L779.8 1203.4Z" fill="#00008f"/><path d="M735.5 1199.2L743.5 1198.5L737.4 1195L729.4 1195.7Z" fill="#0000bf"/><path d="M850.5 1209.6L858.5 1207.1L852.4 1203.7L844.4 1206.3Z" fill="#00008f"/><path d="M685.1 1201.5L693.1 1198.8L687 1166.3L679 1200Z" fill="#0000af"/><path d="M800.1 1209.6L808.1 1207.1L801.9 1203.6L794 1206.1Z" fill="#00008f"/><path d="M634.7 1207.4L642.7 1205.1L636.5 1203.5L628.5 1205.9Z" fill="#00008f"/><path d="M749.7 1202L757.7 1201.3L751.5 1197.8L743.5 1198.5Z" fill="#0000af"/><path d="M864.7 1210.4L872.7 1207.8L866.5 1204.5L858.5 1207.1Z" fill="#00008f"/><path d="M699.3 1200.3L707.3 1197.6L701.1 1165.2L693.1 1198.8Z" fill="#0000bf"/><path d="M814.2 1210.6L822.2 1208L816.1 1204.6L808.1 1207.1Z" fill="#00008f"/><path d="M648.8 1206.6L656.8 1203.9L650.7 1202.3L642.7 1205.1Z" fill="#00009f"/><path d="M763.8 1204.8L771.8 1204.1L765.7 1200.6L757.7 1201.3Z" fill="#00009f"/><path d="M713.4 1199.1L721.4 1196.4L715.2 1164L707.3 1197.6Z" fill="#0000bf"/><path d="M828.4 1211.4L836.4 1208.8L830.2 1205.5L822.2 1208Z" fill="#00008f"/><path d="M663 1205.4L671 1202.7L664.8 1201.1L656.8 1203.9Z" fill="#00009f"/><path d="M778 1207.6L786 1206.9L779.8 1203.4L771.8 1204.1Z" fill="#00009f"/><path d="M727.5 1200.4L735.5 1199.2L729.4 1195.7L721.4 1196.4Z" fill="#0000bf"/><path d="M842.5 1212.1L850.5 1209.6L844.4 1206.3L836.4 1208.8Z" fill="#00008f"/><path d="M677.1 1204.2L685.1 1201.5L679 1200L671 1202.7Z" fill="#0000af"/><path d="M792.1 1210.3L800.1 1209.6L794 1206.1L786 1206.9Z" fill="#00008f"/><path d="M626.7 1209.8L634.7 1207.4L628.5 1205.9L620.6 1208.2Z" fill="#00008f"/><path d="M741.7 1203.2L749.7 1202L743.5 1198.5L735.5 1199.2Z" fill="#0000af"/><path d="M856.7 1212.9L864.7 1210.4L858.5 1207.1L850.5 1209.6Z" fill="#00008f"/><path d="M691.3 1203.1L699.3 1200.3L693.1 1198.8L685.1 1201.5Z" fill="#0000bf"/><path d="M806.3 1213.1L814.2 1210.6L808.1 1207.1L800.1 1209.6Z" fill="#00008f"/><path d="M640.9 1209L648.8 1206.6L642.7 1205.1L634.7 1207.4Z" fill="#00009f"/><path d="M755.8 1206L763.8 1204.8L757.7 1201.3L749.7 1202Z" fill="#0000af"/><path d="M870.8 1213.7L878.8 1211.2L872.7 1207.8L864.7 1210.4Z" fill="#00008f"/><path d="M705.4 1201.9L713.4 1199.1L707.3 1197.6L699.3 1200.3Z" fill="#0000bf"/><path d="M820.4 1213.9L828.4 1211.4L822.2 1208L814.2 1210.6Z" fill="#00008f"/><path d="M655 1208.1L663 1205.4L656.8 1203.9L648.8 1206.6Z" fill="#00009f"/><path d="M770 1208.8L778 1207.6L771.8 1204.1L763.8 1204.8Z" fill="#00009f"/><path d="M719.6 1203.1L727.5 1200.4L721.4 1196.4L713.4 1199.1Z" fill="#0000bf"/><path d="M834.5 1214.7L842.5 1212.1L836.4 1208.8L828.4 1211.4Z" fill="#00008f"/><path d="M669.1 1207L677.1 1204.2L671 1202.7L663 1205.4Z" fill="#0000af"/><path d="M618.7 1212.1L626.7 1209.8L620.6 1208.2L612.6 1210.6Z" fill="#00008f"/><path d="M784.1 1211.5L792.1 1210.3L786 1206.9L778 1207.6Z" fill="#00009f"/><path d="M733.7 1204.4L741.7 1203.2L735.5 1199.2L727.5 1200.4Z" fill="#0000bf"/><path d="M848.7 1215.5L856.7 1212.9L850.5 1209.6L842.5 1212.1Z" fill="#00008f"/><path d="M683.3 1205.8L691.3 1203.1L685.1 1201.5L677.1 1204.2Z" fill="#0000af"/><path d="M798.3 1214.3L806.3 1213.1L800.1 1209.6L792.1 1210.3Z" fill="#00008f"/><path d="M632.9 1211.3L640.9 1209L634.7 1207.4L626.7 1209.8Z" fill="#00009f"/><path d="M747.8 1207.2L755.8 1206L749.7 1202L741.7 1203.2Z" fill="#0000af"/><path d="M862.8 1216.2L870.8 1213.7L864.7 1210.4L856.7 1212.9Z" fill="#00008f"/><path d="M697.4 1204.6L705.4 1201.9L699.3 1200.3L691.3 1203.1Z" fill="#0000bf"/><path d="M812.4 1216.5L820.4 1213.9L814.2 1210.6L806.3 1213.1Z" fill="#00008f"/><path d="M647 1210.5L655 1208.1L648.8 1206.6L640.9 1209Z" fill="#00009f"/><path d="M762 1210L770 1208.8L763.8 1204.8L755.8 1206Z" fill="#0000af"/><path d="M877 1217L885 1214.5L878.8 1211.2L870.8 1213.7Z" fill="#00008f"/><path d="M711.6 1205.9L719.6 1203.1L713.4 1199.1L705.4 1201.9Z" fill="#0000bf"/><path d="M826.5 1217.2L834.5 1214.7L828.4 1211.4L820.4 1213.9Z" fill="#00008f"/><path d="M661.1 1209.7L669.1 1207L663 1205.4L655 1208.1Z" fill="#0000af"/><path d="M610.7 1214.5L618.7 1212.1L612.6 1210.6L604.6 1212.9Z" fill="#00008f"/><path d="M776.1 1212.7L784.1 1211.5L778 1207.6L770 1208.8Z" fill="#00009f"/><path d="M725.7 1207.1L733.7 1204.4L727.5 1200.4L719.6 1203.1Z" fill="#0000bf"/><path d="M840.7 1218L848.7 1215.5L842.5 1212.1L834.5 1214.7Z" fill="#00008f"/><path d="M675.3 1208.5L683.3 1205.8L677.1 1204.2L669.1 1207Z" fill="#0000af"/><path d="M790.3 1215.5L798.3 1214.3L792.1 1210.3L784.1 1211.5Z" fill="#00008f"/><path d="M624.9 1213.7L632.9 1211.3L626.7 1209.8L618.7 1212.1Z" fill="#00009f"/><path d="M739.8 1208.4L747.8 1207.2L741.7 1203.2L733.7 1204.4Z" fill="#0000bf"/><path d="M854.8 1218.8L862.8 1216.2L856.7 1212.9L848.7 1215.5Z" fill="#00008f"/><path d="M689.4 1207.3L697.4 1204.6L691.3 1203.1L683.3 1205.8Z" fill="#0000bf"/><path d="M804.4 1217.7L812.4 1216.5L806.3 1213.1L798.3 1214.3Z" fill="#00008f"/><path d="M639 1212.9L647 1210.5L640.9 1209L632.9 1211.3Z" fill="#00009f"/><path d="M754 1211.2L762 1210L755.8 1206L747.8 1207.2Z" fill="#0000af"/><path d="M869 1219.6L877 1217L870.8 1213.7L862.8 1216.2Z" fill="#00008f"/><path d="M703.6 1208.6L711.6 1205.9L705.4 1201.9L697.4 1204.6Z" fill="#0000bf"/><path d="M818.6 1219.8L826.5 1217.2L820.4 1213.9L812.4 1216.5Z" fill="#00008f"/><path d="M653.1 1212L661.1 1209.7L655 1208.1L647 1210.5Z" fill="#0000af"/><path d="M602.7 1216.8L610.7 1214.5L604.6 1212.9L596.6 1215.3Z" fill="#00008f"/><path d="M768.1 1214L776.1 1212.7L770 1208.8L762 1210Z" fill="#00009f"/><path d="M883.1 1220.3L891.1 1217.8L885 1214.5L877 1217Z" fill="#00008f"/><path d="M717.7 1209.9L725.7 1207.1L719.6 1203.1L711.6 1205.9Z" fill="#0000bf"/><path d="M832.7 1220.6L840.7 1218L834.5 1214.7L826.5 1217.2Z" fill="#00008f"/><path d="M667.3 1211.2L675.3 1208.5L669.1 1207L661.1 1209.7Z" fill="#0000af"/><path d="M782.3 1216.7L790.3 1215.5L784.1 1211.5L776.1 1212.7Z" fill="#00009f"/><path d="M616.9 1216L624.9 1213.7L618.7 1212.1L610.7 1214.5Z" fill="#00009f"/><path d="M731.9 1211.1L739.8 1208.4L733.7 1204.4L725.7 1207.1Z" fill="#0000bf"/><path d="M846.8 1221.3L854.8 1218.8L848.7 1215.5L840.7 1218Z" fill="#00008f"/><path d="M681.4 1210.1L689.4 1207.3L683.3 1205.8L675.3 1208.5Z" fill="#0000bf"/><path d="M796.4 1218.9L804.4 1217.7L798.3 1214.3L790.3 1215.5Z" fill="#00008f"/><path d="M631 1215.2L639 1212.9L632.9 1211.3L624.9 1213.7Z" fill="#00009f"/><path d="M746 1212.4L754 1211.2L747.8 1207.2L739.8 1208.4Z" fill="#0000af"/><path d="M861 1222.1L869 1219.6L862.8 1216.2L854.8 1218.8Z" fill="#00008f"/><path d="M695.6 1211.3L703.6 1208.6L697.4 1204.6L689.4 1207.3Z" fill="#0000bf"/><path d="M810.6 1221L818.6 1219.8L812.4 1216.5L804.4 1217.7Z" fill="#00008f"/><path d="M645.2 1214.4L653.1 1212L647 1210.5L639 1212.9Z" fill="#0000af"/><path d="M594.7 1217L602.7 1216.8L596.6 1215.3L588.6 1217.6Z" fill="#00009f"/><path d="M760.1 1215.2L768.1 1214L762 1210L754 1211.2Z" fill="#0000af"/><path d="M875.1 1222.9L883.1 1220.3L877 1217L869 1219.6Z" fill="#00008f"/><path d="M709.7 1212.6L717.7 1209.9L711.6 1205.9L703.6 1208.6Z" fill="#0000bf"/><path d="M824.7 1223.1L832.7 1220.6L826.5 1217.2L818.6 1219.8Z" fill="#00008f"/><path d="M659.3 1213.6L667.3 1211.2L661.1 1209.7L653.1 1212Z" fill="#0000af"/><path d="M774.3 1217.9L782.3 1216.7L776.1 1212.7L768.1 1214Z" fill="#00009f"/><path d="M608.9 1216.2L616.9 1216L610.7 1214.5L602.7 1216.8Z" fill="#0000af"/><path d="M889.3 1223.7L897.3 1221.1L891.1 1217.8L883.1 1220.3Z" fill="#00008f"/><path d="M723.9 1213.8L731.9 1211.1L725.7 1207.1L717.7 1209.9Z" fill="#0000bf"/><path d="M838.8 1223.9L846.8 1221.3L840.7 1218L832.7 1220.6Z" fill="#00008f"/><path d="M673.4 1212.8L681.4 1210.1L675.3 1208.5L667.3 1211.2Z" fill="#0000bf"/><path d="M788.4 1220.1L796.4 1218.9L790.3 1215.5L782.3 1216.7Z" fill="#00009f"/><path d="M623 1215.4L631 1215.2L624.9 1213.7L616.9 1216Z" fill="#0000af"/><path d="M738 1215.1L746 1212.4L739.8 1208.4L731.9 1211.1Z" fill="#0000af"/><path d="M853 1224.7L861 1222.1L854.8 1218.8L846.8 1221.3Z" fill="#00008f"/><path d="M687.6 1214L695.6 1211.3L689.4 1207.3L681.4 1210.1Z" fill="#0000bf"/><path d="M802.6 1222.2L810.6 1221L804.4 1217.7L796.4 1218.9Z" fill="#00008f"/><path d="M637.2 1214.5L645.2 1214.4L639 1212.9L631 1215.2Z" fill="#0000bf"/><path d="M752.1 1216.4L760.1 1215.2L754 1211.2L746 1212.4Z" fill="#0000af"/><path d="M867.1 1225.4L875.1 1222.9L869 1219.6L861 1222.1Z" fill="#00008f"/><path d="M701.7 1215.3L709.7 1212.6L703.6 1208.6L695.6 1211.3Z" fill="#0000bf"/><path d="M816.7 1224.3L824.7 1223.1L818.6 1219.8L810.6 1221Z" fill="#00008f"/><path d="M651.3 1213.7L659.3 1213.6L653.1 1212L645.2 1214.4Z" fill="#0000bf"/><path d="M766.3 1219.1L774.3 1217.9L768.1 1214L760.1 1215.2Z" fill="#0000af"/><path d="M600.9 1216.3L608.9 1216.2L602.7 1216.8L594.7 1217Z" fill="#0000af"/><path d="M881.3 1226.2L889.3 1223.7L883.1 1220.3L875.1 1222.9Z" fill="#00008f"/><path d="M715.9 1216.6L723.9 1213.8L717.7 1209.9L709.7 1212.6Z" fill="#0000af"/><path d="M830.9 1226.4L838.8 1223.9L832.7 1220.6L824.7 1223.1Z" fill="#00008f"/><path d="M665.5 1212.9L673.4 1212.8L667.3 1211.2L659.3 1213.6Z" fill="#0000cf"/><path d="M780.4 1221.3L788.4 1220.1L782.3 1216.7L774.3 1217.9Z" fill="#00009f"/><path d="M615 1215.5L623 1215.4L616.9 1216L608.9 1216.2Z" fill="#0000bf"/><path d="M895.4 1227L903.4 1224.4L897.3 1221.1L889.3 1223.7Z" fill="#00008f"/><path d="M730 1217.8L738 1215.1L731.9 1211.1L723.9 1213.8Z" fill="#0000af"/><path d="M845 1227.2L853 1224.7L846.8 1221.3L838.8 1223.9Z" fill="#00008f"/><path d="M679.6 1207.8L687.6 1214L681.4 1210.1L673.4 1212.8Z" fill="#0000df"/><path d="M794.6 1223.4L802.6 1222.2L796.4 1218.9L788.4 1220.1Z" fill="#00009f"/><path d="M629.2 1214.7L637.2 1214.5L631 1215.2L623 1215.4Z" fill="#0000bf"/><path d="M744.2 1219.1L752.1 1216.4L746 1212.4L738 1215.1Z" fill="#0000af"/><path d="M859.1 1228L867.1 1225.4L861 1222.1L853 1224.7Z" fill="#00008f"/><path d="M693.7 1209.1L701.7 1215.3L695.6 1211.3L687.6 1214Z" fill="#0000df"/><path d="M808.7 1225.5L816.7 1224.3L810.6 1221L802.6 1222.2Z" fill="#00008f"/><path d="M643.3 1213.9L651.3 1213.7L645.2 1214.4L637.2 1214.5Z" fill="#0000cf"/><path d="M758.3 1220.3L766.3 1219.1L760.1 1215.2L752.1 1216.4Z" fill="#0000af"/><path d="M873.3 1228.8L881.3 1226.2L875.1 1222.9L867.1 1225.4Z" fill="#00008f"/><path d="M707.9 1210.3L715.9 1216.6L709.7 1212.6L701.7 1215.3Z" fill="#0000df"/><path d="M822.9 1227.7L830.9 1226.4L824.7 1223.1L816.7 1224.3Z" fill="#00008f"/><path d="M657.5 1213.1L665.5 1212.9L659.3 1213.6L651.3 1213.7Z" fill="#0000cf"/><path d="M772.4 1222.5L780.4 1221.3L774.3 1217.9L766.3 1219.1Z" fill="#0000af"/><path d="M607 1215.6L615 1215.5L608.9 1216.2L600.9 1216.3Z" fill="#0000cf"/><path d="M887.4 1229.5L895.4 1227L889.3 1223.7L881.3 1226.2Z" fill="#00008f"/><path d="M722 1211.6L730 1217.8L723.9 1213.8L715.9 1216.6Z" fill="#0000df"/><path d="M837 1229.8L845 1227.2L838.8 1223.9L830.9 1226.4Z" fill="#00008f"/><path d="M671.6 1208L679.6 1207.8L673.4 1212.8L665.5 1212.9Z" fill="#0000ef"/><path d="M786.6 1224.6L794.6 1223.4L788.4 1220.1L780.4 1221.3Z" fill="#00009f"/><path d="M621.2 1214.8L629.2 1214.7L623 1215.4L615 1215.5Z" fill="#0000cf"/><path d="M901.6 1230.3L909.6 1227.7L903.4 1224.4L895.4 1227Z" fill="#00008f"/><path d="M736.2 1212.9L744.2 1219.1L738 1215.1L730 1217.8Z" fill="#0000df"/><path d="M851.1 1230.6L859.1 1228L853 1224.7L845 1227.2Z" fill="#00008f"/><path d="M685.7 1202.9L693.7 1209.1L687.6 1214L679.6 1207.8Z" fill="#0010ff"/><path d="M800.7 1226.7L808.7 1225.5L802.6 1222.2L794.6 1223.4Z" fill="#00009f"/><path d="M635.3 1214L643.3 1213.9L637.2 1214.5L629.2 1214.7Z" fill="#0000df"/><path d="M750.3 1214.1L758.3 1220.3L752.1 1216.4L744.2 1219.1Z" fill="#0000df"/><path d="M865.3 1231.3L873.3 1228.8L867.1 1225.4L859.1 1228Z" fill="#00008f"/><path d="M699.9 1204.1L707.9 1210.3L701.7 1215.3L693.7 1209.1Z" fill="#0010ff"/><path d="M814.9 1228.9L822.9 1227.7L816.7 1224.3L808.7 1225.5Z" fill="#00008f"/><path d="M649.5 1213.2L657.5 1213.1L651.3 1213.7L643.3 1213.9Z" fill="#0000df"/><path d="M764.4 1221.9L772.4 1222.5L766.3 1219.1L758.3 1220.3Z" fill="#0000bf"/><path d="M879.4 1232.1L887.4 1229.5L881.3 1226.2L873.3 1228.8Z" fill="#00008f"/><path d="M714 1205.4L722 1211.6L715.9 1216.6L707.9 1210.3Z" fill="#0010ff"/><path d="M829 1231L837 1229.8L830.9 1226.4L822.9 1227.7Z" fill="#00008f"/><path d="M663.6 1208.1L671.6 1208L665.5 1212.9L657.5 1213.1Z" fill="#0000ff"/><path d="M778.6 1224L786.6 1224.6L780.4 1221.3L772.4 1222.5Z" fill="#0000af"/><path d="M613.2 1215L621.2 1214.8L615 1215.5L607 1215.6Z" fill="#0000df"/><path d="M893.6 1232.8L901.6 1230.3L895.4 1227L887.4 1229.5Z" fill="#00008f"/><path d="M728.2 1206.6L736.2 1212.9L730 1217.8L722 1211.6Z" fill="#0010ff"/><path d="M843.2 1233.1L851.1 1230.6L845 1227.2L837 1229.8Z" fill="#00008f"/><path d="M677.8 1203L685.7 1202.9L679.6 1207.8L671.6 1208Z" fill="#0020ff"/><path d="M792.7 1226.1L800.7 1226.7L794.6 1223.4L786.6 1224.6Z" fill="#0000af"/><path d="M627.3 1214.1L635.3 1214L629.2 1214.7L621.2 1214.8Z" fill="#0000df"/><path d="M907.7 1233.6L915.7 1231.1L909.6 1227.7L901.6 1230.3Z" fill="#00008f"/><path d="M742.3 1207.9L750.3 1214.1L744.2 1219.1L736.2 1212.9Z" fill="#0000ff"/><path d="M857.3 1233.9L865.3 1231.3L859.1 1228L851.1 1230.6Z" fill="#00008f"/><path d="M806.9 1228.2L814.9 1228.9L808.7 1225.5L800.7 1226.7Z" fill="#00009f"/><path d="M691.9 1197.9L699.9 1204.1L693.7 1209.1L685.7 1202.9Z" fill="#0040ff"/><path d="M641.5 1213.3L649.5 1213.2L643.3 1213.9L635.3 1214Z" fill="#0000ef"/><path d="M756.5 1215.6L764.4 1221.9L758.3 1220.3L750.3 1214.1Z" fill="#0000df"/><path d="M871.4 1234.6L879.4 1232.1L873.3 1228.8L865.3 1231.3Z" fill="#00008f"/><path d="M821 1230.4L829 1231L822.9 1227.7L814.9 1228.9Z" fill="#00009f"/><path d="M706 1199.2L714 1205.4L707.9 1210.3L699.9 1204.1Z" fill="#0030ff"/><path d="M655.6 1208.2L663.6 1208.1L657.5 1213.1L649.5 1213.2Z" fill="#0010ff"/><path d="M770.6 1223.4L778.6 1224L772.4 1222.5L764.4 1221.9Z" fill="#0000bf"/><path d="M885.6 1235.4L893.6 1232.8L887.4 1229.5L879.4 1232.1Z" fill="#00008f"/><path d="M835.2 1232.5L843.2 1233.1L837 1229.8L829 1231Z" fill="#00008f"/><path d="M720.2 1200.4L728.2 1206.6L722 1211.6L714 1205.4Z" fill="#0030ff"/><path d="M669.8 1203.1L677.8 1203L671.6 1208L663.6 1208.1Z" fill="#0030ff"/><path d="M784.7 1225.5L792.7 1226.1L786.6 1224.6L778.6 1224Z" fill="#0000bf"/><path d="M619.3 1214.3L627.3 1214.1L621.2 1214.8L613.2 1215Z" fill="#0000ef"/><path d="M899.7 1236.2L907.7 1233.6L901.6 1230.3L893.6 1232.8Z" fill="#00008f"/><path d="M849.3 1236.4L857.3 1233.9L851.1 1230.6L843.2 1233.1Z" fill="#00008f"/><path d="M734.3 1201.7L742.3 1207.9L736.2 1212.9L728.2 1206.6Z" fill="#0030ff"/><path d="M798.9 1227.6L806.9 1228.2L800.7 1226.7L792.7 1226.1Z" fill="#0000af"/><path d="M683.9 1198L691.9 1197.9L685.7 1202.9L677.8 1203Z" fill="#0040ff"/><path d="M913.9 1236.9L921.9 1234.4L915.7 1231.1L907.7 1233.6Z" fill="#00008f"/><path d="M633.5 1213.5L641.5 1213.3L635.3 1214L627.3 1214.1Z" fill="#0000ff"/><path d="M863.4 1237.2L871.4 1234.6L865.3 1231.3L857.3 1233.9Z" fill="#00008f"/><path d="M748.5 1209.4L756.5 1215.6L750.3 1214.1L742.3 1207.9Z" fill="#0010ff"/><path d="M813 1229.8L821 1230.4L814.9 1228.9L806.9 1228.2Z" fill="#0000af"/><path d="M698 1192.9L706 1199.2L699.9 1204.1L691.9 1197.9Z" fill="#0060ff"/><path d="M647.6 1208.4L655.6 1208.2L649.5 1213.2L641.5 1213.3Z" fill="#0010ff"/><path d="M762.6 1217.2L770.6 1223.4L764.4 1221.9L756.5 1215.6Z" fill="#0000ef"/><path d="M877.6 1238L885.6 1235.4L879.4 1232.1L871.4 1234.6Z" fill="#00008f"/><path d="M827.2 1231.9L835.2 1232.5L829 1231L821 1230.4Z" fill="#00009f"/><path d="M712.2 1194.2L720.2 1200.4L714 1205.4L706 1199.2Z" fill="#0060ff"/><path d="M661.8 1203.3L669.8 1203.1L663.6 1208.1L655.6 1208.2Z" fill="#0030ff"/><path d="M776.8 1224.9L784.7 1225.5L778.6 1224L770.6 1223.4Z" fill="#0000cf"/><path d="M891.7 1238.7L899.7 1236.2L893.6 1232.8L885.6 1235.4Z" fill="#00008f"/><path d="M841.3 1235.8L849.3 1236.4L843.2 1233.1L835.2 1232.5Z" fill="#00008f"/><path d="M726.3 1195.5L734.3 1201.7L728.2 1206.6L720.2 1200.4Z" fill="#0060ff"/><path d="M790.9 1227L798.9 1227.6L792.7 1226.1L784.7 1225.5Z" fill="#0000bf"/><path d="M675.9 1198.2L683.9 1198L677.8 1203L669.8 1203.1Z" fill="#0050ff"/><path d="M905.9 1239.5L913.9 1236.9L907.7 1233.6L899.7 1236.2Z" fill="#00008f"/><path d="M625.5 1213.6L633.5 1213.5L627.3 1214.1L619.3 1214.3Z" fill="#0000ff"/><path d="M855.5 1239.8L863.4 1237.2L857.3 1233.9L849.3 1236.4Z" fill="#00008f"/><path d="M740.5 1203.2L748.5 1209.4L742.3 1207.9L734.3 1201.7Z" fill="#0040ff"/><path d="M805 1229.2L813 1229.8L806.9 1228.2L798.9 1227.6Z" fill="#0000bf"/><path d="M920 1240.3L928 1237.7L921.9 1234.4L913.9 1236.9Z" fill="#00008f"/><path d="M690.1 1193.1L698 1192.9L691.9 1197.9L683.9 1198Z" fill="#0070ff"/><path d="M639.6 1208.5L647.6 1208.4L641.5 1213.3L633.5 1213.5Z" fill="#0020ff"/><path d="M869.6 1240.5L877.6 1238L871.4 1234.6L863.4 1237.2Z" fill="#00008f"/><path d="M754.6 1210.9L762.6 1217.2L756.5 1215.6L748.5 1209.4Z" fill="#0020ff"/><path d="M819.2 1231.3L827.2 1231.9L821 1230.4L813 1229.8Z" fill="#0000af"/><path d="M704.2 1188L712.2 1194.2L706 1199.2L698 1192.9Z" fill="#008fff"/><path d="M653.8 1203.4L661.8 1203.3L655.6 1208.2L647.6 1208.4Z" fill="#0040ff"/><path d="M768.8 1218.7L776.8 1224.9L770.6 1223.4L762.6 1217.2Z" fill="#0000ef"/><path d="M883.7 1241.3L891.7 1238.7L885.6 1235.4L877.6 1238Z" fill="#00008f"/><path d="M833.3 1235.2L841.3 1235.8L835.2 1232.5L827.2 1231.9Z" fill="#00009f"/><path d="M718.3 1189.2L726.3 1195.5L720.2 1200.4L712.2 1194.2Z" fill="#008fff"/><path d="M782.9 1226.4L790.9 1227L784.7 1225.5L776.8 1224.9Z" fill="#0000cf"/><path d="M667.9 1198.3L675.9 1198.2L669.8 1203.1L661.8 1203.3Z" fill="#0060ff"/><path d="M897.9 1242.1L905.9 1239.5L899.7 1236.2L891.7 1238.7Z" fill="#00008f"/><path d="M847.5 1239.2L855.5 1239.8L849.3 1236.4L841.3 1235.8Z" fill="#00008f"/><path d="M732.5 1197L740.5 1203.2L734.3 1201.7L726.3 1195.5Z" fill="#0060ff"/><path d="M797 1228.6L805 1229.2L798.9 1227.6L790.9 1227Z" fill="#0000cf"/><path d="M912 1242.8L920 1240.3L913.9 1236.9L905.9 1239.5Z" fill="#00008f"/><path d="M682.1 1193.2L690.1 1193.1L683.9 1198L675.9 1198.2Z" fill="#0080ff"/><path d="M631.6 1203.3L639.6 1208.5L633.5 1213.5L625.5 1213.6Z" fill="#0050ff"/><path d="M861.6 1243.1L869.6 1240.5L863.4 1237.2L855.5 1239.8Z" fill="#00008f"/><path d="M746.6 1204.7L754.6 1210.9L748.5 1209.4L740.5 1203.2Z" fill="#0040ff"/><path d="M811.2 1230.7L819.2 1231.3L813 1229.8L805 1229.2Z" fill="#0000bf"/><path d="M696.2 1188.1L704.2 1188L698 1192.9L690.1 1193.1Z" fill="#009fff"/><path d="M645.8 1198.2L653.8 1203.4L647.6 1208.4L639.6 1208.5Z" fill="#0060ff"/><path d="M875.7 1243.9L883.7 1241.3L877.6 1238L869.6 1240.5Z" fill="#00008f"/><path d="M760.8 1212.5L768.8 1218.7L762.6 1217.2L754.6 1210.9Z" fill="#0020ff"/><path d="M825.3 1234.6L833.3 1235.2L827.2 1231.9L819.2 1231.3Z" fill="#0000af"/><path d="M710.3 1183L718.3 1189.2L712.2 1194.2L704.2 1188Z" fill="#00afff"/><path d="M774.9 1220.2L782.9 1226.4L776.8 1224.9L768.8 1218.7Z" fill="#0000ff"/><path d="M889.9 1244.6L897.9 1242.1L891.7 1238.7L883.7 1241.3Z" fill="#00008f"/><path d="M659.9 1193.1L667.9 1198.3L661.8 1203.3L653.8 1203.4Z" fill="#0080ff"/><path d="M839.5 1238.6L847.5 1239.2L841.3 1235.8L833.3 1235.2Z" fill="#00009f"/><path d="M724.5 1190.8L732.5 1197L726.3 1195.5L718.3 1189.2Z" fill="#008fff"/><path d="M789 1228L797 1228.6L790.9 1227L782.9 1226.4Z" fill="#0000df"/><path d="M904 1245.4L912 1242.8L905.9 1239.5L897.9 1242.1Z" fill="#00008f"/><path d="M674.1 1188L682.1 1193.2L675.9 1198.2L667.9 1198.3Z" fill="#009fff"/><path d="M853.6 1242.5L861.6 1243.1L855.5 1239.8L847.5 1239.2Z" fill="#00008f"/><path d="M738.6 1198.5L746.6 1204.7L740.5 1203.2L732.5 1197Z" fill="#0070ff"/><path d="M803.2 1230.1L811.2 1230.7L805 1229.2L797 1228.6Z" fill="#0000cf"/><path d="M688.2 1182.9L696.2 1188.1L690.1 1193.1L682.1 1193.2Z" fill="#00bfff"/><path d="M867.8 1246.4L875.7 1243.9L869.6 1240.5L861.6 1243.1Z" fill="#00008f"/><path d="M637.8 1192.9L645.8 1198.2L639.6 1208.5L631.6 1203.3Z" fill="#008fff"/><path d="M752.8 1206.2L760.8 1212.5L754.6 1210.9L746.6 1204.7Z" fill="#0050ff"/><path d="M817.3 1234L825.3 1234.6L819.2 1231.3L811.2 1230.7Z" fill="#0000bf"/><path d="M702.4 1177.8L710.3 1183L704.2 1188L696.2 1188.1Z" fill="#00dfff"/><path d="M881.9 1247.2L889.9 1244.6L883.7 1241.3L875.7 1243.9Z" fill="#00008f"/><path d="M766.9 1214L774.9 1220.2L768.8 1218.7L760.8 1212.5Z" fill="#0030ff"/><path d="M651.9 1187.8L659.9 1193.1L653.8 1203.4L645.8 1198.2Z" fill="#00afff"/><path d="M831.5 1238L839.5 1238.6L833.3 1235.2L825.3 1234.6Z" fill="#0000af"/><path d="M716.5 1178.1L724.5 1190.8L718.3 1189.2L710.3 1183Z" fill="#00dfff"/><path d="M896 1248L904 1245.4L897.9 1242.1L889.9 1244.6Z" fill="#00008f"/><path d="M781.1 1221.7L789 1228L782.9 1226.4L774.9 1220.2Z" fill="#0010ff"/><path d="M666.1 1182.7L674.1 1188L667.9 1198.3L659.9 1193.1Z" fill="#00cfff"/><path d="M845.6 1241.9L853.6 1242.5L847.5 1239.2L839.5 1238.6Z" fill="#00009f"/><path d="M730.6 1185.8L738.6 1198.5L732.5 1197L724.5 1190.8Z" fill="#00bfff"/><path d="M795.2 1229.5L803.2 1230.1L797 1228.6L789 1228Z" fill="#0000df"/><path d="M680.2 1177.6L688.2 1182.9L682.1 1193.2L674.1 1188Z" fill="#00dfff"/><path d="M859.8 1245.8L867.8 1246.4L861.6 1243.1L853.6 1242.5Z" fill="#00008f"/><path d="M744.8 1193.6L752.8 1206.2L746.6 1204.7L738.6 1198.5Z" fill="#009fff"/><path d="M809.3 1233.4L817.3 1234L811.2 1230.7L803.2 1230.1Z" fill="#0000cf"/><path d="M873.9 1249.8L881.9 1247.2L875.7 1243.9L867.8 1246.4Z" fill="#00008f"/><path d="M694.4 1172.5L702.4 1177.8L696.2 1188.1L688.2 1182.9Z" fill="#00ffff"/><path d="M643.9 1182.6L651.9 1187.8L645.8 1198.2L637.8 1192.9Z" fill="#00cfff"/><path d="M758.9 1201.3L766.9 1214L760.8 1212.5L752.8 1206.2Z" fill="#0070ff"/><path d="M823.5 1237.3L831.5 1238L825.3 1234.6L817.3 1234Z" fill="#0000bf"/><path d="M888 1250.5L896 1248L889.9 1244.6L881.9 1247.2Z" fill="#00008f"/><path d="M708.5 1172.8L716.5 1178.1L710.3 1183L702.4 1177.8Z" fill="#00ffff"/><path d="M773.1 1209L781.1 1221.7L774.9 1220.2L766.9 1214Z" fill="#0050ff"/><path d="M658.1 1177.5L666.1 1182.7L659.9 1193.1L651.9 1187.8Z" fill="#00efff"/><path d="M837.6 1241.3L845.6 1241.9L839.5 1238.6L831.5 1238Z" fill="#0000af"/><path d="M787.2 1216.8L795.2 1229.5L789 1228L781.1 1221.7Z" fill="#0030ff"/><path d="M722.6 1173.1L730.6 1185.8L724.5 1190.8L716.5 1178.1Z" fill="#10ffef"/><path d="M851.8 1245.2L859.8 1245.8L853.6 1242.5L845.6 1241.9Z" fill="#00009f"/><path d="M672.2 1172.4L680.2 1177.6L674.1 1188L666.1 1182.7Z" fill="#10ffef"/><path d="M801.3 1235.3L809.3 1233.4L803.2 1230.1L795.2 1229.5Z" fill="#0000df"/><path d="M736.8 1180.9L744.8 1193.6L738.6 1198.5L730.6 1185.8Z" fill="#00dfff"/><path d="M865.9 1249.2L873.9 1249.8L867.8 1246.4L859.8 1245.8Z" fill="#00008f"/><path d="M686.4 1167.3L694.4 1172.5L688.2 1182.9L680.2 1177.6Z" fill="#30ffcf"/><path d="M750.9 1188.6L758.9 1201.3L752.8 1206.2L744.8 1193.6Z" fill="#00bfff"/><path d="M815.5 1239.2L823.5 1237.3L817.3 1234L809.3 1233.4Z" fill="#0000cf"/><path d="M880.1 1253.1L888 1250.5L881.9 1247.2L873.9 1249.8Z" fill="#00008f"/><path d="M700.5 1167.6L708.5 1172.8L702.4 1177.8L694.4 1172.5Z" fill="#30ffcf"/><path d="M765.1 1196.4L773.1 1209L766.9 1214L758.9 1201.3Z" fill="#009fff"/><path d="M650.1 1172.2L658.1 1177.5L651.9 1187.8L643.9 1182.6Z" fill="#10ffef"/><path d="M829.6 1243.2L837.6 1241.3L831.5 1238L823.5 1237.3Z" fill="#0000bf"/><path d="M714.7 1167.9L722.6 1173.1L716.5 1178.1L708.5 1172.8Z" fill="#30ffcf"/><path d="M779.2 1204.1L787.2 1216.8L781.1 1221.7L773.1 1209Z" fill="#0080ff"/><path d="M843.8 1247.1L851.8 1245.2L845.6 1241.9L837.6 1241.3Z" fill="#0000af"/><path d="M664.2 1167.1L672.2 1172.4L666.1 1182.7L658.1 1177.5Z" fill="#30ffcf"/><path d="M793.4 1222.6L801.3 1235.3L795.2 1229.5L787.2 1216.8Z" fill="#0020ff"/><path d="M728.8 1168.2L736.8 1180.9L730.6 1185.8L722.6 1173.1Z" fill="#30ffcf"/><path d="M857.9 1251L865.9 1249.2L859.8 1245.8L851.8 1245.2Z" fill="#00009f"/><path d="M678.4 1162L686.4 1167.3L680.2 1177.6L672.2 1172.4Z" fill="#50ffaf"/><path d="M807.5 1241.1L815.5 1239.2L809.3 1233.4L801.3 1235.3Z" fill="#0000cf"/><path d="M742.9 1175.9L750.9 1188.6L744.8 1193.6L736.8 1180.9Z" fill="#10ffef"/><path d="M872.1 1255L880.1 1253.1L873.9 1249.8L865.9 1249.2Z" fill="#00008f"/><path d="M692.5 1162.3L700.5 1167.6L694.4 1172.5L686.4 1167.3Z" fill="#50ffaf"/><path d="M821.6 1245.1L829.6 1243.2L823.5 1237.3L815.5 1239.2Z" fill="#0000bf"/><path d="M757.1 1183.7L765.1 1196.4L758.9 1201.3L750.9 1188.6Z" fill="#00efff"/><path d="M706.7 1162.6L714.7 1167.9L708.5 1172.8L700.5 1167.6Z" fill="#50ffaf"/><path d="M835.8 1249L843.8 1247.1L837.6 1241.3L829.6 1243.2Z" fill="#0000af"/><path d="M771.2 1191.4L779.2 1204.1L773.1 1209L765.1 1196.4Z" fill="#00cfff"/><path d="M656.2 1161.9L664.2 1167.1L658.1 1177.5L650.1 1172.2Z" fill="#60ff9f"/><path d="M785.4 1209.9L793.4 1222.6L787.2 1216.8L779.2 1204.1Z" fill="#0070ff"/><path d="M849.9 1252.9L857.9 1251L851.8 1245.2L843.8 1247.1Z" fill="#00009f"/><path d="M720.8 1162.9L728.8 1168.2L722.6 1173.1L714.7 1167.9Z" fill="#60ff9f"/><path d="M670.4 1156.8L678.4 1162L672.2 1172.4L664.2 1167.1Z" fill="#80ff80"/><path d="M799.5 1228.4L807.5 1241.1L801.3 1235.3L793.4 1222.6Z" fill="#0020ff"/><path d="M864.1 1256.9L872.1 1255L865.9 1249.2L857.9 1251Z" fill="#00008f"/><path d="M734.9 1163.2L742.9 1175.9L736.8 1180.9L728.8 1168.2Z" fill="#60ff9f"/><path d="M813.6 1246.9L821.6 1245.1L815.5 1239.2L807.5 1241.1Z" fill="#0000bf"/><path d="M684.5 1157.1L692.5 1162.3L686.4 1167.3L678.4 1162Z" fill="#80ff80"/><path d="M749.1 1171L757.1 1183.7L750.9 1188.6L742.9 1175.9Z" fill="#40ffbf"/><path d="M827.8 1250.9L835.8 1249L829.6 1243.2L821.6 1245.1Z" fill="#0000af"/><path d="M698.7 1157.4L706.7 1162.6L700.5 1167.6L692.5 1162.3Z" fill="#80ff80"/><path d="M763.2 1178.7L771.2 1191.4L765.1 1196.4L757.1 1183.7Z" fill="#10ffef"/><path d="M841.9 1254.8L849.9 1252.9L843.8 1247.1L835.8 1249Z" fill="#00009f"/><path d="M712.8 1157.7L720.8 1162.9L714.7 1167.9L706.7 1162.6Z" fill="#80ff80"/><path d="M777.4 1197.2L785.4 1209.9L779.2 1204.1L771.2 1191.4Z" fill="#00bfff"/><path d="M662.4 1151.5L670.4 1156.8L664.2 1167.1L656.2 1161.9Z" fill="#9fff60"/><path d="M791.5 1215.7L799.5 1228.4L793.4 1222.6L785.4 1209.9Z" fill="#0060ff"/><path d="M856.1 1258.7L864.1 1256.9L857.9 1251L849.9 1252.9Z" fill="#00008f"/><path d="M727 1158L734.9 1163.2L728.8 1168.2L720.8 1162.9Z" fill="#80ff80"/><path d="M676.5 1151.8L684.5 1157.1L678.4 1162L670.4 1156.8Z" fill="#9fff60"/><path d="M805.7 1234.2L813.6 1246.9L807.5 1241.1L799.5 1228.4Z" fill="#0010ff"/><path d="M741.1 1158.3L749.1 1171L742.9 1175.9L734.9 1163.2Z" fill="#80ff80"/><path d="M819.8 1252.8L827.8 1250.9L821.6 1245.1L813.6 1246.9Z" fill="#0000af"/><path d="M690.7 1152.1L698.7 1157.4L692.5 1162.3L684.5 1157.1Z" fill="#9fff60"/><path d="M755.2 1166L763.2 1178.7L757.1 1183.7L749.1 1171Z" fill="#60ff9f"/><path d="M833.9 1256.7L841.9 1254.8L835.8 1249L827.8 1250.9Z" fill="#00009f"/><path d="M704.8 1152.4L712.8 1157.7L706.7 1162.6L698.7 1157.4Z" fill="#9fff60"/><path d="M769.4 1184.5L777.4 1197.2L771.2 1191.4L763.2 1178.7Z" fill="#10ffef"/><path d="M848.1 1260.6L856.1 1258.7L849.9 1252.9L841.9 1254.8Z" fill="#00008f"/><path d="M783.5 1203L791.5 1215.7L785.4 1209.9L777.4 1197.2Z" fill="#00afff"/><path d="M719 1152.7L727 1158L720.8 1162.9L712.8 1157.7Z" fill="#afff50"/><path d="M668.5 1138.5L676.5 1151.8L670.4 1156.8L662.4 1151.5Z" fill="#efff10"/><path d="M797.7 1221.6L805.7 1234.2L799.5 1228.4L791.5 1215.7Z" fill="#0060ff"/><path d="M733.1 1153L741.1 1158.3L734.9 1163.2L727 1158Z" fill="#afff50"/><path d="M811.8 1240.1L819.8 1252.8L813.6 1246.9L805.7 1234.2Z" fill="#0000ff"/><path d="M682.7 1138.8L690.7 1152.1L684.5 1157.1L676.5 1151.8Z" fill="#efff10"/><path d="M747.2 1153.3L755.2 1166L749.1 1171L741.1 1158.3Z" fill="#afff50"/><path d="M825.9 1258.6L833.9 1256.7L827.8 1250.9L819.8 1252.8Z" fill="#0000af"/><path d="M696.8 1139.1L704.8 1152.4L698.7 1157.4L690.7 1152.1Z" fill="#efff10"/><path d="M761.4 1171.9L769.4 1184.5L763.2 1178.7L755.2 1166Z" fill="#50ffaf"/><path d="M840.1 1262.5L848.1 1260.6L841.9 1254.8L833.9 1256.7Z" fill="#00009f"/><path d="M775.5 1190.4L783.5 1203L777.4 1197.2L769.4 1184.5Z" fill="#00ffff"/><path d="M711 1139.4L719 1152.7L712.8 1157.7L704.8 1152.4Z" fill="#efff10"/><path d="M789.7 1208.9L797.7 1221.6L791.5 1215.7L783.5 1203Z" fill="#009fff"/><path d="M725.1 1139.7L733.1 1153L727 1158L719 1152.7Z" fill="#ffff00"/><path d="M803.8 1227.4L811.8 1240.1L805.7 1234.2L797.7 1221.6Z" fill="#0050ff"/><path d="M674.7 1125.5L682.7 1138.8L676.5 1151.8L668.5 1138.5Z" fill="#ffbf00"/><path d="M739.2 1140L747.2 1153.3L741.1 1158.3L733.1 1153Z" fill="#ffff00"/><path d="M818 1245.9L825.9 1258.6L819.8 1252.8L811.8 1240.1Z" fill="#0000ef"/><path d="M688.8 1125.8L696.8 1139.1L690.7 1152.1L682.7 1138.8Z" fill="#ffbf00"/><path d="M753.4 1166.3L761.4 1171.9L755.2 1166L747.2 1153.3Z" fill="#80ff80"/><path d="M832.1 1264.4L840.1 1262.5L833.9 1256.7L825.9 1258.6Z" fill="#00009f"/><path d="M767.5 1184.8L775.5 1190.4L769.4 1184.5L761.4 1171.9Z" fill="#20ffdf"/><path d="M703 1126.1L711 1139.4L704.8 1152.4L696.8 1139.1Z" fill="#ffbf00"/><path d="M781.7 1203.3L789.7 1208.9L783.5 1203L775.5 1190.4Z" fill="#00cfff"/><path d="M717.1 1126.4L725.1 1139.7L719 1152.7L711 1139.4Z" fill="#ffaf00"/><path d="M795.8 1221.8L803.8 1227.4L797.7 1221.6L789.7 1208.9Z" fill="#0070ff"/><path d="M731.3 1126.7L739.2 1140L733.1 1153L725.1 1139.7Z" fill="#ffaf00"/><path d="M810 1240.3L818 1245.9L811.8 1240.1L803.8 1227.4Z" fill="#0020ff"/><path d="M680.8 1112.5L688.8 1125.8L682.7 1138.8L674.7 1125.5Z" fill="#ff7000"/><path d="M824.1 1258.8L832.1 1264.4L825.9 1258.6L818 1245.9Z" fill="#0000bf"/><path d="M745.4 1153L753.4 1166.3L747.2 1153.3L739.2 1140Z" fill="#cfff30"/><path d="M759.5 1179.2L767.5 1184.8L761.4 1171.9L753.4 1166.3Z" fill="#50ffaf"/><path d="M695 1112.8L703 1126.1L696.8 1139.1L688.8 1125.8Z" fill="#ff7000"/><path d="M773.7 1197.7L781.7 1203.3L775.5 1190.4L767.5 1184.8Z" fill="#00efff"/><path d="M709.1 1113.1L717.1 1126.4L711 1139.4L703 1126.1Z" fill="#ff6000"/><path d="M787.8 1216.3L795.8 1221.8L789.7 1208.9L781.7 1203.3Z" fill="#009fff"/><path d="M802 1234.8L810 1240.3L803.8 1227.4L795.8 1221.8Z" fill="#0040ff"/><path d="M723.3 1113.4L731.3 1126.7L725.1 1139.7L717.1 1126.4Z" fill="#ff6000"/><path d="M816.1 1253.3L824.1 1258.8L818 1245.9L810 1240.3Z" fill="#0000ef"/><path d="M737.4 1139.6L745.4 1153L739.2 1140L731.3 1126.7Z" fill="#ffdf00"/><path d="M751.6 1165.9L759.5 1179.2L753.4 1166.3L745.4 1153Z" fill="#9fff60"/><path d="M687 1099.5L695 1112.8L688.8 1125.8L680.8 1112.5Z" fill="#ff2000"/><path d="M765.7 1192.2L773.7 1197.7L767.5 1184.8L759.5 1179.2Z" fill="#20ffdf"/><path d="M701.1 1099.8L709.1 1113.1L703 1126.1L695 1112.8Z" fill="#ff2000"/><path d="M779.8 1210.7L787.8 1216.3L781.7 1203.3L773.7 1197.7Z" fill="#00bfff"/><path d="M794 1229.2L802 1234.8L795.8 1221.8L787.8 1216.3Z" fill="#0070ff"/><path d="M715.3 1100.1L723.3 1113.4L717.1 1126.4L709.1 1113.1Z" fill="#ff1000"/><path d="M808.1 1247.7L816.1 1253.3L810 1240.3L802 1234.8Z" fill="#0010ff"/><path d="M729.4 1126.3L737.4 1139.6L731.3 1126.7L723.3 1113.4Z" fill="#ff8f00"/><path d="M743.6 1152.6L751.6 1165.9L745.4 1153L737.4 1139.6Z" fill="#efff10"/><path d="M757.7 1178.9L765.7 1192.2L759.5 1179.2L751.6 1165.9Z" fill="#70ff8f"/><path d="M771.8 1205.1L779.8 1210.7L773.7 1197.7L765.7 1192.2Z" fill="#00efff"/><path d="M693.1 1086.4L701.1 1099.8L695 1112.8L687 1099.5Z" fill="#cf0000"/><path d="M786 1223.6L794 1229.2L787.8 1216.3L779.8 1210.7Z" fill="#008fff"/><path d="M707.3 1086.7L715.3 1100.1L709.1 1113.1L701.1 1099.8Z" fill="#bf0000"/><path d="M800.1 1242.1L808.1 1247.7L802 1234.8L794 1229.2Z" fill="#0040ff"/><path d="M721.4 1113L729.4 1126.3L723.3 1113.4L715.3 1100.1Z" fill="#ff4000"/><path d="M735.6 1139.3L743.6 1152.6L737.4 1139.6L729.4 1126.3Z" fill="#ffbf00"/><path d="M749.7 1165.5L757.7 1178.9L751.6 1165.9L743.6 1152.6Z" fill="#bfff40"/><path d="M763.9 1191.8L771.8 1205.1L765.7 1192.2L757.7 1178.9Z" fill="#40ffbf"/><path d="M778 1218.1L786 1223.6L779.8 1210.7L771.8 1205.1Z" fill="#00bfff"/><path d="M699.3 1073.4L707.3 1086.7L701.1 1099.8L693.1 1086.4Z" fill="#800000"/><path d="M792.1 1236.6L800.1 1242.1L794 1229.2L786 1223.6Z" fill="#0060ff"/><path d="M713.4 1099.7L721.4 1113L715.3 1100.1L707.3 1086.7Z" fill="#ef0000"/><path d="M727.6 1126L735.6 1139.3L729.4 1126.3L721.4 1113Z" fill="#ff7000"/><path d="M741.7 1152.2L749.7 1165.5L743.6 1152.6L735.6 1139.3Z" fill="#ffef00"/><path d="M755.9 1178.5L763.9 1191.8L757.7 1178.9L749.7 1165.5Z" fill="#8fff70"/><path d="M770 1204.8L778 1218.1L771.8 1205.1L763.9 1191.8Z" fill="#10ffef"/><path d="M784.1 1231L792.1 1236.6L786 1223.6L778 1218.1Z" fill="#008fff"/><path d="M705.4 1081.9L713.4 1099.7L707.3 1086.7L699.3 1073.4Z" fill="#8f0000"/><path d="M719.6 1108.1L727.6 1126L721.4 1113L713.4 1099.7Z" fill="#ff1000"/><path d="M733.7 1134.4L741.7 1152.2L735.6 1139.3L727.6 1126Z" fill="#ff8f00"/><path d="M747.9 1160.7L755.9 1178.5L749.7 1165.5L741.7 1152.2Z" fill="#efff10"/><path d="M762 1186.9L770 1204.8L763.9 1191.8L755.9 1178.5Z" fill="#70ff8f"/><path d="M776.2 1213.2L784.1 1231L778 1218.1L770 1204.8Z" fill="#00efff"/><path d="M711.6 1090.3L719.6 1108.1L713.4 1099.7L705.4 1081.9Z" fill="#af0000"/><path d="M725.7 1116.6L733.7 1134.4L727.6 1126L719.6 1108.1Z" fill="#ff3000"/><path d="M739.9 1142.9L747.9 1160.7L741.7 1152.2L733.7 1134.4Z" fill="#ffaf00"/><path d="M754 1169.1L762 1186.9L755.9 1178.5L747.9 1160.7Z" fill="#cfff30"/><path d="M768.2 1195.4L776.2 1213.2L770 1204.8L762 1186.9Z" fill="#60ff9f"/><path d="M717.7 1098.8L725.7 1116.6L719.6 1108.1L711.6 1090.3Z" fill="#bf0000"/><path d="M731.9 1125.1L739.9 1142.9L733.7 1134.4L725.7 1116.6Z" fill="#ff4000"/><path d="M746 1151.3L754 1169.1L747.9 1160.7L739.9 1142.9Z" fill="#ffbf00"/><path d="M760.2 1177.6L768.2 1195.4L762 1186.9L754 1169.1Z" fill="#bfff40"/><path d="M723.9 1107.3L731.9 1125.1L725.7 1116.6L717.7 1098.8Z" fill="#df0000"/><path d="M738 1133.5L746 1151.3L739.9 1142.9L731.9 1125.1Z" fill="#ff6000"/><path d="M752.2 1159.8L760.2 1177.6L754 1169.1L746 1151.3Z" fill="#ffdf00"/><path d="M730 1115.7L738 1133.5L731.9 1125.1L723.9 1107.3Z" fill="#ff0000"/><path d="M744.2 1142L752.2 1159.8L746 1151.3L738 1133.5Z" fill="#ff7000"/><path d="M736.2 1124.2L744.2 1142L738 1133.5L730 1115.7Z" fill="#ff1000"/></g>
<path d="M560.3 1217.5L560.3 1011.8M560.3 1217.5L732.5 1310.8L956.3 1239.2M720.2 1304.1L714.5 1305.9M748.5 1305.6L753.8 1308.5M683.3 1284.1L677.6 1285.9M796.4 1290.3L801.7 1293.2M646.4 1264.1L640.7 1266M844.4 1275L849.7 1277.9M609.5 1244.1L603.8 1246M892.4 1259.7L897.6 1262.5M572.6 1224.2L566.9 1226M940.3 1244.4L945.6 1247.2M560.3 1186.3L555.5 1183.7M560.3 1149.1L555.5 1146.5M560.3 1111.9L555.5 1109.3M560.3 1074.7L555.5 1072.1M560.3 1037.6L555.5 1035" stroke="#303030" stroke-width="0.95" fill="none"/>
<linearGradient id="gf" x1="0" y1="0" x2="0" y2="1"><stop offset="0.0000" stop-color="#800000"/><stop offset="0.0156" stop-color="#800000"/><stop offset="0.0156" stop-color="#8f0000"/><stop offset="0.0312" stop-color="#8f0000"/><stop offset="0.0312" stop-color="#9f0000"/><stop offset="0.0469" stop-color="#9f0000"/><stop offset="0.0469" stop-color="#af0000"/><stop offset="0.0625" stop-color="#af0000"/><stop offset="0.0625" stop-color="#bf0000"/><stop offset="0.0781" stop-color="#bf0000"/><stop offset="0.0781" stop-color="#cf0000"/><stop offset="0.0938" stop-color="#cf0000"/><stop offset="0.0938" stop-color="#df0000"/><stop offset="0.1094" stop-color="#df0000"/><stop offset="0.1094" stop-color="#ef0000"/><stop offset="0.1250" stop-color="#ef0000"/><stop offset="0.1250" stop-color="#ff0000"/><stop offset="0.1406" stop-color="#ff0000"/><stop offset="0.1406" stop-color="#ff1000"/><stop offset="0.1562" stop-color="#ff1000"/><stop offset="0.1562" stop-color="#ff2000"/><stop offset="0.1719" stop-color="#ff2000"/><stop offset="0.1719" stop-color="#ff3000"/><stop offset="0.1875" stop-color="#ff3000"/><stop offset="0.1875" stop-color="#ff4000"/><stop offset="0.2031" stop-color="#ff4000"/><stop offset="0.2031" stop-color="#ff5000"/><stop offset="0.2188" stop-color="#ff5000"/><stop offset="0.2188" stop-color="#ff6000"/><stop offset="0.2344" stop-color="#ff6000"/><stop offset="0.2344" stop-color="#ff7000"/><stop offset="0.2500" stop-color="#ff7000"/><stop offset="0.2500" stop-color="#ff8000"/><stop offset="0.2656" stop-color="#ff8000"/><stop offset="0.2656" stop-color="#ff8f00"/><stop offset="0.2812" stop-color="#ff8f00"/><stop offset="0.2812" stop-color="#ff9f00"/><stop offset="0.2969" stop-color="#ff9f00"/><stop offset="0.2969" stop-color="#ffaf00"/><stop offset="0.3125" stop-color="#ffaf00"/><stop offset="0.3125" stop-color="#ffbf00"/><stop offset="0.3281" stop-color="#ffbf00"/><stop offset="0.3281" stop-color="#ffcf00"/><stop offset="0.3438" stop-color="#ffcf00"/><stop offset="0.3438" stop-color="#ffdf00"/><stop offset="0.3594" stop-color="#ffdf00"/><stop offset="0.3594" stop-color="#ffef00"/><stop offset="0.3750" stop-color="#ffef00"/><stop offset="0.3750" stop-color="#ffff00"/><stop offset="0.3906" stop-color="#ffff00"/><stop offset="0.3906" stop-color="#efff10"/><stop offset="0.4062" stop-color="#efff10"/><stop offset="0.4062" stop-color="#dfff20"/><stop offset="0.4219" stop-color="#dfff20"/><stop offset="0.4219" stop-color="#cfff30"/><stop offset="0.4375" stop-color="#cfff30"/><stop offset="0.4375" stop-color="#bfff40"/><stop offset="0.4531" stop-color="#bfff40"/><stop offset="0.4531" stop-color="#afff50"/><stop offset="0.4688" stop-color="#afff50"/><stop offset="0.4688" stop-color="#9fff60"/><stop offset="0.4844" stop-color="#9fff60"/><stop offset="0.4844" stop-color="#8fff70"/><stop offset="0.5000" stop-color="#8fff70"/><stop offset="0.5000" stop-color="#80ff80"/><stop offset="0.5156" stop-color="#80ff80"/><stop offset="0.5156" stop-color="#70ff8f"/><stop offset="0.5312" stop-color="#70ff8f"/><stop offset="0.5312" stop-color="#60ff9f"/><stop offset="0.5469" stop-color="#60ff9f"/><stop offset="0.5469" stop-color="#50ffaf"/><stop offset="0.5625" stop-color="#50ffaf"/><stop offset="0.5625" stop-color="#40ffbf"/><stop offset="0.5781" stop-color="#40ffbf"/><stop offset="0.5781" stop-color="#30ffcf"/><stop offset="0.5938" stop-color="#30ffcf"/><stop offset="0.5938" stop-color="#20ffdf"/><stop offset="0.6094" stop-color="#20ffdf"/><stop offset="0.6094" stop-color="#10ffef"/><stop offset="0.6250" stop-color="#10ffef"/><stop offset="0.6250" stop-color="#00ffff"/><stop offset="0.6406" stop-color="#00ffff"/><stop offset="0.6406" stop-color="#00efff"/><stop offset="0.6562" stop-color="#00efff"/><stop offset="0.6562" stop-color="#00dfff"/><stop offset="0.6719" stop-color="#00dfff"/><stop offset="0.6719" stop-color="#00cfff"/><stop offset="0.6875" stop-color="#00cfff"/><stop offset="0.6875" stop-color="#00bfff"/><stop offset="0.7031" stop-color="#00bfff"/><stop offset="0.7031" stop-color="#00afff"/><stop offset="0.7188" stop-color="#00afff"/><stop offset="0.7188" stop-color="#009fff"/><stop offset="0.7344" stop-color="#009fff"/><stop offset="0.7344" stop-color="#008fff"/><stop offset="0.7500" stop-color="#008fff"/><stop offset="0.7500" stop-color="#0080ff"/><stop offset="0.7656" stop-color="#0080ff"/><stop offset="0.7656" stop-color="#0070ff"/><stop offset="0.7812" stop-color="#0070ff"/><stop offset="0.7812" stop-color="#0060ff"/><stop offset="0.7969" stop-color="#0060ff"/><stop offset="0.7969" stop-color="#0050ff"/><stop offset="0.8125" stop-color="#0050ff"/><stop offset="0.8125" stop-color="#0040ff"/><stop offset="0.8281" stop-color="#0040ff"/><stop offset="0.8281" stop-color="#0030ff"/><stop offset="0.8438" stop-color="#0030ff"/><stop offset="0.8438" stop-color="#0020ff"/><stop offset="0.8594" stop-color="#0020ff"/><stop offset="0.8594" stop-color="#0010ff"/><stop offset="0.8750" stop-color="#0010ff"/><stop offset="0.8750" stop-color="#0000ff"/><stop offset="0.8906" stop-color="#0000ff"/><stop offset="0.8906" stop-color="#0000ef"/><stop offset="0.9062" stop-color="#0000ef"/><stop offset="0.9062" stop-color="#0000df"/><stop offset="0.9219" stop-color="#0000df"/><stop offset="0.9219" stop-color="#0000cf"/><stop offset="0.9375" stop-color="#0000cf"/><stop offset="0.9375" stop-color="#0000bf"/><stop offset="0.9531" stop-color="#0000bf"/><stop offset="0.9531" stop-color="#0000af"/><stop offset="0.9688" stop-color="#0000af"/><stop offset="0.9688" stop-color="#00009f"/><stop offset="0.9844" stop-color="#00009f"/><stop offset="0.9844" stop-color="#00008f"/><stop offset="1.0000" stop-color="#00008f"/></linearGradient>
<rect x="971.8" y="941.0" width="20.5" height="370.6" fill="url(#gf)"/>
<path d="M971.8 1255.3h3.5M992.3 1255.3h-3.5M971.8 1188.3h3.5M992.3 1188.3h-3.5M971.8 1121.3h3.5M992.3 1121.3h-3.5M971.8 1054.4h3.5M992.3 1054.4h-3.5M971.8 987.4h3.5M992.3 987.4h-3.5" stroke="#111" stroke-width="1" fill="none"/>
<rect x="971.8" y="941.0" width="20.5" height="370.6" fill="none" stroke="#222" stroke-width="0.9"/>
<g font-family="Liberation Sans" font-size="10.3" fill="#222"><text x="711.4" y="1316.3" text-anchor="end">−0.6</text><text x="755" y="1318.8">−0.6</text><text x="674.5" y="1296.3" text-anchor="end">−0.3</text><text x="802.9" y="1303.5">−0.3</text><text x="637.6" y="1276.3" text-anchor="end">0</text><text x="850.9" y="1288.2">0</text><text x="600.7" y="1256.3" text-anchor="end">0.3</text><text x="898.9" y="1272.9">0.3</text><text x="563.8" y="1236.4" text-anchor="end">0.6</text><text x="946.8" y="1257.6">0.6</text><text x="552.4" y="1187.5" text-anchor="end">0.1</text><text x="552.4" y="1150.3" text-anchor="end">0.15</text><text x="552.4" y="1113.1" text-anchor="end">0.2</text><text x="552.4" y="1075.9" text-anchor="end">0.25</text><text x="552.4" y="1038.8" text-anchor="end">0.3</text><text x="995.5" y="1259">0.1</text><text x="995.5" y="1192">0.15</text><text x="995.5" y="1125">0.2</text><text x="995.5" y="1058.1">0.25</text><text x="995.5" y="991.1">0.3</text></g>
<text x="634.5" y="1329.7" font-family="Liberation Serif" font-size="13.5" fill="#111">ρ</text>
<text x="836.5" y="1337" font-family="Liberation Serif" font-size="14" fill="#111">λ</text>
<clipPath id="rf"><rect x="524.1" y="1085" width="6" height="60"/></clipPath>
<g clip-path="url(#rf)"><text transform="translate(526.7 1115) rotate(-90)" text-anchor="middle" font-family="Liberation Sans" font-size="11" fill="#111">RMSE</text></g>
<text x="778.2" y="1382" text-anchor="middle" font-family="Liberation Serif" font-size="27" fill="#111">(<tspan font-weight="bold">f</tspan>)</text>
</svg></body></html>
